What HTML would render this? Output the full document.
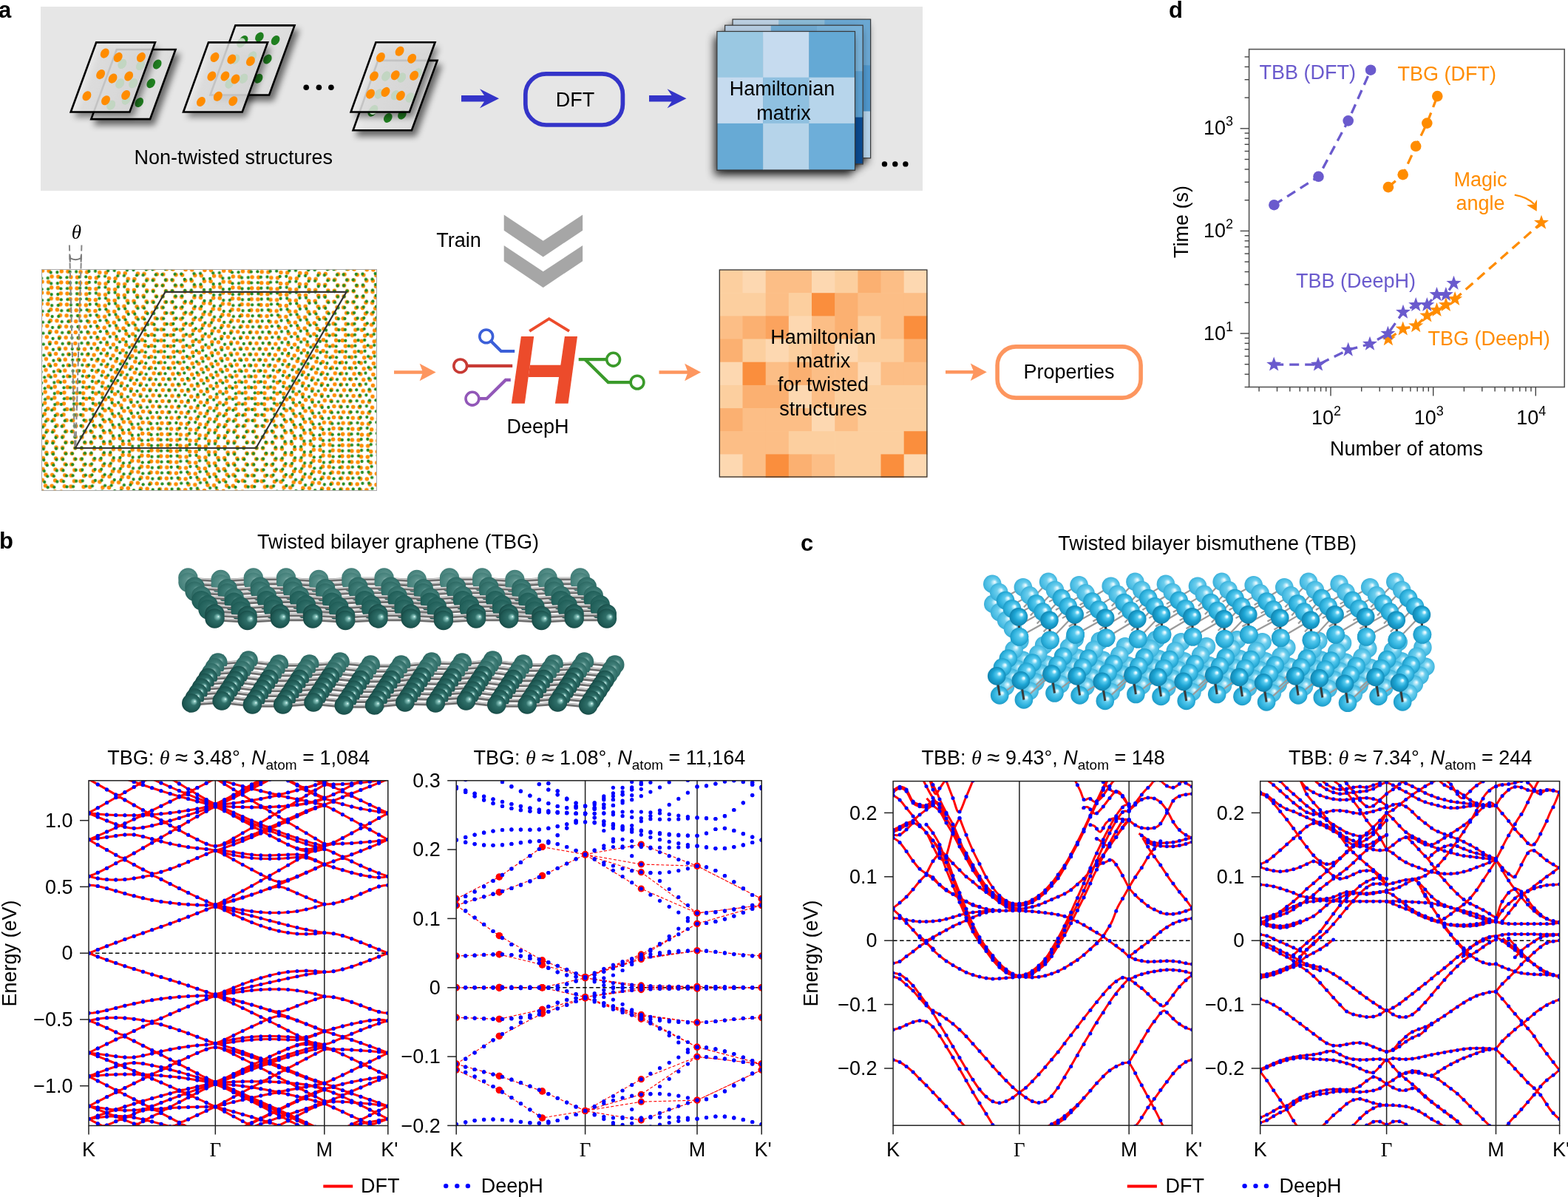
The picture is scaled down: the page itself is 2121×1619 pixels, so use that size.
<!DOCTYPE html>
<html><head><meta charset="utf-8"><title>DeepH figure</title>
<style>html,body{margin:0;padding:0;background:#fff;overflow:hidden;}svg{display:block;}
text{font-family:"Liberation Sans", Arial, Helvetica, sans-serif;}</style></head>
<body><svg width="2121" height="1619" viewBox="0 0 2121 1619">
<defs>
<linearGradient id="sheetg" x1="0" y1="0" x2="1" y2="0.25">
 <stop offset="0" stop-color="#fbfbfb"/><stop offset="0.35" stop-color="#e4e4e4"/><stop offset="1" stop-color="#dcdcdc"/>
</linearGradient>
<filter id="shad" x="-30%" y="-30%" width="170%" height="170%">
 <feGaussianBlur in="SourceAlpha" stdDeviation="4"/><feOffset dx="5" dy="7" result="b"/>
 <feComponentTransfer><feFuncA type="linear" slope="0.55"/></feComponentTransfer>
 <feMerge><feMergeNode/><feMergeNode in="SourceGraphic"/></feMerge>
</filter>
<filter id="shad2" x="-30%" y="-30%" width="170%" height="170%">
 <feGaussianBlur in="SourceAlpha" stdDeviation="6"/><feOffset dx="-4" dy="7" result="b"/>
 <feComponentTransfer><feFuncA type="linear" slope="0.75"/></feComponentTransfer>
</filter>

<radialGradient id="sphT" cx="0.5" cy="0.5" r="0.55" fx="0.7" fy="0.4">
 <stop offset="0" stop-color="#f2fffe"/><stop offset="0.1" stop-color="#8cc8c1"/><stop offset="0.35" stop-color="#2f6f69"/><stop offset="0.8" stop-color="#1d5752"/><stop offset="1" stop-color="#14403c"/>
</radialGradient>
<radialGradient id="sphTd" cx="0.5" cy="0.5" r="0.55" fx="0.66" fy="0.38">
 <stop offset="0" stop-color="#6fa8a2"/><stop offset="0.35" stop-color="#2f6d67"/><stop offset="0.85" stop-color="#21605a"/><stop offset="1" stop-color="#184b46"/>
</radialGradient>
<radialGradient id="sphTm" cx="0.5" cy="0.5" r="0.55" fx="0.66" fy="0.38">
 <stop offset="0" stop-color="#8bbab4"/><stop offset="0.35" stop-color="#417f79"/><stop offset="0.85" stop-color="#2f6c66"/><stop offset="1" stop-color="#255a55"/>
</radialGradient>
<radialGradient id="sphTb" cx="0.5" cy="0.5" r="0.55" fx="0.62" fy="0.38">
 <stop offset="0" stop-color="#a3cbc6"/><stop offset="0.35" stop-color="#5a918b"/><stop offset="0.85" stop-color="#44807a"/><stop offset="1" stop-color="#386f69"/>
</radialGradient>
<radialGradient id="sphC" cx="0.5" cy="0.5" r="0.55" fx="0.68" fy="0.36">
 <stop offset="0" stop-color="#ffffff"/><stop offset="0.1" stop-color="#d2f4ff"/><stop offset="0.24" stop-color="#58caee"/><stop offset="0.55" stop-color="#1ea6d5"/><stop offset="0.9" stop-color="#1186b2"/><stop offset="1" stop-color="#0c7197"/>
</radialGradient>
<radialGradient id="sphCm" cx="0.5" cy="0.5" r="0.55" fx="0.66" fy="0.37">
 <stop offset="0" stop-color="#ffffff"/><stop offset="0.12" stop-color="#c9f1fd"/><stop offset="0.3" stop-color="#5ccbef"/><stop offset="0.7" stop-color="#2cb0dc"/><stop offset="1" stop-color="#1a93bf"/>
</radialGradient>
<radialGradient id="sphCb" cx="0.5" cy="0.5" r="0.55" fx="0.64" fy="0.38">
 <stop offset="0" stop-color="#ffffff"/><stop offset="0.13" stop-color="#c6eefb"/><stop offset="0.35" stop-color="#6fcfee"/><stop offset="0.75" stop-color="#48bce3"/><stop offset="1" stop-color="#35a6d0"/>
</radialGradient>
<clipPath id="clp1"><rect x="120" y="1055.8" width="404.8" height="466.7"/></clipPath><clipPath id="clp2"><rect x="617.2" y="1055.8" width="413.0" height="466.6"/></clipPath><clipPath id="clp3"><rect x="1208.1" y="1056.6" width="404.4" height="465.6"/></clipPath><clipPath id="clp4"><rect x="1704.7" y="1056.6" width="404.9" height="465.6"/></clipPath><marker id="mdot" markerUnits="userSpaceOnUse" markerWidth="6" markerHeight="6" refX="3" refY="3" overflow="visible"><circle cx="3" cy="3" r="2.5" fill="#0000ff"/></marker><marker id="mdot2" markerUnits="userSpaceOnUse" markerWidth="6" markerHeight="6" refX="3" refY="3" overflow="visible"><circle cx="3" cy="3" r="2.6" fill="#0000ff"/></marker><marker id="rdot" markerUnits="userSpaceOnUse" markerWidth="10" markerHeight="10" refX="5" refY="5" overflow="visible"><circle cx="5" cy="5" r="4.6" fill="#ff0000"/></marker></defs>
<rect width="2121" height="1619" fill="#fff"/>
<rect x="55" y="9" width="1193" height="249" fill="#e6e6e6"/>
<polygon points="157.8,67 237.5,67 203,161.1 123.3,161.1" fill="url(#sheetg)" stroke="#000" stroke-width="2.6" filter="url(#shad)" stroke-linejoin="miter"/>
<ellipse cx="212.7" cy="87" rx="7" ry="5.2" transform="rotate(-55 212.7 87)" fill="#1f7f1f"/>
<ellipse cx="204.2" cy="112.7" rx="7" ry="5.2" transform="rotate(-55 204.2 112.7)" fill="#1f7f1f"/>
<ellipse cx="188.2" cy="138.6" rx="7" ry="5.2" transform="rotate(-55 188.2 138.6)" fill="#1f7f1f"/>
<ellipse cx="165.4" cy="86.5" rx="7" ry="5.2" transform="rotate(-55 165.4 86.5)" fill="#1f7f1f"/>
<ellipse cx="190" cy="88.6" rx="7" ry="5.2" transform="rotate(-55 190 88.6)" fill="#1f7f1f"/>
<ellipse cx="162.2" cy="113" rx="7" ry="5.2" transform="rotate(-55 162.2 113)" fill="#1f7f1f"/>
<ellipse cx="180.2" cy="112.7" rx="7" ry="5.2" transform="rotate(-55 180.2 112.7)" fill="#1f7f1f"/>
<ellipse cx="150.2" cy="142.2" rx="7" ry="5.2" transform="rotate(-55 150.2 142.2)" fill="#1f7f1f"/>
<ellipse cx="170.6" cy="135.1" rx="7" ry="5.2" transform="rotate(-55 170.6 135.1)" fill="#1f7f1f"/>
<polygon points="130.2,57.4 209.9,57.4 175.4,151.5 95.7,151.5" fill="url(#sheetg)" stroke="none" filter="url(#shad)" fill-opacity="0.82"/>
<ellipse cx="165.4" cy="86.5" rx="7" ry="5.2" transform="rotate(-55 165.4 86.5)" fill="#c2d6c2"/>
<ellipse cx="190" cy="88.6" rx="7" ry="5.2" transform="rotate(-55 190 88.6)" fill="#c2d6c2"/>
<ellipse cx="162.2" cy="113" rx="7" ry="5.2" transform="rotate(-55 162.2 113)" fill="#c2d6c2"/>
<ellipse cx="180.2" cy="112.7" rx="7" ry="5.2" transform="rotate(-55 180.2 112.7)" fill="#c2d6c2"/>
<ellipse cx="150.2" cy="142.2" rx="7" ry="5.2" transform="rotate(-55 150.2 142.2)" fill="#c2d6c2"/>
<ellipse cx="170.6" cy="135.1" rx="7" ry="5.2" transform="rotate(-55 170.6 135.1)" fill="#c2d6c2"/>
<ellipse cx="141.7" cy="72.1" rx="7" ry="5.4" transform="rotate(-55 141.7 72.1)" fill="#ff8c00"/>
<ellipse cx="159.7" cy="77.4" rx="7" ry="5.4" transform="rotate(-55 159.7 77.4)" fill="#ff8c00"/>
<ellipse cx="190.9" cy="77.4" rx="7" ry="5.4" transform="rotate(-55 190.9 77.4)" fill="#ff8c00"/>
<ellipse cx="136.1" cy="100.6" rx="7" ry="5.4" transform="rotate(-55 136.1 100.6)" fill="#ff8c00"/>
<ellipse cx="152.5" cy="106.1" rx="7" ry="5.4" transform="rotate(-55 152.5 106.1)" fill="#ff8c00"/>
<ellipse cx="174.1" cy="103" rx="7" ry="5.4" transform="rotate(-55 174.1 103)" fill="#ff8c00"/>
<ellipse cx="117.4" cy="129.8" rx="7" ry="5.4" transform="rotate(-55 117.4 129.8)" fill="#ff8c00"/>
<ellipse cx="143" cy="135.7" rx="7" ry="5.4" transform="rotate(-55 143 135.7)" fill="#ff8c00"/>
<ellipse cx="170.1" cy="128.5" rx="7" ry="5.4" transform="rotate(-55 170.1 128.5)" fill="#ff8c00"/>
<polygon points="130.2,57.4 209.9,57.4 175.4,151.5 95.7,151.5" fill="none" stroke="#000" stroke-width="2.6"/>
<polygon points="318.4,34.4 398.5,34.4 364.1,128.5 284.4,128.5" fill="url(#sheetg)" stroke="#000" stroke-width="2.6" filter="url(#shad)" stroke-linejoin="miter"/>
<ellipse cx="329.6" cy="54.5" rx="7" ry="5.2" transform="rotate(-55 329.6 54.5)" fill="#1f7f1f"/>
<ellipse cx="350.9" cy="50.1" rx="7" ry="5.2" transform="rotate(-55 350.9 50.1)" fill="#1f7f1f"/>
<ellipse cx="372.6" cy="54.5" rx="7" ry="5.2" transform="rotate(-55 372.6 54.5)" fill="#1f7f1f"/>
<ellipse cx="361.8" cy="80.1" rx="7" ry="5.2" transform="rotate(-55 361.8 80.1)" fill="#1f7f1f"/>
<ellipse cx="349.6" cy="106.2" rx="7" ry="5.2" transform="rotate(-55 349.6 106.2)" fill="#1f7f1f"/>
<ellipse cx="318.4" cy="80.1" rx="7" ry="5.2" transform="rotate(-55 318.4 80.1)" fill="#1f7f1f"/>
<ellipse cx="341.3" cy="76.1" rx="7" ry="5.2" transform="rotate(-55 341.3 76.1)" fill="#1f7f1f"/>
<ellipse cx="329.3" cy="106.2" rx="7" ry="5.2" transform="rotate(-55 329.3 106.2)" fill="#1f7f1f"/>
<ellipse cx="310.4" cy="113" rx="7" ry="5.2" transform="rotate(-55 310.4 113)" fill="#1f7f1f"/>
<polygon points="282,57.4 362.1,57.4 327.7,151.5 248,151.5" fill="url(#sheetg)" stroke="none" filter="url(#shad)" fill-opacity="0.82"/>
<ellipse cx="318.4" cy="80.1" rx="7" ry="5.2" transform="rotate(-55 318.4 80.1)" fill="#c2d6c2"/>
<ellipse cx="341.3" cy="76.1" rx="7" ry="5.2" transform="rotate(-55 341.3 76.1)" fill="#c2d6c2"/>
<ellipse cx="329.3" cy="106.2" rx="7" ry="5.2" transform="rotate(-55 329.3 106.2)" fill="#c2d6c2"/>
<ellipse cx="310.4" cy="113" rx="7" ry="5.2" transform="rotate(-55 310.4 113)" fill="#c2d6c2"/>
<ellipse cx="326" cy="58" rx="7" ry="5.2" transform="rotate(-55 326 58)" fill="#c2d6c2"/>
<ellipse cx="290.5" cy="77.4" rx="7" ry="5.4" transform="rotate(-55 290.5 77.4)" fill="#ff8c00"/>
<ellipse cx="313.3" cy="80.1" rx="7" ry="5.4" transform="rotate(-55 313.3 80.1)" fill="#ff8c00"/>
<ellipse cx="338.9" cy="82.8" rx="7" ry="5.4" transform="rotate(-55 338.9 82.8)" fill="#ff8c00"/>
<ellipse cx="286.3" cy="103" rx="7" ry="5.4" transform="rotate(-55 286.3 103)" fill="#ff8c00"/>
<ellipse cx="304.4" cy="103" rx="7" ry="5.4" transform="rotate(-55 304.4 103)" fill="#ff8c00"/>
<ellipse cx="318.4" cy="107" rx="7" ry="5.4" transform="rotate(-55 318.4 107)" fill="#ff8c00"/>
<ellipse cx="271.9" cy="137.5" rx="7" ry="5.4" transform="rotate(-55 271.9 137.5)" fill="#ff8c00"/>
<ellipse cx="294.8" cy="130.3" rx="7" ry="5.4" transform="rotate(-55 294.8 130.3)" fill="#ff8c00"/>
<ellipse cx="315.3" cy="136.7" rx="7" ry="5.4" transform="rotate(-55 315.3 136.7)" fill="#ff8c00"/>
<polygon points="282,57.4 362.1,57.4 327.7,151.5 248,151.5" fill="none" stroke="#000" stroke-width="2.6"/>
<polygon points="511.4,81.9 591.5,81.9 556.9,176.2 477.6,176.2" fill="url(#sheetg)" stroke="#000" stroke-width="2.6" filter="url(#shad)" stroke-linejoin="miter"/>
<ellipse cx="503.3" cy="151.2" rx="7" ry="5.2" transform="rotate(-55 503.3 151.2)" fill="#1f7f1f"/>
<ellipse cx="524.8" cy="159.4" rx="7" ry="5.2" transform="rotate(-55 524.8 159.4)" fill="#1f7f1f"/>
<ellipse cx="543.9" cy="155.1" rx="7" ry="5.2" transform="rotate(-55 543.9 155.1)" fill="#1f7f1f"/>
<ellipse cx="522.1" cy="103" rx="7" ry="5.2" transform="rotate(-55 522.1 103)" fill="#1f7f1f"/>
<ellipse cx="543.2" cy="105" rx="7" ry="5.2" transform="rotate(-55 543.2 105)" fill="#1f7f1f"/>
<ellipse cx="565" cy="99" rx="7" ry="5.2" transform="rotate(-55 565 99)" fill="#1f7f1f"/>
<ellipse cx="512.5" cy="127" rx="7" ry="5.2" transform="rotate(-55 512.5 127)" fill="#1f7f1f"/>
<ellipse cx="534.7" cy="128.7" rx="7" ry="5.2" transform="rotate(-55 534.7 128.7)" fill="#1f7f1f"/>
<ellipse cx="554.5" cy="132" rx="7" ry="5.2" transform="rotate(-55 554.5 132)" fill="#1f7f1f"/>
<polygon points="508.4,57.2 588.5,57.2 553.9,151.5 474.6,151.5" fill="url(#sheetg)" stroke="none" filter="url(#shad)" fill-opacity="0.82"/>
<ellipse cx="522.1" cy="103" rx="7" ry="5.2" transform="rotate(-55 522.1 103)" fill="#c2d6c2"/>
<ellipse cx="543.2" cy="105" rx="7" ry="5.2" transform="rotate(-55 543.2 105)" fill="#c2d6c2"/>
<ellipse cx="565" cy="99" rx="7" ry="5.2" transform="rotate(-55 565 99)" fill="#c2d6c2"/>
<ellipse cx="512.5" cy="127" rx="7" ry="5.2" transform="rotate(-55 512.5 127)" fill="#c2d6c2"/>
<ellipse cx="534.7" cy="128.7" rx="7" ry="5.2" transform="rotate(-55 534.7 128.7)" fill="#c2d6c2"/>
<ellipse cx="554.5" cy="132" rx="7" ry="5.2" transform="rotate(-55 554.5 132)" fill="#c2d6c2"/>
<ellipse cx="505.5" cy="148.5" rx="7" ry="5.2" transform="rotate(-55 505.5 148.5)" fill="#c2d6c2"/>
<ellipse cx="514.9" cy="77.6" rx="7" ry="5.4" transform="rotate(-55 514.9 77.6)" fill="#ff8c00"/>
<ellipse cx="540.6" cy="69.3" rx="7" ry="5.4" transform="rotate(-55 540.6 69.3)" fill="#ff8c00"/>
<ellipse cx="557.1" cy="79.2" rx="7" ry="5.4" transform="rotate(-55 557.1 79.2)" fill="#ff8c00"/>
<ellipse cx="505.9" cy="103" rx="7" ry="5.4" transform="rotate(-55 505.9 103)" fill="#ff8c00"/>
<ellipse cx="534.7" cy="101.7" rx="7" ry="5.4" transform="rotate(-55 534.7 101.7)" fill="#ff8c00"/>
<ellipse cx="560.1" cy="102.3" rx="7" ry="5.4" transform="rotate(-55 560.1 102.3)" fill="#ff8c00"/>
<ellipse cx="501" cy="127.1" rx="7" ry="5.4" transform="rotate(-55 501 127.1)" fill="#ff8c00"/>
<ellipse cx="521.5" cy="124.4" rx="7" ry="5.4" transform="rotate(-55 521.5 124.4)" fill="#ff8c00"/>
<ellipse cx="541.9" cy="129.4" rx="7" ry="5.4" transform="rotate(-55 541.9 129.4)" fill="#ff8c00"/>
<polygon points="508.4,57.2 588.5,57.2 553.9,151.5 474.6,151.5" fill="none" stroke="#000" stroke-width="2.6"/>
<circle cx="414.2" cy="118.2" r="3.8" fill="#000"/>
<circle cx="431.4" cy="118.2" r="3.8" fill="#000"/>
<circle cx="447.9" cy="118.2" r="3.8" fill="#000"/>
<text x="181.5" y="221.8" font-size="27">Non-twisted structures</text>
<polygon points="624,129 655,129 649,120.3 675,133.3 649,146.3 655,137.6 624,137.6" fill="#3434c8"/>
<polygon points="878,129 908.5,129 902.5,120.3 928.5,133.3 902.5,146.3 908.5,137.6 878,137.6" fill="#3434c8"/>
<rect x="710.8" y="99.8" width="131.6" height="69.2" rx="28" ry="28" fill="none" stroke="#3434c8" stroke-width="5.7"/>
<text x="778" y="143.8" font-size="27" text-anchor="middle">DFT</text>
<g filter="url(#shad2)">
<rect x="991" y="26.1" width="186.6" height="187.8" fill="#000"/>
</g>
<rect x="991" y="26.1" width="62.7" height="62.7" fill="#bcd0e2"/>
<rect x="1053.2" y="26.1" width="62.7" height="62.7" fill="#8bbad6"/>
<rect x="1115.4" y="26.1" width="62.7" height="62.7" fill="#6aa7d2"/>
<rect x="991" y="88.3" width="62.7" height="62.7" fill="#9ec6e0"/>
<rect x="1053.2" y="88.3" width="62.7" height="62.7" fill="#7ab3d9"/>
<rect x="1115.4" y="88.3" width="62.7" height="62.7" fill="#4f97cc"/>
<rect x="991" y="150.5" width="62.7" height="62.7" fill="#9ec6e0"/>
<rect x="1053.2" y="150.5" width="62.7" height="62.7" fill="#b6d3ea"/>
<rect x="1115.4" y="150.5" width="62.7" height="62.7" fill="#b6d3ea"/>
<rect x="991" y="26.1" width="186.6" height="187.8" fill="none" stroke="#3a3a3a" stroke-width="1.2"/>
<g filter="url(#shad2)">
<rect x="980.6" y="34.2" width="186.6" height="187.8" fill="#000"/>
</g>
<rect x="980.6" y="34.2" width="62.7" height="62.7" fill="#b5cbe0"/>
<rect x="1042.8" y="34.2" width="62.7" height="62.7" fill="#6ea8d0"/>
<rect x="1105" y="34.2" width="62.7" height="62.7" fill="#78b1d8"/>
<rect x="980.6" y="96.4" width="62.7" height="62.7" fill="#9ec6e0"/>
<rect x="1042.8" y="96.4" width="62.7" height="62.7" fill="#7ab3d9"/>
<rect x="1105" y="96.4" width="62.7" height="62.7" fill="#5a9fcf"/>
<rect x="980.6" y="158.6" width="62.7" height="62.7" fill="#9ec6e0"/>
<rect x="1042.8" y="158.6" width="62.7" height="62.7" fill="#b6d3ea"/>
<rect x="1105" y="158.6" width="62.7" height="62.7" fill="#0a4a90"/>
<rect x="980.6" y="34.2" width="186.6" height="187.8" fill="none" stroke="#3a3a3a" stroke-width="1.2"/>
<g filter="url(#shad2)">
<rect x="969.9" y="42.5" width="186.6" height="187.8" fill="#000"/>
</g>
<rect x="969.9" y="42.5" width="62.7" height="62.7" fill="#9ac8e2"/>
<rect x="1032.1" y="42.5" width="62.7" height="62.7" fill="#c6dbef"/>
<rect x="1094.3" y="42.5" width="62.7" height="62.7" fill="#64a9d5"/>
<rect x="969.9" y="104.7" width="62.7" height="62.7" fill="#c6dbef"/>
<rect x="1032.1" y="104.7" width="62.7" height="62.7" fill="#8fc0e0"/>
<rect x="1094.3" y="104.7" width="62.7" height="62.7" fill="#b7d5eb"/>
<rect x="969.9" y="166.9" width="62.7" height="62.7" fill="#67aad5"/>
<rect x="1032.1" y="166.9" width="62.7" height="62.7" fill="#b6d4ea"/>
<rect x="1094.3" y="166.9" width="62.7" height="62.7" fill="#6daed9"/>
<rect x="969.9" y="42.5" width="186.6" height="187.8" fill="none" stroke="#3a3a3a" stroke-width="1.2"/>
<text x="1058" y="129.4" font-size="27" text-anchor="middle">Hamiltonian</text>
<text x="1060" y="162.1" font-size="27" text-anchor="middle">matrix</text>
<circle cx="1196.5" cy="221.9" r="3.7" fill="#000"/>
<circle cx="1210.8" cy="221.9" r="3.7" fill="#000"/>
<circle cx="1224.9" cy="221.9" r="3.7" fill="#000"/>
<pattern id="pO" patternUnits="userSpaceOnUse" x="0" y="0" width="25.8000" height="14.8956" patternTransform="rotate(1.74 101.8 606.0) translate(93.200 606.000)"><circle cx="8.6" cy="0" r="2.75" fill="#ff8c00"/><circle cx="17.2" cy="0" r="2.75" fill="#ff8c00"/><circle cx="8.6" cy="14.9" r="2.75" fill="#ff8c00"/><circle cx="17.2" cy="14.9" r="2.75" fill="#ff8c00"/><circle cx="4.3" cy="7.4" r="2.75" fill="#ff8c00"/><circle cx="21.5" cy="7.4" r="2.75" fill="#ff8c00"/></pattern><pattern id="pG" patternUnits="userSpaceOnUse" x="0" y="0" width="25.8000" height="14.8956" patternTransform="rotate(-1.74 101.8 606.0) translate(93.200 606.000)"><circle cx="8.6" cy="0" r="2.15" fill="#218a21"/><circle cx="17.2" cy="0" r="2.15" fill="#218a21"/><circle cx="8.6" cy="14.9" r="2.15" fill="#218a21"/><circle cx="17.2" cy="14.9" r="2.15" fill="#218a21"/><circle cx="4.3" cy="7.4" r="2.15" fill="#218a21"/><circle cx="21.5" cy="7.4" r="2.15" fill="#218a21"/></pattern>
<rect x="56.5" y="364.5" width="453" height="299" fill="#fff" stroke="#aaa" stroke-width="1"/>
<rect x="57" y="365" width="452" height="298" fill="url(#pO)"/>
<rect x="57" y="365" width="452" height="298" fill="url(#pG)"/>
<rect x="56.5" y="364.5" width="453" height="299" fill="none" stroke="#aaa" stroke-width="1"/>
<polygon points="223.5,394.9 468.6,394.9 346.3,606 101.8,606" fill="none" stroke="#333" stroke-width="2.2"/>
<line x1="93.9" y1="331.5" x2="101.3" y2="606" stroke="#888" stroke-width="2" stroke-dasharray="8,4"/>
<line x1="110.4" y1="331.5" x2="102.3" y2="606" stroke="#888" stroke-width="2" stroke-dasharray="8,4"/>
<path d="M94.8,345.5 v9 M109.6,345.5 v9 M94.8,349 Q102.2,353.5 109.6,349" fill="none" stroke="#777" stroke-width="2"/>
<text x="103.5" y="322.5" font-size="27" text-anchor="middle" font-style="italic" style='font-family:"Liberation Serif", "Times New Roman", serif'>θ</text>
<polygon points="681.7,290.5 734.7,325.8 788.1,290.5 788.1,311.7 734.7,347.4 681.7,311.7" fill="#a6a6a6"/>
<polygon points="681.7,332 734.7,367.3 788.1,332 788.1,353.2 734.7,388.9 681.7,353.2" fill="#a6a6a6"/>
<text x="590.3" y="334.4" font-size="27">Train</text>
<polygon points="704.9,454.9 722.2,454.9 709.8,545.7 691.9,545.7" fill="#ec4b2b"/>
<polygon points="763.9,454.9 781,454.9 768.6,545.7 750.9,545.7" fill="#ec4b2b"/>
<polygon points="716.8,493.8 772.6,493.8 770.4,510 714.6,510" fill="#ec4b2b"/>
<polyline points="716.2,447.8 742.7,431.2 770,447.8" fill="none" stroke="#ec4b2b" stroke-width="3.8" stroke-linejoin="miter"/>
<circle cx="657.7" cy="454.9" r="8.9" fill="none" stroke="#3b5fd8" stroke-width="3.6"/>
<polyline points="664,461.2 677.8,475 696.2,475" fill="none" stroke="#3b5fd8" stroke-width="4.2"/>
<circle cx="622.7" cy="494.9" r="8.9" fill="none" stroke="#c83a34" stroke-width="3.6"/>
<polyline points="631.6,494.9 693.2,494.9" fill="none" stroke="#c83a34" stroke-width="4.4"/>
<circle cx="638.9" cy="539.2" r="8.9" fill="none" stroke="#9257b8" stroke-width="3.6"/>
<polyline points="647.8,539.2 658.4,539.2 684,513.9 690.8,513.9" fill="none" stroke="#9257b8" stroke-width="4.2"/>
<circle cx="829.6" cy="486.2" r="8.9" fill="none" stroke="#3a9a2a" stroke-width="3.6"/>
<circle cx="862" cy="517.1" r="8.9" fill="none" stroke="#3a9a2a" stroke-width="3.6"/>
<polyline points="782.7,486.2 820.7,486.2" fill="none" stroke="#3a9a2a" stroke-width="4.2"/>
<polyline points="791.4,486.2 822.7,517.1 853.1,517.1" fill="none" stroke="#3a9a2a" stroke-width="4.2"/>
<text x="727.5" y="586.1" font-size="27" text-anchor="middle">DeepH</text>
<rect x="973.3" y="365" width="31.8" height="31.8" fill="#fccf9f"/>
<rect x="1004.5" y="365" width="31.8" height="31.8" fill="#fdd8b1"/>
<rect x="1035.7" y="365" width="31.8" height="31.8" fill="#fcbe86"/>
<rect x="1066.8" y="365" width="31.8" height="31.8" fill="#fcbe86"/>
<rect x="1098" y="365" width="31.8" height="31.8" fill="#fdd8b1"/>
<rect x="1129.2" y="365" width="31.8" height="31.8" fill="#fccf9f"/>
<rect x="1160.4" y="365" width="31.8" height="31.8" fill="#fbb071"/>
<rect x="1191.5" y="365" width="31.8" height="31.8" fill="#fcbe86"/>
<rect x="1222.7" y="365" width="31.8" height="31.8" fill="#fdd8b1"/>
<rect x="973.3" y="396.2" width="31.8" height="31.8" fill="#fccf9f"/>
<rect x="1004.5" y="396.2" width="31.8" height="31.8" fill="#fccf9f"/>
<rect x="1035.7" y="396.2" width="31.8" height="31.8" fill="#fcbe86"/>
<rect x="1066.8" y="396.2" width="31.8" height="31.8" fill="#fccf9f"/>
<rect x="1098" y="396.2" width="31.8" height="31.8" fill="#fa8e3d"/>
<rect x="1129.2" y="396.2" width="31.8" height="31.8" fill="#fbb071"/>
<rect x="1160.4" y="396.2" width="31.8" height="31.8" fill="#fcbe86"/>
<rect x="1191.5" y="396.2" width="31.8" height="31.8" fill="#fcbe86"/>
<rect x="1222.7" y="396.2" width="31.8" height="31.8" fill="#fcbe86"/>
<rect x="973.3" y="427.4" width="31.8" height="31.8" fill="#fcbe86"/>
<rect x="1004.5" y="427.4" width="31.8" height="31.8" fill="#fbb071"/>
<rect x="1035.7" y="427.4" width="31.8" height="31.8" fill="#fba35e"/>
<rect x="1066.8" y="427.4" width="31.8" height="31.8" fill="#fdd8b1"/>
<rect x="1098" y="427.4" width="31.8" height="31.8" fill="#fcbe86"/>
<rect x="1129.2" y="427.4" width="31.8" height="31.8" fill="#fbb071"/>
<rect x="1160.4" y="427.4" width="31.8" height="31.8" fill="#fccf9f"/>
<rect x="1191.5" y="427.4" width="31.8" height="31.8" fill="#fcbe86"/>
<rect x="1222.7" y="427.4" width="31.8" height="31.8" fill="#fa8e3d"/>
<rect x="973.3" y="458.5" width="31.8" height="31.8" fill="#fbb071"/>
<rect x="1004.5" y="458.5" width="31.8" height="31.8" fill="#fccf9f"/>
<rect x="1035.7" y="458.5" width="31.8" height="31.8" fill="#fdd8b1"/>
<rect x="1066.8" y="458.5" width="31.8" height="31.8" fill="#fccf9f"/>
<rect x="1098" y="458.5" width="31.8" height="31.8" fill="#fcbe86"/>
<rect x="1129.2" y="458.5" width="31.8" height="31.8" fill="#fdd8b1"/>
<rect x="1160.4" y="458.5" width="31.8" height="31.8" fill="#fccf9f"/>
<rect x="1191.5" y="458.5" width="31.8" height="31.8" fill="#fccf9f"/>
<rect x="1222.7" y="458.5" width="31.8" height="31.8" fill="#fbb071"/>
<rect x="973.3" y="489.7" width="31.8" height="31.8" fill="#fdd8b1"/>
<rect x="1004.5" y="489.7" width="31.8" height="31.8" fill="#fa8e3d"/>
<rect x="1035.7" y="489.7" width="31.8" height="31.8" fill="#fcbe86"/>
<rect x="1066.8" y="489.7" width="31.8" height="31.8" fill="#fbb071"/>
<rect x="1098" y="489.7" width="31.8" height="31.8" fill="#fcbe86"/>
<rect x="1129.2" y="489.7" width="31.8" height="31.8" fill="#fcbe86"/>
<rect x="1160.4" y="489.7" width="31.8" height="31.8" fill="#fdd8b1"/>
<rect x="1191.5" y="489.7" width="31.8" height="31.8" fill="#fcbe86"/>
<rect x="1222.7" y="489.7" width="31.8" height="31.8" fill="#fcbe86"/>
<rect x="973.3" y="520.9" width="31.8" height="31.8" fill="#fccf9f"/>
<rect x="1004.5" y="520.9" width="31.8" height="31.8" fill="#fbb071"/>
<rect x="1035.7" y="520.9" width="31.8" height="31.8" fill="#fbb071"/>
<rect x="1066.8" y="520.9" width="31.8" height="31.8" fill="#fdd8b1"/>
<rect x="1098" y="520.9" width="31.8" height="31.8" fill="#fcbe86"/>
<rect x="1129.2" y="520.9" width="31.8" height="31.8" fill="#fccf9f"/>
<rect x="1160.4" y="520.9" width="31.8" height="31.8" fill="#fccf9f"/>
<rect x="1191.5" y="520.9" width="31.8" height="31.8" fill="#fccf9f"/>
<rect x="1222.7" y="520.9" width="31.8" height="31.8" fill="#fccf9f"/>
<rect x="973.3" y="552.1" width="31.8" height="31.8" fill="#fbb071"/>
<rect x="1004.5" y="552.1" width="31.8" height="31.8" fill="#fcbe86"/>
<rect x="1035.7" y="552.1" width="31.8" height="31.8" fill="#fcbe86"/>
<rect x="1066.8" y="552.1" width="31.8" height="31.8" fill="#fcbe86"/>
<rect x="1098" y="552.1" width="31.8" height="31.8" fill="#fdd8b1"/>
<rect x="1129.2" y="552.1" width="31.8" height="31.8" fill="#fcbe86"/>
<rect x="1160.4" y="552.1" width="31.8" height="31.8" fill="#fccf9f"/>
<rect x="1191.5" y="552.1" width="31.8" height="31.8" fill="#fccf9f"/>
<rect x="1222.7" y="552.1" width="31.8" height="31.8" fill="#fccf9f"/>
<rect x="973.3" y="583.2" width="31.8" height="31.8" fill="#fcbe86"/>
<rect x="1004.5" y="583.2" width="31.8" height="31.8" fill="#fcbe86"/>
<rect x="1035.7" y="583.2" width="31.8" height="31.8" fill="#fcbe86"/>
<rect x="1066.8" y="583.2" width="31.8" height="31.8" fill="#fccf9f"/>
<rect x="1098" y="583.2" width="31.8" height="31.8" fill="#fccf9f"/>
<rect x="1129.2" y="583.2" width="31.8" height="31.8" fill="#fccf9f"/>
<rect x="1160.4" y="583.2" width="31.8" height="31.8" fill="#fccf9f"/>
<rect x="1191.5" y="583.2" width="31.8" height="31.8" fill="#fccf9f"/>
<rect x="1222.7" y="583.2" width="31.8" height="31.8" fill="#fa8e3d"/>
<rect x="973.3" y="614.4" width="31.8" height="31.8" fill="#fdd8b1"/>
<rect x="1004.5" y="614.4" width="31.8" height="31.8" fill="#fcbe86"/>
<rect x="1035.7" y="614.4" width="31.8" height="31.8" fill="#fa8e3d"/>
<rect x="1066.8" y="614.4" width="31.8" height="31.8" fill="#fbb071"/>
<rect x="1098" y="614.4" width="31.8" height="31.8" fill="#fcbe86"/>
<rect x="1129.2" y="614.4" width="31.8" height="31.8" fill="#fccf9f"/>
<rect x="1160.4" y="614.4" width="31.8" height="31.8" fill="#fccf9f"/>
<rect x="1191.5" y="614.4" width="31.8" height="31.8" fill="#fa8e3d"/>
<rect x="1222.7" y="614.4" width="31.8" height="31.8" fill="#fdd8b1"/>
<rect x="973.3" y="365.0" width="280.6" height="280" fill="none" stroke="#333" stroke-width="1.3"/>
<text x="1113.5" y="464.8" font-size="27" text-anchor="middle">Hamiltonian</text>
<text x="1113.5" y="497" font-size="27" text-anchor="middle">matrix</text>
<text x="1113.5" y="529.3" font-size="27" text-anchor="middle">for twisted</text>
<text x="1113.5" y="561.5" font-size="27" text-anchor="middle">structures</text>
<polygon points="533,501.2 571.2,501.2 567.6,491.8 589.6,503.5 567.6,515.2 571.2,505.8 533,505.8" fill="#fd965f"/>
<polygon points="891.5,501.2 929.7,501.2 926.1,491.8 948.1,503.5 926.1,515.2 929.7,505.8 891.5,505.8" fill="#fd965f"/>
<polygon points="1279,501 1316.4,501 1312.8,491.6 1334.8,503.3 1312.8,515 1316.4,505.6 1279,505.6" fill="#fd965f"/>
<rect x="1349.1" y="468.9" width="194" height="69.2" rx="25" ry="25" fill="none" stroke="#fd965f" stroke-width="5.6"/>
<text x="1446" y="512" font-size="27" text-anchor="middle">Properties</text>
<text x="1581" y="23.8" font-size="31" font-weight="bold">d</text>
<rect x="1689.6" y="66.6" width="426.6" height="456.9" fill="none" stroke="#555" stroke-width="1.6"/>
<line x1="1683.6" y1="523.5" x2="1689.6" y2="523.5" stroke="#444" stroke-width="1.4"/>
<line x1="1683.6" y1="506.2" x2="1689.6" y2="506.2" stroke="#444" stroke-width="1.4"/>
<line x1="1683.6" y1="492.7" x2="1689.6" y2="492.7" stroke="#444" stroke-width="1.4"/>
<line x1="1683.6" y1="481.7" x2="1689.6" y2="481.7" stroke="#444" stroke-width="1.4"/>
<line x1="1683.6" y1="472.5" x2="1689.6" y2="472.5" stroke="#444" stroke-width="1.4"/>
<line x1="1683.6" y1="464.4" x2="1689.6" y2="464.4" stroke="#444" stroke-width="1.4"/>
<line x1="1683.6" y1="457.3" x2="1689.6" y2="457.3" stroke="#444" stroke-width="1.4"/>
<line x1="1677.6" y1="451" x2="1689.6" y2="451" stroke="#444" stroke-width="1.4"/>
<line x1="1683.6" y1="409.3" x2="1689.6" y2="409.3" stroke="#444" stroke-width="1.4"/>
<line x1="1683.6" y1="384.9" x2="1689.6" y2="384.9" stroke="#444" stroke-width="1.4"/>
<line x1="1683.6" y1="367.6" x2="1689.6" y2="367.6" stroke="#444" stroke-width="1.4"/>
<line x1="1683.6" y1="354.1" x2="1689.6" y2="354.1" stroke="#444" stroke-width="1.4"/>
<line x1="1683.6" y1="343.1" x2="1689.6" y2="343.1" stroke="#444" stroke-width="1.4"/>
<line x1="1683.6" y1="333.9" x2="1689.6" y2="333.9" stroke="#444" stroke-width="1.4"/>
<line x1="1683.6" y1="325.8" x2="1689.6" y2="325.8" stroke="#444" stroke-width="1.4"/>
<line x1="1683.6" y1="318.7" x2="1689.6" y2="318.7" stroke="#444" stroke-width="1.4"/>
<line x1="1677.6" y1="312.4" x2="1689.6" y2="312.4" stroke="#444" stroke-width="1.4"/>
<line x1="1683.6" y1="270.7" x2="1689.6" y2="270.7" stroke="#444" stroke-width="1.4"/>
<line x1="1683.6" y1="246.3" x2="1689.6" y2="246.3" stroke="#444" stroke-width="1.4"/>
<line x1="1683.6" y1="229" x2="1689.6" y2="229" stroke="#444" stroke-width="1.4"/>
<line x1="1683.6" y1="215.5" x2="1689.6" y2="215.5" stroke="#444" stroke-width="1.4"/>
<line x1="1683.6" y1="204.5" x2="1689.6" y2="204.5" stroke="#444" stroke-width="1.4"/>
<line x1="1683.6" y1="195.3" x2="1689.6" y2="195.3" stroke="#444" stroke-width="1.4"/>
<line x1="1683.6" y1="187.2" x2="1689.6" y2="187.2" stroke="#444" stroke-width="1.4"/>
<line x1="1683.6" y1="180.1" x2="1689.6" y2="180.1" stroke="#444" stroke-width="1.4"/>
<line x1="1677.6" y1="173.8" x2="1689.6" y2="173.8" stroke="#444" stroke-width="1.4"/>
<line x1="1683.6" y1="132.1" x2="1689.6" y2="132.1" stroke="#444" stroke-width="1.4"/>
<line x1="1683.6" y1="107.7" x2="1689.6" y2="107.7" stroke="#444" stroke-width="1.4"/>
<line x1="1683.6" y1="90.4" x2="1689.6" y2="90.4" stroke="#444" stroke-width="1.4"/>
<line x1="1683.6" y1="76.9" x2="1689.6" y2="76.9" stroke="#444" stroke-width="1.4"/>
<line x1="1703.1" y1="523.5" x2="1703.1" y2="529.5" stroke="#444" stroke-width="1.4"/>
<line x1="1727.5" y1="523.5" x2="1727.5" y2="529.5" stroke="#444" stroke-width="1.4"/>
<line x1="1744.8" y1="523.5" x2="1744.8" y2="529.5" stroke="#444" stroke-width="1.4"/>
<line x1="1758.3" y1="523.5" x2="1758.3" y2="529.5" stroke="#444" stroke-width="1.4"/>
<line x1="1769.2" y1="523.5" x2="1769.2" y2="529.5" stroke="#444" stroke-width="1.4"/>
<line x1="1778.5" y1="523.5" x2="1778.5" y2="529.5" stroke="#444" stroke-width="1.4"/>
<line x1="1786.6" y1="523.5" x2="1786.6" y2="529.5" stroke="#444" stroke-width="1.4"/>
<line x1="1793.7" y1="523.5" x2="1793.7" y2="529.5" stroke="#444" stroke-width="1.4"/>
<line x1="1800" y1="523.5" x2="1800" y2="535.5" stroke="#444" stroke-width="1.4"/>
<line x1="1841.7" y1="523.5" x2="1841.7" y2="529.5" stroke="#444" stroke-width="1.4"/>
<line x1="1866.2" y1="523.5" x2="1866.2" y2="529.5" stroke="#444" stroke-width="1.4"/>
<line x1="1883.5" y1="523.5" x2="1883.5" y2="529.5" stroke="#444" stroke-width="1.4"/>
<line x1="1896.9" y1="523.5" x2="1896.9" y2="529.5" stroke="#444" stroke-width="1.4"/>
<line x1="1907.9" y1="523.5" x2="1907.9" y2="529.5" stroke="#444" stroke-width="1.4"/>
<line x1="1917.2" y1="523.5" x2="1917.2" y2="529.5" stroke="#444" stroke-width="1.4"/>
<line x1="1925.2" y1="523.5" x2="1925.2" y2="529.5" stroke="#444" stroke-width="1.4"/>
<line x1="1932.3" y1="523.5" x2="1932.3" y2="529.5" stroke="#444" stroke-width="1.4"/>
<line x1="1938.7" y1="523.5" x2="1938.7" y2="535.5" stroke="#444" stroke-width="1.4"/>
<line x1="1980.4" y1="523.5" x2="1980.4" y2="529.5" stroke="#444" stroke-width="1.4"/>
<line x1="2004.8" y1="523.5" x2="2004.8" y2="529.5" stroke="#444" stroke-width="1.4"/>
<line x1="2022.1" y1="523.5" x2="2022.1" y2="529.5" stroke="#444" stroke-width="1.4"/>
<line x1="2035.6" y1="523.5" x2="2035.6" y2="529.5" stroke="#444" stroke-width="1.4"/>
<line x1="2046.5" y1="523.5" x2="2046.5" y2="529.5" stroke="#444" stroke-width="1.4"/>
<line x1="2055.8" y1="523.5" x2="2055.8" y2="529.5" stroke="#444" stroke-width="1.4"/>
<line x1="2063.9" y1="523.5" x2="2063.9" y2="529.5" stroke="#444" stroke-width="1.4"/>
<line x1="2071" y1="523.5" x2="2071" y2="529.5" stroke="#444" stroke-width="1.4"/>
<line x1="2077.3" y1="523.5" x2="2077.3" y2="535.5" stroke="#444" stroke-width="1.4"/>
<text x="1668" y="182.3" font-size="27" text-anchor="end">10<tspan dy="-12" font-size="18">3</tspan></text>
<text x="1668" y="320.9" font-size="27" text-anchor="end">10<tspan dy="-12" font-size="18">2</tspan></text>
<text x="1668" y="459.5" font-size="27" text-anchor="end">10<tspan dy="-12" font-size="18">1</tspan></text>
<text x="1794" y="573.7" font-size="27" text-anchor="middle">10<tspan dy="-12" font-size="18">2</tspan></text>
<text x="1932.7" y="573.7" font-size="27" text-anchor="middle">10<tspan dy="-12" font-size="18">3</tspan></text>
<text x="2071.3" y="573.7" font-size="27" text-anchor="middle">10<tspan dy="-12" font-size="18">4</tspan></text>
<text x="1902.5" y="616" font-size="27" text-anchor="middle">Number of atoms</text>
<text x="0" y="0" font-size="27" text-anchor="middle" transform="translate(1606.5 300) rotate(-90)">Time (s)</text>
<polyline points="1877.9,458.7 1897.7,444.9 1915.2,440.7 1930.3,427 1943.5,419.5 1955.9,412.4 1968.1,404.5 2085,301.3" fill="none" stroke="#ff8c00" stroke-width="3.3" stroke-dasharray="13,8" stroke-linejoin="round"/>
<polygon points="1877.9,448.2 1880.4,455.2 1887.9,455.5 1882,460 1884.1,467.2 1877.9,463 1871.7,467.2 1873.8,460 1867.9,455.5 1875.4,455.2" fill="#ff8c00"/>
<polygon points="1897.7,434.4 1900.2,441.4 1907.7,441.7 1901.8,446.2 1903.9,453.4 1897.7,449.2 1891.5,453.4 1893.6,446.2 1887.7,441.7 1895.2,441.4" fill="#ff8c00"/>
<polygon points="1915.2,430.2 1917.7,437.2 1925.2,437.5 1919.3,442 1921.4,449.2 1915.2,445 1909,449.2 1911.1,442 1905.2,437.5 1912.7,437.2" fill="#ff8c00"/>
<polygon points="1930.3,416.5 1932.8,423.5 1940.3,423.8 1934.4,428.3 1936.5,435.5 1930.3,431.3 1924.1,435.5 1926.2,428.3 1920.3,423.8 1927.8,423.5" fill="#ff8c00"/>
<polygon points="1943.5,409 1946,416 1953.5,416.3 1947.6,420.8 1949.7,428 1943.5,423.8 1937.3,428 1939.4,420.8 1933.5,416.3 1941,416" fill="#ff8c00"/>
<polygon points="1955.9,401.9 1958.4,408.9 1965.9,409.2 1960,413.7 1962.1,420.9 1955.9,416.7 1949.7,420.9 1951.8,413.7 1945.9,409.2 1953.4,408.9" fill="#ff8c00"/>
<polygon points="1968.1,394 1970.6,401 1978.1,401.3 1972.2,405.8 1974.3,413 1968.1,408.8 1961.9,413 1964,405.8 1958.1,401.3 1965.6,401" fill="#ff8c00"/>
<polygon points="2085,290.8 2087.5,297.8 2095,298.1 2089.1,302.6 2091.2,309.8 2085,305.6 2078.8,309.8 2080.9,302.6 2075,298.1 2082.5,297.8" fill="#ff8c00"/>
<polyline points="1723.2,493.1 1783,493.1 1823.7,473.2 1853,465.3 1877.4,451.3 1898,422.2 1915.2,412.4 1930.3,412.4 1943.5,398.4 1955.9,398.4 1966.5,383.3" fill="none" stroke="#6a5acd" stroke-width="3.3" stroke-dasharray="13,8" stroke-linejoin="round"/>
<polygon points="1723.2,482.6 1725.7,489.6 1733.2,489.9 1727.3,494.4 1729.4,501.6 1723.2,497.4 1717,501.6 1719.1,494.4 1713.2,489.9 1720.7,489.6" fill="#6a5acd"/>
<polygon points="1783,482.6 1785.5,489.6 1793,489.9 1787.1,494.4 1789.2,501.6 1783,497.4 1776.8,501.6 1778.9,494.4 1773,489.9 1780.5,489.6" fill="#6a5acd"/>
<polygon points="1823.7,462.7 1826.2,469.7 1833.7,470 1827.8,474.5 1829.9,481.7 1823.7,477.5 1817.5,481.7 1819.6,474.5 1813.7,470 1821.2,469.7" fill="#6a5acd"/>
<polygon points="1853,454.8 1855.5,461.8 1863,462.1 1857.1,466.6 1859.2,473.8 1853,469.6 1846.8,473.8 1848.9,466.6 1843,462.1 1850.5,461.8" fill="#6a5acd"/>
<polygon points="1877.4,440.8 1879.9,447.8 1887.4,448.1 1881.5,452.6 1883.6,459.8 1877.4,455.6 1871.2,459.8 1873.3,452.6 1867.4,448.1 1874.9,447.8" fill="#6a5acd"/>
<polygon points="1898,411.7 1900.5,418.7 1908,419 1902.1,423.5 1904.2,430.7 1898,426.5 1891.8,430.7 1893.9,423.5 1888,419 1895.5,418.7" fill="#6a5acd"/>
<polygon points="1915.2,401.9 1917.7,408.9 1925.2,409.2 1919.3,413.7 1921.4,420.9 1915.2,416.7 1909,420.9 1911.1,413.7 1905.2,409.2 1912.7,408.9" fill="#6a5acd"/>
<polygon points="1930.3,401.9 1932.8,408.9 1940.3,409.2 1934.4,413.7 1936.5,420.9 1930.3,416.7 1924.1,420.9 1926.2,413.7 1920.3,409.2 1927.8,408.9" fill="#6a5acd"/>
<polygon points="1943.5,387.9 1946,394.9 1953.5,395.2 1947.6,399.7 1949.7,406.9 1943.5,402.7 1937.3,406.9 1939.4,399.7 1933.5,395.2 1941,394.9" fill="#6a5acd"/>
<polygon points="1955.9,387.9 1958.4,394.9 1965.9,395.2 1960,399.7 1962.1,406.9 1955.9,402.7 1949.7,406.9 1951.8,399.7 1945.9,395.2 1953.4,394.9" fill="#6a5acd"/>
<polygon points="1966.5,372.8 1969,379.8 1976.5,380.1 1970.6,384.6 1972.7,391.8 1966.5,387.6 1960.3,391.8 1962.4,384.6 1956.5,380.1 1964,379.8" fill="#6a5acd"/>
<polyline points="1723.4,277.2 1783.5,238.8 1823.7,163.4 1854.1,94.7" fill="none" stroke="#6a5acd" stroke-width="3.3" stroke-dasharray="13,8" stroke-linejoin="round"/>
<circle cx="1723.4" cy="277.2" r="7.3" fill="#6a5acd"/>
<circle cx="1783.5" cy="238.8" r="7.3" fill="#6a5acd"/>
<circle cx="1823.7" cy="163.4" r="7.3" fill="#6a5acd"/>
<circle cx="1854.1" cy="94.7" r="7.3" fill="#6a5acd"/>
<polyline points="1877.9,253.1 1897.7,236.2 1915.2,197.8 1930.3,166.6 1944.3,130.1" fill="none" stroke="#ff8c00" stroke-width="3.3" stroke-dasharray="13,8" stroke-linejoin="round"/>
<circle cx="1877.9" cy="253.1" r="7.3" fill="#ff8c00"/>
<circle cx="1897.7" cy="236.2" r="7.3" fill="#ff8c00"/>
<circle cx="1915.2" cy="197.8" r="7.3" fill="#ff8c00"/>
<circle cx="1930.3" cy="166.6" r="7.3" fill="#ff8c00"/>
<circle cx="1944.3" cy="130.1" r="7.3" fill="#ff8c00"/>
<text x="1703.6" y="107.1" font-size="27" fill="#6a5acd">TBB (DFT)</text>
<text x="1890.6" y="109.2" font-size="27" fill="#ff8c00">TBG (DFT)</text>
<text x="1753" y="389.4" font-size="27" fill="#6a5acd">TBB (DeepH)</text>
<text x="1931.6" y="466.6" font-size="27" fill="#ff8c00">TBG (DeepH)</text>
<text x="2002.5" y="252.3" font-size="27" text-anchor="middle" fill="#ff8c00">Magic</text>
<text x="2002.5" y="284.2" font-size="27" text-anchor="middle" fill="#ff8c00">angle</text>
<path d="M2048.8,263.6 Q2066,266.5 2075,276" fill="none" stroke="#ff8c00" stroke-width="2.4"/>
<polygon points="2065,277.2 2074.8,276.5 2079.1,269.9 2078.7,285.7" fill="#ff8c00"/>
<text x="-2" y="24.3" font-size="31" font-weight="bold">a</text>
<text x="-1" y="742.4" font-size="31" font-weight="bold">b</text>
<text x="538.5" y="742.4" font-size="27" text-anchor="middle">Twisted bilayer graphene (TBG)</text>
<text x="1083" y="744.6" font-size="31" font-weight="bold">c</text>
<text x="1633.2" y="743.6" font-size="27" text-anchor="middle">Twisted bilayer bismuthene (TBB)</text>
<line x1="254.4" y1="783" x2="298.6" y2="785.5" stroke="#6e6e6e" stroke-width="4.6"/>
<line x1="254.4" y1="781.7" x2="298.6" y2="784.2" stroke="#d2d2d2" stroke-width="1.6"/>
<line x1="298.6" y1="785.5" x2="342.8" y2="783" stroke="#6e6e6e" stroke-width="4.6"/>
<line x1="298.6" y1="784.2" x2="342.8" y2="781.7" stroke="#d2d2d2" stroke-width="1.6"/>
<line x1="342.8" y1="783" x2="387" y2="783" stroke="#6e6e6e" stroke-width="4.6"/>
<line x1="342.8" y1="781.7" x2="387" y2="781.7" stroke="#d2d2d2" stroke-width="1.6"/>
<line x1="387" y1="783" x2="431.2" y2="785.5" stroke="#6e6e6e" stroke-width="4.6"/>
<line x1="387" y1="781.7" x2="431.2" y2="784.2" stroke="#d2d2d2" stroke-width="1.6"/>
<line x1="431.2" y1="785.5" x2="475.4" y2="783" stroke="#6e6e6e" stroke-width="4.6"/>
<line x1="431.2" y1="784.2" x2="475.4" y2="781.7" stroke="#d2d2d2" stroke-width="1.6"/>
<line x1="475.4" y1="783" x2="519.6" y2="783" stroke="#6e6e6e" stroke-width="4.6"/>
<line x1="475.4" y1="781.7" x2="519.6" y2="781.7" stroke="#d2d2d2" stroke-width="1.6"/>
<line x1="519.6" y1="783" x2="563.8" y2="785.5" stroke="#6e6e6e" stroke-width="4.6"/>
<line x1="519.6" y1="781.7" x2="563.8" y2="784.2" stroke="#d2d2d2" stroke-width="1.6"/>
<line x1="563.8" y1="785.5" x2="608" y2="783" stroke="#6e6e6e" stroke-width="4.6"/>
<line x1="563.8" y1="784.2" x2="608" y2="781.7" stroke="#d2d2d2" stroke-width="1.6"/>
<line x1="608" y1="783" x2="652.2" y2="783" stroke="#6e6e6e" stroke-width="4.6"/>
<line x1="608" y1="781.7" x2="652.2" y2="781.7" stroke="#d2d2d2" stroke-width="1.6"/>
<line x1="652.2" y1="783" x2="696.4" y2="785.5" stroke="#6e6e6e" stroke-width="4.6"/>
<line x1="652.2" y1="781.7" x2="696.4" y2="784.2" stroke="#d2d2d2" stroke-width="1.6"/>
<line x1="696.4" y1="785.5" x2="740.6" y2="783" stroke="#6e6e6e" stroke-width="4.6"/>
<line x1="696.4" y1="784.2" x2="740.6" y2="781.7" stroke="#d2d2d2" stroke-width="1.6"/>
<line x1="740.6" y1="783" x2="784.8" y2="783" stroke="#6e6e6e" stroke-width="4.6"/>
<line x1="740.6" y1="781.7" x2="784.8" y2="781.7" stroke="#d2d2d2" stroke-width="1.6"/>
<circle cx="254.4" cy="781.5" r="13.2" fill="url(#sphTb)"/>
<circle cx="298.6" cy="784" r="13.2" fill="url(#sphTb)"/>
<circle cx="342.8" cy="781.5" r="13.2" fill="url(#sphTb)"/>
<circle cx="387" cy="781.5" r="13.2" fill="url(#sphTb)"/>
<circle cx="431.2" cy="784" r="13.2" fill="url(#sphTb)"/>
<circle cx="475.4" cy="781.5" r="13.2" fill="url(#sphTb)"/>
<circle cx="519.6" cy="781.5" r="13.2" fill="url(#sphTb)"/>
<circle cx="563.8" cy="784" r="13.2" fill="url(#sphTb)"/>
<circle cx="608" cy="781.5" r="13.2" fill="url(#sphTb)"/>
<circle cx="652.2" cy="781.5" r="13.2" fill="url(#sphTb)"/>
<circle cx="696.4" cy="784" r="13.2" fill="url(#sphTb)"/>
<circle cx="740.6" cy="781.5" r="13.2" fill="url(#sphTb)"/>
<circle cx="784.8" cy="781.5" r="13.2" fill="url(#sphTb)"/>
<line x1="254.5" y1="789.1" x2="298.7" y2="791.6" stroke="#6e6e6e" stroke-width="4.6"/>
<line x1="254.5" y1="787.8" x2="298.7" y2="790.3" stroke="#d2d2d2" stroke-width="1.6"/>
<line x1="298.7" y1="791.6" x2="342.9" y2="789.1" stroke="#6e6e6e" stroke-width="4.6"/>
<line x1="298.7" y1="790.3" x2="342.9" y2="787.8" stroke="#d2d2d2" stroke-width="1.6"/>
<line x1="342.9" y1="789.1" x2="387.1" y2="789.1" stroke="#6e6e6e" stroke-width="4.6"/>
<line x1="342.9" y1="787.8" x2="387.1" y2="787.8" stroke="#d2d2d2" stroke-width="1.6"/>
<line x1="387.1" y1="789.1" x2="431.3" y2="791.6" stroke="#6e6e6e" stroke-width="4.6"/>
<line x1="387.1" y1="787.8" x2="431.3" y2="790.3" stroke="#d2d2d2" stroke-width="1.6"/>
<line x1="431.3" y1="791.6" x2="475.5" y2="789.1" stroke="#6e6e6e" stroke-width="4.6"/>
<line x1="431.3" y1="790.3" x2="475.5" y2="787.8" stroke="#d2d2d2" stroke-width="1.6"/>
<line x1="475.5" y1="789.1" x2="519.7" y2="789.1" stroke="#6e6e6e" stroke-width="4.6"/>
<line x1="475.5" y1="787.8" x2="519.7" y2="787.8" stroke="#d2d2d2" stroke-width="1.6"/>
<line x1="519.7" y1="789.1" x2="563.9" y2="791.6" stroke="#6e6e6e" stroke-width="4.6"/>
<line x1="519.7" y1="787.8" x2="563.9" y2="790.3" stroke="#d2d2d2" stroke-width="1.6"/>
<line x1="563.9" y1="791.6" x2="608.1" y2="789.1" stroke="#6e6e6e" stroke-width="4.6"/>
<line x1="563.9" y1="790.3" x2="608.1" y2="787.8" stroke="#d2d2d2" stroke-width="1.6"/>
<line x1="608.1" y1="789.1" x2="652.3" y2="789.1" stroke="#6e6e6e" stroke-width="4.6"/>
<line x1="608.1" y1="787.8" x2="652.3" y2="787.8" stroke="#d2d2d2" stroke-width="1.6"/>
<line x1="652.3" y1="789.1" x2="696.5" y2="791.6" stroke="#6e6e6e" stroke-width="4.6"/>
<line x1="652.3" y1="787.8" x2="696.5" y2="790.3" stroke="#d2d2d2" stroke-width="1.6"/>
<line x1="696.5" y1="791.6" x2="740.7" y2="789.1" stroke="#6e6e6e" stroke-width="4.6"/>
<line x1="696.5" y1="790.3" x2="740.7" y2="787.8" stroke="#d2d2d2" stroke-width="1.6"/>
<line x1="740.7" y1="789.1" x2="784.9" y2="789.1" stroke="#6e6e6e" stroke-width="4.6"/>
<line x1="740.7" y1="787.8" x2="784.9" y2="787.8" stroke="#d2d2d2" stroke-width="1.6"/>
<circle cx="254.5" cy="787.6" r="13.2" fill="url(#sphTb)"/>
<circle cx="298.7" cy="790.1" r="13.2" fill="url(#sphTb)"/>
<circle cx="342.9" cy="787.6" r="13.2" fill="url(#sphTb)"/>
<circle cx="387.1" cy="787.6" r="13.2" fill="url(#sphTb)"/>
<circle cx="431.3" cy="790.1" r="13.2" fill="url(#sphTb)"/>
<circle cx="475.5" cy="787.6" r="13.2" fill="url(#sphTb)"/>
<circle cx="519.7" cy="787.6" r="13.2" fill="url(#sphTb)"/>
<circle cx="563.9" cy="790.1" r="13.2" fill="url(#sphTb)"/>
<circle cx="608.1" cy="787.6" r="13.2" fill="url(#sphTb)"/>
<circle cx="652.3" cy="787.6" r="13.2" fill="url(#sphTb)"/>
<circle cx="696.5" cy="790.1" r="13.2" fill="url(#sphTb)"/>
<circle cx="740.7" cy="787.6" r="13.2" fill="url(#sphTb)"/>
<circle cx="784.9" cy="787.6" r="13.2" fill="url(#sphTb)"/>
<line x1="263.4" y1="795.2" x2="307.6" y2="797.7" stroke="#6e6e6e" stroke-width="4.6"/>
<line x1="263.4" y1="793.9" x2="307.6" y2="796.4" stroke="#d2d2d2" stroke-width="1.6"/>
<line x1="307.6" y1="797.7" x2="351.8" y2="795.2" stroke="#6e6e6e" stroke-width="4.6"/>
<line x1="307.6" y1="796.4" x2="351.8" y2="793.9" stroke="#d2d2d2" stroke-width="1.6"/>
<line x1="351.8" y1="795.2" x2="396" y2="795.2" stroke="#6e6e6e" stroke-width="4.6"/>
<line x1="351.8" y1="793.9" x2="396" y2="793.9" stroke="#d2d2d2" stroke-width="1.6"/>
<line x1="396" y1="795.2" x2="440.2" y2="797.7" stroke="#6e6e6e" stroke-width="4.6"/>
<line x1="396" y1="793.9" x2="440.2" y2="796.4" stroke="#d2d2d2" stroke-width="1.6"/>
<line x1="440.2" y1="797.7" x2="484.4" y2="795.2" stroke="#6e6e6e" stroke-width="4.6"/>
<line x1="440.2" y1="796.4" x2="484.4" y2="793.9" stroke="#d2d2d2" stroke-width="1.6"/>
<line x1="484.4" y1="795.2" x2="528.6" y2="795.2" stroke="#6e6e6e" stroke-width="4.6"/>
<line x1="484.4" y1="793.9" x2="528.6" y2="793.9" stroke="#d2d2d2" stroke-width="1.6"/>
<line x1="528.6" y1="795.2" x2="572.8" y2="797.7" stroke="#6e6e6e" stroke-width="4.6"/>
<line x1="528.6" y1="793.9" x2="572.8" y2="796.4" stroke="#d2d2d2" stroke-width="1.6"/>
<line x1="572.8" y1="797.7" x2="617" y2="795.2" stroke="#6e6e6e" stroke-width="4.6"/>
<line x1="572.8" y1="796.4" x2="617" y2="793.9" stroke="#d2d2d2" stroke-width="1.6"/>
<line x1="617" y1="795.2" x2="661.2" y2="795.2" stroke="#6e6e6e" stroke-width="4.6"/>
<line x1="617" y1="793.9" x2="661.2" y2="793.9" stroke="#d2d2d2" stroke-width="1.6"/>
<line x1="661.2" y1="795.2" x2="705.4" y2="797.7" stroke="#6e6e6e" stroke-width="4.6"/>
<line x1="661.2" y1="793.9" x2="705.4" y2="796.4" stroke="#d2d2d2" stroke-width="1.6"/>
<line x1="705.4" y1="797.7" x2="749.6" y2="795.2" stroke="#6e6e6e" stroke-width="4.6"/>
<line x1="705.4" y1="796.4" x2="749.6" y2="793.9" stroke="#d2d2d2" stroke-width="1.6"/>
<line x1="749.6" y1="795.2" x2="793.8" y2="795.2" stroke="#6e6e6e" stroke-width="4.6"/>
<line x1="749.6" y1="793.9" x2="793.8" y2="793.9" stroke="#d2d2d2" stroke-width="1.6"/>
<circle cx="263.4" cy="793.7" r="13.2" fill="url(#sphTm)"/>
<circle cx="307.6" cy="796.2" r="13.2" fill="url(#sphTm)"/>
<circle cx="351.8" cy="793.7" r="13.2" fill="url(#sphTm)"/>
<circle cx="396" cy="793.7" r="13.2" fill="url(#sphTm)"/>
<circle cx="440.2" cy="796.2" r="13.2" fill="url(#sphTm)"/>
<circle cx="484.4" cy="793.7" r="13.2" fill="url(#sphTm)"/>
<circle cx="528.6" cy="793.7" r="13.2" fill="url(#sphTm)"/>
<circle cx="572.8" cy="796.2" r="13.2" fill="url(#sphTm)"/>
<circle cx="617" cy="793.7" r="13.2" fill="url(#sphTm)"/>
<circle cx="661.2" cy="793.7" r="13.2" fill="url(#sphTm)"/>
<circle cx="705.4" cy="796.2" r="13.2" fill="url(#sphTm)"/>
<circle cx="749.6" cy="793.7" r="13.2" fill="url(#sphTm)"/>
<circle cx="793.8" cy="793.7" r="13.2" fill="url(#sphTm)"/>
<line x1="263.5" y1="801.3" x2="307.7" y2="803.8" stroke="#6e6e6e" stroke-width="4.6"/>
<line x1="263.5" y1="800" x2="307.7" y2="802.5" stroke="#d2d2d2" stroke-width="1.6"/>
<line x1="307.7" y1="803.8" x2="351.9" y2="801.3" stroke="#6e6e6e" stroke-width="4.6"/>
<line x1="307.7" y1="802.5" x2="351.9" y2="800" stroke="#d2d2d2" stroke-width="1.6"/>
<line x1="351.9" y1="801.3" x2="396.1" y2="801.3" stroke="#6e6e6e" stroke-width="4.6"/>
<line x1="351.9" y1="800" x2="396.1" y2="800" stroke="#d2d2d2" stroke-width="1.6"/>
<line x1="396.1" y1="801.3" x2="440.3" y2="803.8" stroke="#6e6e6e" stroke-width="4.6"/>
<line x1="396.1" y1="800" x2="440.3" y2="802.5" stroke="#d2d2d2" stroke-width="1.6"/>
<line x1="440.3" y1="803.8" x2="484.5" y2="801.3" stroke="#6e6e6e" stroke-width="4.6"/>
<line x1="440.3" y1="802.5" x2="484.5" y2="800" stroke="#d2d2d2" stroke-width="1.6"/>
<line x1="484.5" y1="801.3" x2="528.7" y2="801.3" stroke="#6e6e6e" stroke-width="4.6"/>
<line x1="484.5" y1="800" x2="528.7" y2="800" stroke="#d2d2d2" stroke-width="1.6"/>
<line x1="528.7" y1="801.3" x2="572.9" y2="803.8" stroke="#6e6e6e" stroke-width="4.6"/>
<line x1="528.7" y1="800" x2="572.9" y2="802.5" stroke="#d2d2d2" stroke-width="1.6"/>
<line x1="572.9" y1="803.8" x2="617.1" y2="801.3" stroke="#6e6e6e" stroke-width="4.6"/>
<line x1="572.9" y1="802.5" x2="617.1" y2="800" stroke="#d2d2d2" stroke-width="1.6"/>
<line x1="617.1" y1="801.3" x2="661.3" y2="801.3" stroke="#6e6e6e" stroke-width="4.6"/>
<line x1="617.1" y1="800" x2="661.3" y2="800" stroke="#d2d2d2" stroke-width="1.6"/>
<line x1="661.3" y1="801.3" x2="705.5" y2="803.8" stroke="#6e6e6e" stroke-width="4.6"/>
<line x1="661.3" y1="800" x2="705.5" y2="802.5" stroke="#d2d2d2" stroke-width="1.6"/>
<line x1="705.5" y1="803.8" x2="749.7" y2="801.3" stroke="#6e6e6e" stroke-width="4.6"/>
<line x1="705.5" y1="802.5" x2="749.7" y2="800" stroke="#d2d2d2" stroke-width="1.6"/>
<line x1="749.7" y1="801.3" x2="793.9" y2="801.3" stroke="#6e6e6e" stroke-width="4.6"/>
<line x1="749.7" y1="800" x2="793.9" y2="800" stroke="#d2d2d2" stroke-width="1.6"/>
<circle cx="263.5" cy="799.8" r="13.2" fill="url(#sphTm)"/>
<circle cx="307.7" cy="802.3" r="13.2" fill="url(#sphTm)"/>
<circle cx="351.9" cy="799.8" r="13.2" fill="url(#sphTm)"/>
<circle cx="396.1" cy="799.8" r="13.2" fill="url(#sphTm)"/>
<circle cx="440.3" cy="802.3" r="13.2" fill="url(#sphTm)"/>
<circle cx="484.5" cy="799.8" r="13.2" fill="url(#sphTm)"/>
<circle cx="528.7" cy="799.8" r="13.2" fill="url(#sphTm)"/>
<circle cx="572.9" cy="802.3" r="13.2" fill="url(#sphTm)"/>
<circle cx="617.1" cy="799.8" r="13.2" fill="url(#sphTm)"/>
<circle cx="661.3" cy="799.8" r="13.2" fill="url(#sphTm)"/>
<circle cx="705.5" cy="802.3" r="13.2" fill="url(#sphTm)"/>
<circle cx="749.7" cy="799.8" r="13.2" fill="url(#sphTm)"/>
<circle cx="793.9" cy="799.8" r="13.2" fill="url(#sphTm)"/>
<line x1="272.4" y1="807.4" x2="316.6" y2="809.9" stroke="#6e6e6e" stroke-width="4.6"/>
<line x1="272.4" y1="806.1" x2="316.6" y2="808.6" stroke="#d2d2d2" stroke-width="1.6"/>
<line x1="316.6" y1="809.9" x2="360.8" y2="807.4" stroke="#6e6e6e" stroke-width="4.6"/>
<line x1="316.6" y1="808.6" x2="360.8" y2="806.1" stroke="#d2d2d2" stroke-width="1.6"/>
<line x1="360.8" y1="807.4" x2="405" y2="807.4" stroke="#6e6e6e" stroke-width="4.6"/>
<line x1="360.8" y1="806.1" x2="405" y2="806.1" stroke="#d2d2d2" stroke-width="1.6"/>
<line x1="405" y1="807.4" x2="449.2" y2="809.9" stroke="#6e6e6e" stroke-width="4.6"/>
<line x1="405" y1="806.1" x2="449.2" y2="808.6" stroke="#d2d2d2" stroke-width="1.6"/>
<line x1="449.2" y1="809.9" x2="493.4" y2="807.4" stroke="#6e6e6e" stroke-width="4.6"/>
<line x1="449.2" y1="808.6" x2="493.4" y2="806.1" stroke="#d2d2d2" stroke-width="1.6"/>
<line x1="493.4" y1="807.4" x2="537.6" y2="807.4" stroke="#6e6e6e" stroke-width="4.6"/>
<line x1="493.4" y1="806.1" x2="537.6" y2="806.1" stroke="#d2d2d2" stroke-width="1.6"/>
<line x1="537.6" y1="807.4" x2="581.8" y2="809.9" stroke="#6e6e6e" stroke-width="4.6"/>
<line x1="537.6" y1="806.1" x2="581.8" y2="808.6" stroke="#d2d2d2" stroke-width="1.6"/>
<line x1="581.8" y1="809.9" x2="626" y2="807.4" stroke="#6e6e6e" stroke-width="4.6"/>
<line x1="581.8" y1="808.6" x2="626" y2="806.1" stroke="#d2d2d2" stroke-width="1.6"/>
<line x1="626" y1="807.4" x2="670.2" y2="807.4" stroke="#6e6e6e" stroke-width="4.6"/>
<line x1="626" y1="806.1" x2="670.2" y2="806.1" stroke="#d2d2d2" stroke-width="1.6"/>
<line x1="670.2" y1="807.4" x2="714.4" y2="809.9" stroke="#6e6e6e" stroke-width="4.6"/>
<line x1="670.2" y1="806.1" x2="714.4" y2="808.6" stroke="#d2d2d2" stroke-width="1.6"/>
<line x1="714.4" y1="809.9" x2="758.6" y2="807.4" stroke="#6e6e6e" stroke-width="4.6"/>
<line x1="714.4" y1="808.6" x2="758.6" y2="806.1" stroke="#d2d2d2" stroke-width="1.6"/>
<line x1="758.6" y1="807.4" x2="802.8" y2="807.4" stroke="#6e6e6e" stroke-width="4.6"/>
<line x1="758.6" y1="806.1" x2="802.8" y2="806.1" stroke="#d2d2d2" stroke-width="1.6"/>
<circle cx="272.4" cy="805.9" r="13.2" fill="url(#sphTm)"/>
<circle cx="316.6" cy="808.4" r="13.2" fill="url(#sphTm)"/>
<circle cx="360.8" cy="805.9" r="13.2" fill="url(#sphTm)"/>
<circle cx="405" cy="805.9" r="13.2" fill="url(#sphTm)"/>
<circle cx="449.2" cy="808.4" r="13.2" fill="url(#sphTm)"/>
<circle cx="493.4" cy="805.9" r="13.2" fill="url(#sphTm)"/>
<circle cx="537.6" cy="805.9" r="13.2" fill="url(#sphTm)"/>
<circle cx="581.8" cy="808.4" r="13.2" fill="url(#sphTm)"/>
<circle cx="626" cy="805.9" r="13.2" fill="url(#sphTm)"/>
<circle cx="670.2" cy="805.9" r="13.2" fill="url(#sphTm)"/>
<circle cx="714.4" cy="808.4" r="13.2" fill="url(#sphTm)"/>
<circle cx="758.6" cy="805.9" r="13.2" fill="url(#sphTm)"/>
<circle cx="802.8" cy="805.9" r="13.2" fill="url(#sphTm)"/>
<line x1="272.5" y1="813.6" x2="316.7" y2="816.1" stroke="#6e6e6e" stroke-width="4.6"/>
<line x1="272.5" y1="812.3" x2="316.7" y2="814.8" stroke="#d2d2d2" stroke-width="1.6"/>
<line x1="316.7" y1="816.1" x2="360.9" y2="813.6" stroke="#6e6e6e" stroke-width="4.6"/>
<line x1="316.7" y1="814.8" x2="360.9" y2="812.3" stroke="#d2d2d2" stroke-width="1.6"/>
<line x1="360.9" y1="813.6" x2="405.1" y2="813.6" stroke="#6e6e6e" stroke-width="4.6"/>
<line x1="360.9" y1="812.3" x2="405.1" y2="812.3" stroke="#d2d2d2" stroke-width="1.6"/>
<line x1="405.1" y1="813.6" x2="449.3" y2="816.1" stroke="#6e6e6e" stroke-width="4.6"/>
<line x1="405.1" y1="812.3" x2="449.3" y2="814.8" stroke="#d2d2d2" stroke-width="1.6"/>
<line x1="449.3" y1="816.1" x2="493.5" y2="813.6" stroke="#6e6e6e" stroke-width="4.6"/>
<line x1="449.3" y1="814.8" x2="493.5" y2="812.3" stroke="#d2d2d2" stroke-width="1.6"/>
<line x1="493.5" y1="813.6" x2="537.7" y2="813.6" stroke="#6e6e6e" stroke-width="4.6"/>
<line x1="493.5" y1="812.3" x2="537.7" y2="812.3" stroke="#d2d2d2" stroke-width="1.6"/>
<line x1="537.7" y1="813.6" x2="581.9" y2="816.1" stroke="#6e6e6e" stroke-width="4.6"/>
<line x1="537.7" y1="812.3" x2="581.9" y2="814.8" stroke="#d2d2d2" stroke-width="1.6"/>
<line x1="581.9" y1="816.1" x2="626.1" y2="813.6" stroke="#6e6e6e" stroke-width="4.6"/>
<line x1="581.9" y1="814.8" x2="626.1" y2="812.3" stroke="#d2d2d2" stroke-width="1.6"/>
<line x1="626.1" y1="813.6" x2="670.3" y2="813.6" stroke="#6e6e6e" stroke-width="4.6"/>
<line x1="626.1" y1="812.3" x2="670.3" y2="812.3" stroke="#d2d2d2" stroke-width="1.6"/>
<line x1="670.3" y1="813.6" x2="714.5" y2="816.1" stroke="#6e6e6e" stroke-width="4.6"/>
<line x1="670.3" y1="812.3" x2="714.5" y2="814.8" stroke="#d2d2d2" stroke-width="1.6"/>
<line x1="714.5" y1="816.1" x2="758.7" y2="813.6" stroke="#6e6e6e" stroke-width="4.6"/>
<line x1="714.5" y1="814.8" x2="758.7" y2="812.3" stroke="#d2d2d2" stroke-width="1.6"/>
<line x1="758.7" y1="813.6" x2="802.9" y2="813.6" stroke="#6e6e6e" stroke-width="4.6"/>
<line x1="758.7" y1="812.3" x2="802.9" y2="812.3" stroke="#d2d2d2" stroke-width="1.6"/>
<circle cx="272.5" cy="812.1" r="13.2" fill="url(#sphTd)"/>
<circle cx="316.7" cy="814.6" r="13.2" fill="url(#sphTd)"/>
<circle cx="360.9" cy="812.1" r="13.2" fill="url(#sphTd)"/>
<circle cx="405.1" cy="812.1" r="13.2" fill="url(#sphTd)"/>
<circle cx="449.3" cy="814.6" r="13.2" fill="url(#sphTd)"/>
<circle cx="493.5" cy="812.1" r="13.2" fill="url(#sphTd)"/>
<circle cx="537.7" cy="812.1" r="13.2" fill="url(#sphTd)"/>
<circle cx="581.9" cy="814.6" r="13.2" fill="url(#sphTd)"/>
<circle cx="626.1" cy="812.1" r="13.2" fill="url(#sphTd)"/>
<circle cx="670.3" cy="812.1" r="13.2" fill="url(#sphTd)"/>
<circle cx="714.5" cy="814.6" r="13.2" fill="url(#sphTd)"/>
<circle cx="758.7" cy="812.1" r="13.2" fill="url(#sphTd)"/>
<circle cx="802.9" cy="812.1" r="13.2" fill="url(#sphTd)"/>
<line x1="281.4" y1="819.7" x2="325.6" y2="822.2" stroke="#6e6e6e" stroke-width="4.6"/>
<line x1="281.4" y1="818.4" x2="325.6" y2="820.9" stroke="#d2d2d2" stroke-width="1.6"/>
<line x1="325.6" y1="822.2" x2="369.8" y2="819.7" stroke="#6e6e6e" stroke-width="4.6"/>
<line x1="325.6" y1="820.9" x2="369.8" y2="818.4" stroke="#d2d2d2" stroke-width="1.6"/>
<line x1="369.8" y1="819.7" x2="414" y2="819.7" stroke="#6e6e6e" stroke-width="4.6"/>
<line x1="369.8" y1="818.4" x2="414" y2="818.4" stroke="#d2d2d2" stroke-width="1.6"/>
<line x1="414" y1="819.7" x2="458.2" y2="822.2" stroke="#6e6e6e" stroke-width="4.6"/>
<line x1="414" y1="818.4" x2="458.2" y2="820.9" stroke="#d2d2d2" stroke-width="1.6"/>
<line x1="458.2" y1="822.2" x2="502.4" y2="819.7" stroke="#6e6e6e" stroke-width="4.6"/>
<line x1="458.2" y1="820.9" x2="502.4" y2="818.4" stroke="#d2d2d2" stroke-width="1.6"/>
<line x1="502.4" y1="819.7" x2="546.6" y2="819.7" stroke="#6e6e6e" stroke-width="4.6"/>
<line x1="502.4" y1="818.4" x2="546.6" y2="818.4" stroke="#d2d2d2" stroke-width="1.6"/>
<line x1="546.6" y1="819.7" x2="590.8" y2="822.2" stroke="#6e6e6e" stroke-width="4.6"/>
<line x1="546.6" y1="818.4" x2="590.8" y2="820.9" stroke="#d2d2d2" stroke-width="1.6"/>
<line x1="590.8" y1="822.2" x2="635" y2="819.7" stroke="#6e6e6e" stroke-width="4.6"/>
<line x1="590.8" y1="820.9" x2="635" y2="818.4" stroke="#d2d2d2" stroke-width="1.6"/>
<line x1="635" y1="819.7" x2="679.2" y2="819.7" stroke="#6e6e6e" stroke-width="4.6"/>
<line x1="635" y1="818.4" x2="679.2" y2="818.4" stroke="#d2d2d2" stroke-width="1.6"/>
<line x1="679.2" y1="819.7" x2="723.4" y2="822.2" stroke="#6e6e6e" stroke-width="4.6"/>
<line x1="679.2" y1="818.4" x2="723.4" y2="820.9" stroke="#d2d2d2" stroke-width="1.6"/>
<line x1="723.4" y1="822.2" x2="767.6" y2="819.7" stroke="#6e6e6e" stroke-width="4.6"/>
<line x1="723.4" y1="820.9" x2="767.6" y2="818.4" stroke="#d2d2d2" stroke-width="1.6"/>
<line x1="767.6" y1="819.7" x2="811.8" y2="819.7" stroke="#6e6e6e" stroke-width="4.6"/>
<line x1="767.6" y1="818.4" x2="811.8" y2="818.4" stroke="#d2d2d2" stroke-width="1.6"/>
<circle cx="281.4" cy="818.2" r="13.2" fill="url(#sphTd)"/>
<circle cx="325.6" cy="820.7" r="13.2" fill="url(#sphTd)"/>
<circle cx="369.8" cy="818.2" r="13.2" fill="url(#sphTd)"/>
<circle cx="414" cy="818.2" r="13.2" fill="url(#sphTd)"/>
<circle cx="458.2" cy="820.7" r="13.2" fill="url(#sphTd)"/>
<circle cx="502.4" cy="818.2" r="13.2" fill="url(#sphTd)"/>
<circle cx="546.6" cy="818.2" r="13.2" fill="url(#sphTd)"/>
<circle cx="590.8" cy="820.7" r="13.2" fill="url(#sphTd)"/>
<circle cx="635" cy="818.2" r="13.2" fill="url(#sphTd)"/>
<circle cx="679.2" cy="818.2" r="13.2" fill="url(#sphTd)"/>
<circle cx="723.4" cy="820.7" r="13.2" fill="url(#sphTd)"/>
<circle cx="767.6" cy="818.2" r="13.2" fill="url(#sphTd)"/>
<circle cx="811.8" cy="818.2" r="13.2" fill="url(#sphTd)"/>
<line x1="281.5" y1="825.8" x2="325.7" y2="828.3" stroke="#6e6e6e" stroke-width="4.6"/>
<line x1="281.5" y1="824.5" x2="325.7" y2="827" stroke="#d2d2d2" stroke-width="1.6"/>
<line x1="325.7" y1="828.3" x2="369.9" y2="825.8" stroke="#6e6e6e" stroke-width="4.6"/>
<line x1="325.7" y1="827" x2="369.9" y2="824.5" stroke="#d2d2d2" stroke-width="1.6"/>
<line x1="369.9" y1="825.8" x2="414.1" y2="825.8" stroke="#6e6e6e" stroke-width="4.6"/>
<line x1="369.9" y1="824.5" x2="414.1" y2="824.5" stroke="#d2d2d2" stroke-width="1.6"/>
<line x1="414.1" y1="825.8" x2="458.3" y2="828.3" stroke="#6e6e6e" stroke-width="4.6"/>
<line x1="414.1" y1="824.5" x2="458.3" y2="827" stroke="#d2d2d2" stroke-width="1.6"/>
<line x1="458.3" y1="828.3" x2="502.5" y2="825.8" stroke="#6e6e6e" stroke-width="4.6"/>
<line x1="458.3" y1="827" x2="502.5" y2="824.5" stroke="#d2d2d2" stroke-width="1.6"/>
<line x1="502.5" y1="825.8" x2="546.7" y2="825.8" stroke="#6e6e6e" stroke-width="4.6"/>
<line x1="502.5" y1="824.5" x2="546.7" y2="824.5" stroke="#d2d2d2" stroke-width="1.6"/>
<line x1="546.7" y1="825.8" x2="590.9" y2="828.3" stroke="#6e6e6e" stroke-width="4.6"/>
<line x1="546.7" y1="824.5" x2="590.9" y2="827" stroke="#d2d2d2" stroke-width="1.6"/>
<line x1="590.9" y1="828.3" x2="635.1" y2="825.8" stroke="#6e6e6e" stroke-width="4.6"/>
<line x1="590.9" y1="827" x2="635.1" y2="824.5" stroke="#d2d2d2" stroke-width="1.6"/>
<line x1="635.1" y1="825.8" x2="679.3" y2="825.8" stroke="#6e6e6e" stroke-width="4.6"/>
<line x1="635.1" y1="824.5" x2="679.3" y2="824.5" stroke="#d2d2d2" stroke-width="1.6"/>
<line x1="679.3" y1="825.8" x2="723.5" y2="828.3" stroke="#6e6e6e" stroke-width="4.6"/>
<line x1="679.3" y1="824.5" x2="723.5" y2="827" stroke="#d2d2d2" stroke-width="1.6"/>
<line x1="723.5" y1="828.3" x2="767.7" y2="825.8" stroke="#6e6e6e" stroke-width="4.6"/>
<line x1="723.5" y1="827" x2="767.7" y2="824.5" stroke="#d2d2d2" stroke-width="1.6"/>
<line x1="767.7" y1="825.8" x2="811.9" y2="825.8" stroke="#6e6e6e" stroke-width="4.6"/>
<line x1="767.7" y1="824.5" x2="811.9" y2="824.5" stroke="#d2d2d2" stroke-width="1.6"/>
<circle cx="281.5" cy="824.3" r="13.2" fill="url(#sphTd)"/>
<circle cx="325.7" cy="826.8" r="13.2" fill="url(#sphTd)"/>
<circle cx="369.9" cy="824.3" r="13.2" fill="url(#sphTd)"/>
<circle cx="414.1" cy="824.3" r="13.2" fill="url(#sphTd)"/>
<circle cx="458.3" cy="826.8" r="13.2" fill="url(#sphTd)"/>
<circle cx="502.5" cy="824.3" r="13.2" fill="url(#sphTd)"/>
<circle cx="546.7" cy="824.3" r="13.2" fill="url(#sphTd)"/>
<circle cx="590.9" cy="826.8" r="13.2" fill="url(#sphTd)"/>
<circle cx="635.1" cy="824.3" r="13.2" fill="url(#sphTd)"/>
<circle cx="679.3" cy="824.3" r="13.2" fill="url(#sphTd)"/>
<circle cx="723.5" cy="826.8" r="13.2" fill="url(#sphTd)"/>
<circle cx="767.7" cy="824.3" r="13.2" fill="url(#sphTd)"/>
<circle cx="811.9" cy="824.3" r="13.2" fill="url(#sphTd)"/>
<line x1="290.4" y1="831.9" x2="334.6" y2="834.4" stroke="#6e6e6e" stroke-width="4.6"/>
<line x1="290.4" y1="830.6" x2="334.6" y2="833.1" stroke="#d2d2d2" stroke-width="1.6"/>
<line x1="334.6" y1="834.4" x2="378.8" y2="831.9" stroke="#6e6e6e" stroke-width="4.6"/>
<line x1="334.6" y1="833.1" x2="378.8" y2="830.6" stroke="#d2d2d2" stroke-width="1.6"/>
<line x1="378.8" y1="831.9" x2="423" y2="831.9" stroke="#6e6e6e" stroke-width="4.6"/>
<line x1="378.8" y1="830.6" x2="423" y2="830.6" stroke="#d2d2d2" stroke-width="1.6"/>
<line x1="423" y1="831.9" x2="467.2" y2="834.4" stroke="#6e6e6e" stroke-width="4.6"/>
<line x1="423" y1="830.6" x2="467.2" y2="833.1" stroke="#d2d2d2" stroke-width="1.6"/>
<line x1="467.2" y1="834.4" x2="511.4" y2="831.9" stroke="#6e6e6e" stroke-width="4.6"/>
<line x1="467.2" y1="833.1" x2="511.4" y2="830.6" stroke="#d2d2d2" stroke-width="1.6"/>
<line x1="511.4" y1="831.9" x2="555.6" y2="831.9" stroke="#6e6e6e" stroke-width="4.6"/>
<line x1="511.4" y1="830.6" x2="555.6" y2="830.6" stroke="#d2d2d2" stroke-width="1.6"/>
<line x1="555.6" y1="831.9" x2="599.8" y2="834.4" stroke="#6e6e6e" stroke-width="4.6"/>
<line x1="555.6" y1="830.6" x2="599.8" y2="833.1" stroke="#d2d2d2" stroke-width="1.6"/>
<line x1="599.8" y1="834.4" x2="644" y2="831.9" stroke="#6e6e6e" stroke-width="4.6"/>
<line x1="599.8" y1="833.1" x2="644" y2="830.6" stroke="#d2d2d2" stroke-width="1.6"/>
<line x1="644" y1="831.9" x2="688.2" y2="831.9" stroke="#6e6e6e" stroke-width="4.6"/>
<line x1="644" y1="830.6" x2="688.2" y2="830.6" stroke="#d2d2d2" stroke-width="1.6"/>
<line x1="688.2" y1="831.9" x2="732.4" y2="834.4" stroke="#6e6e6e" stroke-width="4.6"/>
<line x1="688.2" y1="830.6" x2="732.4" y2="833.1" stroke="#d2d2d2" stroke-width="1.6"/>
<line x1="732.4" y1="834.4" x2="776.6" y2="831.9" stroke="#6e6e6e" stroke-width="4.6"/>
<line x1="732.4" y1="833.1" x2="776.6" y2="830.6" stroke="#d2d2d2" stroke-width="1.6"/>
<line x1="776.6" y1="831.9" x2="820.8" y2="831.9" stroke="#6e6e6e" stroke-width="4.6"/>
<line x1="776.6" y1="830.6" x2="820.8" y2="830.6" stroke="#d2d2d2" stroke-width="1.6"/>
<circle cx="290.4" cy="830.4" r="13.2" fill="url(#sphT)"/>
<circle cx="334.6" cy="832.9" r="13.2" fill="url(#sphT)"/>
<circle cx="378.8" cy="830.4" r="13.2" fill="url(#sphT)"/>
<circle cx="423" cy="830.4" r="13.2" fill="url(#sphT)"/>
<circle cx="467.2" cy="832.9" r="13.2" fill="url(#sphT)"/>
<circle cx="511.4" cy="830.4" r="13.2" fill="url(#sphT)"/>
<circle cx="555.6" cy="830.4" r="13.2" fill="url(#sphT)"/>
<circle cx="599.8" cy="832.9" r="13.2" fill="url(#sphT)"/>
<circle cx="644" cy="830.4" r="13.2" fill="url(#sphT)"/>
<circle cx="688.2" cy="830.4" r="13.2" fill="url(#sphT)"/>
<circle cx="732.4" cy="832.9" r="13.2" fill="url(#sphT)"/>
<circle cx="776.6" cy="830.4" r="13.2" fill="url(#sphT)"/>
<circle cx="820.8" cy="830.4" r="13.2" fill="url(#sphT)"/>
<line x1="290.5" y1="838" x2="334.7" y2="840.5" stroke="#6e6e6e" stroke-width="4.6"/>
<line x1="290.5" y1="836.7" x2="334.7" y2="839.2" stroke="#d2d2d2" stroke-width="1.6"/>
<line x1="334.7" y1="840.5" x2="378.9" y2="838" stroke="#6e6e6e" stroke-width="4.6"/>
<line x1="334.7" y1="839.2" x2="378.9" y2="836.7" stroke="#d2d2d2" stroke-width="1.6"/>
<line x1="378.9" y1="838" x2="423.1" y2="838" stroke="#6e6e6e" stroke-width="4.6"/>
<line x1="378.9" y1="836.7" x2="423.1" y2="836.7" stroke="#d2d2d2" stroke-width="1.6"/>
<line x1="423.1" y1="838" x2="467.3" y2="840.5" stroke="#6e6e6e" stroke-width="4.6"/>
<line x1="423.1" y1="836.7" x2="467.3" y2="839.2" stroke="#d2d2d2" stroke-width="1.6"/>
<line x1="467.3" y1="840.5" x2="511.5" y2="838" stroke="#6e6e6e" stroke-width="4.6"/>
<line x1="467.3" y1="839.2" x2="511.5" y2="836.7" stroke="#d2d2d2" stroke-width="1.6"/>
<line x1="511.5" y1="838" x2="555.7" y2="838" stroke="#6e6e6e" stroke-width="4.6"/>
<line x1="511.5" y1="836.7" x2="555.7" y2="836.7" stroke="#d2d2d2" stroke-width="1.6"/>
<line x1="555.7" y1="838" x2="599.9" y2="840.5" stroke="#6e6e6e" stroke-width="4.6"/>
<line x1="555.7" y1="836.7" x2="599.9" y2="839.2" stroke="#d2d2d2" stroke-width="1.6"/>
<line x1="599.9" y1="840.5" x2="644.1" y2="838" stroke="#6e6e6e" stroke-width="4.6"/>
<line x1="599.9" y1="839.2" x2="644.1" y2="836.7" stroke="#d2d2d2" stroke-width="1.6"/>
<line x1="644.1" y1="838" x2="688.3" y2="838" stroke="#6e6e6e" stroke-width="4.6"/>
<line x1="644.1" y1="836.7" x2="688.3" y2="836.7" stroke="#d2d2d2" stroke-width="1.6"/>
<line x1="688.3" y1="838" x2="732.5" y2="840.5" stroke="#6e6e6e" stroke-width="4.6"/>
<line x1="688.3" y1="836.7" x2="732.5" y2="839.2" stroke="#d2d2d2" stroke-width="1.6"/>
<line x1="732.5" y1="840.5" x2="776.7" y2="838" stroke="#6e6e6e" stroke-width="4.6"/>
<line x1="732.5" y1="839.2" x2="776.7" y2="836.7" stroke="#d2d2d2" stroke-width="1.6"/>
<line x1="776.7" y1="838" x2="820.9" y2="838" stroke="#6e6e6e" stroke-width="4.6"/>
<line x1="776.7" y1="836.7" x2="820.9" y2="836.7" stroke="#d2d2d2" stroke-width="1.6"/>
<circle cx="290.5" cy="836.5" r="13.2" fill="url(#sphT)"/>
<circle cx="334.7" cy="839" r="13.2" fill="url(#sphT)"/>
<circle cx="378.9" cy="836.5" r="13.2" fill="url(#sphT)"/>
<circle cx="423.1" cy="836.5" r="13.2" fill="url(#sphT)"/>
<circle cx="467.3" cy="839" r="13.2" fill="url(#sphT)"/>
<circle cx="511.5" cy="836.5" r="13.2" fill="url(#sphT)"/>
<circle cx="555.7" cy="836.5" r="13.2" fill="url(#sphT)"/>
<circle cx="599.9" cy="839" r="13.2" fill="url(#sphT)"/>
<circle cx="644.1" cy="836.5" r="13.2" fill="url(#sphT)"/>
<circle cx="688.3" cy="836.5" r="13.2" fill="url(#sphT)"/>
<circle cx="732.5" cy="839" r="13.2" fill="url(#sphT)"/>
<circle cx="776.7" cy="836.5" r="13.2" fill="url(#sphT)"/>
<circle cx="820.9" cy="836.5" r="13.2" fill="url(#sphT)"/>
<line x1="294.8" y1="897.5" x2="336.1" y2="894.5" stroke="#6e6e6e" stroke-width="4.6"/>
<line x1="294.8" y1="896.2" x2="336.1" y2="893.2" stroke="#d2d2d2" stroke-width="1.6"/>
<line x1="336.1" y1="894.5" x2="377.4" y2="899.5" stroke="#6e6e6e" stroke-width="4.6"/>
<line x1="336.1" y1="893.2" x2="377.4" y2="898.2" stroke="#d2d2d2" stroke-width="1.6"/>
<line x1="377.4" y1="899.5" x2="418.7" y2="899.5" stroke="#6e6e6e" stroke-width="4.6"/>
<line x1="377.4" y1="898.2" x2="418.7" y2="898.2" stroke="#d2d2d2" stroke-width="1.6"/>
<line x1="418.7" y1="899.5" x2="460" y2="896.5" stroke="#6e6e6e" stroke-width="4.6"/>
<line x1="418.7" y1="898.2" x2="460" y2="895.2" stroke="#d2d2d2" stroke-width="1.6"/>
<line x1="460" y1="896.5" x2="501.3" y2="900.5" stroke="#6e6e6e" stroke-width="4.6"/>
<line x1="460" y1="895.2" x2="501.3" y2="899.2" stroke="#d2d2d2" stroke-width="1.6"/>
<line x1="501.3" y1="900.5" x2="542.6" y2="900.5" stroke="#6e6e6e" stroke-width="4.6"/>
<line x1="501.3" y1="899.2" x2="542.6" y2="899.2" stroke="#d2d2d2" stroke-width="1.6"/>
<line x1="542.6" y1="900.5" x2="583.9" y2="896.5" stroke="#6e6e6e" stroke-width="4.6"/>
<line x1="542.6" y1="899.2" x2="583.9" y2="895.2" stroke="#d2d2d2" stroke-width="1.6"/>
<line x1="583.9" y1="896.5" x2="625.2" y2="897.5" stroke="#6e6e6e" stroke-width="4.6"/>
<line x1="583.9" y1="895.2" x2="625.2" y2="896.2" stroke="#d2d2d2" stroke-width="1.6"/>
<line x1="625.2" y1="897.5" x2="666.5" y2="894.5" stroke="#6e6e6e" stroke-width="4.6"/>
<line x1="625.2" y1="896.2" x2="666.5" y2="893.2" stroke="#d2d2d2" stroke-width="1.6"/>
<line x1="666.5" y1="894.5" x2="707.8" y2="899.5" stroke="#6e6e6e" stroke-width="4.6"/>
<line x1="666.5" y1="893.2" x2="707.8" y2="898.2" stroke="#d2d2d2" stroke-width="1.6"/>
<line x1="707.8" y1="899.5" x2="749.1" y2="899.5" stroke="#6e6e6e" stroke-width="4.6"/>
<line x1="707.8" y1="898.2" x2="749.1" y2="898.2" stroke="#d2d2d2" stroke-width="1.6"/>
<line x1="749.1" y1="899.5" x2="790.4" y2="896.5" stroke="#6e6e6e" stroke-width="4.6"/>
<line x1="749.1" y1="898.2" x2="790.4" y2="895.2" stroke="#d2d2d2" stroke-width="1.6"/>
<line x1="790.4" y1="896.5" x2="831.7" y2="900.5" stroke="#6e6e6e" stroke-width="4.6"/>
<line x1="790.4" y1="895.2" x2="831.7" y2="899.2" stroke="#d2d2d2" stroke-width="1.6"/>
<circle cx="294.8" cy="896" r="12.8" fill="url(#sphTm)"/>
<circle cx="336.1" cy="893" r="12.8" fill="url(#sphTm)"/>
<circle cx="377.4" cy="898" r="12.8" fill="url(#sphTm)"/>
<circle cx="418.7" cy="898" r="12.8" fill="url(#sphTm)"/>
<circle cx="460" cy="895" r="12.8" fill="url(#sphTm)"/>
<circle cx="501.3" cy="899" r="12.8" fill="url(#sphTm)"/>
<circle cx="542.6" cy="899" r="12.8" fill="url(#sphTm)"/>
<circle cx="583.9" cy="895" r="12.8" fill="url(#sphTm)"/>
<circle cx="625.2" cy="896" r="12.8" fill="url(#sphTm)"/>
<circle cx="666.5" cy="893" r="12.8" fill="url(#sphTm)"/>
<circle cx="707.8" cy="898" r="12.8" fill="url(#sphTm)"/>
<circle cx="749.1" cy="898" r="12.8" fill="url(#sphTm)"/>
<circle cx="790.4" cy="895" r="12.8" fill="url(#sphTm)"/>
<circle cx="831.7" cy="899" r="12.8" fill="url(#sphTm)"/>
<line x1="290.3" y1="904.4" x2="331.6" y2="901.4" stroke="#6e6e6e" stroke-width="4.6"/>
<line x1="290.3" y1="903.1" x2="331.6" y2="900.1" stroke="#d2d2d2" stroke-width="1.6"/>
<line x1="331.6" y1="901.4" x2="372.9" y2="906.4" stroke="#6e6e6e" stroke-width="4.6"/>
<line x1="331.6" y1="900.1" x2="372.9" y2="905.1" stroke="#d2d2d2" stroke-width="1.6"/>
<line x1="372.9" y1="906.4" x2="414.2" y2="906.4" stroke="#6e6e6e" stroke-width="4.6"/>
<line x1="372.9" y1="905.1" x2="414.2" y2="905.1" stroke="#d2d2d2" stroke-width="1.6"/>
<line x1="414.2" y1="906.4" x2="455.5" y2="903.4" stroke="#6e6e6e" stroke-width="4.6"/>
<line x1="414.2" y1="905.1" x2="455.5" y2="902.1" stroke="#d2d2d2" stroke-width="1.6"/>
<line x1="455.5" y1="903.4" x2="496.8" y2="907.4" stroke="#6e6e6e" stroke-width="4.6"/>
<line x1="455.5" y1="902.1" x2="496.8" y2="906.1" stroke="#d2d2d2" stroke-width="1.6"/>
<line x1="496.8" y1="907.4" x2="538.1" y2="907.4" stroke="#6e6e6e" stroke-width="4.6"/>
<line x1="496.8" y1="906.1" x2="538.1" y2="906.1" stroke="#d2d2d2" stroke-width="1.6"/>
<line x1="538.1" y1="907.4" x2="579.4" y2="903.4" stroke="#6e6e6e" stroke-width="4.6"/>
<line x1="538.1" y1="906.1" x2="579.4" y2="902.1" stroke="#d2d2d2" stroke-width="1.6"/>
<line x1="579.4" y1="903.4" x2="620.7" y2="904.4" stroke="#6e6e6e" stroke-width="4.6"/>
<line x1="579.4" y1="902.1" x2="620.7" y2="903.1" stroke="#d2d2d2" stroke-width="1.6"/>
<line x1="620.7" y1="904.4" x2="662" y2="901.4" stroke="#6e6e6e" stroke-width="4.6"/>
<line x1="620.7" y1="903.1" x2="662" y2="900.1" stroke="#d2d2d2" stroke-width="1.6"/>
<line x1="662" y1="901.4" x2="703.3" y2="906.4" stroke="#6e6e6e" stroke-width="4.6"/>
<line x1="662" y1="900.1" x2="703.3" y2="905.1" stroke="#d2d2d2" stroke-width="1.6"/>
<line x1="703.3" y1="906.4" x2="744.6" y2="906.4" stroke="#6e6e6e" stroke-width="4.6"/>
<line x1="703.3" y1="905.1" x2="744.6" y2="905.1" stroke="#d2d2d2" stroke-width="1.6"/>
<line x1="744.6" y1="906.4" x2="785.9" y2="903.4" stroke="#6e6e6e" stroke-width="4.6"/>
<line x1="744.6" y1="905.1" x2="785.9" y2="902.1" stroke="#d2d2d2" stroke-width="1.6"/>
<line x1="785.9" y1="903.4" x2="827.2" y2="907.4" stroke="#6e6e6e" stroke-width="4.6"/>
<line x1="785.9" y1="902.1" x2="827.2" y2="906.1" stroke="#d2d2d2" stroke-width="1.6"/>
<circle cx="290.3" cy="902.9" r="12.8" fill="url(#sphTm)"/>
<circle cx="331.6" cy="899.9" r="12.8" fill="url(#sphTm)"/>
<circle cx="372.9" cy="904.9" r="12.8" fill="url(#sphTm)"/>
<circle cx="414.2" cy="904.9" r="12.8" fill="url(#sphTm)"/>
<circle cx="455.5" cy="901.9" r="12.8" fill="url(#sphTm)"/>
<circle cx="496.8" cy="905.9" r="12.8" fill="url(#sphTm)"/>
<circle cx="538.1" cy="905.9" r="12.8" fill="url(#sphTm)"/>
<circle cx="579.4" cy="901.9" r="12.8" fill="url(#sphTm)"/>
<circle cx="620.7" cy="902.9" r="12.8" fill="url(#sphTm)"/>
<circle cx="662" cy="899.9" r="12.8" fill="url(#sphTm)"/>
<circle cx="703.3" cy="904.9" r="12.8" fill="url(#sphTm)"/>
<circle cx="744.6" cy="904.9" r="12.8" fill="url(#sphTm)"/>
<circle cx="785.9" cy="901.9" r="12.8" fill="url(#sphTm)"/>
<circle cx="827.2" cy="905.9" r="12.8" fill="url(#sphTm)"/>
<line x1="285.8" y1="911.2" x2="327.1" y2="908.2" stroke="#6e6e6e" stroke-width="4.6"/>
<line x1="285.8" y1="910" x2="327.1" y2="907" stroke="#d2d2d2" stroke-width="1.6"/>
<line x1="327.1" y1="908.2" x2="368.4" y2="913.2" stroke="#6e6e6e" stroke-width="4.6"/>
<line x1="327.1" y1="907" x2="368.4" y2="912" stroke="#d2d2d2" stroke-width="1.6"/>
<line x1="368.4" y1="913.2" x2="409.7" y2="913.2" stroke="#6e6e6e" stroke-width="4.6"/>
<line x1="368.4" y1="912" x2="409.7" y2="912" stroke="#d2d2d2" stroke-width="1.6"/>
<line x1="409.7" y1="913.2" x2="451" y2="910.2" stroke="#6e6e6e" stroke-width="4.6"/>
<line x1="409.7" y1="912" x2="451" y2="909" stroke="#d2d2d2" stroke-width="1.6"/>
<line x1="451" y1="910.2" x2="492.3" y2="914.2" stroke="#6e6e6e" stroke-width="4.6"/>
<line x1="451" y1="909" x2="492.3" y2="913" stroke="#d2d2d2" stroke-width="1.6"/>
<line x1="492.3" y1="914.2" x2="533.6" y2="914.2" stroke="#6e6e6e" stroke-width="4.6"/>
<line x1="492.3" y1="913" x2="533.6" y2="913" stroke="#d2d2d2" stroke-width="1.6"/>
<line x1="533.6" y1="914.2" x2="574.9" y2="910.2" stroke="#6e6e6e" stroke-width="4.6"/>
<line x1="533.6" y1="913" x2="574.9" y2="909" stroke="#d2d2d2" stroke-width="1.6"/>
<line x1="574.9" y1="910.2" x2="616.2" y2="911.2" stroke="#6e6e6e" stroke-width="4.6"/>
<line x1="574.9" y1="909" x2="616.2" y2="910" stroke="#d2d2d2" stroke-width="1.6"/>
<line x1="616.2" y1="911.2" x2="657.5" y2="908.2" stroke="#6e6e6e" stroke-width="4.6"/>
<line x1="616.2" y1="910" x2="657.5" y2="907" stroke="#d2d2d2" stroke-width="1.6"/>
<line x1="657.5" y1="908.2" x2="698.8" y2="913.2" stroke="#6e6e6e" stroke-width="4.6"/>
<line x1="657.5" y1="907" x2="698.8" y2="912" stroke="#d2d2d2" stroke-width="1.6"/>
<line x1="698.8" y1="913.2" x2="740.1" y2="913.2" stroke="#6e6e6e" stroke-width="4.6"/>
<line x1="698.8" y1="912" x2="740.1" y2="912" stroke="#d2d2d2" stroke-width="1.6"/>
<line x1="740.1" y1="913.2" x2="781.4" y2="910.2" stroke="#6e6e6e" stroke-width="4.6"/>
<line x1="740.1" y1="912" x2="781.4" y2="909" stroke="#d2d2d2" stroke-width="1.6"/>
<line x1="781.4" y1="910.2" x2="822.7" y2="914.2" stroke="#6e6e6e" stroke-width="4.6"/>
<line x1="781.4" y1="909" x2="822.7" y2="913" stroke="#d2d2d2" stroke-width="1.6"/>
<circle cx="285.8" cy="909.8" r="12.8" fill="url(#sphTm)"/>
<circle cx="327.1" cy="906.8" r="12.8" fill="url(#sphTm)"/>
<circle cx="368.4" cy="911.8" r="12.8" fill="url(#sphTm)"/>
<circle cx="409.7" cy="911.8" r="12.8" fill="url(#sphTm)"/>
<circle cx="451" cy="908.8" r="12.8" fill="url(#sphTm)"/>
<circle cx="492.3" cy="912.8" r="12.8" fill="url(#sphTm)"/>
<circle cx="533.6" cy="912.8" r="12.8" fill="url(#sphTm)"/>
<circle cx="574.9" cy="908.8" r="12.8" fill="url(#sphTm)"/>
<circle cx="616.2" cy="909.8" r="12.8" fill="url(#sphTm)"/>
<circle cx="657.5" cy="906.8" r="12.8" fill="url(#sphTm)"/>
<circle cx="698.8" cy="911.8" r="12.8" fill="url(#sphTm)"/>
<circle cx="740.1" cy="911.8" r="12.8" fill="url(#sphTm)"/>
<circle cx="781.4" cy="908.8" r="12.8" fill="url(#sphTm)"/>
<circle cx="822.7" cy="912.8" r="12.8" fill="url(#sphTm)"/>
<line x1="281.3" y1="918.1" x2="322.6" y2="915.1" stroke="#6e6e6e" stroke-width="4.6"/>
<line x1="281.3" y1="916.8" x2="322.6" y2="913.8" stroke="#d2d2d2" stroke-width="1.6"/>
<line x1="322.6" y1="915.1" x2="363.9" y2="920.1" stroke="#6e6e6e" stroke-width="4.6"/>
<line x1="322.6" y1="913.8" x2="363.9" y2="918.8" stroke="#d2d2d2" stroke-width="1.6"/>
<line x1="363.9" y1="920.1" x2="405.2" y2="920.1" stroke="#6e6e6e" stroke-width="4.6"/>
<line x1="363.9" y1="918.8" x2="405.2" y2="918.8" stroke="#d2d2d2" stroke-width="1.6"/>
<line x1="405.2" y1="920.1" x2="446.5" y2="917.1" stroke="#6e6e6e" stroke-width="4.6"/>
<line x1="405.2" y1="918.8" x2="446.5" y2="915.8" stroke="#d2d2d2" stroke-width="1.6"/>
<line x1="446.5" y1="917.1" x2="487.8" y2="921.1" stroke="#6e6e6e" stroke-width="4.6"/>
<line x1="446.5" y1="915.8" x2="487.8" y2="919.8" stroke="#d2d2d2" stroke-width="1.6"/>
<line x1="487.8" y1="921.1" x2="529.1" y2="921.1" stroke="#6e6e6e" stroke-width="4.6"/>
<line x1="487.8" y1="919.8" x2="529.1" y2="919.8" stroke="#d2d2d2" stroke-width="1.6"/>
<line x1="529.1" y1="921.1" x2="570.4" y2="917.1" stroke="#6e6e6e" stroke-width="4.6"/>
<line x1="529.1" y1="919.8" x2="570.4" y2="915.8" stroke="#d2d2d2" stroke-width="1.6"/>
<line x1="570.4" y1="917.1" x2="611.7" y2="918.1" stroke="#6e6e6e" stroke-width="4.6"/>
<line x1="570.4" y1="915.8" x2="611.7" y2="916.8" stroke="#d2d2d2" stroke-width="1.6"/>
<line x1="611.7" y1="918.1" x2="653" y2="915.1" stroke="#6e6e6e" stroke-width="4.6"/>
<line x1="611.7" y1="916.8" x2="653" y2="913.8" stroke="#d2d2d2" stroke-width="1.6"/>
<line x1="653" y1="915.1" x2="694.3" y2="920.1" stroke="#6e6e6e" stroke-width="4.6"/>
<line x1="653" y1="913.8" x2="694.3" y2="918.8" stroke="#d2d2d2" stroke-width="1.6"/>
<line x1="694.3" y1="920.1" x2="735.6" y2="920.1" stroke="#6e6e6e" stroke-width="4.6"/>
<line x1="694.3" y1="918.8" x2="735.6" y2="918.8" stroke="#d2d2d2" stroke-width="1.6"/>
<line x1="735.6" y1="920.1" x2="776.9" y2="917.1" stroke="#6e6e6e" stroke-width="4.6"/>
<line x1="735.6" y1="918.8" x2="776.9" y2="915.8" stroke="#d2d2d2" stroke-width="1.6"/>
<line x1="776.9" y1="917.1" x2="818.2" y2="921.1" stroke="#6e6e6e" stroke-width="4.6"/>
<line x1="776.9" y1="915.8" x2="818.2" y2="919.8" stroke="#d2d2d2" stroke-width="1.6"/>
<circle cx="281.3" cy="916.6" r="12.8" fill="url(#sphT)"/>
<circle cx="322.6" cy="913.6" r="12.8" fill="url(#sphT)"/>
<circle cx="363.9" cy="918.6" r="12.8" fill="url(#sphT)"/>
<circle cx="405.2" cy="918.6" r="12.8" fill="url(#sphT)"/>
<circle cx="446.5" cy="915.6" r="12.8" fill="url(#sphT)"/>
<circle cx="487.8" cy="919.6" r="12.8" fill="url(#sphT)"/>
<circle cx="529.1" cy="919.6" r="12.8" fill="url(#sphT)"/>
<circle cx="570.4" cy="915.6" r="12.8" fill="url(#sphT)"/>
<circle cx="611.7" cy="916.6" r="12.8" fill="url(#sphT)"/>
<circle cx="653" cy="913.6" r="12.8" fill="url(#sphT)"/>
<circle cx="694.3" cy="918.6" r="12.8" fill="url(#sphT)"/>
<circle cx="735.6" cy="918.6" r="12.8" fill="url(#sphT)"/>
<circle cx="776.9" cy="915.6" r="12.8" fill="url(#sphT)"/>
<circle cx="818.2" cy="919.6" r="12.8" fill="url(#sphT)"/>
<line x1="276.8" y1="925" x2="318.1" y2="922" stroke="#6e6e6e" stroke-width="4.6"/>
<line x1="276.8" y1="923.7" x2="318.1" y2="920.7" stroke="#d2d2d2" stroke-width="1.6"/>
<line x1="318.1" y1="922" x2="359.4" y2="927" stroke="#6e6e6e" stroke-width="4.6"/>
<line x1="318.1" y1="920.7" x2="359.4" y2="925.7" stroke="#d2d2d2" stroke-width="1.6"/>
<line x1="359.4" y1="927" x2="400.7" y2="927" stroke="#6e6e6e" stroke-width="4.6"/>
<line x1="359.4" y1="925.7" x2="400.7" y2="925.7" stroke="#d2d2d2" stroke-width="1.6"/>
<line x1="400.7" y1="927" x2="442" y2="924" stroke="#6e6e6e" stroke-width="4.6"/>
<line x1="400.7" y1="925.7" x2="442" y2="922.7" stroke="#d2d2d2" stroke-width="1.6"/>
<line x1="442" y1="924" x2="483.3" y2="928" stroke="#6e6e6e" stroke-width="4.6"/>
<line x1="442" y1="922.7" x2="483.3" y2="926.7" stroke="#d2d2d2" stroke-width="1.6"/>
<line x1="483.3" y1="928" x2="524.6" y2="928" stroke="#6e6e6e" stroke-width="4.6"/>
<line x1="483.3" y1="926.7" x2="524.6" y2="926.7" stroke="#d2d2d2" stroke-width="1.6"/>
<line x1="524.6" y1="928" x2="565.9" y2="924" stroke="#6e6e6e" stroke-width="4.6"/>
<line x1="524.6" y1="926.7" x2="565.9" y2="922.7" stroke="#d2d2d2" stroke-width="1.6"/>
<line x1="565.9" y1="924" x2="607.2" y2="925" stroke="#6e6e6e" stroke-width="4.6"/>
<line x1="565.9" y1="922.7" x2="607.2" y2="923.7" stroke="#d2d2d2" stroke-width="1.6"/>
<line x1="607.2" y1="925" x2="648.5" y2="922" stroke="#6e6e6e" stroke-width="4.6"/>
<line x1="607.2" y1="923.7" x2="648.5" y2="920.7" stroke="#d2d2d2" stroke-width="1.6"/>
<line x1="648.5" y1="922" x2="689.8" y2="927" stroke="#6e6e6e" stroke-width="4.6"/>
<line x1="648.5" y1="920.7" x2="689.8" y2="925.7" stroke="#d2d2d2" stroke-width="1.6"/>
<line x1="689.8" y1="927" x2="731.1" y2="927" stroke="#6e6e6e" stroke-width="4.6"/>
<line x1="689.8" y1="925.7" x2="731.1" y2="925.7" stroke="#d2d2d2" stroke-width="1.6"/>
<line x1="731.1" y1="927" x2="772.4" y2="924" stroke="#6e6e6e" stroke-width="4.6"/>
<line x1="731.1" y1="925.7" x2="772.4" y2="922.7" stroke="#d2d2d2" stroke-width="1.6"/>
<line x1="772.4" y1="924" x2="813.7" y2="928" stroke="#6e6e6e" stroke-width="4.6"/>
<line x1="772.4" y1="922.7" x2="813.7" y2="926.7" stroke="#d2d2d2" stroke-width="1.6"/>
<circle cx="276.8" cy="923.5" r="12.8" fill="url(#sphT)"/>
<circle cx="318.1" cy="920.5" r="12.8" fill="url(#sphT)"/>
<circle cx="359.4" cy="925.5" r="12.8" fill="url(#sphT)"/>
<circle cx="400.7" cy="925.5" r="12.8" fill="url(#sphT)"/>
<circle cx="442" cy="922.5" r="12.8" fill="url(#sphT)"/>
<circle cx="483.3" cy="926.5" r="12.8" fill="url(#sphT)"/>
<circle cx="524.6" cy="926.5" r="12.8" fill="url(#sphT)"/>
<circle cx="565.9" cy="922.5" r="12.8" fill="url(#sphT)"/>
<circle cx="607.2" cy="923.5" r="12.8" fill="url(#sphT)"/>
<circle cx="648.5" cy="920.5" r="12.8" fill="url(#sphT)"/>
<circle cx="689.8" cy="925.5" r="12.8" fill="url(#sphT)"/>
<circle cx="731.1" cy="925.5" r="12.8" fill="url(#sphT)"/>
<circle cx="772.4" cy="922.5" r="12.8" fill="url(#sphT)"/>
<circle cx="813.7" cy="926.5" r="12.8" fill="url(#sphT)"/>
<line x1="272.3" y1="931.9" x2="313.6" y2="928.9" stroke="#6e6e6e" stroke-width="4.6"/>
<line x1="272.3" y1="930.6" x2="313.6" y2="927.6" stroke="#d2d2d2" stroke-width="1.6"/>
<line x1="313.6" y1="928.9" x2="354.9" y2="933.9" stroke="#6e6e6e" stroke-width="4.6"/>
<line x1="313.6" y1="927.6" x2="354.9" y2="932.6" stroke="#d2d2d2" stroke-width="1.6"/>
<line x1="354.9" y1="933.9" x2="396.2" y2="933.9" stroke="#6e6e6e" stroke-width="4.6"/>
<line x1="354.9" y1="932.6" x2="396.2" y2="932.6" stroke="#d2d2d2" stroke-width="1.6"/>
<line x1="396.2" y1="933.9" x2="437.5" y2="930.9" stroke="#6e6e6e" stroke-width="4.6"/>
<line x1="396.2" y1="932.6" x2="437.5" y2="929.6" stroke="#d2d2d2" stroke-width="1.6"/>
<line x1="437.5" y1="930.9" x2="478.8" y2="934.9" stroke="#6e6e6e" stroke-width="4.6"/>
<line x1="437.5" y1="929.6" x2="478.8" y2="933.6" stroke="#d2d2d2" stroke-width="1.6"/>
<line x1="478.8" y1="934.9" x2="520.1" y2="934.9" stroke="#6e6e6e" stroke-width="4.6"/>
<line x1="478.8" y1="933.6" x2="520.1" y2="933.6" stroke="#d2d2d2" stroke-width="1.6"/>
<line x1="520.1" y1="934.9" x2="561.4" y2="930.9" stroke="#6e6e6e" stroke-width="4.6"/>
<line x1="520.1" y1="933.6" x2="561.4" y2="929.6" stroke="#d2d2d2" stroke-width="1.6"/>
<line x1="561.4" y1="930.9" x2="602.7" y2="931.9" stroke="#6e6e6e" stroke-width="4.6"/>
<line x1="561.4" y1="929.6" x2="602.7" y2="930.6" stroke="#d2d2d2" stroke-width="1.6"/>
<line x1="602.7" y1="931.9" x2="644" y2="928.9" stroke="#6e6e6e" stroke-width="4.6"/>
<line x1="602.7" y1="930.6" x2="644" y2="927.6" stroke="#d2d2d2" stroke-width="1.6"/>
<line x1="644" y1="928.9" x2="685.3" y2="933.9" stroke="#6e6e6e" stroke-width="4.6"/>
<line x1="644" y1="927.6" x2="685.3" y2="932.6" stroke="#d2d2d2" stroke-width="1.6"/>
<line x1="685.3" y1="933.9" x2="726.6" y2="933.9" stroke="#6e6e6e" stroke-width="4.6"/>
<line x1="685.3" y1="932.6" x2="726.6" y2="932.6" stroke="#d2d2d2" stroke-width="1.6"/>
<line x1="726.6" y1="933.9" x2="767.9" y2="930.9" stroke="#6e6e6e" stroke-width="4.6"/>
<line x1="726.6" y1="932.6" x2="767.9" y2="929.6" stroke="#d2d2d2" stroke-width="1.6"/>
<line x1="767.9" y1="930.9" x2="809.2" y2="934.9" stroke="#6e6e6e" stroke-width="4.6"/>
<line x1="767.9" y1="929.6" x2="809.2" y2="933.6" stroke="#d2d2d2" stroke-width="1.6"/>
<circle cx="272.3" cy="930.4" r="12.8" fill="url(#sphT)"/>
<circle cx="313.6" cy="927.4" r="12.8" fill="url(#sphT)"/>
<circle cx="354.9" cy="932.4" r="12.8" fill="url(#sphT)"/>
<circle cx="396.2" cy="932.4" r="12.8" fill="url(#sphT)"/>
<circle cx="437.5" cy="929.4" r="12.8" fill="url(#sphT)"/>
<circle cx="478.8" cy="933.4" r="12.8" fill="url(#sphT)"/>
<circle cx="520.1" cy="933.4" r="12.8" fill="url(#sphT)"/>
<circle cx="561.4" cy="929.4" r="12.8" fill="url(#sphT)"/>
<circle cx="602.7" cy="930.4" r="12.8" fill="url(#sphT)"/>
<circle cx="644" cy="927.4" r="12.8" fill="url(#sphT)"/>
<circle cx="685.3" cy="932.4" r="12.8" fill="url(#sphT)"/>
<circle cx="726.6" cy="932.4" r="12.8" fill="url(#sphT)"/>
<circle cx="767.9" cy="929.4" r="12.8" fill="url(#sphT)"/>
<circle cx="809.2" cy="933.4" r="12.8" fill="url(#sphT)"/>
<line x1="267.8" y1="938.8" x2="309.1" y2="935.8" stroke="#6e6e6e" stroke-width="4.6"/>
<line x1="267.8" y1="937.5" x2="309.1" y2="934.5" stroke="#d2d2d2" stroke-width="1.6"/>
<line x1="309.1" y1="935.8" x2="350.4" y2="940.8" stroke="#6e6e6e" stroke-width="4.6"/>
<line x1="309.1" y1="934.5" x2="350.4" y2="939.5" stroke="#d2d2d2" stroke-width="1.6"/>
<line x1="350.4" y1="940.8" x2="391.7" y2="940.8" stroke="#6e6e6e" stroke-width="4.6"/>
<line x1="350.4" y1="939.5" x2="391.7" y2="939.5" stroke="#d2d2d2" stroke-width="1.6"/>
<line x1="391.7" y1="940.8" x2="433" y2="937.8" stroke="#6e6e6e" stroke-width="4.6"/>
<line x1="391.7" y1="939.5" x2="433" y2="936.5" stroke="#d2d2d2" stroke-width="1.6"/>
<line x1="433" y1="937.8" x2="474.3" y2="941.8" stroke="#6e6e6e" stroke-width="4.6"/>
<line x1="433" y1="936.5" x2="474.3" y2="940.5" stroke="#d2d2d2" stroke-width="1.6"/>
<line x1="474.3" y1="941.8" x2="515.6" y2="941.8" stroke="#6e6e6e" stroke-width="4.6"/>
<line x1="474.3" y1="940.5" x2="515.6" y2="940.5" stroke="#d2d2d2" stroke-width="1.6"/>
<line x1="515.6" y1="941.8" x2="556.9" y2="937.8" stroke="#6e6e6e" stroke-width="4.6"/>
<line x1="515.6" y1="940.5" x2="556.9" y2="936.5" stroke="#d2d2d2" stroke-width="1.6"/>
<line x1="556.9" y1="937.8" x2="598.2" y2="938.8" stroke="#6e6e6e" stroke-width="4.6"/>
<line x1="556.9" y1="936.5" x2="598.2" y2="937.5" stroke="#d2d2d2" stroke-width="1.6"/>
<line x1="598.2" y1="938.8" x2="639.5" y2="935.8" stroke="#6e6e6e" stroke-width="4.6"/>
<line x1="598.2" y1="937.5" x2="639.5" y2="934.5" stroke="#d2d2d2" stroke-width="1.6"/>
<line x1="639.5" y1="935.8" x2="680.8" y2="940.8" stroke="#6e6e6e" stroke-width="4.6"/>
<line x1="639.5" y1="934.5" x2="680.8" y2="939.5" stroke="#d2d2d2" stroke-width="1.6"/>
<line x1="680.8" y1="940.8" x2="722.1" y2="940.8" stroke="#6e6e6e" stroke-width="4.6"/>
<line x1="680.8" y1="939.5" x2="722.1" y2="939.5" stroke="#d2d2d2" stroke-width="1.6"/>
<line x1="722.1" y1="940.8" x2="763.4" y2="937.8" stroke="#6e6e6e" stroke-width="4.6"/>
<line x1="722.1" y1="939.5" x2="763.4" y2="936.5" stroke="#d2d2d2" stroke-width="1.6"/>
<line x1="763.4" y1="937.8" x2="804.7" y2="941.8" stroke="#6e6e6e" stroke-width="4.6"/>
<line x1="763.4" y1="936.5" x2="804.7" y2="940.5" stroke="#d2d2d2" stroke-width="1.6"/>
<circle cx="267.8" cy="937.2" r="12.8" fill="url(#sphT)"/>
<circle cx="309.1" cy="934.2" r="12.8" fill="url(#sphT)"/>
<circle cx="350.4" cy="939.2" r="12.8" fill="url(#sphT)"/>
<circle cx="391.7" cy="939.2" r="12.8" fill="url(#sphT)"/>
<circle cx="433" cy="936.2" r="12.8" fill="url(#sphT)"/>
<circle cx="474.3" cy="940.2" r="12.8" fill="url(#sphT)"/>
<circle cx="515.6" cy="940.2" r="12.8" fill="url(#sphT)"/>
<circle cx="556.9" cy="936.2" r="12.8" fill="url(#sphT)"/>
<circle cx="598.2" cy="937.2" r="12.8" fill="url(#sphT)"/>
<circle cx="639.5" cy="934.2" r="12.8" fill="url(#sphT)"/>
<circle cx="680.8" cy="939.2" r="12.8" fill="url(#sphT)"/>
<circle cx="722.1" cy="939.2" r="12.8" fill="url(#sphT)"/>
<circle cx="763.4" cy="936.2" r="12.8" fill="url(#sphT)"/>
<circle cx="804.7" cy="940.2" r="12.8" fill="url(#sphT)"/>
<line x1="263.3" y1="945.6" x2="304.6" y2="942.6" stroke="#6e6e6e" stroke-width="4.6"/>
<line x1="263.3" y1="944.3" x2="304.6" y2="941.3" stroke="#d2d2d2" stroke-width="1.6"/>
<line x1="304.6" y1="942.6" x2="345.9" y2="947.6" stroke="#6e6e6e" stroke-width="4.6"/>
<line x1="304.6" y1="941.3" x2="345.9" y2="946.3" stroke="#d2d2d2" stroke-width="1.6"/>
<line x1="345.9" y1="947.6" x2="387.2" y2="947.6" stroke="#6e6e6e" stroke-width="4.6"/>
<line x1="345.9" y1="946.3" x2="387.2" y2="946.3" stroke="#d2d2d2" stroke-width="1.6"/>
<line x1="387.2" y1="947.6" x2="428.5" y2="944.6" stroke="#6e6e6e" stroke-width="4.6"/>
<line x1="387.2" y1="946.3" x2="428.5" y2="943.3" stroke="#d2d2d2" stroke-width="1.6"/>
<line x1="428.5" y1="944.6" x2="469.8" y2="948.6" stroke="#6e6e6e" stroke-width="4.6"/>
<line x1="428.5" y1="943.3" x2="469.8" y2="947.3" stroke="#d2d2d2" stroke-width="1.6"/>
<line x1="469.8" y1="948.6" x2="511.1" y2="948.6" stroke="#6e6e6e" stroke-width="4.6"/>
<line x1="469.8" y1="947.3" x2="511.1" y2="947.3" stroke="#d2d2d2" stroke-width="1.6"/>
<line x1="511.1" y1="948.6" x2="552.4" y2="944.6" stroke="#6e6e6e" stroke-width="4.6"/>
<line x1="511.1" y1="947.3" x2="552.4" y2="943.3" stroke="#d2d2d2" stroke-width="1.6"/>
<line x1="552.4" y1="944.6" x2="593.7" y2="945.6" stroke="#6e6e6e" stroke-width="4.6"/>
<line x1="552.4" y1="943.3" x2="593.7" y2="944.3" stroke="#d2d2d2" stroke-width="1.6"/>
<line x1="593.7" y1="945.6" x2="635" y2="942.6" stroke="#6e6e6e" stroke-width="4.6"/>
<line x1="593.7" y1="944.3" x2="635" y2="941.3" stroke="#d2d2d2" stroke-width="1.6"/>
<line x1="635" y1="942.6" x2="676.3" y2="947.6" stroke="#6e6e6e" stroke-width="4.6"/>
<line x1="635" y1="941.3" x2="676.3" y2="946.3" stroke="#d2d2d2" stroke-width="1.6"/>
<line x1="676.3" y1="947.6" x2="717.6" y2="947.6" stroke="#6e6e6e" stroke-width="4.6"/>
<line x1="676.3" y1="946.3" x2="717.6" y2="946.3" stroke="#d2d2d2" stroke-width="1.6"/>
<line x1="717.6" y1="947.6" x2="758.9" y2="944.6" stroke="#6e6e6e" stroke-width="4.6"/>
<line x1="717.6" y1="946.3" x2="758.9" y2="943.3" stroke="#d2d2d2" stroke-width="1.6"/>
<line x1="758.9" y1="944.6" x2="800.2" y2="948.6" stroke="#6e6e6e" stroke-width="4.6"/>
<line x1="758.9" y1="943.3" x2="800.2" y2="947.3" stroke="#d2d2d2" stroke-width="1.6"/>
<circle cx="263.3" cy="944.1" r="12.8" fill="url(#sphT)"/>
<circle cx="304.6" cy="941.1" r="12.8" fill="url(#sphT)"/>
<circle cx="345.9" cy="946.1" r="12.8" fill="url(#sphT)"/>
<circle cx="387.2" cy="946.1" r="12.8" fill="url(#sphT)"/>
<circle cx="428.5" cy="943.1" r="12.8" fill="url(#sphT)"/>
<circle cx="469.8" cy="947.1" r="12.8" fill="url(#sphT)"/>
<circle cx="511.1" cy="947.1" r="12.8" fill="url(#sphT)"/>
<circle cx="552.4" cy="943.1" r="12.8" fill="url(#sphT)"/>
<circle cx="593.7" cy="944.1" r="12.8" fill="url(#sphT)"/>
<circle cx="635" cy="941.1" r="12.8" fill="url(#sphT)"/>
<circle cx="676.3" cy="946.1" r="12.8" fill="url(#sphT)"/>
<circle cx="717.6" cy="946.1" r="12.8" fill="url(#sphT)"/>
<circle cx="758.9" cy="943.1" r="12.8" fill="url(#sphT)"/>
<circle cx="800.2" cy="947.1" r="12.8" fill="url(#sphT)"/>
<line x1="258.8" y1="952.5" x2="300.1" y2="949.5" stroke="#6e6e6e" stroke-width="4.6"/>
<line x1="258.8" y1="951.2" x2="300.1" y2="948.2" stroke="#d2d2d2" stroke-width="1.6"/>
<line x1="300.1" y1="949.5" x2="341.4" y2="954.5" stroke="#6e6e6e" stroke-width="4.6"/>
<line x1="300.1" y1="948.2" x2="341.4" y2="953.2" stroke="#d2d2d2" stroke-width="1.6"/>
<line x1="341.4" y1="954.5" x2="382.7" y2="954.5" stroke="#6e6e6e" stroke-width="4.6"/>
<line x1="341.4" y1="953.2" x2="382.7" y2="953.2" stroke="#d2d2d2" stroke-width="1.6"/>
<line x1="382.7" y1="954.5" x2="424" y2="951.5" stroke="#6e6e6e" stroke-width="4.6"/>
<line x1="382.7" y1="953.2" x2="424" y2="950.2" stroke="#d2d2d2" stroke-width="1.6"/>
<line x1="424" y1="951.5" x2="465.3" y2="955.5" stroke="#6e6e6e" stroke-width="4.6"/>
<line x1="424" y1="950.2" x2="465.3" y2="954.2" stroke="#d2d2d2" stroke-width="1.6"/>
<line x1="465.3" y1="955.5" x2="506.6" y2="955.5" stroke="#6e6e6e" stroke-width="4.6"/>
<line x1="465.3" y1="954.2" x2="506.6" y2="954.2" stroke="#d2d2d2" stroke-width="1.6"/>
<line x1="506.6" y1="955.5" x2="547.9" y2="951.5" stroke="#6e6e6e" stroke-width="4.6"/>
<line x1="506.6" y1="954.2" x2="547.9" y2="950.2" stroke="#d2d2d2" stroke-width="1.6"/>
<line x1="547.9" y1="951.5" x2="589.2" y2="952.5" stroke="#6e6e6e" stroke-width="4.6"/>
<line x1="547.9" y1="950.2" x2="589.2" y2="951.2" stroke="#d2d2d2" stroke-width="1.6"/>
<line x1="589.2" y1="952.5" x2="630.5" y2="949.5" stroke="#6e6e6e" stroke-width="4.6"/>
<line x1="589.2" y1="951.2" x2="630.5" y2="948.2" stroke="#d2d2d2" stroke-width="1.6"/>
<line x1="630.5" y1="949.5" x2="671.8" y2="954.5" stroke="#6e6e6e" stroke-width="4.6"/>
<line x1="630.5" y1="948.2" x2="671.8" y2="953.2" stroke="#d2d2d2" stroke-width="1.6"/>
<line x1="671.8" y1="954.5" x2="713.1" y2="954.5" stroke="#6e6e6e" stroke-width="4.6"/>
<line x1="671.8" y1="953.2" x2="713.1" y2="953.2" stroke="#d2d2d2" stroke-width="1.6"/>
<line x1="713.1" y1="954.5" x2="754.4" y2="951.5" stroke="#6e6e6e" stroke-width="4.6"/>
<line x1="713.1" y1="953.2" x2="754.4" y2="950.2" stroke="#d2d2d2" stroke-width="1.6"/>
<line x1="754.4" y1="951.5" x2="795.7" y2="955.5" stroke="#6e6e6e" stroke-width="4.6"/>
<line x1="754.4" y1="950.2" x2="795.7" y2="954.2" stroke="#d2d2d2" stroke-width="1.6"/>
<circle cx="258.8" cy="951" r="12.8" fill="url(#sphT)"/>
<circle cx="300.1" cy="948" r="12.8" fill="url(#sphT)"/>
<circle cx="341.4" cy="953" r="12.8" fill="url(#sphT)"/>
<circle cx="382.7" cy="953" r="12.8" fill="url(#sphT)"/>
<circle cx="424" cy="950" r="12.8" fill="url(#sphT)"/>
<circle cx="465.3" cy="954" r="12.8" fill="url(#sphT)"/>
<circle cx="506.6" cy="954" r="12.8" fill="url(#sphT)"/>
<circle cx="547.9" cy="950" r="12.8" fill="url(#sphT)"/>
<circle cx="589.2" cy="951" r="12.8" fill="url(#sphT)"/>
<circle cx="630.5" cy="948" r="12.8" fill="url(#sphT)"/>
<circle cx="671.8" cy="953" r="12.8" fill="url(#sphT)"/>
<circle cx="713.1" cy="953" r="12.8" fill="url(#sphT)"/>
<circle cx="754.4" cy="950" r="12.8" fill="url(#sphT)"/>
<circle cx="795.7" cy="954" r="12.8" fill="url(#sphT)"/>
<line x1="1383.4" y1="892.8" x2="1412.1" y2="872.8" stroke="#9a9a9a" stroke-width="2.2"/>
<circle cx="1383.4" cy="892.8" r="12.3" fill="url(#sphCb)"/>
<line x1="1416.1" y1="898.8" x2="1453.7" y2="863.9" stroke="#9a9a9a" stroke-width="2.2"/>
<circle cx="1416.1" cy="898.8" r="12.3" fill="url(#sphCb)"/>
<line x1="1457.7" y1="889.9" x2="1487.8" y2="866.8" stroke="#9a9a9a" stroke-width="2.2"/>
<circle cx="1457.7" cy="889.9" r="12.3" fill="url(#sphCb)"/>
<line x1="1491.8" y1="892.8" x2="1522" y2="874.3" stroke="#9a9a9a" stroke-width="2.2"/>
<circle cx="1491.8" cy="892.8" r="12.3" fill="url(#sphCb)"/>
<line x1="1526" y1="900.3" x2="1563.6" y2="865.4" stroke="#9a9a9a" stroke-width="2.2"/>
<circle cx="1526" cy="900.3" r="12.3" fill="url(#sphCb)"/>
<line x1="1567.6" y1="891.4" x2="1597.7" y2="868.3" stroke="#9a9a9a" stroke-width="2.2"/>
<circle cx="1567.6" cy="891.4" r="12.3" fill="url(#sphCb)"/>
<line x1="1601.7" y1="894.3" x2="1631.9" y2="874.3" stroke="#9a9a9a" stroke-width="2.2"/>
<circle cx="1601.7" cy="894.3" r="12.3" fill="url(#sphCb)"/>
<line x1="1635.9" y1="900.3" x2="1673.4" y2="865.4" stroke="#9a9a9a" stroke-width="2.2"/>
<circle cx="1635.9" cy="900.3" r="12.3" fill="url(#sphCb)"/>
<line x1="1677.4" y1="891.4" x2="1707.6" y2="868.3" stroke="#9a9a9a" stroke-width="2.2"/>
<circle cx="1677.4" cy="891.4" r="12.3" fill="url(#sphCb)"/>
<line x1="1711.6" y1="894.3" x2="1740.3" y2="875.8" stroke="#9a9a9a" stroke-width="2.2"/>
<circle cx="1711.6" cy="894.3" r="12.3" fill="url(#sphCb)"/>
<line x1="1744.3" y1="901.8" x2="1783.3" y2="866.8" stroke="#9a9a9a" stroke-width="2.2"/>
<circle cx="1744.3" cy="901.8" r="12.3" fill="url(#sphCb)"/>
<line x1="1787.3" y1="892.8" x2="1816" y2="869.8" stroke="#9a9a9a" stroke-width="2.2"/>
<circle cx="1787.3" cy="892.8" r="12.3" fill="url(#sphCb)"/>
<line x1="1820" y1="895.8" x2="1850.2" y2="877.2" stroke="#9a9a9a" stroke-width="2.2"/>
<circle cx="1820" cy="895.8" r="12.3" fill="url(#sphCb)"/>
<line x1="1854.2" y1="903.2" x2="1891.7" y2="868.3" stroke="#9a9a9a" stroke-width="2.2"/>
<circle cx="1854.2" cy="903.2" r="12.3" fill="url(#sphCb)"/>
<line x1="1895.7" y1="894.3" x2="1924.4" y2="875.8" stroke="#9a9a9a" stroke-width="2.2"/>
<circle cx="1895.7" cy="894.3" r="12.3" fill="url(#sphCb)"/>
<circle cx="1928.4" cy="901.8" r="12.3" fill="url(#sphCb)"/>
<circle cx="1379.4" cy="866.8" r="12.3" fill="url(#sphCb)"/>
<circle cx="1412.1" cy="872.8" r="12.3" fill="url(#sphCb)"/>
<circle cx="1453.7" cy="863.9" r="12.3" fill="url(#sphCb)"/>
<circle cx="1487.8" cy="866.8" r="12.3" fill="url(#sphCb)"/>
<circle cx="1522" cy="874.3" r="12.3" fill="url(#sphCb)"/>
<circle cx="1563.6" cy="865.4" r="12.3" fill="url(#sphCb)"/>
<circle cx="1597.7" cy="868.3" r="12.3" fill="url(#sphCb)"/>
<circle cx="1631.9" cy="874.3" r="12.3" fill="url(#sphCb)"/>
<circle cx="1673.4" cy="865.4" r="12.3" fill="url(#sphCb)"/>
<circle cx="1707.6" cy="868.3" r="12.3" fill="url(#sphCb)"/>
<circle cx="1740.3" cy="875.8" r="12.3" fill="url(#sphCb)"/>
<circle cx="1783.3" cy="866.8" r="12.3" fill="url(#sphCb)"/>
<circle cx="1816" cy="869.8" r="12.3" fill="url(#sphCb)"/>
<circle cx="1850.2" cy="877.2" r="12.3" fill="url(#sphCb)"/>
<circle cx="1891.7" cy="868.3" r="12.3" fill="url(#sphCb)"/>
<circle cx="1924.4" cy="875.8" r="12.3" fill="url(#sphCb)"/>
<line x1="1375.6" y1="904.7" x2="1404.3" y2="884.7" stroke="#9a9a9a" stroke-width="2.2"/>
<circle cx="1375.6" cy="904.7" r="12.3" fill="url(#sphCb)"/>
<line x1="1408.3" y1="910.7" x2="1445.9" y2="875.8" stroke="#9a9a9a" stroke-width="2.2"/>
<circle cx="1408.3" cy="910.7" r="12.3" fill="url(#sphCb)"/>
<line x1="1449.9" y1="901.8" x2="1480" y2="878.7" stroke="#9a9a9a" stroke-width="2.2"/>
<circle cx="1449.9" cy="901.8" r="12.3" fill="url(#sphCb)"/>
<line x1="1484" y1="904.7" x2="1514.2" y2="886.2" stroke="#9a9a9a" stroke-width="2.2"/>
<circle cx="1484" cy="904.7" r="12.3" fill="url(#sphCb)"/>
<line x1="1518.2" y1="912.2" x2="1555.8" y2="877.3" stroke="#9a9a9a" stroke-width="2.2"/>
<circle cx="1518.2" cy="912.2" r="12.3" fill="url(#sphCb)"/>
<line x1="1559.8" y1="903.3" x2="1589.9" y2="880.2" stroke="#9a9a9a" stroke-width="2.2"/>
<circle cx="1559.8" cy="903.3" r="12.3" fill="url(#sphCb)"/>
<line x1="1593.9" y1="906.2" x2="1624.1" y2="886.2" stroke="#9a9a9a" stroke-width="2.2"/>
<circle cx="1593.9" cy="906.2" r="12.3" fill="url(#sphCb)"/>
<line x1="1628.1" y1="912.2" x2="1665.6" y2="877.3" stroke="#9a9a9a" stroke-width="2.2"/>
<circle cx="1628.1" cy="912.2" r="12.3" fill="url(#sphCb)"/>
<line x1="1669.6" y1="903.3" x2="1699.8" y2="880.2" stroke="#9a9a9a" stroke-width="2.2"/>
<circle cx="1669.6" cy="903.3" r="12.3" fill="url(#sphCb)"/>
<line x1="1703.8" y1="906.2" x2="1732.5" y2="887.7" stroke="#9a9a9a" stroke-width="2.2"/>
<circle cx="1703.8" cy="906.2" r="12.3" fill="url(#sphCb)"/>
<line x1="1736.5" y1="913.7" x2="1775.5" y2="878.7" stroke="#9a9a9a" stroke-width="2.2"/>
<circle cx="1736.5" cy="913.7" r="12.3" fill="url(#sphCb)"/>
<line x1="1779.5" y1="904.7" x2="1808.2" y2="881.7" stroke="#9a9a9a" stroke-width="2.2"/>
<circle cx="1779.5" cy="904.7" r="12.3" fill="url(#sphCb)"/>
<line x1="1812.2" y1="907.7" x2="1842.4" y2="889.1" stroke="#9a9a9a" stroke-width="2.2"/>
<circle cx="1812.2" cy="907.7" r="12.3" fill="url(#sphCb)"/>
<line x1="1846.4" y1="915.1" x2="1883.9" y2="880.2" stroke="#9a9a9a" stroke-width="2.2"/>
<circle cx="1846.4" cy="915.1" r="12.3" fill="url(#sphCb)"/>
<line x1="1887.9" y1="906.2" x2="1916.6" y2="887.7" stroke="#9a9a9a" stroke-width="2.2"/>
<circle cx="1887.9" cy="906.2" r="12.3" fill="url(#sphCb)"/>
<circle cx="1920.6" cy="913.7" r="12.3" fill="url(#sphCb)"/>
<circle cx="1371.6" cy="878.7" r="12.3" fill="url(#sphCb)"/>
<circle cx="1404.3" cy="884.7" r="12.3" fill="url(#sphCb)"/>
<circle cx="1445.9" cy="875.8" r="12.3" fill="url(#sphCb)"/>
<circle cx="1480" cy="878.7" r="12.3" fill="url(#sphCb)"/>
<circle cx="1514.2" cy="886.2" r="12.3" fill="url(#sphCb)"/>
<circle cx="1555.8" cy="877.3" r="12.3" fill="url(#sphCb)"/>
<circle cx="1589.9" cy="880.2" r="12.3" fill="url(#sphCb)"/>
<circle cx="1624.1" cy="886.2" r="12.3" fill="url(#sphCb)"/>
<circle cx="1665.6" cy="877.3" r="12.3" fill="url(#sphCb)"/>
<circle cx="1699.8" cy="880.2" r="12.3" fill="url(#sphCb)"/>
<circle cx="1732.5" cy="887.7" r="12.3" fill="url(#sphCb)"/>
<circle cx="1775.5" cy="878.7" r="12.3" fill="url(#sphCb)"/>
<circle cx="1808.2" cy="881.7" r="12.3" fill="url(#sphCb)"/>
<circle cx="1842.4" cy="889.1" r="12.3" fill="url(#sphCb)"/>
<circle cx="1883.9" cy="880.2" r="12.3" fill="url(#sphCb)"/>
<circle cx="1916.6" cy="887.7" r="12.3" fill="url(#sphCb)"/>
<line x1="1367.8" y1="916.6" x2="1396.5" y2="896.6" stroke="#9a9a9a" stroke-width="2.2"/>
<circle cx="1367.8" cy="916.6" r="12.3" fill="url(#sphCb)"/>
<line x1="1400.5" y1="922.6" x2="1438.1" y2="887.7" stroke="#9a9a9a" stroke-width="2.2"/>
<circle cx="1400.5" cy="922.6" r="12.3" fill="url(#sphCb)"/>
<line x1="1442.1" y1="913.7" x2="1472.2" y2="890.6" stroke="#9a9a9a" stroke-width="2.2"/>
<circle cx="1442.1" cy="913.7" r="12.3" fill="url(#sphCb)"/>
<line x1="1476.2" y1="916.6" x2="1506.4" y2="898.1" stroke="#9a9a9a" stroke-width="2.2"/>
<circle cx="1476.2" cy="916.6" r="12.3" fill="url(#sphCb)"/>
<line x1="1510.4" y1="924.1" x2="1548" y2="889.2" stroke="#9a9a9a" stroke-width="2.2"/>
<circle cx="1510.4" cy="924.1" r="12.3" fill="url(#sphCb)"/>
<line x1="1552" y1="915.2" x2="1582.1" y2="892.1" stroke="#9a9a9a" stroke-width="2.2"/>
<circle cx="1552" cy="915.2" r="12.3" fill="url(#sphCb)"/>
<line x1="1586.1" y1="918.1" x2="1616.3" y2="898.1" stroke="#9a9a9a" stroke-width="2.2"/>
<circle cx="1586.1" cy="918.1" r="12.3" fill="url(#sphCb)"/>
<line x1="1620.3" y1="924.1" x2="1657.8" y2="889.2" stroke="#9a9a9a" stroke-width="2.2"/>
<circle cx="1620.3" cy="924.1" r="12.3" fill="url(#sphCb)"/>
<line x1="1661.8" y1="915.2" x2="1692" y2="892.1" stroke="#9a9a9a" stroke-width="2.2"/>
<circle cx="1661.8" cy="915.2" r="12.3" fill="url(#sphCb)"/>
<line x1="1696" y1="918.1" x2="1724.7" y2="899.6" stroke="#9a9a9a" stroke-width="2.2"/>
<circle cx="1696" cy="918.1" r="12.3" fill="url(#sphCb)"/>
<line x1="1728.7" y1="925.6" x2="1767.7" y2="890.6" stroke="#9a9a9a" stroke-width="2.2"/>
<circle cx="1728.7" cy="925.6" r="12.3" fill="url(#sphCb)"/>
<line x1="1771.7" y1="916.6" x2="1800.4" y2="893.6" stroke="#9a9a9a" stroke-width="2.2"/>
<circle cx="1771.7" cy="916.6" r="12.3" fill="url(#sphCb)"/>
<line x1="1804.4" y1="919.6" x2="1834.6" y2="901" stroke="#9a9a9a" stroke-width="2.2"/>
<circle cx="1804.4" cy="919.6" r="12.3" fill="url(#sphCb)"/>
<line x1="1838.6" y1="927" x2="1876.1" y2="892.1" stroke="#9a9a9a" stroke-width="2.2"/>
<circle cx="1838.6" cy="927" r="12.3" fill="url(#sphCb)"/>
<line x1="1880.1" y1="918.1" x2="1908.8" y2="899.6" stroke="#9a9a9a" stroke-width="2.2"/>
<circle cx="1880.1" cy="918.1" r="12.3" fill="url(#sphCb)"/>
<circle cx="1912.8" cy="925.6" r="12.3" fill="url(#sphCb)"/>
<circle cx="1363.8" cy="890.6" r="12.3" fill="url(#sphCm)"/>
<circle cx="1396.5" cy="896.6" r="12.3" fill="url(#sphCm)"/>
<circle cx="1438.1" cy="887.7" r="12.3" fill="url(#sphCm)"/>
<circle cx="1472.2" cy="890.6" r="12.3" fill="url(#sphCm)"/>
<circle cx="1506.4" cy="898.1" r="12.3" fill="url(#sphCm)"/>
<circle cx="1548" cy="889.2" r="12.3" fill="url(#sphCm)"/>
<circle cx="1582.1" cy="892.1" r="12.3" fill="url(#sphCm)"/>
<circle cx="1616.3" cy="898.1" r="12.3" fill="url(#sphCm)"/>
<circle cx="1657.8" cy="889.2" r="12.3" fill="url(#sphCm)"/>
<circle cx="1692" cy="892.1" r="12.3" fill="url(#sphCm)"/>
<circle cx="1724.7" cy="899.6" r="12.3" fill="url(#sphCm)"/>
<circle cx="1767.7" cy="890.6" r="12.3" fill="url(#sphCm)"/>
<circle cx="1800.4" cy="893.6" r="12.3" fill="url(#sphCm)"/>
<circle cx="1834.6" cy="901" r="12.3" fill="url(#sphCm)"/>
<circle cx="1876.1" cy="892.1" r="12.3" fill="url(#sphCm)"/>
<circle cx="1908.8" cy="899.6" r="12.3" fill="url(#sphCm)"/>
<line x1="1360" y1="928.5" x2="1388.7" y2="908.5" stroke="#9a9a9a" stroke-width="2.2"/>
<circle cx="1360" cy="928.5" r="12.3" fill="url(#sphCb)"/>
<line x1="1392.7" y1="934.5" x2="1430.3" y2="899.6" stroke="#9a9a9a" stroke-width="2.2"/>
<circle cx="1392.7" cy="934.5" r="12.3" fill="url(#sphCb)"/>
<line x1="1434.3" y1="925.6" x2="1464.4" y2="902.5" stroke="#9a9a9a" stroke-width="2.2"/>
<circle cx="1434.3" cy="925.6" r="12.3" fill="url(#sphCb)"/>
<line x1="1468.4" y1="928.5" x2="1498.6" y2="910" stroke="#9a9a9a" stroke-width="2.2"/>
<circle cx="1468.4" cy="928.5" r="12.3" fill="url(#sphCb)"/>
<line x1="1502.6" y1="936" x2="1540.2" y2="901.1" stroke="#9a9a9a" stroke-width="2.2"/>
<circle cx="1502.6" cy="936" r="12.3" fill="url(#sphCb)"/>
<line x1="1544.2" y1="927.1" x2="1574.3" y2="904" stroke="#9a9a9a" stroke-width="2.2"/>
<circle cx="1544.2" cy="927.1" r="12.3" fill="url(#sphCb)"/>
<line x1="1578.3" y1="930" x2="1608.5" y2="910" stroke="#9a9a9a" stroke-width="2.2"/>
<circle cx="1578.3" cy="930" r="12.3" fill="url(#sphCb)"/>
<line x1="1612.5" y1="936" x2="1650" y2="901.1" stroke="#9a9a9a" stroke-width="2.2"/>
<circle cx="1612.5" cy="936" r="12.3" fill="url(#sphCb)"/>
<line x1="1654" y1="927.1" x2="1684.2" y2="904" stroke="#9a9a9a" stroke-width="2.2"/>
<circle cx="1654" cy="927.1" r="12.3" fill="url(#sphCb)"/>
<line x1="1688.2" y1="930" x2="1716.9" y2="911.5" stroke="#9a9a9a" stroke-width="2.2"/>
<circle cx="1688.2" cy="930" r="12.3" fill="url(#sphCb)"/>
<line x1="1720.9" y1="937.5" x2="1759.9" y2="902.5" stroke="#9a9a9a" stroke-width="2.2"/>
<circle cx="1720.9" cy="937.5" r="12.3" fill="url(#sphCb)"/>
<line x1="1763.9" y1="928.5" x2="1792.6" y2="905.5" stroke="#9a9a9a" stroke-width="2.2"/>
<circle cx="1763.9" cy="928.5" r="12.3" fill="url(#sphCb)"/>
<line x1="1796.6" y1="931.5" x2="1826.8" y2="912.9" stroke="#9a9a9a" stroke-width="2.2"/>
<circle cx="1796.6" cy="931.5" r="12.3" fill="url(#sphCb)"/>
<line x1="1830.8" y1="938.9" x2="1868.3" y2="904" stroke="#9a9a9a" stroke-width="2.2"/>
<circle cx="1830.8" cy="938.9" r="12.3" fill="url(#sphCb)"/>
<line x1="1872.3" y1="930" x2="1901" y2="911.5" stroke="#9a9a9a" stroke-width="2.2"/>
<circle cx="1872.3" cy="930" r="12.3" fill="url(#sphCb)"/>
<circle cx="1905" cy="937.5" r="12.3" fill="url(#sphCb)"/>
<circle cx="1356" cy="902.5" r="12.3" fill="url(#sphCm)"/>
<circle cx="1388.7" cy="908.5" r="12.3" fill="url(#sphCm)"/>
<circle cx="1430.3" cy="899.6" r="12.3" fill="url(#sphCm)"/>
<circle cx="1464.4" cy="902.5" r="12.3" fill="url(#sphCm)"/>
<circle cx="1498.6" cy="910" r="12.3" fill="url(#sphCm)"/>
<circle cx="1540.2" cy="901.1" r="12.3" fill="url(#sphCm)"/>
<circle cx="1574.3" cy="904" r="12.3" fill="url(#sphCm)"/>
<circle cx="1608.5" cy="910" r="12.3" fill="url(#sphCm)"/>
<circle cx="1650" cy="901.1" r="12.3" fill="url(#sphCm)"/>
<circle cx="1684.2" cy="904" r="12.3" fill="url(#sphCm)"/>
<circle cx="1716.9" cy="911.5" r="12.3" fill="url(#sphCm)"/>
<circle cx="1759.9" cy="902.5" r="12.3" fill="url(#sphCm)"/>
<circle cx="1792.6" cy="905.5" r="12.3" fill="url(#sphCm)"/>
<circle cx="1826.8" cy="912.9" r="12.3" fill="url(#sphCm)"/>
<circle cx="1868.3" cy="904" r="12.3" fill="url(#sphCm)"/>
<circle cx="1901" cy="911.5" r="12.3" fill="url(#sphCm)"/>
<line x1="1352.2" y1="940.4" x2="1380.9" y2="920.4" stroke="#9a9a9a" stroke-width="2.2"/>
<circle cx="1352.2" cy="940.4" r="12.3" fill="url(#sphCm)"/>
<line x1="1384.9" y1="946.4" x2="1422.5" y2="911.5" stroke="#9a9a9a" stroke-width="2.2"/>
<circle cx="1384.9" cy="946.4" r="12.3" fill="url(#sphCm)"/>
<line x1="1426.5" y1="937.5" x2="1456.6" y2="914.4" stroke="#9a9a9a" stroke-width="2.2"/>
<circle cx="1426.5" cy="937.5" r="12.3" fill="url(#sphCm)"/>
<line x1="1460.6" y1="940.4" x2="1490.8" y2="921.9" stroke="#9a9a9a" stroke-width="2.2"/>
<circle cx="1460.6" cy="940.4" r="12.3" fill="url(#sphCm)"/>
<line x1="1494.8" y1="947.9" x2="1532.4" y2="913" stroke="#9a9a9a" stroke-width="2.2"/>
<circle cx="1494.8" cy="947.9" r="12.3" fill="url(#sphCm)"/>
<line x1="1536.4" y1="939" x2="1566.5" y2="915.9" stroke="#9a9a9a" stroke-width="2.2"/>
<circle cx="1536.4" cy="939" r="12.3" fill="url(#sphCm)"/>
<line x1="1570.5" y1="941.9" x2="1600.7" y2="921.9" stroke="#9a9a9a" stroke-width="2.2"/>
<circle cx="1570.5" cy="941.9" r="12.3" fill="url(#sphCm)"/>
<line x1="1604.7" y1="947.9" x2="1642.2" y2="913" stroke="#9a9a9a" stroke-width="2.2"/>
<circle cx="1604.7" cy="947.9" r="12.3" fill="url(#sphCm)"/>
<line x1="1646.2" y1="939" x2="1676.4" y2="915.9" stroke="#9a9a9a" stroke-width="2.2"/>
<circle cx="1646.2" cy="939" r="12.3" fill="url(#sphCm)"/>
<line x1="1680.4" y1="941.9" x2="1709.1" y2="923.4" stroke="#9a9a9a" stroke-width="2.2"/>
<circle cx="1680.4" cy="941.9" r="12.3" fill="url(#sphCm)"/>
<line x1="1713.1" y1="949.4" x2="1752.1" y2="914.4" stroke="#9a9a9a" stroke-width="2.2"/>
<circle cx="1713.1" cy="949.4" r="12.3" fill="url(#sphCm)"/>
<line x1="1756.1" y1="940.4" x2="1784.8" y2="917.4" stroke="#9a9a9a" stroke-width="2.2"/>
<circle cx="1756.1" cy="940.4" r="12.3" fill="url(#sphCm)"/>
<line x1="1788.8" y1="943.4" x2="1819" y2="924.8" stroke="#9a9a9a" stroke-width="2.2"/>
<circle cx="1788.8" cy="943.4" r="12.3" fill="url(#sphCm)"/>
<line x1="1823" y1="950.8" x2="1860.5" y2="915.9" stroke="#9a9a9a" stroke-width="2.2"/>
<circle cx="1823" cy="950.8" r="12.3" fill="url(#sphCm)"/>
<line x1="1864.5" y1="941.9" x2="1893.2" y2="923.4" stroke="#9a9a9a" stroke-width="2.2"/>
<circle cx="1864.5" cy="941.9" r="12.3" fill="url(#sphCm)"/>
<circle cx="1897.2" cy="949.4" r="12.3" fill="url(#sphCm)"/>
<line x1="1348.2" y1="914.4" x2="1352.2" y2="940.4" stroke="#3a3a3a" stroke-width="3"/>
<circle cx="1348.2" cy="914.4" r="12.3" fill="url(#sphC)"/>
<line x1="1380.9" y1="920.4" x2="1384.9" y2="946.4" stroke="#3a3a3a" stroke-width="3"/>
<circle cx="1380.9" cy="920.4" r="12.3" fill="url(#sphC)"/>
<line x1="1422.5" y1="911.5" x2="1426.5" y2="937.5" stroke="#3a3a3a" stroke-width="3"/>
<circle cx="1422.5" cy="911.5" r="12.3" fill="url(#sphC)"/>
<line x1="1456.6" y1="914.4" x2="1460.6" y2="940.4" stroke="#3a3a3a" stroke-width="3"/>
<circle cx="1456.6" cy="914.4" r="12.3" fill="url(#sphC)"/>
<line x1="1490.8" y1="921.9" x2="1494.8" y2="947.9" stroke="#3a3a3a" stroke-width="3"/>
<circle cx="1490.8" cy="921.9" r="12.3" fill="url(#sphC)"/>
<line x1="1532.4" y1="913" x2="1536.4" y2="939" stroke="#3a3a3a" stroke-width="3"/>
<circle cx="1532.4" cy="913" r="12.3" fill="url(#sphC)"/>
<line x1="1566.5" y1="915.9" x2="1570.5" y2="941.9" stroke="#3a3a3a" stroke-width="3"/>
<circle cx="1566.5" cy="915.9" r="12.3" fill="url(#sphC)"/>
<line x1="1600.7" y1="921.9" x2="1604.7" y2="947.9" stroke="#3a3a3a" stroke-width="3"/>
<circle cx="1600.7" cy="921.9" r="12.3" fill="url(#sphC)"/>
<line x1="1642.2" y1="913" x2="1646.2" y2="939" stroke="#3a3a3a" stroke-width="3"/>
<circle cx="1642.2" cy="913" r="12.3" fill="url(#sphC)"/>
<line x1="1676.4" y1="915.9" x2="1680.4" y2="941.9" stroke="#3a3a3a" stroke-width="3"/>
<circle cx="1676.4" cy="915.9" r="12.3" fill="url(#sphC)"/>
<line x1="1709.1" y1="923.4" x2="1713.1" y2="949.4" stroke="#3a3a3a" stroke-width="3"/>
<circle cx="1709.1" cy="923.4" r="12.3" fill="url(#sphC)"/>
<line x1="1752.1" y1="914.4" x2="1756.1" y2="940.4" stroke="#3a3a3a" stroke-width="3"/>
<circle cx="1752.1" cy="914.4" r="12.3" fill="url(#sphC)"/>
<line x1="1784.8" y1="917.4" x2="1788.8" y2="943.4" stroke="#3a3a3a" stroke-width="3"/>
<circle cx="1784.8" cy="917.4" r="12.3" fill="url(#sphC)"/>
<line x1="1819" y1="924.8" x2="1823" y2="950.8" stroke="#3a3a3a" stroke-width="3"/>
<circle cx="1819" cy="924.8" r="12.3" fill="url(#sphC)"/>
<line x1="1860.5" y1="915.9" x2="1864.5" y2="941.9" stroke="#3a3a3a" stroke-width="3"/>
<circle cx="1860.5" cy="915.9" r="12.3" fill="url(#sphC)"/>
<line x1="1893.2" y1="923.4" x2="1897.2" y2="949.4" stroke="#3a3a3a" stroke-width="3"/>
<circle cx="1893.2" cy="923.4" r="12.3" fill="url(#sphC)"/>
<line x1="1343.3" y1="816.9" x2="1383.9" y2="794.3" stroke="#9a9a9a" stroke-width="2.2"/>
<circle cx="1343.3" cy="816.9" r="12.3" fill="url(#sphCb)"/>
<line x1="1384.9" y1="821.3" x2="1418.1" y2="786.9" stroke="#9a9a9a" stroke-width="2.2"/>
<line x1="1419.1" y1="813.9" x2="1459.6" y2="791.3" stroke="#9a9a9a" stroke-width="2.2"/>
<line x1="1460.6" y1="818.3" x2="1502.7" y2="792.8" stroke="#9a9a9a" stroke-width="2.2"/>
<line x1="1503.7" y1="819.8" x2="1535.4" y2="786.9" stroke="#9a9a9a" stroke-width="2.2"/>
<line x1="1536.4" y1="813.9" x2="1576.9" y2="789.9" stroke="#9a9a9a" stroke-width="2.2"/>
<line x1="1577.9" y1="816.9" x2="1620" y2="792.8" stroke="#9a9a9a" stroke-width="2.2"/>
<line x1="1621" y1="819.8" x2="1652.7" y2="786.9" stroke="#9a9a9a" stroke-width="2.2"/>
<line x1="1653.7" y1="813.9" x2="1695.7" y2="791.3" stroke="#9a9a9a" stroke-width="2.2"/>
<line x1="1696.7" y1="818.3" x2="1737.3" y2="794.3" stroke="#9a9a9a" stroke-width="2.2"/>
<line x1="1738.3" y1="821.3" x2="1770" y2="786.9" stroke="#9a9a9a" stroke-width="2.2"/>
<line x1="1771" y1="813.9" x2="1811.6" y2="789.9" stroke="#9a9a9a" stroke-width="2.2"/>
<line x1="1812.6" y1="816.9" x2="1853.2" y2="794.3" stroke="#9a9a9a" stroke-width="2.2"/>
<line x1="1854.2" y1="821.3" x2="1887.3" y2="786.9" stroke="#9a9a9a" stroke-width="2.2"/>
<circle cx="1342.3" cy="789.9" r="12.3" fill="url(#sphCb)"/>
<circle cx="1383.9" cy="794.3" r="12.3" fill="url(#sphCb)"/>
<circle cx="1418.1" cy="786.9" r="12.3" fill="url(#sphCb)"/>
<circle cx="1459.6" cy="791.3" r="12.3" fill="url(#sphCb)"/>
<circle cx="1502.7" cy="792.8" r="12.3" fill="url(#sphCb)"/>
<circle cx="1535.4" cy="786.9" r="12.3" fill="url(#sphCb)"/>
<circle cx="1576.9" cy="789.9" r="12.3" fill="url(#sphCb)"/>
<circle cx="1620" cy="792.8" r="12.3" fill="url(#sphCb)"/>
<circle cx="1652.7" cy="786.9" r="12.3" fill="url(#sphCb)"/>
<circle cx="1695.7" cy="791.3" r="12.3" fill="url(#sphCb)"/>
<circle cx="1737.3" cy="794.3" r="12.3" fill="url(#sphCb)"/>
<circle cx="1770" cy="786.9" r="12.3" fill="url(#sphCb)"/>
<circle cx="1811.6" cy="789.9" r="12.3" fill="url(#sphCb)"/>
<circle cx="1853.2" cy="794.3" r="12.3" fill="url(#sphCb)"/>
<circle cx="1887.3" cy="786.9" r="12.3" fill="url(#sphCb)"/>
<line x1="1352.2" y1="828" x2="1392.8" y2="805.4" stroke="#9a9a9a" stroke-width="2.2"/>
<circle cx="1352.2" cy="828" r="12.3" fill="url(#sphCb)"/>
<line x1="1393.8" y1="832.4" x2="1427" y2="798" stroke="#9a9a9a" stroke-width="2.2"/>
<line x1="1428" y1="825" x2="1468.5" y2="802.4" stroke="#9a9a9a" stroke-width="2.2"/>
<line x1="1469.5" y1="829.4" x2="1511.6" y2="803.9" stroke="#9a9a9a" stroke-width="2.2"/>
<line x1="1512.6" y1="830.9" x2="1544.3" y2="798" stroke="#9a9a9a" stroke-width="2.2"/>
<line x1="1545.3" y1="825" x2="1585.8" y2="801" stroke="#9a9a9a" stroke-width="2.2"/>
<line x1="1586.8" y1="828" x2="1628.9" y2="803.9" stroke="#9a9a9a" stroke-width="2.2"/>
<line x1="1629.9" y1="830.9" x2="1661.6" y2="798" stroke="#9a9a9a" stroke-width="2.2"/>
<line x1="1662.6" y1="825" x2="1704.6" y2="802.4" stroke="#9a9a9a" stroke-width="2.2"/>
<line x1="1705.6" y1="829.4" x2="1746.2" y2="805.4" stroke="#9a9a9a" stroke-width="2.2"/>
<line x1="1747.2" y1="832.4" x2="1778.9" y2="798" stroke="#9a9a9a" stroke-width="2.2"/>
<line x1="1779.9" y1="825" x2="1820.5" y2="801" stroke="#9a9a9a" stroke-width="2.2"/>
<line x1="1821.5" y1="828" x2="1862.1" y2="805.4" stroke="#9a9a9a" stroke-width="2.2"/>
<line x1="1863.1" y1="832.4" x2="1896.2" y2="798" stroke="#9a9a9a" stroke-width="2.2"/>
<circle cx="1351.2" cy="801" r="12.3" fill="url(#sphCb)"/>
<circle cx="1392.8" cy="805.4" r="12.3" fill="url(#sphCb)"/>
<circle cx="1427" cy="798" r="12.3" fill="url(#sphCb)"/>
<circle cx="1468.5" cy="802.4" r="12.3" fill="url(#sphCb)"/>
<circle cx="1511.6" cy="803.9" r="12.3" fill="url(#sphCb)"/>
<circle cx="1544.3" cy="798" r="12.3" fill="url(#sphCb)"/>
<circle cx="1585.8" cy="801" r="12.3" fill="url(#sphCb)"/>
<circle cx="1628.9" cy="803.9" r="12.3" fill="url(#sphCb)"/>
<circle cx="1661.6" cy="798" r="12.3" fill="url(#sphCb)"/>
<circle cx="1704.6" cy="802.4" r="12.3" fill="url(#sphCb)"/>
<circle cx="1746.2" cy="805.4" r="12.3" fill="url(#sphCb)"/>
<circle cx="1778.9" cy="798" r="12.3" fill="url(#sphCb)"/>
<circle cx="1820.5" cy="801" r="12.3" fill="url(#sphCb)"/>
<circle cx="1862.1" cy="805.4" r="12.3" fill="url(#sphCb)"/>
<circle cx="1896.2" cy="798" r="12.3" fill="url(#sphCb)"/>
<line x1="1361.1" y1="839.1" x2="1401.7" y2="816.5" stroke="#9a9a9a" stroke-width="2.2"/>
<circle cx="1361.1" cy="839.1" r="12.3" fill="url(#sphCb)"/>
<line x1="1402.7" y1="843.5" x2="1435.9" y2="809.1" stroke="#9a9a9a" stroke-width="2.2"/>
<line x1="1436.9" y1="836.1" x2="1477.4" y2="813.5" stroke="#9a9a9a" stroke-width="2.2"/>
<line x1="1478.4" y1="840.5" x2="1520.5" y2="815" stroke="#9a9a9a" stroke-width="2.2"/>
<line x1="1521.5" y1="842" x2="1553.2" y2="809.1" stroke="#9a9a9a" stroke-width="2.2"/>
<line x1="1554.2" y1="836.1" x2="1594.7" y2="812.1" stroke="#9a9a9a" stroke-width="2.2"/>
<line x1="1595.7" y1="839.1" x2="1637.8" y2="815" stroke="#9a9a9a" stroke-width="2.2"/>
<line x1="1638.8" y1="842" x2="1670.5" y2="809.1" stroke="#9a9a9a" stroke-width="2.2"/>
<line x1="1671.5" y1="836.1" x2="1713.5" y2="813.5" stroke="#9a9a9a" stroke-width="2.2"/>
<line x1="1714.5" y1="840.5" x2="1755.1" y2="816.5" stroke="#9a9a9a" stroke-width="2.2"/>
<line x1="1756.1" y1="843.5" x2="1787.8" y2="809.1" stroke="#9a9a9a" stroke-width="2.2"/>
<line x1="1788.8" y1="836.1" x2="1829.4" y2="812.1" stroke="#9a9a9a" stroke-width="2.2"/>
<line x1="1830.4" y1="839.1" x2="1871" y2="816.5" stroke="#9a9a9a" stroke-width="2.2"/>
<line x1="1872" y1="843.5" x2="1905.1" y2="809.1" stroke="#9a9a9a" stroke-width="2.2"/>
<circle cx="1360.1" cy="812.1" r="12.3" fill="url(#sphCm)"/>
<circle cx="1401.7" cy="816.5" r="12.3" fill="url(#sphCm)"/>
<circle cx="1435.9" cy="809.1" r="12.3" fill="url(#sphCm)"/>
<circle cx="1477.4" cy="813.5" r="12.3" fill="url(#sphCm)"/>
<circle cx="1520.5" cy="815" r="12.3" fill="url(#sphCm)"/>
<circle cx="1553.2" cy="809.1" r="12.3" fill="url(#sphCm)"/>
<circle cx="1594.7" cy="812.1" r="12.3" fill="url(#sphCm)"/>
<circle cx="1637.8" cy="815" r="12.3" fill="url(#sphCm)"/>
<circle cx="1670.5" cy="809.1" r="12.3" fill="url(#sphCm)"/>
<circle cx="1713.5" cy="813.5" r="12.3" fill="url(#sphCm)"/>
<circle cx="1755.1" cy="816.5" r="12.3" fill="url(#sphCm)"/>
<circle cx="1787.8" cy="809.1" r="12.3" fill="url(#sphCm)"/>
<circle cx="1829.4" cy="812.1" r="12.3" fill="url(#sphCm)"/>
<circle cx="1871" cy="816.5" r="12.3" fill="url(#sphCm)"/>
<circle cx="1905.1" cy="809.1" r="12.3" fill="url(#sphCm)"/>
<line x1="1370" y1="850.2" x2="1410.6" y2="827.6" stroke="#9a9a9a" stroke-width="2.2"/>
<circle cx="1370" cy="850.2" r="12.3" fill="url(#sphCb)"/>
<line x1="1411.6" y1="854.6" x2="1444.8" y2="820.2" stroke="#9a9a9a" stroke-width="2.2"/>
<line x1="1445.8" y1="847.2" x2="1486.3" y2="824.6" stroke="#9a9a9a" stroke-width="2.2"/>
<line x1="1487.3" y1="851.6" x2="1529.4" y2="826.1" stroke="#9a9a9a" stroke-width="2.2"/>
<line x1="1530.4" y1="853.1" x2="1562.1" y2="820.2" stroke="#9a9a9a" stroke-width="2.2"/>
<line x1="1563.1" y1="847.2" x2="1603.6" y2="823.2" stroke="#9a9a9a" stroke-width="2.2"/>
<line x1="1604.6" y1="850.2" x2="1646.7" y2="826.1" stroke="#9a9a9a" stroke-width="2.2"/>
<line x1="1647.7" y1="853.1" x2="1679.4" y2="820.2" stroke="#9a9a9a" stroke-width="2.2"/>
<line x1="1680.4" y1="847.2" x2="1722.4" y2="824.6" stroke="#9a9a9a" stroke-width="2.2"/>
<line x1="1723.4" y1="851.6" x2="1764" y2="827.6" stroke="#9a9a9a" stroke-width="2.2"/>
<line x1="1765" y1="854.6" x2="1796.7" y2="820.2" stroke="#9a9a9a" stroke-width="2.2"/>
<line x1="1797.7" y1="847.2" x2="1838.3" y2="823.2" stroke="#9a9a9a" stroke-width="2.2"/>
<line x1="1839.3" y1="850.2" x2="1879.9" y2="827.6" stroke="#9a9a9a" stroke-width="2.2"/>
<line x1="1880.9" y1="854.6" x2="1914" y2="820.2" stroke="#9a9a9a" stroke-width="2.2"/>
<circle cx="1369" cy="823.2" r="12.3" fill="url(#sphCm)"/>
<circle cx="1410.6" cy="827.6" r="12.3" fill="url(#sphCm)"/>
<circle cx="1444.8" cy="820.2" r="12.3" fill="url(#sphCm)"/>
<circle cx="1486.3" cy="824.6" r="12.3" fill="url(#sphCm)"/>
<circle cx="1529.4" cy="826.1" r="12.3" fill="url(#sphCm)"/>
<circle cx="1562.1" cy="820.2" r="12.3" fill="url(#sphCm)"/>
<circle cx="1603.6" cy="823.2" r="12.3" fill="url(#sphCm)"/>
<circle cx="1646.7" cy="826.1" r="12.3" fill="url(#sphCm)"/>
<circle cx="1679.4" cy="820.2" r="12.3" fill="url(#sphCm)"/>
<circle cx="1722.4" cy="824.6" r="12.3" fill="url(#sphCm)"/>
<circle cx="1764" cy="827.6" r="12.3" fill="url(#sphCm)"/>
<circle cx="1796.7" cy="820.2" r="12.3" fill="url(#sphCm)"/>
<circle cx="1838.3" cy="823.2" r="12.3" fill="url(#sphCm)"/>
<circle cx="1879.9" cy="827.6" r="12.3" fill="url(#sphCm)"/>
<circle cx="1914" cy="820.2" r="12.3" fill="url(#sphCm)"/>
<line x1="1378.9" y1="861.3" x2="1419.5" y2="838.7" stroke="#9a9a9a" stroke-width="2.2"/>
<circle cx="1378.9" cy="861.3" r="12.3" fill="url(#sphCm)"/>
<line x1="1420.5" y1="865.7" x2="1453.7" y2="831.3" stroke="#9a9a9a" stroke-width="2.2"/>
<circle cx="1420.5" cy="865.7" r="12.3" fill="url(#sphCm)"/>
<line x1="1454.7" y1="858.3" x2="1495.2" y2="835.7" stroke="#9a9a9a" stroke-width="2.2"/>
<circle cx="1454.7" cy="858.3" r="12.3" fill="url(#sphCm)"/>
<line x1="1496.2" y1="862.7" x2="1538.3" y2="837.2" stroke="#9a9a9a" stroke-width="2.2"/>
<circle cx="1496.2" cy="862.7" r="12.3" fill="url(#sphCm)"/>
<line x1="1539.3" y1="864.2" x2="1571" y2="831.3" stroke="#9a9a9a" stroke-width="2.2"/>
<circle cx="1539.3" cy="864.2" r="12.3" fill="url(#sphCm)"/>
<line x1="1572" y1="858.3" x2="1612.5" y2="834.3" stroke="#9a9a9a" stroke-width="2.2"/>
<circle cx="1572" cy="858.3" r="12.3" fill="url(#sphCm)"/>
<line x1="1613.5" y1="861.3" x2="1655.6" y2="837.2" stroke="#9a9a9a" stroke-width="2.2"/>
<circle cx="1613.5" cy="861.3" r="12.3" fill="url(#sphCm)"/>
<line x1="1656.6" y1="864.2" x2="1688.3" y2="831.3" stroke="#9a9a9a" stroke-width="2.2"/>
<circle cx="1656.6" cy="864.2" r="12.3" fill="url(#sphCm)"/>
<line x1="1689.3" y1="858.3" x2="1731.3" y2="835.7" stroke="#9a9a9a" stroke-width="2.2"/>
<circle cx="1689.3" cy="858.3" r="12.3" fill="url(#sphCm)"/>
<line x1="1732.3" y1="862.7" x2="1772.9" y2="838.7" stroke="#9a9a9a" stroke-width="2.2"/>
<circle cx="1732.3" cy="862.7" r="12.3" fill="url(#sphCm)"/>
<line x1="1773.9" y1="865.7" x2="1805.6" y2="831.3" stroke="#9a9a9a" stroke-width="2.2"/>
<circle cx="1773.9" cy="865.7" r="12.3" fill="url(#sphCm)"/>
<line x1="1806.6" y1="858.3" x2="1847.2" y2="834.3" stroke="#9a9a9a" stroke-width="2.2"/>
<circle cx="1806.6" cy="858.3" r="12.3" fill="url(#sphCm)"/>
<line x1="1848.2" y1="861.3" x2="1888.8" y2="838.7" stroke="#9a9a9a" stroke-width="2.2"/>
<circle cx="1848.2" cy="861.3" r="12.3" fill="url(#sphCm)"/>
<line x1="1889.8" y1="865.7" x2="1922.9" y2="831.3" stroke="#9a9a9a" stroke-width="2.2"/>
<circle cx="1889.8" cy="865.7" r="12.3" fill="url(#sphCm)"/>
<circle cx="1923.9" cy="858.3" r="12.3" fill="url(#sphCm)"/>
<line x1="1377.9" y1="834.3" x2="1378.9" y2="861.3" stroke="#3a3a3a" stroke-width="3.2"/>
<circle cx="1378.9" cy="861.3" r="12.3" fill="url(#sphCm)"/>
<circle cx="1377.9" cy="834.3" r="12.3" fill="url(#sphC)"/>
<line x1="1419.5" y1="838.7" x2="1420.5" y2="865.7" stroke="#3a3a3a" stroke-width="3.2"/>
<circle cx="1420.5" cy="865.7" r="12.3" fill="url(#sphCm)"/>
<circle cx="1419.5" cy="838.7" r="12.3" fill="url(#sphC)"/>
<line x1="1453.7" y1="831.3" x2="1454.7" y2="858.3" stroke="#3a3a3a" stroke-width="3.2"/>
<circle cx="1454.7" cy="858.3" r="12.3" fill="url(#sphCm)"/>
<circle cx="1453.7" cy="831.3" r="12.3" fill="url(#sphC)"/>
<line x1="1495.2" y1="835.7" x2="1496.2" y2="862.7" stroke="#3a3a3a" stroke-width="3.2"/>
<circle cx="1496.2" cy="862.7" r="12.3" fill="url(#sphCm)"/>
<circle cx="1495.2" cy="835.7" r="12.3" fill="url(#sphC)"/>
<line x1="1538.3" y1="837.2" x2="1539.3" y2="864.2" stroke="#3a3a3a" stroke-width="3.2"/>
<circle cx="1539.3" cy="864.2" r="12.3" fill="url(#sphCm)"/>
<circle cx="1538.3" cy="837.2" r="12.3" fill="url(#sphC)"/>
<line x1="1571" y1="831.3" x2="1572" y2="858.3" stroke="#3a3a3a" stroke-width="3.2"/>
<circle cx="1572" cy="858.3" r="12.3" fill="url(#sphCm)"/>
<circle cx="1571" cy="831.3" r="12.3" fill="url(#sphC)"/>
<line x1="1612.5" y1="834.3" x2="1613.5" y2="861.3" stroke="#3a3a3a" stroke-width="3.2"/>
<circle cx="1613.5" cy="861.3" r="12.3" fill="url(#sphCm)"/>
<circle cx="1612.5" cy="834.3" r="12.3" fill="url(#sphC)"/>
<line x1="1655.6" y1="837.2" x2="1656.6" y2="864.2" stroke="#3a3a3a" stroke-width="3.2"/>
<circle cx="1656.6" cy="864.2" r="12.3" fill="url(#sphCm)"/>
<circle cx="1655.6" cy="837.2" r="12.3" fill="url(#sphC)"/>
<line x1="1688.3" y1="831.3" x2="1689.3" y2="858.3" stroke="#3a3a3a" stroke-width="3.2"/>
<circle cx="1689.3" cy="858.3" r="12.3" fill="url(#sphCm)"/>
<circle cx="1688.3" cy="831.3" r="12.3" fill="url(#sphC)"/>
<line x1="1731.3" y1="835.7" x2="1732.3" y2="862.7" stroke="#3a3a3a" stroke-width="3.2"/>
<circle cx="1732.3" cy="862.7" r="12.3" fill="url(#sphCm)"/>
<circle cx="1731.3" cy="835.7" r="12.3" fill="url(#sphC)"/>
<line x1="1772.9" y1="838.7" x2="1773.9" y2="865.7" stroke="#3a3a3a" stroke-width="3.2"/>
<circle cx="1773.9" cy="865.7" r="12.3" fill="url(#sphCm)"/>
<circle cx="1772.9" cy="838.7" r="12.3" fill="url(#sphC)"/>
<line x1="1805.6" y1="831.3" x2="1806.6" y2="858.3" stroke="#3a3a3a" stroke-width="3.2"/>
<circle cx="1806.6" cy="858.3" r="12.3" fill="url(#sphCm)"/>
<circle cx="1805.6" cy="831.3" r="12.3" fill="url(#sphC)"/>
<line x1="1847.2" y1="834.3" x2="1848.2" y2="861.3" stroke="#3a3a3a" stroke-width="3.2"/>
<circle cx="1848.2" cy="861.3" r="12.3" fill="url(#sphCm)"/>
<circle cx="1847.2" cy="834.3" r="12.3" fill="url(#sphC)"/>
<line x1="1888.8" y1="838.7" x2="1889.8" y2="865.7" stroke="#3a3a3a" stroke-width="3.2"/>
<circle cx="1889.8" cy="865.7" r="12.3" fill="url(#sphCm)"/>
<circle cx="1888.8" cy="838.7" r="12.3" fill="url(#sphC)"/>
<line x1="1922.9" y1="831.3" x2="1923.9" y2="858.3" stroke="#3a3a3a" stroke-width="3.2"/>
<circle cx="1923.9" cy="858.3" r="12.3" fill="url(#sphCm)"/>
<circle cx="1922.9" cy="831.3" r="12.3" fill="url(#sphC)"/>
<line x1="291.3" y1="1055.8" x2="291.3" y2="1522.5" stroke="#222" stroke-width="1.5"/>
<line x1="438.8" y1="1055.8" x2="438.8" y2="1522.5" stroke="#222" stroke-width="1.5"/>
<line x1="120" y1="1289.2" x2="524.8" y2="1289.2" stroke="#000" stroke-width="1.4" stroke-dasharray="5.5,3.5"/>
<g clip-path="url(#clp1)">
<path d="M365.1,1528.9l6.2-3.2 6.1-3.3 6.2,1.7 6.1,1.9 6.2,1.9M132.2,1527.3l6.2-2.6 6.1,1.4 6.1,3.2M175.1,1526.4l6.1-3.2 6.1-0.7 6.1,2.5 6.1,2.5M224.0,1528.3l6.1-2.9 6.1,0.2 6.2,1.9M334.3,1527.1l6.2-2.3 6.1-2.3 6.2-2.2 6.1-2.2 6.1,0.2 6.2,1.9 6.1,2 6.2,1.9 6.1,1.9 6.2,1.9M487.9,1527.1l6.2-2.4 6.1-2.3 6.2,1.5 6.1,2.9M120.0,1513.4l6.1,3.2 6.1,3.1 6.2,3.2 6.1-0.9 6.1-2.6 6.1-2.6 6.1-2.6 6.1,0.8 6.2,2.4 6.1,2.5 6.1,0 6.1-3.2 6.1-1.2 6.1,1.5 6.2,1.6 6.1,1.7 6.1,1.7 6.1,1.8 6.1-1.3 6.2-2.9 6.1,1.8 6.1,3.2 6.1,3.2M334.3,1527.0l6.2-2.3 6.1-2.3 6.2-2.2 6.1-2.2 6.1,0.3 6.2,1.9 6.1,2 6.2-3.1 6.1-3.2 6.2,2.1 6.1,3.2 6.2,3.1 6.1,3.2M463.4,1526.9l6.1-2.9 6.2-1.4 6.1-1.3 6.1-1.2 6.2-1.2 6.1,2.1 6.2-0.9 6.1-2.2 6.2-2.3 6.1-2.2M120.0,1513.4l6.1-0.9 6.1-0.9 6.2-0.7 6.1-0.7 6.1-0.5 6.1,0.4 6.1,2.4 6.1-0.8 6.2-1.1 6.1,0.9 6.1,1.2 6.1,1.4 6.1-0.7 6.1-3.2 6.2-3.2 6.1-1.4 6.1,3.1 6.1,3.2 6.1,3.2 6.2,3.1 6.1-1.5 6.1-2.8 6.1-2.9 6.1-2.8 6.1-2.9 6.2-2.8 6.1-2.8 6.1-2.8 6.1,1.6 6.2,1.7 6.1,1.7 6.2,1.8 6.1,1.7 6.2,1.8 6.1,1.8 6.2,1.8 6.1,1.9 6.2,1.8 6.1,1.9 6.1-0.5 6.2-2.2 6.1-2.1 6.2,0.1 6.1,3.1 6.2,3.2 6.1,3.2 6.2,3.1 6.1,3.2M457.2,1526.7l6.2-1.4 6.1-1.4 6.2-3.1 6.1-3 6.1-2.6 6.2,2.9 6.1-0.4 6.2-1.1 6.1-1.1 6.2-1.1 6.1-1M120.0,1513.4l6.1-2.1 6.1-2.2 6.2-2.1 6.1-1.7 6.1,2.4 6.1,1.8 6.1,0 6.1,0.4 6.2-0.8 6.1-2.5 6.1-2.4 6.1-2.1 6.1-1.1 6.1-0.6 6.2,2 6.1,1.3 6.1-3.2 6.1-1.8 6.1-0.4 6.2-0.3 6.1-0.2 6.1-0.3 6.1-0.2 6.1-0.1 6.1-0.1 6.2-0.1 6.1-0.1 6.1,0 6.1,1.6 6.2,1.7 6.1,1.7 6.2,1.8 6.1,1.7 6.2,1.8 6.1,1.8 6.2,1.8 6.1,1.9 6.2,1.8 6.1,1.9 6.1-0.6 6.2-2.1 6.1-2.2 6.2,0.2 6.1,3.1 6.2-2.2 6.1-3.2 6.2-3.2 6.1-3.2 6.2-3.1 6.1-2.8 6.2-2.4 6.1-1.9 6.1,2.5 6.2,2.8 6.1,2.8 6.2,2.8 6.1,2.9 6.2,2.8 6.1,2.9 6.1,2.4 6.2-3.1 6.1-3.1 6.2-3.1 6.1,1.8 6.2,3.1 6.1,3.1M120.0,1496.2l6.1,2.2 6.1,2.3 6.2,2.3 6.1,1.9 6.1-2.1 6.1-1.6 6.1,0.4 6.1,0.3 6.2-0.1 6.1-0.2 6.1-0.5 6.1-0.7 6.1-1.8 6.1,0.7 6.2,0.6 6.1-0.4 6.1-0.4 6.1-1.8 6.1-3.3 6.2-3.2 6.1-3.2 6.1-3.2 6.1-1.4 6.1,2.8 6.1,2.7 6.2,2.8 6.1,2.8 6.1,2.8 6.1-3.3 6.2-3.2 6.1-3.3 6.2-3.3 6.1-3.2 6.2,2.9 6.1,3.1 6.2,3.1 6.1,3.2 6.2,3.1 6.1,3.1 6.1,3.1 6.2,3.2 6.1,3.1 6.2,1 6.1-2 6.2-2 6.1-2 6.2-1.9 6.1-1.9 6.2-1.9 6.1-1.8 6.2-1.8 6.1-1.8 6.1-2.1 6.2-0.4 6.1,0.1 6.2,0.2 6.1,0.3 6.2,0.4 6.1,0.9 6.1,3 6.2,3.1 6.1,3 6.2,3.1 6.1-1.7 6.2-3.1 6.1-3M120.0,1496.1l6.1,0.9 6.1,0.9 6.2,0.9 6.1,0.9 6.1,0.8 6.1,0.3 6.1-2 6.1-2 6.2-1.9 6.1-1.9 6.1-1.9 6.1,1.9 6.1,3.1 6.1,0.2 6.2-2.3 6.1-2.4 6.1-2.4 6.1-2.3 6.1-2.3 6.2-2.3 6.1-2.3 6.1,0.3 6.1,0.9 6.1-3.1 6.1-3.2 6.2-3 6.1-2.9 6.1-2.5 6.1,2.1 6.2,2.8 6.1,3 6.2,3 6.1,3.1 6.2,3 6.1,3.1 6.2,3.1 6.1,3.1 6.2,3.2 6.1,3.1 6.1,3.1 6.2,3.2 6.1,3.1 6.2,0.9 6.1-2 6.2-2 6.1-2 6.2-2 6.1-2 6.2-2 6.1-2.3 6.2-2.7 6.1-3 6.1-0.4 6.2-2.2 6.1-2.7 6.2-0.9 6.1,2.8 6.2,2.9 6.1,2.5 6.1,0.5 6.2,0.5 6.1,0.7 6.2,0.7 6.1,0.7 6.2,0.8 6.1,0.8M120.0,1496.1l6.1-3.1 6.1-3.1 6.2-3.1 6.1-3.1 6.1-3 6.1-3.1 6.1-0.2 6.1,3.1 6.2,3.1 6.1,3.1 6.1,3.1 6.1-0.6 6.1-1.8 6.1-1.8 6.2-1.7 6.1-1.7 6.1-1.7 6.1-1.6 6.1-1.6 6.2-1.6 6.1,1.8 6.1,0.3 6.1-2.2 6.1-2.1 6.1-2.1 6.2-2.1 6.1-1.8 6.1-1.1 6.1,2.1 6.2,2.9 6.1,2.9 6.2,3.1 6.1,3 6.2-3.1 6.1-3.3 6.2-3.2 6.1-3.3 6.2-3.2 6.1-1.3 6.1,0.1 6.2,0.3 6.1,0.3 6.2,0.4 6.1,0.5 6.2,0.5 6.1,0.7 6.2,0.8 6.1,0.9 6.2,1.2 6.1,1.4 6.2,1.8 6.1,2.1 6.1,1.7 6.2,2.3 6.1,2.5 6.2,0.9 6.1-2.6 6.2,0.2 6.1,2.1 6.1,2.1 6.2,2.1 6.1,2.1 6.2,2.1 6.1,2.2 6.2,2.2 6.1,2.2M120.0,1456.1l6.1,2.8 6.1,3 6.2,3.1 6.1,3.1 6.1,3.1 6.1,3.1 6.1,0.2 6.1-3.1 6.2-3 6.1-3.1 6.1-3 6.1-3 6.1-2.9 6.1,2.5 6.2,2.6 6.1,2.6 6.1,2.7 6.1,2.6 6.1,2.7 6.2,2.7 6.1-0.7 6.1-1.5 6.1-1.4 6.1-1.5 6.1-1.4 6.2-1.4 6.1-1.6 6.1,1.1 6.1-2.5 6.2-0.1 6.1-0.3 6.2-0.2 6.1-0.2 6.2-0.2 6.1-0.1 6.2,0 6.1,0 6.2,0 6.1,0.1 6.1,0.1 6.2,0.3 6.1,0.3 6.2,0.3 6.1,0.5 6.2,0.5 6.1,0.6 6.2,0.7 6.1,0.9 6.2,1 6.1,1.2 6.2,1.6 6.1,1.9 6.1-1.4 6.2-0.9 6.1,2.1 6.2,2.1 6.1,2.2 6.2-0.8 6.1-2.6 6.1-2.6 6.2-2.6 6.1-2.6 6.2-2.5 6.1-2.5 6.2-2.4 6.1-2.2M120.0,1456.1l6.1-0.9 6.1-0.5 6.2-0.5 6.1-0.4 6.1-0.3 6.1-0.2 6.1-0.2 6.1-0.1 6.2,0 6.1,0.1 6.1,0.2 6.1,0.7 6.1,2.2 6.1-2.1 6.2,0.3 6.1,0.4 6.1,0.6 6.1,0.5 6.1,0.7 6.2,0.7 6.1,0.8 6.1,0.9 6.1,0.9 6.1,1 6.1,1.1 6.2,1.2 6.1,1.4 6.1-1.2 6.1,0.5 6.2-0.2 6.1-0.3 6.2-0.2 6.1-0.2 6.2-0.2 6.1-0.1 6.2,0 6.1,0 6.2,0 6.1-1.7 6.1-3.2 6.2-3.3 6.1-3.2 6.2-3.2 6.1,0.5 6.2,2.4 6.1,2.5 6.2,2.4 6.1,2.3 6.2,2.1 6.1,2 6.2,1.7 6.1,1.4 6.1,2.3 6.2,1.6 6.1-1.5 6.2-1.5 6.1-1.5 6.2-1.3 6.1-1.2 6.1-1.2 6.2-1.1 6.1-1 6.2-0.9 6.1-0.8 6.2-0.8 6.1-0.4M120.0,1455.2l6.1-1.8 6.1-2.3 6.2-2.3 6.1-2.1 6.1-2.2 6.1-1.9 6.1-1.7 6.1,2.5 6.2,2.5 6.1,2.5 6.1,2.5 6.1,2 6.1,0.5 6.1-0.4 6.2-2.8 6.1-3 6.1-2 6.1,1.5 6.1,1.6 6.2,1.6 6.1,1.7 6.1,1.8 6.1,1.7 6.1,1.9 6.1,1.8 6.2,1.9 6.1,1.7 6.1,1 6.1,0.4 6.2-2.4 6.1-2.5 6.2-2.4 6.1-2.5 6.2-2.4 6.1-2.3 6.2-2.4 6.1-2.3 6.2-2.2 6.1-2.2 6.1-1.3 6.2,2.4 6.1,2.4 6.2,2.4 6.1,0.5 6.2,2.6 6.1,2.5 6.2,2.6 6.1,2.5 6.2,2.3 6.1,2.2 6.2,2 6.1,1.7 6.1-2.4 6.2-2.8 6.1-2.8 6.2-2.9 6.1-3 6.2-2.9 6.1-3 6.1-3 6.2-1.4 6.1,2.9 6.2,3 6.1,3 6.2,3 6.1,2.5M120.0,1424.1l6.1,2.3 6.1,2.3 6.2,2.4 6.1,2.4 6.1,2.5 6.1,2.4 6.1,2.3 6.1-1.5 6.2-1.1 6.1-0.5 6.1,0.3 6.1,0.7 6.1,1.1 6.1,1.2 6.2,1.3 6.1,1.4 6.1,0.5 6.1-2.8 6.1-2.9 6.2,0.9 6.1,3.1 6.1,3.2 6.1,3.1 6.1,3.1 6.1,3.2 6.2,3 6.1,2.9 6.1,2.4 6.1-2.5 6.2-2.5 6.1-2.5 6.2-2.5 6.1-2.4 6.2-2.4 6.1-2.4 6.2-2.4 6.1-2.3 6.2-2.2 6.1-2.2 6.1,1 6.2,1 6.1,2.5 6.2,2.5 6.1,0.8 6.2-3.2 6.1-3.2 6.2-3.2 6.1-3.3 6.2-3.2 6.1-3.2 6.2-3.2 6.1-3.2 6.1,0.1 6.2,1.3 6.1,2.8 6.2,2.8 6.1,2.9 6.2,2.9 6.1,2.9 6.1,3 6.2,1.3 6.1-3 6.2-3 6.1-3 6.2-3 6.1-3M120.0,1424.1l6.1,0.7 6.1,0.7 6.2,0.8 6.1,0.8 6.1,0.8 6.1,0.8 6.1,0.8 6.1,0.6 6.2,0.2 6.1-0.3 6.1-0.9 6.1-1.3 6.1-1.4 6.1-1.4 6.2-1.2 6.1,2.9 6.1,3.1 6.1,3.2 6.1,3.1 6.2-0.6 6.1-2.9 6.1-2.8 6.1-2.8 6.1-2.7 6.1-2.6 6.2-2.4 6.1-2 6.1-0.8 6.1,0.6 6.2,1.4 6.1,1.6 6.2,1.7 6.1,1.9 6.2,2 6.1,2 6.2,2.1 6.1,2.2 6.2,2.2 6.1,2.3 6.1,0.2 6.2-0.9 6.1-2 6.2-2.1 6.1-2 6.2-1.9 6.1-1.9 6.2-1.8 6.1-1.7 6.2-1.6 6.1-1.6 6.2-1.5 6.1-1.4 6.1,1.6 6.2,1.3 6.1,0.1 6.2,0.2 6.1,0.3 6.2,0.2 6.1,0.4 6.1,0.3 6.2,0.5 6.1,0.4 6.2,0.6 6.1,0.5 6.2,0.7 6.1,0.7M120.0,1424.0l6.1-3 6.1-3 6.2-3 6.1-3 6.1-2.9 6.1-3 6.1-2.9 6.1-1.2 6.2,3.1 6.1,3 6.1,3.1 6.1,3 6.1,3.1 6.1,3.1 6.2,2.9 6.1-1.2 6.1-1.4 6.1-1.2 6.1-1.2 6.2-1.1 6.1-1 6.1-0.8 6.1-0.8 6.1-0.6 6.1-0.5 6.2-0.5 6.1-0.6 6.1-1.2 6.1,1.6 6.2,1.8 6.1,1.8 6.2,2 6.1,2 6.2,2.1 6.1,2.2 6.2,2.2 6.1,2.3 6.2,2.3 6.1,2.4 6.1,0.6 6.2-2 6.1-2.1 6.2-2.1 6.1-2 6.2-1.9 6.1-1.9 6.2-1.8 6.1-1.8 6.2-1.7 6.1-1.5 6.2-1.5 6.1-1.4 6.1-1.5 6.2-2.5 6.1-2.6 6.2-2.6 6.1,0.8 6.2,2 6.1,2.1 6.1,2.1 6.2,2.2 6.1,2.2 6.2,2.2 6.1,2.3 6.2,2.2 6.1,2.3M120.0,1380.7l6.1,1.9 6.1,2.4 6.2,2.6 6.1,2.7 6.1,2.9 6.1,2.9 6.1,2.9 6.1,1.2 6.2-2.9 6.1-2.9 6.1-2.9 6.1-2.8 6.1-2.8 6.1-2.2 6.2,0.6 6.1,1.5 6.1,1.7 6.1,1.9 6.1,1.9 6.2,2.1 6.1,2.1 6.1,2.2 6.1,2.3 6.1,2.3 6.1,2.4 6.2,2.3 6.1,2.3 6.1,1.9 6.1-2.2 6.2-2.8 6.1-2.9 6.2-2.9 6.1-3 6.2-2.9 6.1-2.9 6.2-2.9 6.1-2.9 6.2-2.8 6.1-2.8 6.1-2.6 6.2-2.2 6.1-1.3 6.2,0.6 6.1,1.7 6.2,2 6.1,2.2 6.2,2.3 6.1,2.3 6.2,2.4 6.1,2.5 6.2,2.4 6.1,2.5 6.1,1.6 6.2,1.9 6.1,1.9 6.2,1.9 6.1-1.4 6.2-2.6 6.1-2.5 6.1-2.5 6.2-2.4 6.1-2.3 6.2-2.2 6.1-2.1 6.2-1.9 6.1-1.7M120.0,1380.7l6.1-1.4 6.1-1.1 6.2-0.9 6.1-0.5 6.1-0.3 6.1,0 6.1,0.1 6.1,0.3 6.2,0.6 6.1,0.7 6.1,0.8 6.1,1 6.1,1.1 6.1,0.7 6.2-1.9 6.1-2.7 6.1-2.7 6.1-2.7 6.1-2.7 6.2-2.7 6.1-2.6 6.1-2.6 6.1-2.6 6.1-2.5 6.1-2.4 6.2-2.4 6.1-2.3 6.1-1.8 6.1,1.3 6.2,1.3 6.1,1.4 6.2,1.5 6.1,1.5 6.2,1.6 6.1,1.6 6.2,1.7 6.1,1.8 6.2,1.8 6.1,2 6.1,2.1 6.2,2 6.1,2.2 6.2,2.2 6.1,2.2 6.2,2.3 6.1,2.3 6.2,2.4 6.1,2.4 6.2,2.4 6.1,2.4 6.2,2.5 6.1,2.4 6.1-1.5 6.2-1.7 6.1-1.7 6.2-1.6 6.1-1.5 6.2-1.4 6.1-1.4 6.1-1.2 6.2-1.2 6.1-1 6.2-0.7 6.1-0.3 6.2,0.3 6.1,1.1M120.0,1370.2l6.1-0.3 6.1-0.9 6.2-1.2 6.1-1.4 6.1-1.5 6.1-1.5 6.1-1.6 6.1-1.5 6.2-1.4 6.1-1.4 6.1-1.3 6.1-1.3 6.1-1.1 6.1-1.1 6.2-0.9 6.1-0.9 6.1-0.8 6.1-0.6 6.1-0.6 6.2-0.6 6.1-0.4 6.1-0.4 6.1-0.3 6.1-0.2 6.1-0.2 6.2-0.1 6.1,0 6.1,0.5 6.1,0.3 6.2,1.4 6.1,1.5 6.2,1.6 6.1,1.6 6.2,1.7 6.1,1.8 6.2,1.8 6.1,1.9 6.2,1.9 6.1,1.8 6.1,1.8 6.2,1.5 6.1,0.7 6.2-1.1 6.1-2.1 6.2-2.3 6.1-2.4 6.2-2.4 6.1-2.2 6.2-2.2 6.1-2.1 6.2-2 6.1-1.9 6.1,0.2 6.2,0.8 6.1,1.2 6.2,1.5 6.1,1.8 6.2,2 6.1,2.2 6.1,2.3 6.2,2.4 6.1,2.3 6.2,2.2 6.1,1.8 6.2,1.3 6.1,0.4M120.0,1289.2l6.1,2.3 6.1,2.4 6.2,2.2 6.1,2.2 6.1,2.2 6.1,2.1 6.1,2.1 6.1,2 6.2,1.9 6.1,1.9 6.1,1.9 6.1,1.9 6.1,1.8 6.1,1.8 6.2,1.8 6.1,1.9 6.1,1.8 6.1,1.9 6.1,1.9 6.2,1.9 6.1,2 6.1,2 6.1,2.1 6.1,2.1 6.1,2.1 6.2,2.1 6.1,2.1 6.1,1.2 6.1-1.5 6.2-2.4 6.1-2.6 6.2-2.4 6.1-2.4 6.2-2.4 6.1-2.2 6.2-2.2 6.1-2 6.2-1.9 6.1-1.8 6.1-1.6 6.2-1.5 6.1-1.3 6.2-1.1 6.1-0.9 6.2-0.6 6.1-0.5 6.2-0.3 6.1-0.1 6.2,0.1 6.1,0.3 6.2,0.5 6.1,0.6 6.1-0.2 6.2-0.7 6.1-1.2 6.2-1.4 6.1-1.7 6.2-1.9 6.1-2.1 6.1-2.2 6.2-2.2 6.1-2.3 6.2-2.4 6.1-2.4 6.2-2.3 6.1-2.4M120.0,1289.1l6.1-2.3 6.1-2.4 6.2-2.4 6.1-2.3 6.1-2.4 6.1-2.2 6.1-2.3 6.1-2.2 6.2-2.2 6.1-2.2 6.1-2.1 6.1-2.1 6.1-2.1 6.1-2.1 6.2-2.1 6.1-2.2 6.1-2.1 6.1-2.2 6.1-2.2 6.2-2.3 6.1-2.3 6.1-2.3 6.1-2.4 6.1-2.5 6.1-2.4 6.2-2.5 6.1-2.4 6.1-1.4 6.1,1 6.2,1.6 6.1,1.6 6.2,1.6 6.1,1.6 6.2,1.6 6.1,1.6 6.2,1.6 6.1,1.6 6.2,1.6 6.1,1.7 6.1,1.6 6.2,1.6 6.1,1.6 6.2,1.6 6.1,1.6 6.2,1.5 6.1,1.5 6.2,1.4 6.1,1.3 6.2,1.3 6.1,1.1 6.2,1 6.1,0.9 6.1,0.3 6.2,0.8 6.1,1.2 6.2,1.7 6.1,1.9 6.2,2.2 6.1,2.3 6.1,2.4 6.2,2.4 6.1,2.5 6.2,2.5 6.1,2.5 6.2,2.4 6.1,2.4M120.0,1197.2l6.1,0.4 6.1,1 6.2,1.4 6.1,1.6 6.1,1.7 6.1,1.8 6.1,1.7 6.1,1.8 6.2,1.6 6.1,1.6 6.1,1.5 6.1,1.5 6.1,1.3 6.1,1.2 6.2,1.1 6.1,1 6.1,0.9 6.1,0.8 6.1,0.7 6.2,0.6 6.1,0.5 6.1,0.4 6.1,0.4 6.1,0.3 6.1,0.2 6.2,0.1 6.1,0 6.1-0.6 6.1,1.4 6.2,1.3 6.1,1.2 6.2,1.2 6.1,1.1 6.2,0.9 6.1,0.9 6.2,0.8 6.1,0.7 6.2,0.5 6.1,0.5 6.1,0.2 6.2,0.2 6.1-0.1 6.2-0.2 6.1-0.5 6.2-0.6 6.1-0.8 6.2-1.1 6.1-1.3 6.2-1.4 6.1-1.7 6.2-1.8 6.1-2.1 6.1-0.3 6.2-0.8 6.1-1.4 6.2-1.8 6.1-2.1 6.2-2.3 6.1-2.5 6.1-2.7 6.2-2.6 6.1-2.7 6.2-2.5 6.1-2.2 6.2-1.4 6.1-0.5M120.0,1185.2l6.1,1.6 6.1,1.3 6.2,0.9 6.1,0.6 6.1,0.4 6.1,0 6.1-0.1 6.1-0.4 6.2-0.6 6.1-0.8 6.1-1 6.1-1.1 6.1-1.3 6.1-0.8 6.2,2.2 6.1,3.1 6.1,3.1 6.1,3.1 6.1,3.1 6.2,3.1 6.1,3 6.1,3 6.1,2.9 6.1,2.9 6.1,2.8 6.2,2.8 6.1,2.6 6.1,2.1 6.1-2.5 6.2-3.1 6.1-3.2 6.2-3.3 6.1-3.3 6.2-3.3 6.1-3.4 6.2-3.4 6.1-3.5 6.2-3.4 6.1-3.5 6.1-3.5 6.2-3.5 6.1-3.5 6.2-3.6 6.1-3.5 6.2-3.6 6.1-3.6 6.2-3.4 6.1,0.6 6.2,1.6 6.1,2.3 6.2,2.6 6.1,2.7 6.1,1.8 6.2,1.9 6.1,1.9 6.2,1.8 6.1,1.7 6.2,1.7 6.1,1.5 6.1,1.5 6.2,1.3 6.1,1.1 6.2,0.8 6.1,0.4 6.2-0.3 6.1-1.3M120.0,1185.2l6.1-2.2 6.1-2.7 6.2-2.9 6.1-3.2 6.1-3.2 6.1-3.3 6.1-3.4 6.1-1.4 6.2,3.4 6.1,3.3 6.1,3.2 6.1,3.3 6.1,3.1 6.1,2.6 6.2-0.8 6.1-1.7 6.1-1.9 6.1-2.1 6.1-2.2 6.2-2.4 6.1-2.4 6.1-2.5 6.1-2.6 6.1-2.7 6.1-2.7 6.2-2.6 6.1-2.6 6.1-2.1 6.1,1.7 6.2,1.6 6.1,1.5 6.2,1.3 6.1,1.2 6.2,1 6.1,0.9 6.2,0.7 6.1,0.5 6.2,0.4 6.1,0.2 6.1,0 6.2-0.1 6.1-0.2 6.2-0.3 6.1-0.5 6.2-0.4 6.1-0.4 6.2-0.2 6.1-1.2 6.2,2.4 6.1,2.6 6.2,2.8 6.1,2.9 6.1-1.9 6.2-2.1 6.1-2.2 6.2-2.1 6.1,1.6 6.2,2.9 6.1,2.9 6.1,2.8 6.2,2.7 6.1,2.7 6.2,2.5 6.1,2.4 6.2,2.1 6.1,2M120.0,1135.8l6.1,3.4 6.1,3.5 6.2,3.4 6.1,3.4 6.1,3.3 6.1,3.4 6.1,3.4 6.1,1.3 6.2-3.5 6.1-3.4 6.1-3.5 6.1-3.5 6.1-3.6 6.1-3.5 6.2-3.2 6.1,1.3 6.1,1.6 6.1,1.4 6.1,1.4 6.2,1.2 6.1,1.1 6.1,1 6.1,0.8 6.1,0.7 6.1,0.6 6.2,0.6 6.1,0.7 6.1,1.4 6.1-0.8 6.2,0.7 6.1,1.1 6.2,1.1 6.1,1 6.2,0.9 6.1,0.8 6.2,0.6 6.1,0.5 6.2,0.3 6.1,0.2 6.1,0 6.2-0.1 6.1-0.2 6.2-0.3 6.1-0.3 6.2-0.3 6.1,0 6.2,0.8 6.1-0.6 6.2-3.6 6.1-1.3 6.2-1.1 6.1-1.3 6.1,1.7 6.2,2.9 6.1,3 6.2,2.9 6.1-1 6.2-2.3 6.1-2.3 6.1-2.4 6.2-2.5 6.1-2.5 6.2-2.5 6.1-2.6 6.2-2.6 6.1-2.6M120.0,1135.8l6.1-0.8 6.1-0.9 6.2-0.9 6.1-0.9 6.1-0.9 6.1-0.9 6.1-0.9 6.1-0.7 6.2-0.2 6.1,0.3 6.1,1.1 6.1,1.4 6.1,1.6 6.1,1.7 6.2,1.3 6.1-3.3 6.1-3.6 6.1-3.5 6.1-3.6 6.2,0.7 6.1,3.3 6.1,3.2 6.1,3.1 6.1,3.1 6.1,3 6.2,2.7 6.1,2.3 6.1,0.9 6.1-1.1 6.2-2.8 6.1-3.2 6.2-3.4 6.1-3.5 6.2-3.6 6.1-3.5 6.2-3.5 6.1,0.3 6.2,3.3 6.1,3.3 6.1,3.2 6.2,3.2 6.1,3.2 6.2,3.1 6.1,3.1 6.2,2.8 6.1,2.7 6.2,2.1 6.1,1.3 6.2,0.2 6.1-3 6.2-2.6 6.1-1.4 6.1-1.8 6.2-1.5 6.1-0.1 6.2-0.2 6.1-0.3 6.2-0.3 6.1-0.4 6.1-0.4 6.2-0.5 6.1-0.6 6.2-0.6 6.1-0.6 6.2-0.7 6.1-0.8M120.0,1135.8l6.1-2.6 6.1-2.7 6.2-2.7 6.1-2.8 6.1-2.7 6.1-2.8 6.1-2.7 6.1,1.8 6.2,1.2 6.1,0.5 6.1-0.3 6.1-0.8 6.1-1.2 6.1-1.3 6.2-1.5 6.1-1.6 6.1-0.7 6.1,3.3 6.1,3.3 6.2-1 6.1-3.6 6.1-3.6 6.1-3.5 6.1-3.6 6.1-3.5 6.2-3.5 6.1-3.3 6.1-2.8 6.1,2.4 6.2,3.1 6.1,3.3 6.2,3.4 6.1,3.4 6.2,3.4 6.1,3.3 6.2,3.4 6.1,3.3 6.2,3.3 6.1,3.2 6.1,3.3 6.2,3.2 6.1,3.1 6.2,3.1 6.1,3 6.2,2.7 6.1,2.3 6.2,1.3 6.1,0.2 6.2-0.5 6.1-1 6.2-2.3 6.1-3.6 6.1,0 6.2-1.6 6.1-3.1 6.2-3.3 6.1-3.2 6.2-3.3 6.1-3.4 6.1-3.3 6.2-1.6 6.1,3.5 6.2,3.4 6.1,3.4 6.2,3.5 6.1,3.4M120.0,1100.4l6.1,2.1 6.1,2.6 6.2,2.5 6.1,2.5 6.1,2.4 6.1,2.3 6.1,1.8 6.1-2.8 6.2-2.8 6.1-2.9 6.1-2.8 6.1-2.3 6.1-0.6 6.1,0.5 6.2,3.2 6.1,3.4 6.1,2.3 6.1-1.7 6.1-1.8 6.2-1.9 6.1-1.9 6.1-2 6.1-2.1 6.1-2 6.1-2.1 6.2-2.1 6.1-2 6.1-1.1 6.1,2.3 6.2,3.2 6.1,3.3 6.2,3.4 6.1,3.4 6.2,3.3 6.1,3.4 6.2,3.3 6.1-0.6 6.2-3.6 6.1-3.6 6.1-3.6 6.2-3.7 6.1-3.6 6.2-3.7 6.1-3.6 6.2-3.7 6.1-3.6 6.2-1.1 6.1,1.2 6.2,1.3 6.1,1.4 6.2,1.4 6.1,1.7 6.1,2.7 6.2,3.1 6.1,3.3 6.2,3.3 6.1,3.3 6.2,3.4 6.1,3.4 6.1,3.4 6.2,1.6 6.1-3.4 6.2-3.4 6.1-3.4 6.2-3.4 6.1-2.8M120.0,1099.3l6.1,1 6.1,0.7 6.2,0.5 6.1,0.4 6.1,0.4 6.1,0.3 6.1,0.1 6.1,0.1 6.2,0 6.1,0 6.1-0.2 6.1-0.9 6.1-2.4 6.1,2.3 6.2-0.3 6.1-0.5 6.1-0.6 6.1-0.7 6.1-0.7 6.2-0.9 6.1-0.8 6.1-1 6.1-1.1 6.1-1.1 6.1-1.2 6.2-1.4 6.1-1.6 6.1,1.4 6.1-2.9 6.2-0.5 6.1-0.6 6.2-0.7 6.1-0.8 6.2-0.9 6.1-1 6.2-1 6.1-1.1 6.2-1.1 6.1-1.2 6.1-1.3 6.2-1.2 6.1-0.5 6.2,0.9 6.1,1.3 6.2,1.3 6.1,1.2 6.2,1.2 6.1,1.2 6.2,1.3 6.1,1.2 6.2,1.4 6.1,1.4 6.1-2.6 6.2-1.7 6.1,1.7 6.2,1.7 6.1,1.6 6.2,1.5 6.1,1.5 6.1,1.3 6.2,1.2 6.1,1.1 6.2,1.1 6.1,0.9 6.2,0.9 6.1,0.4M120.0,1099.3l6.1-3.1 6.1-3.5 6.2-3.5 6.1-3.5 6.1-3.5 6.1-3.5 6.1-0.3 6.1,3.5 6.2,3.5 6.1,3.5 6.1,3.4 6.1,3.5 6.1,3.2 6.1-2.8 6.2-3 6.1-3 6.1-3 6.1-3 6.1-3.1 6.2-3 6.1,0.7 6.1,1.7 6.1,1.7 6.1,1.7 6.1,1.6 6.2,1.6 6.1,1.8 6.1-1.3 6.1,0.5 6.2-0.4 6.1-0.7 6.2-0.7 6.1-0.8 6.2-0.9 6.1-1 6.2-1 6.1-1.1 6.2-1.1 6.1-1.2 6.1-1.3 6.2-1.2 6.1-0.5 6.2,1 6.1,1.3 6.2,1.2 6.1,1.3 6.2-1.3 6.1-3.6 6.2-3.7 6.1,2.6 6.2,2.8 6.1,2.5 6.1,1.7 6.2,1 6.1-2.4 6.2-2.4 6.1-2.5 6.2,0.9 6.1,3 6.1,3 6.2,2.9 6.1,2.9 6.2,2.9 6.1,2.8 6.2,2.8 6.1,2.4M120.0,1053.9l6.1,3.5 6.1,3.5 6.2,3.5 6.1,3.5 6.1,3.5 6.1,3.5 6.1,0.3 6.1-3.6 6.2-3.5 6.1-3.5 6.1-3.6 6.1,0.7 6.1,2 6.1,2.1 6.2,1.9 6.1,2 6.1,1.9 6.1,1.9 6.1,1.8 6.2,1.8 6.1-2.1 6.1-0.3 6.1,2.5 6.1,2.4 6.1,2.4 6.2,2.3 6.1,2.1 6.1,1.2 6.1,0.4 6.2-2.8 6.1-3 6.2-3 6.1-3 6.2-3.1 6.1-3 6.2-3.1 6.1,1.3 6.2,1.5 6.1,1.5 6.1,1.4 6.2,1.3 6.1,0.6 6.2-1.1 6.1-1.4 6.2-1.6 6.1-1.6 6.2-1.6 6.1,1.7 6.2,3.1 6.1,1.4 6.2,2.9 6.1,2.6 6.1-1.9 6.2-2.6 6.1-2.9 6.2-1.1 6.1,3.1 6.2-0.3 6.1-2.3 6.1-2.4 6.2-2.4 6.1-2.4 6.2-2.5 6.1-2.4 6.2-2.5 6.1-2.5M120.0,1053.9l6.1-1.1 6.1-1M162.8,1050.8l6.1,2.2 6.2,2.3 6.1,2.1 6.1,2.2 6.1-2.2 6.1-3.5 6.1-0.3 6.2,2.7 6.1,2.7 6.1,2.7 6.1,2.6 6.1,2.7 6.2,2.6 6.1,2.5 6.1-0.2 6.1-1.1 6.1,3.6 6.1,3.5 6.2,3.5 6.1,3.3 6.1,2.8 6.1-2.8 6.2-3 6.1-3 6.2-2.9 6.1-3.1 6.2-3 6.1-3 6.2,0.1 6.1,1.5 6.2,1.5 6.1,1.5 6.1,1.4 6.2,1.3 6.1,0.5 6.2-1.1 6.1-1.4 6.2-1.6 6.1-1.6 6.2-1.7 6.1,0.4 6.2,3 6.1-1.8 6.2-3.6 6.1-3.6 6.1,0.5 6.2,2.5 6.1,3 6.2,1.1 6.1-3.2 6.2-3.3 6.1-2.8 6.1-0.6 6.2-0.6 6.1-0.8 6.2-0.8 6.1-0.8 6.2-0.9 6.1-0.9M120.0,1053.8l6.1-2.5M224.0,1050.5l6.1,2.1 6.1,3.6 6.2,3.7 6.1,3.6 6.1,3.7 6.1,1.6 6.1-3.2 6.1-3.1 6.2-3.2 6.1-3.1 6.1-3.2 6.1,1.8 6.2,1.8 6.1,1.8 6.2,1.8 6.1,1.7 6.2,1.6 6.1,1.7 6.2,1.6 6.1-2.9 6.2-3.1 6.1-3.2 6.1-3.1 6.2-3.2 6.1-2.1 6.2,3.3 6.1,3.4 6.2,3.3 6.1,3.3 6.2,3.2 6.1-0.2 6.2-1.8 6.1-1.8 6.2-1.9 6.1-1.9 6.1,2.4 6.2,0.4 6.1-0.1 6.2-0.2 6.1-0.4 6.2-0.4 6.1-1.1 6.1-3.4 6.2-3.4M518.7,1050.3l6.1,3.5M248.5,1052.0l6.1,0.2 6.1,0.3 6.1,0.1 6.1,0.2 6.2,0.1 6.1,0.1 6.1,0 6.1,1.8 6.2,1.8 6.1,1.8 6.2,1.8 6.1,1.7 6.2,1.6 6.1,1.7 6.2-1.6 6.1-3.1 6.2-3.1 6.1-3.2 6.1-3.1M383.5,1051.2l6.1,3.3 6.2,3.3 6.1,3.3 6.2,3.2 6.1,1 6.2-1.8 6.1-1.8 6.2-2 6.1-2 6.1-2.9 6.2-3.2M285.2,1049.8l6.1,3.2 6.1-3.7M132.2,1527.3l6.2-2.6 6.1,1.4 6.1,3.2M175.1,1526.4l6.1-3.2 6.1-0.7 6.1,2.5 6.1,2.5M224.0,1528.3l6.1-2.9 6.1,0.2 6.2,1.9M322.0,1528.7l6.2-3.1 6.1-3.1 6.2,0.6 6.1,3.3M487.9,1527.1l6.2-2.4 6.1-2.3 6.2,1.5 6.1,2.9M120.0,1513.4l6.1,3.2 6.1,3.1 6.2,3.2 6.1-0.9 6.1-2.6 6.1-2.6 6.1-2.6 6.1,0.8 6.2,2.4 6.1,2.5 6.1,0 6.1-3.2 6.1-1.2 6.1,1.5 6.2,1.6 6.1,1.7 6.1,1.7 6.1,1.8 6.1-1.3 6.2-2.9 6.1,1.8 6.1,3.2 6.1,3.2M322.0,1527.8l6.2-3.1 6.1-3.1 6.2-2.1 6.1-3.1 6.2-3 6.1-3 6.1-3 6.2-3 6.1-0.3 6.2,2.8 6.1,2.9 6.2,2.8 6.1,2.8 6.2,2.9 6.1,2.9 6.2,2.9 6.1,2.9M463.4,1526.9l6.1-2.9 6.2-1.4 6.1-1.3 6.1-1.2 6.2-1.2 6.1,2.1 6.2-0.9 6.1-2.2 6.2-2.3 6.1-2.2M120.0,1513.4l6.1-0.9 6.1-0.9 6.2-0.7 6.1-0.7 6.1-0.5 6.1,0.4 6.1,2.4 6.1-0.8 6.2-1.1 6.1,0.9 6.1,1.2 6.1,1.4 6.1-0.7 6.1-3.2 6.2-3.2 6.1-1.4 6.1,3.1 6.1,3.2 6.1,3.2 6.2,3.1 6.1-1.5 6.1-2.8 6.1-2.9 6.1-2.8 6.1-2.9 6.2-2.8 6.1-2.8 6.1-2.8 6.1,3.3 6.2,3.2 6.1,3.3 6.2,3.3 6.1,3.3 6.2,3.2 6.1,3.3 6.2-1.3 6.1-3.1 6.2-3 6.1-3.1 6.1-3 6.2-3 6.1-1.9 6.2,2.6 6.1,2.8 6.2,2.9 6.1,2.8 6.2,2.9 6.1,2.9 6.2,2.8 6.1,2.9 6.2,3M457.2,1526.7l6.2-1.4 6.1-1.4 6.2-3.1 6.1-3 6.1-2.6 6.2,2.9 6.1-0.4 6.2-1.1 6.1-1.1 6.2-1.1 6.1-1M120.0,1513.4l6.1-2.1 6.1-2.2 6.2-2.1 6.1-1.7 6.1,2.4 6.1,1.8 6.1,0 6.1,0.4 6.2-0.8 6.1-2.5 6.1-2.4 6.1-2.1 6.1-1.1 6.1-0.6 6.2,2 6.1,1.3 6.1-3.2 6.1-1.8 6.1-0.4 6.2-0.3 6.1-0.2 6.1-0.3 6.1-0.2 6.1-0.1 6.1-0.1 6.2-0.1 6.1-0.1 6.1,0 6.1-1.6 6.2-1.6 6.1-1.6 6.2-1.5 6.1-1.5 6.2-1.5 6.1-1.4 6.2,1.4 6.1,2.7 6.2,2.7 6.1,2.8 6.1,2.7 6.2,2.8 6.1-0.1 6.2-2.7 6.1-2.9 6.2-2.9 6.1-2.9 6.2-2.8 6.1-1 6.2,1.6 6.1,1.6 6.2,1.8 6.1,1.8 6.1,2.5 6.2,2.8 6.1,2.8 6.2,2.8 6.1,2.9 6.2,2.8 6.1,2.9 6.1,2.4 6.2-3.1 6.1-3.1 6.2-3.1 6.1,1.8 6.2,3.1 6.1,3.1M120.0,1496.2l6.1,2.2 6.1,2.3 6.2,2.3 6.1,1.9 6.1-2.1 6.1-1.6 6.1,0.4 6.1,0.3 6.2-0.1 6.1-0.2 6.1-0.5 6.1-0.7 6.1-1.8 6.1,0.7 6.2,0.6 6.1-0.5 6.1-0.3 6.1-1.8 6.1-3.3 6.2-3.2 6.1-3.2 6.1-3.2 6.1-1.4 6.1,2.8 6.1,2.7 6.2,2.8 6.1,2.8 6.1,2.8 6.1-1.6 6.2-1.6 6.1-1.6 6.2-1.5 6.1-1.5 6.2-1.5 6.1-1.4 6.2-1.4 6.1,2.5 6.2,2.7 6.1,2.8 6.1,2.8 6.2,2.8 6.1,1.9 6.2-3 6.1-3 6.2-2.9 6.1-2.9 6.2-2.8 6.1,0.2 6.2,1.6 6.1,1.6 6.2,1.6 6.1,1.7 6.1-2.1 6.2-0.4 6.1,0.1 6.2,0.2 6.1,0.3 6.2,0.4 6.1,0.9 6.1,3 6.2,3.1 6.1,3 6.2,3.1 6.1-1.7 6.2-3.1 6.1-3M120.0,1496.1l6.1,0.9 6.1,0.9 6.2,0.9 6.1,0.9 6.1,0.8 6.1,0.3 6.1-2 6.1-2 6.2-1.9 6.1-1.9 6.1-1.9 6.1,1.9 6.1,3.1 6.1,0.2 6.2-2.3 6.1-2.4 6.1-2.4 6.1-2.3 6.1-2.3 6.2-2.3 6.1-2.3 6.1,0.3 6.1,0.9 6.1-3.1 6.1-3.2 6.2-3 6.1-2.9 6.1-2.5 6.1,2.5 6.2,2.6 6.1,2.6 6.2,2.7 6.1,2.6 6.2,2.7 6.1,2.7 6.2-0.1 6.1-1.4 6.2-1.3 6.1-1.3 6.1-1.3 6.2-1.1 6.1-0.4 6.2,0.9 6.1,1.3 6.2,1.4 6.1,1.4 6.2,1.5 6.1-0.3 6.2-2.7 6.1,1.5 6.2,3.2 6.1,3.2 6.1-0.4 6.2-2.2 6.1-2.7 6.2-0.9 6.1,2.8 6.2,2.9 6.1,2.5 6.1,0.5 6.2,0.5 6.1,0.7 6.2,0.7 6.1,0.7 6.2,0.8 6.1,0.8M120.0,1496.1l6.1-3.1 6.1-3.1 6.2-3.1 6.1-3.1 6.1-3 6.1-3.1 6.1-0.2 6.1,3.1 6.2,3.1 6.1,3.1 6.1,3.1 6.1-0.5 6.1-1.9 6.1-1.7 6.2-1.8 6.1-1.7 6.1-1.7 6.1-1.6 6.1-1.6 6.2-1.6 6.1,1.8 6.1,0.3 6.1-2.2 6.1-2.1 6.1-2.1 6.2-2.1 6.1-1.8 6.1-1.1 6.1-0.3 6.2,2.5 6.1,2.6 6.2,2.6 6.1,2.7 6.2,2.7 6.1,2.7 6.2,2.7 6.1-1.2 6.2-1.3 6.1-1.3 6.1-1.3 6.2-1.1 6.1-0.5 6.2,0.9 6.1,1.3 6.2,1.4 6.1,1.4 6.2,1.4 6.1-1.5 6.2-2.7 6.1-1.3 6.2-2.5 6.1-2.3 6.1,1.7 6.2,2.3 6.1,2.5 6.2,0.9 6.1-2.6 6.2,0.2 6.1,2.1 6.1,2.1 6.2,2.1 6.1,2.1 6.2,2.1 6.1,2.2 6.2,2.2 6.1,2.2M120.0,1456.1l6.1,2.8 6.1,3 6.2,3.1 6.1,3.1 6.1,3.1 6.1,3.1 6.1,0.2 6.1-3.1 6.2-3 6.1-3.1 6.1-3 6.1-3 6.1-2.9 6.1,2.5 6.2,2.6 6.1,2.6 6.1,2.7 6.1,2.6 6.1,2.7 6.2,2.7 6.1-0.7 6.1-1.5 6.1-1.4 6.1-1.5 6.1-1.4 6.2-1.4 6.1-1.6 6.1,1.1 6.1-0.4 6.2,0.4 6.1,0.5 6.2,0.7 6.1,0.7 6.2,0.8 6.1,0.8 6.2,0.9 6.1,1 6.2,1 6.1,1 6.1,1.1 6.2,1.1 6.1,0.4 6.2-0.8 6.1-1.1 6.2-1.1 6.1-1.1 6.2,1.1 6.1,3.2 6.2,3.2 6.1-2.3 6.2-2.5 6.1-2.2 6.1-1.4 6.2-0.9 6.1,2.1 6.2,2.1 6.1,2.2 6.2-0.8 6.1-2.6 6.1-2.6 6.2-2.6 6.1-2.6 6.2-2.5 6.1-2.5 6.2-2.4 6.1-2.2M120.0,1456.1l6.1-0.9 6.1-0.5 6.2-0.5 6.1-0.4 6.1-0.3 6.1-0.2 6.1-0.2 6.1-0.1 6.2,0 6.1,0.1 6.1,0.2 6.1,0.7 6.1,2.2 6.1-2.1 6.2,0.3 6.1,0.4 6.1,0.6 6.1,0.5 6.1,0.7 6.2,0.7 6.1,0.8 6.1,0.9 6.1,0.9 6.1,1 6.1,1.1 6.2,1.2 6.1,1.4 6.1-1.2 6.1,2.6 6.2,0.3 6.1,0.6 6.2,0.6 6.1,0.7 6.2,0.8 6.1,0.8 6.2,0.9 6.1,1 6.2,1 6.1,1.1 6.1,1.1 6.2,1 6.1,0.5 6.2-0.8 6.1-1.1 6.2-1.2 6.1-1.1 6.2-1 6.1-1.1 6.2-1.1 6.1-1.1 6.2-1.2 6.1-1.3 6.1,2.3 6.2,1.6 6.1-1.5 6.2-1.5 6.1-1.5 6.2-1.3 6.1-1.2 6.1-1.2 6.2-1.1 6.1-1 6.2-0.9 6.1-0.8 6.2-0.8 6.1-0.4M120.0,1455.2l6.1-1.8 6.1-2.3 6.2-2.3 6.1-2.1 6.1-2.2 6.1-1.9 6.1-1.7 6.1,2.5 6.2,2.5 6.1,2.5 6.1,2.5 6.1,2 6.1,0.5 6.1-0.4 6.2-2.8 6.1-3 6.1-2 6.1,1.5 6.1,1.6 6.2,1.6 6.1,1.7 6.1,1.8 6.1,1.7 6.1,1.9 6.1,1.8 6.2,1.9 6.1,1.7 6.1,1 6.1-2.1 6.2-2.8 6.1-2.9 6.2-3 6.1-2.9 6.2-3 6.1-2.9 6.2-2.9 6.1,0.5 6.2,3.2 6.1,3.1 6.1,3.2 6.2,3.2 6.1,3.2 6.2,3.2 6.1,3.2 6.2,3.2 6.1,3.3 6.2,0.9 6.1-1.1 6.2-1.1 6.1-1.2 6.2-1.3 6.1-1.4 6.1-2.4 6.2-2.8 6.1-2.8 6.2-2.9 6.1-3 6.2-2.9 6.1-3 6.1-3 6.2-1.4 6.1,2.9 6.2,3 6.1,3 6.2,3 6.1,2.5M120.0,1424.1l6.1,2.3 6.1,2.3 6.2,2.4 6.1,2.4 6.1,2.5 6.1,2.4 6.1,2.3 6.1-1.5 6.2-1.1 6.1-0.5 6.1,0.3 6.1,0.7 6.1,1.1 6.1,1.2 6.2,1.3 6.1,1.4 6.1,0.5 6.1-2.8 6.1-2.9 6.2,0.9 6.1,3.1 6.1,3.2 6.1,3.1 6.1,3.1 6.1,3.2 6.2,3 6.1,2.9 6.1,2.4 6.1-2 6.2-2.8 6.1-2.9 6.2-3 6.1-2.9 6.2-3 6.1-3 6.2-2.9 6.1-2.9 6.2-2.9 6.1-2.9 6.1-2.9 6.2-2.8 6.1-2.7 6.2-2.7 6.1-2.6 6.2-2.4 6.1-2 6.2-1.2 6.1-0.2 6.2,0.5 6.1,0.9 6.2,1.9 6.1,3.2 6.1,0.1 6.2,1.3 6.1,2.8 6.2,2.8 6.1,2.9 6.2,2.9 6.1,2.9 6.1,3 6.2,1.3 6.1-3 6.2-3 6.1-3 6.2-3 6.1-3M120.0,1424.1l6.1,0.7 6.1,0.7 6.2,0.8 6.1,0.8 6.1,0.8 6.1,0.8 6.1,0.8 6.1,0.6 6.2,0.2 6.1-0.3 6.1-0.9 6.1-1.3 6.1-1.4 6.1-1.4 6.2-1.2 6.1,2.9 6.1,3.1 6.1,3.2 6.1,3.1 6.2-0.6 6.1-2.9 6.1-2.8 6.1-2.8 6.1-2.7 6.1-2.6 6.2-2.4 6.1-2 6.1-0.8 6.1,1 6.2,2.4 6.1,2.9 6.2,3 6.1,3 6.2,3.1 6.1,3.1 6.2,3.2 6.1-0.3 6.2-2.9 6.1-2.9 6.1-2.9 6.2-2.8 6.1-2.8 6.2-2.7 6.1-2.7 6.2-2.5 6.1-2.4 6.2-1.9 6.1-1.1 6.2-0.1 6.1,2.6 6.2,2.3 6.1,1.2 6.1,1.6 6.2,1.3 6.1,0.1 6.2,0.2 6.1,0.3 6.2,0.2 6.1,0.4 6.1,0.3 6.2,0.5 6.1,0.4 6.2,0.6 6.1,0.5 6.2,0.7 6.1,0.7M120.0,1424.0l6.1-3 6.1-3 6.2-3 6.1-3 6.1-2.9 6.1-3 6.1-2.9 6.1-1.2 6.2,3.1 6.1,3 6.1,3.1 6.1,3 6.1,3.1 6.1,3.1 6.2,2.9 6.1-1.2 6.1-1.4 6.1-1.2 6.1-1.2 6.2-1.1 6.1-1 6.1-0.8 6.1-0.8 6.1-0.6 6.1-0.5 6.2-0.5 6.1-0.6 6.1-1.2 6.1,0.6 6.2-0.6 6.1-1 6.2-0.9 6.1-0.9 6.2-0.8 6.1-0.7 6.2-0.5 6.1-0.4 6.2-0.3 6.1-0.2 6.1,0 6.2,0.1 6.1,0.2 6.2,0.2 6.1,0.3 6.2,0.3 6.1,0 6.2-0.7 6.1,0.5 6.2,3.2 6.1,1.1 6.2,0.9 6.1,1.2 6.1-1.5 6.2-2.5 6.1-2.6 6.2-2.6 6.1,0.8 6.2,2 6.1,2.1 6.1,2.1 6.2,2.2 6.1,2.2 6.2,2.2 6.1,2.3 6.2,2.2 6.1,2.3M120.0,1380.7l6.1,1.9 6.1,2.4 6.2,2.6 6.1,2.7 6.1,2.9 6.1,2.9 6.1,2.9 6.1,1.2 6.2-2.9 6.1-2.9 6.1-2.9 6.1-2.8 6.1-2.8 6.1-2.2 6.2,0.6 6.1,1.5 6.1,1.7 6.1,1.9 6.1,1.9 6.2,2.1 6.1,2.1 6.1,2.2 6.1,2.3 6.1,2.3 6.1,2.4 6.2,2.3 6.1,2.3 6.1,1.9 6.1-1.6 6.2-1.4 6.1-1.3 6.2-1.1 6.1-1.1 6.2-0.9 6.1-0.7 6.2-0.6 6.1-0.5 6.2-0.3 6.1-0.2 6.1-0.1 6.2,0.1 6.1,0.2 6.2,0.3 6.1,0.4 6.2,0.4 6.1,0.4 6.2,0.1 6.1,1.1 6.2-2.1 6.1-2.4 6.2-2.4 6.1-2.5 6.1,1.6 6.2,1.9 6.1,1.9 6.2,1.9 6.1-1.4 6.2-2.6 6.1-2.5 6.1-2.5 6.2-2.4 6.1-2.3 6.2-2.2 6.1-2.1 6.2-1.9 6.1-1.7M120.0,1380.7l6.1-1.4 6.1-1.1 6.2-0.9 6.1-0.5 6.1-0.3 6.1,0 6.1,0.1 6.1,0.3 6.2,0.6 6.1,0.7 6.1,0.8 6.1,1 6.1,1.1 6.1,0.7 6.2-1.9 6.1-2.7 6.1-2.7 6.1-2.7 6.1-2.7 6.2-2.7 6.1-2.6 6.1-2.6 6.1-2.6 6.1-2.5 6.1-2.4 6.2-2.4 6.1-2.3 6.1-1.8 6.1,2.1 6.2,2.7 6.1,2.8 6.2,2.8 6.1,2.9 6.2,2.9 6.1,3 6.2,3 6.1,3 6.2,3 6.1,3 6.1,3.1 6.2,3 6.1,3.1 6.2,3.1 6.1,3.2 6.2,3.1 6.1,3.1 6.2,3.1 6.1-0.6 6.2-1.4 6.1-2 6.2-2.3 6.1-2.4 6.1-1.5 6.2-1.7 6.1-1.7 6.2-1.6 6.1-1.5 6.2-1.4 6.1-1.4 6.1-1.2 6.2-1.2 6.1-1 6.2-0.7 6.1-0.3 6.2,0.3 6.1,1.1M120.0,1370.2l6.1-0.3 6.1-0.9 6.2-1.2 6.1-1.4 6.1-1.5 6.1-1.5 6.1-1.6 6.1-1.5 6.2-1.4 6.1-1.4 6.1-1.3 6.1-1.3 6.1-1.1 6.1-1.1 6.2-0.9 6.1-0.9 6.1-0.8 6.1-0.6 6.1-0.6 6.2-0.6 6.1-0.4 6.1-0.4 6.1-0.3 6.1-0.2 6.1-0.2 6.2-0.1 6.1,0 6.1,0.5 6.1-1.2 6.2-1.1 6.1-1.1 6.2-1 6.1-0.9 6.2-0.8 6.1-0.8 6.2-0.7 6.1-0.6 6.2-0.4 6.1-0.4 6.1-0.2 6.2-0.1 6.1,0 6.2,0.2 6.1,0.4 6.2,0.5 6.1,0.8 6.2,0.9 6.1,1.1 6.2,1.2 6.1,1.4 6.2,1.6 6.1,1.8 6.1,0.2 6.2,0.8 6.1,1.2 6.2,1.5 6.1,1.8 6.2,2 6.1,2.2 6.1,2.3 6.2,2.4 6.1,2.3 6.2,2.2 6.1,1.8 6.2,1.3 6.1,0.4M120.0,1289.2l6.1,2.3 6.1,2.4 6.2,2.2 6.1,2.2 6.1,2.2 6.1,2.1 6.1,2.1 6.1,2 6.2,1.9 6.1,1.9 6.1,1.9 6.1,1.9 6.1,1.8 6.1,1.8 6.2,1.8 6.1,1.9 6.1,1.8 6.1,1.9 6.1,1.9 6.2,1.9 6.1,2 6.1,2 6.1,2.1 6.1,2.1 6.1,2.1 6.2,2.1 6.1,2.1 6.1,1.2 6.1-0.9 6.2-1.3 6.1-1.4 6.2-1.4 6.1-1.4 6.2-1.3 6.1-1.4 6.2-1.4 6.1-1.4 6.2-1.4 6.1-1.4 6.1-1.4 6.2-1.3 6.1-1.4 6.2-1.4 6.1-1.3 6.2-1.3 6.1-1.3 6.2-1.2 6.1-1.2 6.2-1.1 6.1-1 6.2-0.8 6.1-0.8 6.1-0.2 6.2-0.7 6.1-1.2 6.2-1.4 6.1-1.7 6.2-1.9 6.1-2.1 6.1-2.2 6.2-2.2 6.1-2.3 6.2-2.4 6.1-2.4 6.2-2.3 6.1-2.4M120.0,1289.1l6.1-2.3 6.1-2.4 6.2-2.4 6.1-2.3 6.1-2.4 6.1-2.2 6.1-2.3 6.1-2.2 6.2-2.2 6.1-2.2 6.1-2.1 6.1-2.1 6.1-2.1 6.1-2.1 6.2-2.1 6.1-2.2 6.1-2.1 6.1-2.2 6.1-2.2 6.2-2.3 6.1-2.3 6.1-2.3 6.1-2.4 6.1-2.5 6.1-2.4 6.2-2.5 6.1-2.4 6.1-1.4 6.1,1.7 6.2,2.9 6.1,2.9 6.2,2.9 6.1,2.8 6.2,2.7 6.1,2.6 6.2,2.5 6.1,2.4 6.2,2.2 6.1,2.1 6.1,1.9 6.2,1.7 6.1,1.4 6.2,1.3 6.1,1 6.2,0.8 6.1,0.6 6.2,0.3 6.1,0.1 6.2-0.1 6.1-0.4 6.2-0.5 6.1-0.7 6.1,0.3 6.2,0.8 6.1,1.2 6.2,1.7 6.1,1.9 6.2,2.2 6.1,2.3 6.1,2.4 6.2,2.4 6.1,2.5 6.2,2.5 6.1,2.5 6.2,2.4 6.1,2.4M120.0,1197.2l6.1,0.4 6.1,1 6.2,1.4 6.1,1.6 6.1,1.7 6.1,1.8 6.1,1.7 6.1,1.8 6.2,1.6 6.1,1.6 6.1,1.5 6.1,1.5 6.1,1.3 6.1,1.2 6.2,1.1 6.1,1 6.1,0.9 6.1,0.8 6.1,0.7 6.2,0.6 6.1,0.5 6.1,0.4 6.1,0.4 6.1,0.3 6.1,0.2 6.2,0.1 6.1,0 6.1-0.6 6.1-0.3 6.2-1.6 6.1-1.8 6.2-1.8 6.1-1.9 6.2-2 6.1-2 6.2-2.1 6.1-2.2 6.2-2.2 6.1-2.1 6.1-2 6.2-1.8 6.1-0.7 6.2,1.2 6.1,2.4 6.2,2.7 6.1,2.7 6.2,2.7 6.1,2.7 6.2,2.5 6.1,2.5 6.2,2.3 6.1,2.1 6.1-0.3 6.2-0.8 6.1-1.4 6.2-1.8 6.1-2.1 6.2-2.3 6.1-2.5 6.1-2.7 6.2-2.6 6.1-2.7 6.2-2.5 6.1-2.2 6.2-1.4 6.1-0.5M120.0,1185.2l6.1,1.6 6.1,1.3 6.2,0.9 6.1,0.6 6.1,0.4 6.1,0 6.1-0.1 6.1-0.4 6.2-0.6 6.1-0.8 6.1-1 6.1-1.1 6.1-1.3 6.1-0.8 6.2,2.2 6.1,3.1 6.1,3.1 6.1,3.1 6.1,3.1 6.2,3.1 6.1,3 6.1,3 6.1,2.9 6.1,2.9 6.1,2.8 6.2,2.8 6.1,2.6 6.1,2.1 6.1-1.5 6.2-1.5 6.1-1.6 6.2-1.7 6.1-1.8 6.2-1.8 6.1-1.9 6.2-2 6.1-2 6.2-2.1 6.1-2.3 6.1-2.3 6.2-2.4 6.1-2.5 6.2-2.5 6.1-2.6 6.2-2.6 6.1-2.6 6.2-2.7 6.1-2.8 6.2-2.7 6.1-2.8 6.2-2.8 6.1-2.8 6.1,1.8 6.2,1.9 6.1,1.9 6.2,1.8 6.1,1.7 6.2,1.7 6.1,1.5 6.1,1.5 6.2,1.3 6.1,1.1 6.2,0.8 6.1,0.4 6.2-0.3 6.1-1.3M120.0,1185.2l6.1-2.2 6.1-2.7 6.2-2.9 6.1-3.2 6.1-3.2 6.1-3.3 6.1-3.4 6.1-1.4 6.2,3.4 6.1,3.3 6.1,3.2 6.1,3.3 6.1,3.1 6.1,2.6 6.2-0.8 6.1-1.7 6.1-1.9 6.1-2.1 6.1-2.2 6.2-2.4 6.1-2.4 6.1-2.5 6.1-2.6 6.1-2.7 6.1-2.7 6.2-2.6 6.1-2.6 6.1-2.1 6.1,2.5 6.2,3.1 6.1,3.3 6.2,3.3 6.1,3.4 6.2,3.4 6.1,3.3 6.2,3.3 6.1,3.3 6.2,3.2 6.1,3.1 6.1,3 6.2,2.6 6.1,1.4 6.2-0.7 6.1-1.9 6.2-2.3 6.1-2.5 6.2-2.6 6.1-2.7 6.2-2.7 6.1-2.8 6.2-2.8 6.1-2.8 6.1-1.9 6.2-2.1 6.1-2.2 6.2-2.1 6.1,1.6 6.2,2.9 6.1,2.9 6.1,2.8 6.2,2.7 6.1,2.7 6.2,2.5 6.1,2.4 6.2,2.1 6.1,2M120.0,1135.8l6.1,3.4 6.1,3.5 6.2,3.4 6.1,3.4 6.1,3.3 6.1,3.4 6.1,3.4 6.1,1.3 6.2-3.5 6.1-3.4 6.1-3.5 6.1-3.5 6.1-3.6 6.1-3.5 6.2-3.2 6.1,1.3 6.1,1.6 6.1,1.4 6.1,1.4 6.2,1.2 6.1,1.1 6.1,1 6.1,0.8 6.1,0.7 6.1,0.6 6.2,0.6 6.1,0.7 6.1,1.4 6.1-1.9 6.2-2 6.1-2.1 6.2-2.2 6.1-2.3 6.2-2.4 6.1-2.5 6.2-2.5 6.1-2.7 6.2-2.6 6.1-2.7 6.1-0.6 6.2,2.2 6.1,2.4 6.2,2.3 6.1,2.3 6.2,2.2 6.1,2.2 6.2,2.1 6.1,1.9 6.2,1.9 6.1,1.8 6.2,1.7 6.1,1.6 6.1,1.7 6.2,2.9 6.1,3 6.2,2.9 6.1-1 6.2-2.3 6.1-2.3 6.1-2.4 6.2-2.5 6.1-2.5 6.2-2.5 6.1-2.6 6.2-2.6 6.1-2.6M120.0,1135.8l6.1-0.8 6.1-0.9 6.2-0.9 6.1-0.9 6.1-0.9 6.1-0.9 6.1-0.9 6.1-0.7 6.2-0.2 6.1,0.3 6.1,1.1 6.1,1.4 6.1,1.6 6.1,1.7 6.2,1.3 6.1-3.3 6.1-3.6 6.1-3.5 6.1-3.6 6.2,0.7 6.1,3.3 6.1,3.2 6.1,3.1 6.1,3.1 6.1,3 6.2,2.7 6.1,2.3 6.1,0.9 6.1-0.7 6.2-1.6 6.1-1.8 6.2-2 6.1-2.1 6.2-2.2 6.1-2.3 6.2-2.5 6.1-2.4 6.2-2.6 6.1-2.6 6.1-0.1 6.2,0.9 6.1,2.4 6.2,2.3 6.1,2.2 6.2,2.2 6.1,2.1 6.2,2.1 6.1,2 6.2,1.9 6.1,1.7 6.2,1.7 6.1,1.6 6.1-1.8 6.2-1.5 6.1-0.1 6.2-0.2 6.1-0.3 6.2-0.3 6.1-0.4 6.1-0.4 6.2-0.5 6.1-0.6 6.2-0.6 6.1-0.6 6.2-0.7 6.1-0.8M120.0,1135.8l6.1-2.6 6.1-2.7 6.2-2.7 6.1-2.8 6.1-2.7 6.1-2.8 6.1-2.7 6.1,1.8 6.2,1.2 6.1,0.5 6.1-0.3 6.1-0.8 6.1-1.2 6.1-1.3 6.2-1.5 6.1-1.6 6.1-0.7 6.1,3.3 6.1,3.3 6.2-1 6.1-3.6 6.1-3.6 6.1-3.5 6.1-3.6 6.1-3.5 6.2-3.5 6.1-3.3 6.1-2.8 6.1,2.9 6.2,2.9 6.1,2.8 6.2,2.8 6.1,2.8 6.2,2.7 6.1,2.7 6.2,2.7 6.1,2.6 6.2,2.6 6.1,2.5 6.1-1.1 6.2-1.2 6.1-2.8 6.2-2.9 6.1-0.9 6.2,3.6 6.1,3.7 6.2,3.7 6.1,3.6 6.2,3.7 6.1,3.6 6.2,3.7 6.1,3.6 6.1,0 6.2-1.6 6.1-3.1 6.2-3.3 6.1-3.2 6.2-3.3 6.1-3.4 6.1-3.3 6.2-1.6 6.1,3.5 6.2,3.4 6.1,3.4 6.2,3.5 6.1,3.4M120.0,1100.4l6.1,2.1 6.1,2.6 6.2,2.5 6.1,2.5 6.1,2.4 6.1,2.3 6.1,1.8 6.1-2.8 6.2-2.8 6.1-2.9 6.1-2.8 6.1-2.3 6.1-0.6 6.1,0.5 6.2,3.2 6.1,3.4 6.1,2.3 6.1-1.7 6.1-1.8 6.2-1.9 6.1-1.9 6.1-2 6.1-2.1 6.1-2 6.1-2.1 6.2-2.1 6.1-2 6.1-1.1 6.1-0.6 6.2,2.8 6.1,2.8 6.2,2.8 6.1,2.8 6.2,2.7 6.1,2.7 6.2,2.7 6.1,2.6 6.2,2.6 6.1,2.5 6.1,1.4 6.2-2.7 6.1-2.7 6.2-2.8 6.1-0.5 6.2-3 6.1-2.9 6.2-2.9 6.1-2.8 6.2-2.7 6.1-2.5 6.2-2.2 6.1-1.9 6.1,2.7 6.2,3.1 6.1,3.3 6.2,3.3 6.1,3.3 6.2,3.4 6.1,3.4 6.1,3.4 6.2,1.6 6.1-3.4 6.2-3.4 6.1-3.4 6.2-3.4 6.1-2.8M120.0,1099.3l6.1,1 6.1,0.7 6.2,0.5 6.1,0.4 6.1,0.4 6.1,0.3 6.1,0.1 6.1,0.1 6.2,0 6.1,0 6.1-0.2 6.1-0.9 6.1-2.4 6.1,2.3 6.2-0.3 6.1-0.5 6.1-0.6 6.1-0.7 6.1-0.7 6.2-0.9 6.1-0.8 6.1-1 6.1-1.1 6.1-1.1 6.1-1.2 6.2-1.4 6.1-1.6 6.1,1.4 6.1-0.6 6.2,0.2 6.1,0.3 6.2,0.3 6.1,0.2 6.2,0.2 6.1,0.1 6.2,0.1 6.1,0 6.2-0.1 6.1,2 6.1,3.6 6.2,3.7 6.1,3.7 6.2,3.7 6.1-0.6 6.2-2.8 6.1-2.8 6.2-2.7 6.1-2.6 6.2-2.5 6.1-2.2 6.2-1.9 6.1-1.7 6.1-2.6 6.2-1.7 6.1,1.7 6.2,1.7 6.1,1.6 6.2,1.5 6.1,1.5 6.1,1.3 6.2,1.2 6.1,1.1 6.2,1.1 6.1,0.9 6.2,0.9 6.1,0.4M120.0,1099.3l6.1-3.1 6.1-3.5 6.2-3.5 6.1-3.5 6.1-3.5 6.1-3.5 6.1-0.3 6.1,3.5 6.2,3.5 6.1,3.5 6.1,3.4 6.1,3.5 6.1,3.2 6.1-2.8 6.2-3 6.1-3 6.1-3 6.1-3 6.1-3.1 6.2-3 6.1,0.7 6.1,1.7 6.1,1.7 6.1,1.7 6.1,1.6 6.2,1.6 6.1,1.8 6.1-1.3 6.1,2.9 6.2,0.1 6.1,0.3 6.2,0.3 6.1,0.2 6.2,0.2 6.1,0.1 6.2,0.1 6.1,0 6.2-0.1 6.1,0 6.1-0.2 6.2-0.3 6.1-0.3 6.2-0.5 6.1-0.5 6.2-0.5 6.1-0.7 6.2-0.8 6.1-1 6.2-1.2 6.1-1.4 6.2-1.8 6.1-2.2 6.1,1.7 6.2,1 6.1-2.4 6.2-2.4 6.1-2.5 6.2,0.9 6.1,3 6.1,3 6.2,2.9 6.1,2.9 6.2,2.9 6.1,2.8 6.2,2.8 6.1,2.4M120.0,1053.9l6.1,3.5 6.1,3.5 6.2,3.5 6.1,3.5 6.1,3.5 6.1,3.5 6.1,0.3 6.1-3.6 6.2-3.5 6.1-3.5 6.1-3.6 6.1,0.7 6.1,2 6.1,2.1 6.2,2 6.1,1.9 6.1,1.9 6.1,1.9 6.1,1.8 6.2,1.8 6.1-2.1 6.1-0.3 6.1,2.5 6.1,2.4 6.1,2.4 6.2,2.3 6.1,2.1 6.1,1.2 6.1-2.4 6.2-3.2 6.1-3.4 6.2-3.4 6.1-3.5 6.2,3.6 6.1,3.7 6.2,3.7 6.1,3.7 6.2,3.7 6.1,1.5 6.1-0.3 6.2-0.2 6.1-0.4 6.2-0.4 6.1-0.6 6.2-0.6 6.1-0.7 6.2-0.9 6.1-1.1 6.2-1.3 6.1-1.7 6.2-2 6.1-2.4 6.1-1.9 6.2-2.6 6.1-2.9 6.2-1.1 6.1,3.1 6.2-0.3 6.1-2.3 6.1-2.4 6.2-2.4 6.1-2.4 6.2-2.5 6.1-2.4 6.2-2.5 6.1-2.5M120.0,1053.9l6.1-1.1 6.1-1M162.8,1050.8l6.1,2.2 6.2,2.3 6.1,2.1 6.1,2.2 6.1-2.2 6.1-3.5 6.1-0.3 6.2,2.7 6.1,2.7 6.1,2.7 6.1,2.6 6.1,2.7 6.2,2.6 6.1,2.5 6.1-0.2 6.1-1.1 6.1,3.6 6.1,3.5 6.2,3.5 6.1,3.3 6.1,2.8 6.1-2.3 6.2-3.2 6.1-3.4 6.2-3.5 6.1-3.4 6.2-3.5 6.1-3.5 6.2-3.6 6.1-3.5 6.2-3.6 6.1-3.5M414.2,1050.1l6.2,2.4 6.1,2.5 6.2,3.1 6.1,3.4 6.1,0.5 6.2,2.5 6.1,3 6.2,1.1 6.1-3.2 6.2-3.3 6.1-2.8 6.1-0.6 6.2-0.6 6.1-0.8 6.2-0.8 6.1-0.8 6.2-0.9 6.1-0.9M120.0,1053.8l6.1-2.5M224.0,1050.5l6.1,2.1 6.1,3.6 6.2,3.7 6.1,3.6 6.1,3.7 6.1,1.6 6.1-3.2 6.1-3.1 6.2-3.2 6.1-3.1 6.1-3.2 6.1,3.7 6.2,3.7 6.1,3.7 6.2,3.7 6.1,3.7 6.2-3.3 6.1-3.6 6.2-3.5 6.1-3.5 6.2-3.6 6.1-3.5M420.4,1052.0l6.1,2 6.2,2.1 6.1,2 6.1,2.4 6.2,0.4 6.1-0.1 6.2-0.2 6.1-0.4 6.2-0.4 6.1-1.1 6.1-3.4 6.2-3.4M518.7,1050.3l6.1,3.5M248.5,1052.0l6.1,0.2 6.1,0.3 6.1,0.1 6.1,0.2 6.2,0.1 6.1,0.1 6.1,0 6.1-1.9M420.4,1049.6l6.1,3.2 6.2,2.7 6.1,2.2 6.1-2.9 6.2-3.2M285.2,1049.8l6.1,3.2 6.1-1.9" fill="none" stroke="#ff0000" stroke-width="3" stroke-linejoin="round"/>
<path d="M365.1,1528.9l12.3-6.5 12.3,3.6M340.5,1524.8l12.3-4.5 12.2-2 12.3,3.9 12.3,3.8M487.9,1527.1l12.3-4.7 12.3,4.4M120.0,1513.4l12.2,6.3 12.3,2.3 12.2-5.2 12.2-1.8 12.3,4.9 12.2-3.2 12.2,0.3 12.3,3.3 12.2,3.5 12.3-4.2 12.2,5M340.5,1524.7l12.3-4.5 12.2-1.9 12.3,3.9 12.3-6.3 12.3,5.3 12.3,6.3M475.7,1522.6l12.2-2.5 12.3,0.9 12.3-3.1 12.3-4.5M120.0,1513.4l12.2-1.8 12.3-1.4 12.2-0.1 12.2,1.6 12.3-0.2 12.2,2.6 12.2-3.9 12.3-4.6 12.2,6.3 12.3,6.3 12.2-4.3 12.2-5.7 12.3-5.7 12.2-5.6 12.3,3.3 12.3,3.5 12.3,3.5 12.3,3.6 12.3,3.7 12.2,1.4 12.3-4.3 12.3,3.2 12.3,6.4 12.3,6.3M463.4,1525.3l12.3-4.5 12.2-5.6 12.3,2.5 12.3-2.2 12.3-2.1M120.0,1513.4l12.2-4.3 12.3-3.8 12.2,4.2 12.2,0.4 12.3-3.3 12.2-4.5 12.2-1.7 12.3,3.3 12.2-5 12.3-0.7 12.2-0.5 12.2-0.3 12.3-0.2 12.2-0.1 12.3,3.3 12.3,3.5 12.3,3.5 12.3,3.6 12.3,3.7 12.2,1.3 12.3-4.3 12.3,3.3 12.3-5.4 12.3-6.4 12.3-5.9 12.3-4.3 12.3,5.3 12.3,5.6 12.3,5.7 12.2,5.3 12.3-6.2 12.3-1.3 12.3,6.2M120.0,1496.2l12.2,4.5 12.3,4.2 12.2-3.7 12.2,0.7 12.3-0.3 12.2-1.2 12.2-1.1 12.3,0.2 12.2-2.2 12.3-6.5 12.2-6.4 12.2,1.4 12.3,5.5 12.2,5.6 12.3-6.5 12.3-6.6 12.3-0.3 12.3,6.2 12.3,6.3 12.2,6.2 12.3,6.3 12.3-1 12.3-4 12.3-3.8 12.3-3.7 12.3-3.6 12.3-2.5 12.3,0.3 12.3,0.7 12.2,3.9 12.3,6.1 12.3,1.4 12.3-6.1M120.0,1496.1l12.2,1.8 12.3,1.8 12.2,1.1 12.2-4 12.3-3.8 12.2,0 12.2,3.3 12.3-4.7 12.2-4.7 12.3-4.6 12.2-2 12.2-2.2 12.3-6.2 12.2-5.4 12.3,4.9 12.3,6 12.3,6.1 12.3,6.2 12.3,6.3 12.2,6.2 12.3,6.3 12.3-1.1 12.3-4 12.3-4 12.3-4.3 12.3-5.7 12.3-2.6 12.3-3.6 12.3,5.7 12.2,3 12.3,1.2 12.3,1.4 12.3,1.6M120.0,1496.1l12.2-6.2 12.3-6.2 12.2-6.1 12.2,2.9 12.3,6.2 12.2,2.5 12.2-3.6 12.3-3.4 12.2-3.3 12.3-3.2 12.2,2.1 12.2-4.3 12.3-4.2 12.2-2.9 12.3,5 12.3,6 12.3-0.1 12.3-6.5 12.3-6.5 12.2-1.2 12.3,0.6 12.3,0.9 12.3,1.2 12.3,1.7 12.3,2.6 12.3,3.9 12.3,4 12.3,3.4 12.3-2.4 12.2,4.2 12.3,4.2 12.3,4.3 12.3,4.4M120.0,1456.1l12.2,5.8 12.3,6.2 12.2,6.2 12.2-2.9 12.3-6.1 12.2-6 12.2-0.4 12.3,5.2 12.2,5.3 12.3,5.4 12.2-2.2 12.2-2.9 12.3-2.8 12.2-0.5 12.3-2.6 12.3-0.5 12.3-0.4 12.3-0.1 12.3,0 12.2,0.2 12.3,0.6 12.3,0.8 12.3,1.1 12.3,1.6 12.3,2.2 12.3,3.5 12.3-2.3 12.3,4.2 12.3,1.4 12.2-5.2 12.3-5.2 12.3-5 12.3-4.6M120.0,1456.1l12.2-1.4 12.3-0.9 12.2-0.5 12.2-0.3 12.3,0.1 12.2,0.9 12.2,0.1 12.3,0.7 12.2,1.1 12.3,1.4 12.2,1.7 12.2,1.9 12.3,2.3 12.2,0.2 12.3,0.3 12.3-0.5 12.3-0.4 12.3-0.1 12.3,0 12.2-4.9 12.3-6.5 12.3-2.7 12.3,4.9 12.3,4.7 12.3,4.1 12.3,3.1 12.3,3.9 12.3-3 12.3-2.8 12.2-2.4 12.3-2.1 12.3-1.7 12.3-1.2M120.0,1455.2l12.2-4.1 12.3-4.4 12.2-4.1 12.2,0.8 12.3,5 12.2,4.5 12.2,0.1 12.3-5.8 12.2-0.5 12.3,3.2 12.2,3.5 12.2,3.6 12.3,3.7 12.2,2.7 12.3-2 12.3-4.9 12.3-4.9 12.3-4.7 12.3-4.5 12.2-3.5 12.3,4.8 12.3,2.9 12.3,5.1 12.3,5.1 12.3,4.5 12.3,3.7 12.3-5.2 12.3-5.7 12.3-5.9 12.2-6 12.3,1.5 12.3,6 12.3,5.5M120.0,1424.1l12.2,4.6 12.3,4.8 12.2,4.9 12.2,0.8 12.3-1.6 12.2,1 12.2,2.3 12.3,2.7 12.2-2.3 12.3-2 12.2,6.3 12.2,6.2 12.3,6.2 12.2,5.3 12.3-5 12.3-5 12.3-4.8 12.3-4.8 12.3-4.5 12.2-1.2 12.3,3.5 12.3,3.3 12.3-6.4 12.3-6.5 12.3-6.4 12.3-6.4 12.3,1.4 12.3,5.6 12.3,5.8 12.2,5.9 12.3-1.7 12.3-6 12.3-6M120.0,1424.1l12.2,1.4 12.3,1.6 12.2,1.6 12.2,1.4 12.3-0.1 12.2-2.2 12.2-2.8 12.3,1.7 12.2,6.3 12.3,2.5 12.2-5.7 12.2-5.5 12.3-5 12.2-2.8 12.3,2 12.3,3.3 12.3,3.9 12.3,4.1 12.3,4.4 12.2,2.5 12.3-2.9 12.3-4.1 12.3-3.8 12.3-3.5 12.3-3.2 12.3-2.9 12.3,2.9 12.3,0.3 12.3,0.5 12.2,0.7 12.3,0.9 12.3,1.1 12.3,1.4M120.0,1424.0l12.2-6 12.3-6 12.2-5.9 12.2-4.1 12.3,6.1 12.2,6.1 12.2,6.2 12.3,1.7 12.2-2.6 12.3-2.3 12.2-1.8 12.2-1.4 12.3-1 12.2-1.8 12.3,3.4 12.3,3.8 12.3,4.1 12.3,4.4 12.3,4.6 12.2,3 12.3-4.1 12.3-4.1 12.3-3.8 12.3-3.6 12.3-3.2 12.3-2.9 12.3-4 12.3-5.2 12.3,2.8 12.2,4.2 12.3,4.4 12.3,4.5 12.3,4.5M120.0,1380.7l12.2,4.3 12.3,5.3 12.2,5.8 12.2,4.1 12.3-5.8 12.2-5.7 12.2-5 12.3,2.1 12.2,3.6 12.3,4 12.2,4.3 12.2,4.6 12.3,4.7 12.2,4.2 12.3-5 12.3-5.8 12.3-5.9 12.3-5.8 12.3-5.7 12.2-5.4 12.3-3.5 12.3,2.3 12.3,4.2 12.3,4.6 12.3,4.9 12.3,4.9 12.3,3.5 12.3,3.8 12.3-4 12.2-5 12.3-4.7 12.3-4.3 12.3-3.6M120.0,1380.7l12.2-2.5 12.3-1.4 12.2-0.3 12.2,0.4 12.3,1.3 12.2,1.8 12.2,1.8 12.3-4.6 12.2-5.4 12.3-5.4 12.2-5.2 12.2-5.1 12.3-4.8 12.2-4.1 12.3,2.6 12.3,2.9 12.3,3.1 12.3,3.3 12.3,3.6 12.2,4.1 12.3,4.2 12.3,4.4 12.3,4.6 12.3,4.8 12.3,4.8 12.3,4.9 12.3-3.2 12.3-3.3 12.3-2.9 12.2-2.6 12.3-2.2 12.3-1 12.3,1.4M120.0,1370.2l12.2-1.2 12.3-2.6 12.2-3 12.2-3.1 12.3-2.8 12.2-2.6 12.2-2.2 12.3-1.8 12.2-1.4 12.3-1.2 12.2-0.8 12.2-0.5 12.3-0.3 12.2,0.5 12.3,1.7 12.3,3.1 12.3,3.3 12.3,3.6 12.3,3.8 12.2,3.6 12.3,2.2 12.3-3.2 12.3-4.7 12.3-4.6 12.3-4.3 12.3-3.9 12.3,1 12.3,2.7 12.3,3.8 12.2,4.5 12.3,4.7 12.3,4 12.3,1.7M120.0,1289.2l12.2,4.7 12.3,4.4 12.2,4.3 12.2,4.1 12.3,3.8 12.2,3.8 12.2,3.6 12.3,3.7 12.2,3.7 12.3,3.8 12.2,4 12.2,4.2 12.3,4.2 12.2,3.3 12.3-3.9 12.3-5 12.3-4.8 12.3-4.4 12.3-3.9 12.2-3.4 12.3-2.8 12.3-2 12.3-1.1 12.3-0.4 12.3,0.4 12.3,1.1 12.3-0.9 12.3-2.6 12.3-3.6 12.2-4.3 12.3-4.5 12.3-4.8 12.3-4.7M120.0,1289.1l12.2-4.7 12.3-4.7 12.2-4.6 12.2-4.5 12.3-4.4 12.2-4.2 12.2-4.2 12.3-4.3 12.2-4.3 12.3-4.5 12.2-4.6 12.2-4.9 12.3-4.9 12.2-3.8 12.3,2.6 12.3,3.2 12.3,3.2 12.3,3.2 12.3,3.2 12.2,3.3 12.3,3.2 12.3,3.2 12.3,3 12.3,2.7 12.3,2.4 12.3,1.9 12.3,1.1 12.3,2.9 12.3,4.1 12.2,4.7 12.3,4.9 12.3,5 12.3,4.8M120.0,1197.2l12.2,1.4 12.3,3 12.2,3.5 12.2,3.5 12.3,3.2 12.2,3 12.2,2.5 12.3,2.1 12.2,1.7 12.3,1.3 12.2,0.9 12.2,0.7 12.3,0.3 12.2-0.6 12.3,2.7 12.3,2.4 12.3,2 12.3,1.7 12.3,1.2 12.2,0.7 12.3,0.1 12.3-0.7 12.3-1.4 12.3-2.4 12.3-3.1 12.3-3.9 12.3-1.1 12.3-3.2 12.3-4.4 12.2-5.2 12.3-5.3 12.3-4.7 12.3-1.9M120.0,1185.2l12.2,2.9 12.3,1.5 12.2,0.4 12.2-0.5 12.3-1.4 12.2-2.1 12.2-2.1 12.3,5.3 12.2,6.2 12.3,6.2 12.2,6 12.2,5.8 12.3,5.6 12.2,4.7 12.3-5.6 12.3-6.5 12.3-6.6 12.3-6.8 12.3-6.9 12.2-7 12.3-7 12.3-7.1 12.3-7.2 12.3-2.8 12.3,3.9 12.3,5.3 12.3,3.7 12.3,3.7 12.3,3.4 12.2,3 12.3,2.4 12.3,1.2 12.3-1.6M120.0,1185.2l12.2-4.9 12.3-6.1 12.2-6.5 12.2-4.8 12.3,6.7 12.2,6.5 12.2,5.7 12.3-2.5 12.2-4 12.3-4.6 12.2-4.9 12.2-5.3 12.3-5.3 12.2-4.7 12.3,3.3 12.3,2.8 12.3,2.2 12.3,1.6 12.3,0.9 12.2,0.2 12.3-0.3 12.3-0.8 12.3-0.8 12.3-1.4 12.3,5 12.3,5.7 12.3-4 12.3-4.3 12.3,4.5 12.2,5.7 12.3,5.4 12.3,4.9 12.3,4.1M120.0,1135.8l12.2,6.9 12.3,6.8 12.2,6.7 12.2,4.7 12.3-6.9 12.2-7 12.2-7.1 12.3-1.9 12.2,3 12.3,2.6 12.2,2.1 12.2,1.5 12.3,1.2 12.2,2.1 12.3-0.1 12.3,2.2 12.3,1.9 12.3,1.4 12.3,0.8 12.2,0.2 12.3-0.3 12.3-0.6 12.3-0.3 12.3,0.2 12.3-4.9 12.3-2.4 12.3,4.6 12.3,5.9 12.3-3.3 12.2-4.7 12.3-5 12.3-5.1 12.3-5.2M120.0,1135.8l12.2-1.7 12.3-1.8 12.2-1.8 12.2-1.6 12.3,0.1 12.2,2.5 12.2,3.3 12.3-2 12.2-7.1 12.3-2.9 12.2,6.5 12.2,6.2 12.3,5.7 12.2,3.2 12.3-3.9 12.3-6.6 12.3-7.1 12.3-7 12.3,3.6 12.2,6.5 12.3,6.4 12.3,6.2 12.3,5.5 12.3,3.4 12.3-2.8 12.3-4 12.3-3.3 12.3-0.3 12.3-0.6 12.2-0.8 12.3-1.1 12.3-1.2 12.3-1.5M120.0,1135.8l12.2-5.3 12.3-5.5 12.2-5.5 12.2-0.9 12.3,1.7 12.2-1.1 12.2-2.5 12.3-3.1 12.2,2.6 12.3,2.3 12.2-7.2 12.2-7.1 12.3-7 12.2-6.1 12.3,5.5 12.3,6.7 12.3,6.8 12.3,6.7 12.3,6.6 12.2,6.5 12.3,6.3 12.3,6.1 12.3,5 12.3,1.5 12.3-1.5 12.3-5.9 12.3-1.6 12.3-6.4 12.3-6.5 12.2-6.7 12.3,1.9 12.3,6.8 12.3,6.9M120.0,1100.4l12.2,4.7 12.3,5 12.2,4.7 12.2-1 12.3-5.7 12.2-5.1 12.2-0.1 12.3,6.6 12.2,0.6 12.3-3.7 12.2-3.9 12.2-4.1 12.3-4.2 12.2-3.1 12.3,5.5 12.3,6.7 12.3,6.7 12.3,6.7 12.3-4.2 12.2-7.2 12.3-7.3 12.3-7.3 12.3-7.3 12.3,0.1 12.3,2.7 12.3,3.1 12.3,5.8 12.3,6.6 12.3,6.7 12.2,6.8 12.3-1.8 12.3-6.8 12.3-6.2M120.0,1099.3l12.2,1.7 12.3,0.9 12.2,0.7 12.2,0.2 12.3,0 12.2-1.1 12.2-0.1 12.3-0.8 12.2-1.3 12.3-1.6 12.2-1.8 12.2-2.2 12.3-2.6 12.2-0.2 12.3-3.4 12.3-1.3 12.3-1.7 12.3-2 12.3-2.2 12.2-2.5 12.3-1.7 12.3,2.2 12.3,2.5 12.3,2.4 12.3,2.5 12.3,2.8 12.3-4.3 12.3,3.4 12.3,3.1 12.2,2.8 12.3,2.3 12.3,2 12.3,1.3M120.0,1099.3l12.2-6.6 12.3-7 12.2-7 12.2,3.2 12.3,7 12.2,6.9 12.2,0.4 12.3-6 12.2-6 12.3-6.1 12.2,2.4 12.2,3.4 12.3,3.2 12.2,0.5 12.3,0.1 12.3-1.4 12.3-1.7 12.3-2 12.3-2.2 12.2-2.5 12.3-1.7 12.3,2.3 12.3,2.5 12.3-4.9 12.3-1.1 12.3,5.3 12.3,2.7 12.3-4.8 12.3-1.6 12.2,6 12.3,5.8 12.3,5.7 12.3,5.2M120.0,1053.9l12.2,7 12.3,7 12.2,7 12.2-3.3 12.3-7 12.2-2.9 12.2,4.1 12.3,3.9 12.2,3.8 12.3,3.6 12.2-2.4 12.2,4.9 12.3,4.7 12.2,3.3 12.3-2.4 12.3-6 12.3-6.1 12.3-6.1 12.3,2.8 12.2,2.9 12.3,1.9 12.3-2.5 12.3-3.2 12.3,0.1 12.3,4.5 12.3,5.5 12.3-4.5 12.3-4 12.3,2.8 12.2-4.7 12.3-4.8 12.3-4.9 12.3-5M168.9,1053.0l12.3,4.4 12.2,0 12.2-3.8 12.3,5.4 12.2,5.3 12.3,5.3 12.2,2.3 12.2,2.5 12.3,7 12.2,6.1 12.3-5.8 12.3-5.9 12.3-6.1 12.3-2.9 12.3,3 12.2,2.9 12.3,1.8 12.3-2.5 12.3-3.2 12.3-1.3 12.3,1.2 12.3-7.2 12.3,3 12.3,4.1 12.3-6.5 12.2-3.4 12.3-1.4 12.3-1.6M230.1,1052.6l12.3,7.3 12.2,7.3 12.2-1.6 12.3-6.3 12.2-6.3 12.3,3.6 12.3,3.6 12.3,3.3 12.3,3.3 12.3-6 12.2-6.3 12.3-5.3 12.3,6.7 12.3,6.6 12.3,3 12.3-3.6 12.3-3.8 12.3,2.8 12.3-0.3 12.3-0.8 12.2-4.5M291.3,1053.0l12.3,3.6 12.3,3.6 12.3,3.3 12.3,0.1 12.3-6.2 12.2-6.3M389.6,1054.5l12.3,6.6 12.3,4.2 12.3-3.6 12.3-4 12.3-6.1M487.9,1527.1l12.3-4.7 12.3,4.4M120.0,1513.4l12.2,6.3 12.3,2.3 12.2-5.2 12.2-1.8 12.3,4.9 12.2-3.2 12.2,0.3 12.3,3.3 12.2,3.5 12.3-4.2 12.2,5M328.2,1524.7l12.3-5.2 12.3-6.1 12.2-6 12.3-3.3 12.3,5.7 12.3,5.6 12.3,5.8 12.3,5.8M475.7,1522.6l12.2-2.5 12.3,0.9 12.3-3.1 12.3-4.5M120.0,1513.4l12.2-1.8 12.3-1.4 12.2-0.1 12.2,1.6 12.3-0.2 12.2,2.6 12.2-3.9 12.3-4.6 12.2,6.3 12.3,6.3 12.2-4.3 12.2-5.7 12.3-5.7 12.2-5.6 12.3,6.5 12.3,6.6 12.3,6.5 12.3,2 12.3-6.1 12.2-6.1 12.3-4.9 12.3,5.4 12.3,5.7 12.3,5.8 12.3,5.7M463.4,1525.3l12.3-4.5 12.2-5.6 12.3,2.5 12.3-2.2 12.3-2.1M120.0,1513.4l12.2-4.3 12.3-3.8 12.2,4.2 12.2,0.4 12.3-3.3 12.2-4.5 12.2-1.7 12.3,3.3 12.2-5 12.3-0.7 12.2-0.5 12.2-0.3 12.3-0.2 12.2-0.1 12.3-3.2 12.3-3.1 12.3-3 12.3,0 12.3,5.4 12.2,5.5 12.3,2.7 12.3-5.6 12.3-5.8 12.3-3.8 12.3,3.2 12.3,3.6 12.3,5.3 12.3,5.6 12.3,5.7 12.2,5.3 12.3-6.2 12.3-1.3 12.3,6.2M120.0,1496.2l12.2,4.5 12.3,4.2 12.2-3.7 12.2,0.7 12.3-0.3 12.2-1.2 12.2-1.1 12.3,0.1 12.2-2.1 12.3-6.5 12.2-6.4 12.2,1.4 12.3,5.5 12.2,5.6 12.3-3.2 12.3-3.1 12.3-3 12.3-2.8 12.3,5.2 12.2,5.6 12.3,4.7 12.3-6 12.3-5.8 12.3-2.6 12.3,3.2 12.3,3.3 12.3-2.5 12.3,0.3 12.3,0.7 12.2,3.9 12.3,6.1 12.3,1.4 12.3-6.1M120.0,1496.1l12.2,1.8 12.3,1.8 12.2,1.1 12.2-4 12.3-3.8 12.2,0 12.2,3.3 12.3-4.7 12.2-4.7 12.3-4.6 12.2-2 12.2-2.2 12.3-6.2 12.2-5.4 12.3,5.1 12.3,5.3 12.3,5.3 12.3,2.6 12.3-2.7 12.2-2.6 12.3-1.5 12.3,2.2 12.3,2.8 12.3,1.2 12.3-1.2 12.3,6.4 12.3-2.6 12.3-3.6 12.3,5.7 12.2,3 12.3,1.2 12.3,1.4 12.3,1.6M120.0,1496.1l12.2-6.2 12.3-6.2 12.2-6.1 12.2,2.9 12.3,6.2 12.2,2.6 12.2-3.6 12.3-3.5 12.2-3.3 12.3-3.2 12.2,2.1 12.2-4.3 12.3-4.2 12.2-2.9 12.3,2.2 12.3,5.2 12.3,5.4 12.3,5.4 12.3-2.5 12.2-2.6 12.3-1.6 12.3,2.2 12.3,2.8 12.3-0.1 12.3-4 12.3-4.8 12.3,4 12.3,3.4 12.3-2.4 12.2,4.2 12.3,4.2 12.3,4.3 12.3,4.4M120.0,1456.1l12.2,5.8 12.3,6.2 12.2,6.2 12.2-2.9 12.3-6.1 12.2-6 12.2-0.4 12.3,5.2 12.2,5.3 12.3,5.4 12.2-2.2 12.2-2.9 12.3-2.8 12.2-0.5 12.3,0 12.3,1.2 12.3,1.5 12.3,1.7 12.3,2 12.2,2.1 12.3,1.5 12.3-1.9 12.3-2.2 12.3,4.3 12.3,0.9 12.3-4.7 12.3-2.3 12.3,4.2 12.3,1.4 12.2-5.2 12.3-5.2 12.3-5 12.3-4.6M120.0,1456.1l12.2-1.4 12.3-0.9 12.2-0.5 12.2-0.3 12.3,0.1 12.2,0.9 12.2,0.1 12.3,0.7 12.2,1.1 12.3,1.4 12.2,1.7 12.2,1.9 12.3,2.3 12.2,0.2 12.3,2.9 12.3,1.2 12.3,1.5 12.3,1.7 12.3,2 12.2,2.2 12.3,1.5 12.3-1.9 12.3-2.3 12.3-2.1 12.3-2.2 12.3-2.5 12.3,3.9 12.3-3 12.3-2.8 12.2-2.4 12.3-2.1 12.3-1.7 12.3-1.2M120.0,1455.2l12.2-4.1 12.3-4.4 12.2-4.1 12.2,0.8 12.3,5 12.2,4.5 12.2,0.1 12.3-5.8 12.2-0.5 12.3,3.2 12.2,3.5 12.2,3.6 12.3,3.7 12.2,2.7 12.3-4.9 12.3-5.9 12.3-5.9 12.3-5.8 12.3,3.7 12.2,6.3 12.3,6.4 12.3,6.4 12.3,6.5 12.3-0.2 12.3-2.3 12.3-2.7 12.3-5.2 12.3-5.7 12.3-5.9 12.2-6 12.3,1.5 12.3,6 12.3,5.5M120.0,1424.1l12.2,4.6 12.3,4.8 12.2,4.9 12.2,0.8 12.3-1.6 12.2,1 12.2,2.3 12.3,2.7 12.2-2.3 12.3-2 12.2,6.3 12.2,6.2 12.3,6.2 12.2,5.3 12.3-4.8 12.3-5.9 12.3-5.9 12.3-5.9 12.3-5.8 12.2-5.8 12.3-5.5 12.3-5.3 12.3-4.4 12.3-1.4 12.3,1.4 12.3,5.1 12.3,1.4 12.3,5.6 12.3,5.8 12.2,5.9 12.3-1.7 12.3-6 12.3-6M120.0,1424.1l12.2,1.4 12.3,1.6 12.2,1.6 12.2,1.4 12.3-0.1 12.2-2.2 12.2-2.8 12.3,1.7 12.2,6.3 12.3,2.5 12.2-5.7 12.2-5.5 12.3-5 12.2-2.8 12.3,3.4 12.3,5.9 12.3,6.1 12.3,6.3 12.3-3.2 12.2-5.8 12.3-5.6 12.3-5.4 12.3-4.9 12.3-3 12.3,2.5 12.3,3.5 12.3,2.9 12.3,0.3 12.3,0.5 12.2,0.7 12.3,0.9 12.3,1.1 12.3,1.4M120.0,1424.0l12.2-6 12.3-6 12.2-5.9 12.2-4.1 12.3,6.1 12.2,6.1 12.2,6.2 12.3,1.7 12.2-2.6 12.3-2.3 12.2-1.8 12.2-1.4 12.3-1 12.2-1.8 12.3,0 12.3-1.9 12.3-1.7 12.3-1.2 12.3-0.7 12.2-0.2 12.3,0.3 12.3,0.5 12.3,0.3 12.3-0.2 12.3,4.3 12.3,2.1 12.3-4 12.3-5.2 12.3,2.8 12.2,4.2 12.3,4.4 12.3,4.5 12.3,4.5M120.0,1380.7l12.2,4.3 12.3,5.3 12.2,5.8 12.2,4.1 12.3-5.8 12.2-5.7 12.2-5 12.3,2.1 12.2,3.6 12.3,4 12.2,4.3 12.2,4.6 12.3,4.7 12.2,4.2 12.3-3 12.3-2.4 12.3-2 12.3-1.3 12.3-0.8 12.2-0.3 12.3,0.3 12.3,0.7 12.3,0.8 12.3,1.2 12.3-4.5 12.3-4.9 12.3,3.5 12.3,3.8 12.3-4 12.2-5 12.3-4.7 12.3-4.3 12.3-3.6M120.0,1380.7l12.2-2.5 12.3-1.4 12.2-0.3 12.2,0.4 12.3,1.3 12.2,1.8 12.2,1.8 12.3-4.6 12.2-5.4 12.3-5.4 12.2-5.2 12.2-5.1 12.3-4.8 12.2-4.1 12.3,4.8 12.3,5.6 12.3,5.8 12.3,6 12.3,6 12.2,6.1 12.3,6.1 12.3,6.3 12.3,6.2 12.3,2.5 12.3-3.4 12.3-4.7 12.3-3.2 12.3-3.3 12.3-2.9 12.2-2.6 12.3-2.2 12.3-1 12.3,1.4M120.0,1370.2l12.2-1.2 12.3-2.6 12.2-3 12.2-3.1 12.3-2.8 12.2-2.6 12.2-2.2 12.3-1.8 12.2-1.4 12.3-1.2 12.2-0.8 12.2-0.5 12.3-0.3 12.2,0.5 12.3-2.3 12.3-2.1 12.3-1.7 12.3-1.5 12.3-1 12.2-0.6 12.3-0.1 12.3,0.6 12.3,1.3 12.3,2 12.3,2.6 12.3,3.4 12.3,1 12.3,2.7 12.3,3.8 12.2,4.5 12.3,4.7 12.3,4 12.3,1.7M120.0,1289.2l12.2,4.7 12.3,4.4 12.2,4.3 12.2,4.1 12.3,3.8 12.2,3.8 12.2,3.6 12.3,3.7 12.2,3.7 12.3,3.8 12.2,4 12.2,4.2 12.3,4.2 12.2,3.3 12.3-2.2 12.3-2.8 12.3-2.7 12.3-2.8 12.3-2.8 12.2-2.8 12.3-2.7 12.3-2.7 12.3-2.6 12.3-2.4 12.3-2.1 12.3-1.6 12.3-0.9 12.3-2.6 12.3-3.6 12.2-4.3 12.3-4.5 12.3-4.8 12.3-4.7M120.0,1289.1l12.2-4.7 12.3-4.7 12.2-4.6 12.2-4.5 12.3-4.4 12.2-4.2 12.2-4.2 12.3-4.3 12.2-4.3 12.3-4.5 12.2-4.6 12.2-4.9 12.3-4.9 12.2-3.8 12.3,4.6 12.3,5.8 12.3,5.5 12.3,5.1 12.3,4.6 12.2,4 12.3,3.1 12.3,2.3 12.3,1.4 12.3,0.4 12.3-0.5 12.3-1.2 12.3,1.1 12.3,2.9 12.3,4.1 12.2,4.7 12.3,4.9 12.3,5 12.3,4.8M120.0,1197.2l12.2,1.4 12.3,3 12.2,3.5 12.2,3.5 12.3,3.2 12.2,3 12.2,2.5 12.3,2.1 12.2,1.7 12.3,1.3 12.2,0.9 12.2,0.7 12.3,0.3 12.2-0.6 12.3-1.9 12.3-3.6 12.3-3.9 12.3-4.1 12.3-4.4 12.2-4.1 12.3-2.5 12.3,3.6 12.3,5.4 12.3,5.4 12.3,5 12.3,4.4 12.3-1.1 12.3-3.2 12.3-4.4 12.2-5.2 12.3-5.3 12.3-4.7 12.3-1.9M120.0,1185.2l12.2,2.9 12.3,1.5 12.2,0.4 12.2-0.5 12.3-1.4 12.2-2.1 12.2-2.1 12.3,5.3 12.2,6.2 12.3,6.2 12.2,6 12.2,5.8 12.3,5.6 12.2,4.7 12.3-3 12.3-3.3 12.3-3.6 12.3-3.9 12.3-4.1 12.2-4.6 12.3-4.9 12.3-5.1 12.3-5.2 12.3-5.5 12.3-5.5 12.3-5.6 12.3,3.7 12.3,3.7 12.3,3.4 12.2,3 12.3,2.4 12.3,1.2 12.3-1.6M120.0,1185.2l12.2-4.9 12.3-6.1 12.2-6.5 12.2-4.8 12.3,6.7 12.2,6.5 12.2,5.7 12.3-2.5 12.2-4 12.3-4.6 12.2-4.9 12.2-5.3 12.3-5.3 12.2-4.7 12.3,5.6 12.3,6.6 12.3,6.8 12.3,6.6 12.3,6.5 12.2,6.1 12.3,4 12.3-2.6 12.3-4.8 12.3-5.3 12.3-5.5 12.3-5.6 12.3-4 12.3-4.3 12.3,4.5 12.2,5.7 12.3,5.4 12.3,4.9 12.3,4.1M120.0,1135.8l12.2,6.9 12.3,6.8 12.2,6.7 12.2,4.7 12.3-6.9 12.2-7 12.2-7.1 12.3-1.9 12.2,3 12.3,2.6 12.2,2.1 12.2,1.5 12.3,1.2 12.2,2.1 12.3-3.9 12.3-4.3 12.3-4.7 12.3-5 12.3-5.3 12.2-3.3 12.3,4.6 12.3,4.6 12.3,4.4 12.3,4 12.3,3.7 12.3,3.3 12.3,4.6 12.3,5.9 12.3-3.3 12.2-4.7 12.3-5 12.3-5.1 12.3-5.2M120.0,1135.8l12.2-1.7 12.3-1.8 12.2-1.8 12.2-1.6 12.3,0.1 12.2,2.5 12.2,3.3 12.3-2 12.2-7.1 12.3-2.9 12.2,6.5 12.2,6.2 12.3,5.7 12.2,3.2 12.3-2.3 12.3-3.8 12.3-4.3 12.3-4.8 12.3-5 12.2-2.7 12.3,3.3 12.3,4.5 12.3,4.3 12.3,4.1 12.3,3.6 12.3,3.3 12.3-3.3 12.3-0.3 12.3-0.6 12.2-0.8 12.3-1.1 12.3-1.2 12.3-1.5M120.0,1135.8l12.2-5.3 12.3-5.5 12.2-5.5 12.2-0.9 12.3,1.7 12.2-1.1 12.2-2.5 12.3-3.1 12.2,2.6 12.3,2.3 12.2-7.2 12.2-7.1 12.3-7 12.2-6.1 12.3,5.8 12.3,5.6 12.3,5.5 12.3,5.4 12.3,5.2 12.2,1.4 12.3-4 12.3-3.8 12.3,7.3 12.3,7.3 12.3,7.3 12.3,7.3 12.3-1.6 12.3-6.4 12.3-6.5 12.2-6.7 12.3,1.9 12.3,6.8 12.3,6.9M120.0,1100.4l12.2,4.7 12.3,5 12.2,4.7 12.2-1 12.3-5.7 12.2-5.1 12.2-0.1 12.3,6.6 12.2,0.6 12.3-3.7 12.2-3.9 12.2-4.1 12.3-4.2 12.2-3.1 12.3,2.2 12.3,5.6 12.3,5.5 12.3,5.4 12.3,5.2 12.2,3.9 12.3-5.4 12.3-3.3 12.3-5.9 12.3-5.7 12.3-5.2 12.3-4.1 12.3,5.8 12.3,6.6 12.3,6.7 12.2,6.8 12.3-1.8 12.3-6.8 12.3-6.2M120.0,1099.3l12.2,1.7 12.3,0.9 12.2,0.7 12.2,0.2 12.3,0 12.2-1.1 12.2-0.1 12.3-0.8 12.2-1.3 12.3-1.6 12.2-1.8 12.2-2.2 12.3-2.6 12.2-0.2 12.3-0.4 12.3,0.6 12.3,0.4 12.3,0.2 12.3-0.1 12.2,5.6 12.3,7.4 12.3,3.1 12.3-5.6 12.3-5.3 12.3-4.7 12.3-3.6 12.3-4.3 12.3,3.4 12.3,3.1 12.2,2.8 12.3,2.3 12.3,2 12.3,1.3M120.0,1099.3l12.2-6.6 12.3-7 12.2-7 12.2,3.2 12.3,7 12.2,6.9 12.2,0.4 12.3-6 12.2-6 12.3-6.1 12.2,2.4 12.2,3.4 12.3,3.2 12.2,0.5 12.3,3 12.3,0.6 12.3,0.4 12.3,0.2 12.3-0.1 12.2-0.2 12.3-0.6 12.3-1 12.3-1.2 12.3-1.8 12.3-2.6 12.3-4 12.3,2.7 12.3-4.8 12.3-1.6 12.2,6 12.3,5.8 12.3,5.7 12.3,5.2M120.0,1053.9l12.2,7 12.3,7 12.2,7 12.2-3.3 12.3-7 12.2-2.9 12.2,4.1 12.3,3.9 12.2,3.8 12.3,3.6 12.2-2.4 12.2,4.9 12.3,4.7 12.2,3.3 12.3-5.6 12.3-6.8 12.3,0.1 12.3,7.4 12.3,7.4 12.2,1.2 12.3-0.6 12.3-1 12.3-1.3 12.3-2 12.3-3 12.3-4.4 12.3-4.5 12.3-4 12.3,2.8 12.2-4.7 12.3-4.8 12.3-4.9 12.3-5M168.9,1053.0l12.3,4.4 12.2,0 12.2-3.8 12.3,5.4 12.2,5.3 12.3,5.3 12.2,2.3 12.2,2.5 12.3,7 12.2,6.1 12.3-5.5 12.3-6.9 12.3-6.9 12.3-7.1 12.3-7.1M426.5,1055.0l12.3,6.5 12.3,3 12.3,4.1 12.3-6.5 12.2-3.4 12.3-1.4 12.3-1.6M230.1,1052.6l12.3,7.3 12.2,7.3 12.2-1.6 12.3-6.3 12.2-6.3 12.3,7.4 12.3,7.4 12.3,0.4 12.3-7.1 12.3-7.1M426.5,1054.0l12.3,4.1 12.3,2.8 12.3-0.3 12.3-0.8 12.2-4.5M426.5,1052.8l12.3,4.9 12.3-6.1" fill="none" stroke="none" marker-start="url(#mdot)" marker-mid="url(#mdot)" marker-end="url(#mdot)"/>
</g>
<rect x="120" y="1055.8" width="404.8" height="466.7" fill="none" stroke="#222" stroke-width="1.5"/>
<line x1="108" y1="1468.7" x2="120" y2="1468.7" stroke="#222" stroke-width="1.5"/>
<text x="98.5" y="1477.9" font-size="27" text-anchor="end">−1.0</text>
<line x1="108" y1="1378.9" x2="120" y2="1378.9" stroke="#222" stroke-width="1.5"/>
<text x="98.5" y="1388.1" font-size="27" text-anchor="end">−0.5</text>
<line x1="108" y1="1289.2" x2="120" y2="1289.2" stroke="#222" stroke-width="1.5"/>
<text x="98.5" y="1298.4" font-size="27" text-anchor="end">0</text>
<line x1="108" y1="1199.4" x2="120" y2="1199.4" stroke="#222" stroke-width="1.5"/>
<text x="98.5" y="1208.6" font-size="27" text-anchor="end">0.5</text>
<line x1="108" y1="1109.7" x2="120" y2="1109.7" stroke="#222" stroke-width="1.5"/>
<text x="98.5" y="1118.9" font-size="27" text-anchor="end">1.0</text>
<line x1="120" y1="1522.5" x2="120" y2="1534.5" stroke="#222" stroke-width="1.5"/>
<line x1="291.3" y1="1522.5" x2="291.3" y2="1534.5" stroke="#222" stroke-width="1.5"/>
<line x1="438.8" y1="1522.5" x2="438.8" y2="1534.5" stroke="#222" stroke-width="1.5"/>
<line x1="524.8" y1="1522.5" x2="524.8" y2="1534.5" stroke="#222" stroke-width="1.5"/>
<text x="120" y="1564" font-size="27" text-anchor="middle">K</text>
<text x="291.3" y="1564" font-size="27" text-anchor="middle" style='font-family:"Liberation Serif", "Times New Roman", serif'>Γ</text>
<text x="438.8" y="1564" font-size="27" text-anchor="middle">M</text>
<text x="526.8" y="1564" font-size="27" text-anchor="middle">K'</text>
<text x="0" y="0" font-size="27" text-anchor="middle" transform="translate(22 1289.5) rotate(-90)">Energy (eV)</text>
<text x="322.6" y="1034.4" font-size="27" text-anchor="middle">TBG: <tspan font-family='"Liberation Serif", "Times New Roman", serif' font-style="italic" font-size="28">θ</tspan> <tspan font-size="31" dy="1">≈</tspan><tspan dy="-1"> 3.48°</tspan>, <tspan font-style="italic">N</tspan><tspan font-size="19" dy="7">atom</tspan><tspan dy="-7"> = 1,084</tspan></text>
<line x1="791.6" y1="1055.8" x2="791.6" y2="1522.4" stroke="#222" stroke-width="1.5"/>
<line x1="943" y1="1055.8" x2="943" y2="1522.4" stroke="#222" stroke-width="1.5"/>
<line x1="617.2" y1="1335.8" x2="1030.2" y2="1335.8" stroke="#000" stroke-width="1.4" stroke-dasharray="5.5,3.5"/>
<g clip-path="url(#clp2)">
<path d="M617.2,1447.1l58.1,27.3 58.2,37.6 58.1-9.5 75.7-12.3 75.7-2.1 87.2-41M617.2,1439.1l58.1,16.2 58.2,20.6 58.1,26.5 75.7-22.1 75.7-51 87.2,9.8M617.2,1439.1l58.1-37.8 58.2-30.5 58.1-21 75.7,28.5 75.7,37.9 87.2,22.9M617.2,1376.2l58.1,2.2 58.2-13 58.1-15.7 75.7,22.6 75.7,10.6 87.2-6.7M617.2,1335.8l58.1,0.5 58.2-0.4 58.1,12.7 75.7-12.4 75.7,0.9 87.2-1.3M617.2,1335.8l58.1-0.5 58.2,0.3 58.1-12.9 75.7,10.2 75.7,1.5 87.2,1.4M617.2,1293.0l58.1-2.2 58.2,14.1 58.1,16.6 75.7-25.9 75.7-9.8 87.2,7.2M617.2,1224.4l58.1,41.2 58.2,33.3 58.1,22.6 75.7-28.2 75.7-44 87.2-24.9M617.2,1224.4l58.1-17.6 58.2-22.4 58.1-28.5 75.7,46.1 75.7,33 87.2-10.6M617.2,1215.7l58.1-29.7 58.2-40.5 58.1,10.2 75.7-13.6 75.7,29.2 87.2,44.4M617.2,1447.1l58.1,27.3 58.2,37.6 58.1-9.5 75.7,12.6 75.7-27 87.2-41M617.2,1439.1l58.1,16.2 58.2,20.6 58.1,26.4 75.7-42.6 75.7-30.4 87.2,9.8M617.2,1439.1l58.1-37.8 58.2-30.5 58.1-21 75.7,26.2 75.7,40.2 87.2,22.9M617.2,1376.2l58.1,2.1 58.2-12.9 58.1-15.6 75.7,24.1 75.7,9 87.2-6.7M617.2,1335.8l58.1,0.5 58.2-0.4 58.1,12.7 75.7-10 75.7-1.5 87.2-1.3M617.2,1335.8l58.1-0.5 58.2,0.3 58.1-12.9 75.7,12.6 75.7-0.9 87.2,1.4M617.2,1293.0l58.1-2.2 58.2,14.1 58.1,16.6 75.7-24.1 75.7-11.6 87.2,7.2M617.2,1224.4l58.1,41.2 58.2,33.3 58.1,22.6 75.7-30.6 75.7-41.6 87.2-24.9M617.2,1224.4l58.1-17.6 58.2-22.4 58.1-28.5 75.7,23.8 75.7,55.3 87.2-10.6M617.2,1215.7l58.1-29.6 58.2-40.6 58.1,10.2 75.7,13.3 75.7,2.3 87.2,44.4" fill="none" stroke="#ff0000" stroke-width="1.1" stroke-dasharray="4,2.5" marker-start="url(#rdot)" marker-mid="url(#rdot)" marker-end="url(#rdot)"/>
<path d="M617.2,1520.8l12.5,3.2M1017.7,1524.4l12.5-3.6M617.2,1520.7l12.5-2.9 12.4-2.2 12.5-1.3 12.4-0.3 12.5,0.5 12.4,1.2 12.5,1.6 12.5,1.4 12.4,0.5 12.5-0.5 12.4,7.9M816.8,1532.3l12.6-10.6 12.7-9.2 12.6-0.2 12.6-0.5 12.6-0.4 12.6-0.3 12.7,0 12.6,0.3 12.6,0.7 12.6,1.1 12.5-1.6 12.4-1.6 12.5,0.2 12.4,1.7 12.5,2.5 12.4,3.1 12.5,3.2M617.2,1447.1l12.5,3.2 12.4,5.7 12.5,6.5 12.4,7 12.5,7.4 12.4,7.7 12.5,8 12.5,8.2 12.4,8.3 12.5,8 12.4-1.6 12.5-3.6 12.4-4.4 12.5-5 12.6,4.6 12.6,3.2 12.6,1.6 12.7-0.8 12.6-10.5 12.6-10.4 12.6-10.4 12.6-0.4 12.7,1 12.6,1.8 12.6,2.6 12.6,3.3 12.5-1.4 12.4-4.3 12.5-6.5 12.4-7.7 12.5-8.2 12.4-8.1 12.5-4.8M617.2,1439.1l12.5,3.9 12.4,3.5 12.5,3.3 12.4,3.3 12.5,3.4 12.4,3.7 12.5,4.2 12.5,4.7 12.4,5 12.5,5.5 12.4,5.7 12.5,5.8 12.4,5.8 12.5,5.5 12.6-5.2 12.6-4.7 12.6-4.2 12.7-3.4 12.6-2.7 12.6-1.9 12.6-0.9 12.6-9.9 12.7-10.2 12.6-10.1 12.6-10.1 12.6-9.8 12.5,0.3 12.4,0.9 12.5,1.5 12.4,2 12.5,2.4 12.4,2.6 12.5,0.1M617.2,1439.1l12.5-6.9 12.4-8.4 12.5-8.5 12.4-8.5 12.5-8.2 12.4-8.1 12.5-7.6 12.5-6.6 12.4-4.2 12.5-3.8 12.4-4.3 12.5-4.7 12.4-4.9 12.5-4.6 12.6,3 12.6,4.1 12.6,4.7 12.7,5.3 12.6,5.5 12.6,5.9 12.6,5.9 12.6,6.2 12.7,6.2 12.6,6.4 12.6,6.5 12.6,6.7 12.5,0.7 12.4,2 12.5,3 12.4,3.7 12.5,4.4 12.4,4.6 12.5,4.5M617.2,1376.2l12.5,0.3 12.4,0.6 12.5,0.6 12.4,0.5 12.5,0.1 12.4-0.6 12.5-1.5 12.5-3 12.4-5.7 12.5-6.2 12.4-5.2 12.5-3.8 12.4-2.2 12.5-0.4 12.6,2.9 12.6,3.9 12.6,4.2 12.7,4.1 12.6,3.9 12.6,3.6 12.6,3.1 12.6,2.6 12.7,2 12.6,1.4 12.6,1 12.6,0.5 12.5-0.4 12.4-1.1 12.5-1.4 12.4-1.5 12.5-1.2 12.4-0.8 12.5-0.3M617.2,1335.8l12.5,0 12.4,0 12.5,0.1 12.4,0.2 12.5,0.2 12.4,0.2 12.5,0.1 12.5-0.1 12.4-0.4 12.5,0.1 12.4,1.6 12.5,2.8 12.4,3.9 12.5,4.1 12.6-4.9 12.6-4.7 12.6-2.5 12.7-0.6 12.6,0.1 12.6,0.2 12.6,0.3 12.6,0.3 12.7,0.1 12.6,0.1 12.6,0.1 12.6,0 12.5,0 12.4-0.2 12.5-0.2 12.4-0.3 12.5-0.3 12.4-0.2 12.5-0.1M617.2,1335.8l12.5-0.1 12.4,0 12.5-0.1 12.4-0.2 12.5-0.2 12.4-0.2 12.5,0 12.5,0 12.4,0.4 12.5-0.1 12.4-1.6 12.5-2.8 12.4-4 12.5-4.2 12.6,2.6 12.6,2.5 12.6,1.8 12.7,1.4 12.6,1.1 12.6,0.8 12.6,0.6 12.6,0.4 12.7,0.2 12.6,0.2 12.6,0.1 12.6,0 12.5,0.1 12.4,0.1 12.5,0.3 12.4,0.2 12.5,0.3 12.4,0.2 12.5,0.2M617.2,1293.0l12.5-0.2 12.4-0.6 12.5-0.8 12.4-0.5 12.5-0.1 12.4,0.7 12.5,1.6 12.5,3.3 12.4,6.2 12.5,6.6 12.4,5.6 12.5,4 12.4,2.3 12.5,0.4 12.6,1.7 12.6-0.4 12.6-3.8 12.7-6.5 12.6-8.1 12.6-8.8 12.6-5 12.6-2 12.7-1.5 12.6-0.9 12.6-0.4 12.6,0 12.5,0.4 12.4,1.2 12.5,1.5 12.4,1.7 12.5,1.3 12.4,0.9 12.5,0.2M617.2,1224.4l12.5,7.5 12.4,9.1 12.5,9.3 12.4,9.2 12.5,9.1 12.4,8.8 12.5,8.4 12.5,7.2 12.4,4.6 12.5,4.1 12.4,4.6 12.5,5 12.4,5.3 12.5,4.9 12.6-5.6 12.6-5.6 12.6-5.2 12.7-4.6 12.6-3.9 12.6-3.3 12.6-7.1 12.6-9.8 12.7-10 12.6-10.3 12.6-10.4 12.6,3.6 12.5-0.8 12.4-2.1 12.5-3.3 12.4-4.1 12.5-4.7 12.4-5.1 12.5-4.8M617.2,1224.4l12.5-4.3 12.4-3.8 12.5-3.5 12.4-3.6 12.5-3.7 12.4-4.1 12.5-4.5 12.5-5 12.4-5.5 12.5-5.9 12.4-6.2 12.5-6.3 12.4-6.2 12.5-5.9 12.6,6.4 12.6,7.2 12.6,7.8 12.7,8.2 12.6,8.2 12.6,8.3 12.6,8.2 12.6,8.1 12.7,8 12.6,7.8 12.6,7.6 12.6-6.7 12.5-0.3 12.4-1 12.5-1.6 12.4-2.2 12.5-2.6 12.4-2.9 12.5,0M617.2,1215.7l12.5-3.5 12.4-6.2 12.5-7.1 12.4-7.6 12.5-8 12.4-8.3 12.5-8.6 12.5-8.8 12.4-9.1 12.5-8.6 12.4,1.7 12.5,3.9 12.4,4.8 12.5,5.4 12.6-5.9 12.6-6 12.6-5.6 12.7-2.9 12.6,2.2 12.6,4.6 12.6,5.2 12.6,5.3 12.7,5.1 12.6,4.9 12.6,4.6 12.6,4.1 12.5,1.5 12.4,4.7 12.5,7 12.4,8.3 12.5,8.9 12.4,8.8 12.5,5.2M617.2,1136.0l12.5,3.2 12.4,2.4 12.5,1.4 12.4,0.3 12.5-0.5 12.4-1.3 12.5-1.8 12.5-1.5 12.4-0.6 12.5,0.5 12.4-8.4 12.5-9.6 12.4-7.4 12.5-0.9 12.6,1.1 12.6,3.2 12.6,4.1 12.7,2 12.6,3 12.6,3.9 12.6,3.5 12.6,3.1 12.7,2.7 12.6,2.3 12.6,2 12.6,1.5 12.5,1.7 12.4,1.7 12.5-0.2 12.4-1.8 12.5-2.7 12.4-3.4 12.5-3.5M617.2,1136.0l12.5-3.6 12.4-3.3 12.5-2.9 12.4-2.2 12.5-1.5 12.4-0.6 12.5,0.1 12.5,0.2 12.4-0.4 12.5-1.6 12.4-2.6 12.5-2.8 12.4-4.6 12.5-9.2 12.6,5 12.6,5.3 12.6,5 12.7,4.6 12.6,1.4 12.6,2 12.6,2 12.6,1.6 12.7,1.3 12.6,0.8 12.6,0.3 12.6,0 12.5-3.3 12.4-5.5 12.5-1.2 12.4,3.1 12.5,4.3 12.4,4.4 12.5,3.9M617.2,1066.4l12.5,4.9 12.4,5.5 12.5,5.1 12.4,4.6 12.5,3.8 12.4,3 12.5,2.3 12.5,1.5 12.4,1 12.5,0.7 12.4,0.4 12.5,0.5 12.4,0.8 12.5-0.1 12.6,5.4 12.6,4.7 12.6,3.8 12.7,3 12.6-0.8 12.6-5.8 12.6-7.1 12.6-3.6 12.7,1.4 12.6,1.6 12.6,1.5 12.6,1.4 12.5,0.8 12.4,0.8 12.5-3.8 12.4-8.2 12.5-9.7 12.4-10.2 12.5-9.2M617.2,1064.5l12.5,4.7 12.4,4.2 12.5,3.9 12.4,3.7 12.5,3.5 12.4,3.1 12.5,2.9 12.5,2.5 12.4,2.2 12.5,1.8 12.4,1.4 12.5,1 12.4,0.6 12.5,0.2 12.6,0.1 12.6-0.8 12.6-0.8 12.7-0.7 12.6-0.2 12.6,0.3 12.6,0.8 12.6-2.8 12.7-7.7 12.6-8 12.6-8.2 12.6-8.3 12.5-1.1 12.4-2.8 12.5-3.1 12.4-1.2 12.5,1.9 12.4,3.6 12.5,3.3M617.2,1064.3l12.5-9.7M667.0,1051.7l12.5,6 12.4,6.2 12.5,6.3 12.5,6 12.4,5.6 12.5,4.9 12.4,3.8 12.5,2.2 12.4-0.1 12.5,7.4 12.6-7.7 12.6-0.6 12.6-2.3 12.7-3.5 12.6-4.2 12.6-5 12.6-5.6 12.6-6.2 12.7-6.9 12.6-7.4M1005.3,1051.7l12.4,6.6 12.5,6M716.9,1052.7l12.4,7.9 12.5,7.4 12.4,6.8 12.5,6.1 12.4,9.3 12.5,0.2 12.6-1.8 12.6-6.8 12.6-5 12.7-5.8 12.6-6.2 12.6-6.8 12.6-7.3M729.3,1049.1l12.5,10.4 12.4,10.3 12.5,10.2 12.4,6 12.5,4 12.6-3.7 12.6-9.4 12.6-11.6 12.7-11.7M617.2,1520.8l12.5,3.3M1017.7,1524.4l12.5-3.6M617.2,1520.7l12.5-2.9 12.4-2.2 12.5-1.3 12.4-0.4 12.5,0.6 12.4,1.2 12.5,1.6 12.5,1.4 12.4,0.5 12.5-0.4 12.4,7.8M879.9,1523.9l12.6-2.9 12.7-2.5 12.6-2.2 12.6-1.7 12.6-1.4 12.5-1.6 12.4-1.6 12.5,0.2 12.4,1.7 12.5,2.5 12.4,3.1 12.5,3.2M617.2,1447.1l12.5,3.2 12.4,5.7 12.5,6.5 12.4,7.1 12.5,7.3 12.4,7.7 12.5,8 12.5,8.2 12.4,8.4 12.5,7.9 12.4-1.6 12.5-3.6 12.4-4.4 12.5-5 12.6,5.5 12.6,5.6 12.6,5.1 12.7,2.7 12.6-2.1 12.6-4.2 12.6-4.8 12.6-4.9 12.7-4.7 12.6-4.6 12.6-4.2 12.6-3.8 12.5-1.4 12.4-4.3 12.5-6.5 12.4-7.7 12.5-8.2 12.4-8.1 12.5-4.8M617.2,1439.1l12.5,3.9 12.4,3.5 12.5,3.3 12.4,3.2 12.5,3.5 12.4,3.7 12.5,4.2 12.5,4.6 12.4,5.1 12.5,5.5 12.4,5.7 12.5,5.8 12.4,5.8 12.5,5.4 12.6-5.9 12.6-6.7 12.6-7.2 12.7-7.5 12.6-7.6 12.6-7.7 12.6-7.5 12.6-7.5 12.7-7.4 12.6-7.2 12.6-6.9 12.6,6.1 12.5,0.3 12.4,0.9 12.5,1.5 12.4,2 12.5,2.4 12.4,2.6 12.5,0.1M617.2,1439.1l12.5-6.9 12.4-8.4 12.5-8.5 12.4-8.5 12.5-8.2 12.4-8.1 12.5-7.6 12.5-6.6 12.4-4.2 12.5-3.8 12.4-4.3 12.5-4.7 12.4-4.9 12.5-4.6 12.6,5.2 12.6,5.3 12.6,4.9 12.7,4.2 12.6,3.6 12.6,3 12.6,6.5 12.6,8.9 12.7,9.2 12.6,9.3 12.6,9.6 12.6-3.3 12.5,0.7 12.4,2 12.5,3 12.4,3.7 12.5,4.4 12.4,4.6 12.5,4.5M617.2,1376.2l12.5,0.3 12.4,0.6 12.5,0.6 12.4,0.5 12.5,0.1 12.4-0.6 12.5-1.5 12.5-3 12.4-5.7 12.5-6.2 12.4-5.2 12.5-3.8 12.4-2.2 12.5-0.3 12.6-1.8 12.6,0.5 12.6,3.6 12.7,6.2 12.6,7.5 12.6,8.1 12.6,4.6 12.6,1.8 12.7,1.4 12.6,0.8 12.6,0.4 12.6,0 12.5-0.4 12.4-1.1 12.5-1.4 12.4-1.5 12.5-1.2 12.4-0.8 12.5-0.3M617.2,1335.8l12.5,0 12.4,0 12.5,0.1 12.4,0.2 12.5,0.2 12.4,0.2 12.5,0.1 12.5-0.1 12.4-0.4 12.5,0.1 12.4,1.6 12.5,2.8 12.4,3.9 12.5,4.1 12.6-2.6 12.6-2.3 12.6-1.9 12.7-1.3 12.6-1.1 12.6-0.8 12.6-0.6 12.6-0.4 12.7-0.2 12.6-0.2 12.6-0.1 12.6,0 12.5,0 12.4-0.2 12.5-0.2 12.4-0.3 12.5-0.3 12.4-0.2 12.5-0.1M617.2,1335.8l12.5-0.1 12.4,0 12.5-0.1 12.4-0.2 12.5-0.2 12.4-0.2 12.5,0 12.5,0 12.4,0.4 12.5-0.1 12.4-1.6 12.5-2.8 12.4-4 12.5-4.2 12.6,5.1 12.6,4.7 12.6,2.5 12.7,0.7 12.6-0.1 12.6-0.3 12.6-0.3 12.6-0.2 12.7-0.2 12.6-0.1 12.6-0.1 12.6,0 12.5,0.1 12.4,0.1 12.5,0.3 12.4,0.2 12.5,0.3 12.4,0.2 12.5,0.2M617.2,1293.0l12.5-0.2 12.4-0.6 12.5-0.8 12.4-0.5 12.5-0.1 12.4,0.7 12.5,1.6 12.5,3.3 12.4,6.2 12.5,6.6 12.4,5.6 12.5,4 12.4,2.3 12.5,0.4 12.6-3 12.6-4.2 12.6-4.4 12.7-4.4 12.6-4.3 12.6-3.8 12.6-3.4 12.6-2.8 12.7-2.2 12.6-1.6 12.6-1.1 12.6-0.5 12.5,0.4 12.4,1.2 12.5,1.5 12.4,1.7 12.5,1.3 12.4,0.9 12.5,0.2M617.2,1224.4l12.5,7.5 12.4,9.1 12.5,9.3 12.4,9.2 12.5,9.1 12.4,8.8 12.5,8.4 12.5,7.2 12.4,4.6 12.5,4.1 12.4,4.6 12.5,5 12.4,5.3 12.5,4.9 12.6-3.3 12.6-4.2 12.6-5.1 12.7-5.7 12.6-6 12.6-6.3 12.6-6.6 12.6-6.7 12.7-6.9 12.6-7 12.6-7.1 12.6-7.3 12.5-0.8 12.4-2.1 12.5-3.3 12.4-4.1 12.5-4.7 12.4-5.1 12.5-4.8M617.2,1224.4l12.5-4.3 12.4-3.8 12.5-3.5 12.4-3.6 12.5-3.7 12.4-4.1 12.5-4.5 12.5-5 12.4-5.5 12.5-5.9 12.4-6.2 12.5-6.3 12.4-6.2 12.5-5.9 12.6,5.6 12.6,5 12.6,4.5 12.7,3.8 12.6,2.9 12.6,2 12.6,1 12.6,10.7 12.7,11.1 12.6,10.9 12.6,10.9 12.6,10.7 12.5-0.3 12.4-1 12.5-1.6 12.4-2.2 12.5-2.6 12.4-2.9 12.5,0M617.2,1215.7l12.5-3.5 12.4-6.2 12.5-7 12.4-7.6 12.5-8 12.4-8.4 12.5-8.6 12.5-8.8 12.4-9.1 12.5-8.6 12.4,1.8 12.5,3.8 12.4,4.8 12.5,5.4 12.6-5 12.6-3.4 12.6-1.8 12.7,1 12.6,11.2 12.6,11.3 12.6,11.3 12.6,0.3 12.7-1 12.6-2 12.6-2.8 12.6-3.5 12.5,1.5 12.4,4.7 12.5,7 12.4,8.3 12.5,8.9 12.4,8.8 12.5,5.2M617.2,1136.0l12.5,3.2 12.4,2.4 12.5,1.3 12.4,0.4 12.5-0.6 12.4-1.3 12.5-1.7 12.5-1.5 12.4-0.6 12.5,0.6 12.4-8.5 12.5-9.6 12.4-7.3 12.5-1 12.6,0.8 12.6,10.9 12.6,11.4 12.7,10 12.6,0.2 12.6,0.5 12.6,0.5 12.6,0.3 12.7,0 12.6-0.4 12.6-0.7 12.6-1.1 12.5,1.7 12.4,1.7 12.5-0.2 12.4-1.8 12.5-2.7 12.4-3.4 12.5-3.5M617.2,1136.0l12.5-3.6 12.4-3.3 12.5-2.9 12.4-2.2 12.5-1.4 12.4-0.6 12.5,0.1 12.5,0.2 12.4-0.4 12.5-1.6 12.4-2.6 12.5-2.9 12.4-4.6 12.5-9.2 12.6,11 12.6,2.4 12.6,2.1 12.7,2.3 12.6,2.2 12.6,2.1 12.6,1.9 12.6,1.6 12.7,1.4 12.6,1.1 12.6,0.8 12.6,0.4 12.5-3.3 12.4-5.5 12.5-1.2 12.4,3.1 12.5,4.3 12.4,4.4 12.5,3.9M617.2,1066.4l12.5,5.1 12.4,5.5 12.5,5.1 12.4,4.6 12.5,3.8 12.4,3 12.5,2.2 12.5,1.6 12.4,0.9 12.5,0.6 12.4,0.4 12.5,0.5 12.4,0.7 12.5-0.1 12.6,0 12.6,0 12.6,1.5 12.7,1.9 12.6,1.7 12.6,1.3 12.6,1 12.6,0.5 12.7,0.1 12.6-0.4 12.6-0.8 12.6-1.2 12.5,0.8 12.4,0.8 12.5-3.8 12.4-8.2 12.5-9.7 12.4-10.2 12.5-9.2M617.2,1064.5l12.5,4.5 12.4,4.2 12.5,3.9 12.4,3.7 12.5,3.5 12.4,3.2 12.5,2.8 12.5,2.6 12.4,2.1 12.5,1.8 12.4,1.5 12.5,1 12.4,0.6 12.5,0.3 12.6-5.7 12.6-1.5 12.6-3.7 12.7-6.1 12.6-7.5 12.6-8.4 12.6-9 12.6-9.4M930.4,1055.5l12.6,8.4 12.5-1.1 12.4-2.8 12.5-3.1 12.4-1.2 12.5,1.9 12.4,3.6 12.5,3.3M617.2,1064.3l12.5-9.6M667.0,1051.5l12.5,6 12.4,6.2 12.5,6.3 12.5,6 12.4,5.6 12.5,4.9 12.4,3.9 12.5,2.2 12.4,0 12.5,7.4 12.6-5.7 12.6-6.3 12.6-6.5 12.7-6.7 12.6-6.9 12.6-7.2 12.6-7.3M1005.3,1051.7l12.4,6.6 12.5,6M716.9,1052.6l12.4,8 12.5,7.4 12.4,6.8 12.5,6 12.4,9.4 12.5,0.1 12.6,2.5 12.6-4.8 12.6-6.5 12.7-6.7 12.6-7 12.6-7.3 12.6-7.4M729.3,1049.2l12.5,10.4 12.4,10.3 12.5,10.2 12.4,5.9 12.5,4 12.6-4.4 12.6-5.9 12.6-6.8 12.7-7.5 12.6-7.8 12.6-8" fill="none" stroke="none" marker-start="url(#mdot2)" marker-mid="url(#mdot2)" marker-end="url(#mdot2)"/>
</g>
<rect x="617.2" y="1055.8" width="413" height="466.6" fill="none" stroke="#222" stroke-width="1.5"/>
<line x1="605.2" y1="1522.4" x2="617.2" y2="1522.4" stroke="#222" stroke-width="1.5"/>
<text x="595.7" y="1531.6" font-size="27" text-anchor="end">−0.2</text>
<line x1="605.2" y1="1429.1" x2="617.2" y2="1429.1" stroke="#222" stroke-width="1.5"/>
<text x="595.7" y="1438.3" font-size="27" text-anchor="end">−0.1</text>
<line x1="605.2" y1="1335.8" x2="617.2" y2="1335.8" stroke="#222" stroke-width="1.5"/>
<text x="595.7" y="1345" font-size="27" text-anchor="end">0</text>
<line x1="605.2" y1="1242.4" x2="617.2" y2="1242.4" stroke="#222" stroke-width="1.5"/>
<text x="595.7" y="1251.6" font-size="27" text-anchor="end">0.1</text>
<line x1="605.2" y1="1149.1" x2="617.2" y2="1149.1" stroke="#222" stroke-width="1.5"/>
<text x="595.7" y="1158.3" font-size="27" text-anchor="end">0.2</text>
<line x1="605.2" y1="1055.8" x2="617.2" y2="1055.8" stroke="#222" stroke-width="1.5"/>
<text x="595.7" y="1065" font-size="27" text-anchor="end">0.3</text>
<line x1="617.2" y1="1522.4" x2="617.2" y2="1534.4" stroke="#222" stroke-width="1.5"/>
<line x1="791.6" y1="1522.4" x2="791.6" y2="1534.4" stroke="#222" stroke-width="1.5"/>
<line x1="943" y1="1522.4" x2="943" y2="1534.4" stroke="#222" stroke-width="1.5"/>
<line x1="1030.2" y1="1522.4" x2="1030.2" y2="1534.4" stroke="#222" stroke-width="1.5"/>
<text x="617.2" y="1564" font-size="27" text-anchor="middle">K</text>
<text x="791.6" y="1564" font-size="27" text-anchor="middle" style='font-family:"Liberation Serif", "Times New Roman", serif'>Γ</text>
<text x="943" y="1564" font-size="27" text-anchor="middle">M</text>
<text x="1032.2" y="1564" font-size="27" text-anchor="middle">K'</text>
<text x="824.5" y="1034.4" font-size="27" text-anchor="middle">TBG: <tspan font-family='"Liberation Serif", "Times New Roman", serif' font-style="italic" font-size="28">θ</tspan> <tspan font-size="31" dy="1">≈</tspan><tspan dy="-1"> 1.08°</tspan>, <tspan font-style="italic">N</tspan><tspan font-size="19" dy="7">atom</tspan><tspan dy="-7"> = 11,164</tspan></text>
<line x1="1378.9" y1="1056.6" x2="1378.9" y2="1522.2" stroke="#222" stroke-width="1.5"/>
<line x1="1527.2" y1="1056.6" x2="1527.2" y2="1522.2" stroke="#222" stroke-width="1.5"/>
<line x1="1208.1" y1="1272.2" x2="1612.5" y2="1272.2" stroke="#000" stroke-width="1.4" stroke-dasharray="5.5,3.5"/>
<g clip-path="url(#clp3)">
<path d="M1249.5,1056.5c2.6 5.1 5.8 11.4 7.9 15.2c2.1 3.9 2.6 4.5 5 7.9c2.3 3.5 5.9 8.3 8.9 12.9c3 4.6 5.9 10.1 8.9 14.9c3 4.8 5.9 8.6 8.9 13.9c3 5.3 5.9 12.4 8.9 17.8c3 5.4 5.9 9.7 8.9 14.9c3 5.1 5.9 10.6 8.9 15.8c3 5.3 6.3 11.1 9.3 15.8c3 4.8 5.9 9.2 8.9 12.9c3 3.6 5.9 6.1 8.9 8.9c3 2.8 6.1 5.7 9.1 7.9c3 2.2 5.9 3.9 8.9 5.3c3 1.5 5.9 2.8 8.9 3.6c3 0.8 5.9 0.7 8.9 1M1259.4,1056.5c2.6 5.1 5.9 11.1 7.9 15.2c2 4.2 1.8 5.3 4 9.9c2.1 4.6 5.9 12.2 8.9 17.8c3 5.6 5.9 9.7 8.9 15.8c3 6.1 5.9 13.7 8.9 20.8c3 7.1 5.9 15.5 8.9 21.8c3 6.3 5.9 10.7 8.9 15.8c3 5.1 6.3 10.1 9.3 14.9c3 4.8 5.9 10.2 8.9 13.9c3 3.7 5.9 5.7 8.9 8.3c3 2.6 6.1 5 9.1 7.1c3 2.1 5.9 3.8 8.9 5.3c3 1.6 5.9 3 8.9 4c3 1 5.9 1.3 8.9 2M1253.5,1079.7c3 3.3 5.9 6.9 8.9 9.9c3 3 5.9 4 8.9 7.9c3 4 5.9 10.7 8.9 15.8c3 5.1 5.9 9.6 8.9 14.9c3 5.3 5.9 11.4 8.9 16.8c3 5.4 5.9 10.6 8.9 15.8c3 5.3 5.9 10.9 8.9 15.8c3 5 6.3 8.9 9.3 13.9c3 5 5.9 12 8.9 15.8c3 3.8 5.9 4.6 8.9 6.9c3 2.4 6.1 5.2 9.1 7.3c3 2.1 5.9 3.9 8.9 5.5c3 1.7 5.9 3.4 8.9 4.4c3 0.9 5.9 0.8 8.9 1.2M1298.0,1106.4c3 7.6 5.9 15.5 8.9 22.8c3 7.3 5.9 14.2 8.9 20.8c3 6.6 6.3 12.7 9.3 18.8c3 6.1 5.9 12.5 8.9 17.8c3 5.3 5.9 9.7 8.9 13.9c3 4.1 6.1 7.9 9.1 10.9c3 3 5.9 5.2 8.9 6.9c3 1.7 5.9 2.9 8.9 3.6c3 0.7 5.9 0.3 8.9 0.4M1378.8,1222.3c3-0.5 6.3-0.9 8.9-1.6c2.6-0.7 4.5-1.6 6.9-2.8c2.4-1.2 5.1-2.8 7.7-4.6c2.6-1.7 5.3-3.6 7.9-5.9c2.6-2.3 5-5.1 7.5-7.9c2.6-2.8 5.3-5.6 7.9-8.9c2.6-3.3 5.3-7.3 7.9-10.9c2.6-3.6 5-6.8 7.5-10.9c2.6-4.1 5.3-9.1 7.9-13.9c2.6-4.8 5.3-9.7 7.9-14.9c2.6-5.1 5.3-10.4 7.9-15.8c2.6-5.4 5.3-11.2 7.9-16.8c2.6-5.6 5-11.2 7.5-16.8c2.6-5.6 5.3-11.4 7.9-16.8c2.6-5.4 5.9-11.9 7.7-15.8c1.8-4 2-5.3 3-7.9M1378.8,1225.2c3-0.5 6.3-0.7 8.9-1.4c2.6-0.7 4.5-1.4 6.9-2.6c2.4-1.2 5.1-2.8 7.7-4.6c2.6-1.7 5.3-3.7 7.9-5.9c2.6-2.2 5-4.6 7.5-7.3c2.6-2.7 5.3-5.8 7.9-8.9c2.6-3.1 5.3-6.1 7.9-9.9c2.6-3.8 5-8.4 7.5-12.9c2.6-4.5 5.3-9.1 7.9-13.9c2.6-4.8 5.3-9.7 7.9-14.9c2.6-5.1 5.3-10.2 7.9-15.8c2.6-5.6 5.3-12.2 7.9-17.8c2.6-5.6 5-10.4 7.5-15.8c2.6-5.4 5.3-11.4 7.9-16.8c2.6-5.4 5.8-11.7 7.7-15.8c1.9-4.1 2.6-5.9 4-8.9M1378.8,1229.2c3-0.3 6.3-0.6 8.9-1c2.6-0.4 4.5-0.8 6.9-1.4c2.4-0.6 5.1-1.2 7.7-2c2.6-0.8 5.3-1.9 7.9-3c2.6-1 5-2.1 7.5-3.2c2.6-1.1 5.3-2.2 7.9-3.4c2.6-1.1 5.3-2.2 7.9-3.4c2.6-1.2 5-2.1 7.5-3.6c2.6-1.4 5.3-3 7.9-5c2.6-2 5.3-4.6 7.9-6.9c2.6-2.3 5.3-4.3 7.9-6.9c2.6-2.6 5.3-5.9 7.9-8.9c2.6-3 5-5.8 7.5-8.9c2.6-3.1 5.3-6.6 7.9-9.9c2.6-3.3 5.1-6.4 7.7-9.9c2.6-3.5 5.3-7.1 7.9-10.9c2.6-3.8 5.3-7.9 7.9-11.9c2.6-4 5.4-8.4 7.9-11.9c2.5-3.5 4.9-5.9 7.3-8.9M1378.8,1231.8c3 0.1 6.3 0.3 8.9 0.4c2.6 0.1 4.5 0.2 6.9 0.4c2.4 0.2 5.1 0.5 7.7 0.8c2.6 0.3 5.3 0.5 7.9 0.8c2.6 0.3 5 0.7 7.5 1c2.6 0.3 5.3 0.6 7.9 1c2.6 0.4 5.3 1 7.9 1.6c2.6 0.6 5 1.2 7.5 2c2.6 0.8 5.3 1.7 7.9 2.8c2.6 1.1 5.3 2.6 7.9 4c2.6 1.3 5.3 2.5 7.9 4c2.6 1.4 5.3 3 7.9 4.6c2.6 1.5 5 3.1 7.5 4.6c2.6 1.5 5.3 2.8 7.9 4.4c2.6 1.6 5.1 3.1 7.7 5c2.6 1.8 5.3 4 7.9 5.9c2.6 2 5.3 4 7.9 5.9c2.6 2 5.4 3.8 7.9 5.9c2.5 2.1 4.9 4.5 7.3 6.7M1208.1,1241.7c2.9 0.1 5.8 0 8.7 0.4c2.9 0.4 5.8 1.4 8.9 2c3.1 0.6 6.5 1.2 9.5 1.6c3 0.4 5.7 0.7 8.7 0.8c3 0.1 6.1 0.1 9.1 0c3-0.1 5.9-0.2 8.9-0.4c3-0.2 5.9-0.5 8.9-1c3-0.5 5.9-1.2 8.9-2c3-0.8 6.3-1.7 9.3-2.6c3-0.9 5.9-2 8.9-2.8c3-0.8 5.9-1.4 8.9-2c3-0.6 5.9-1.2 8.9-1.6c3-0.4 6.3-0.7 9.3-1c3-0.3 5.9-0.8 8.9-1c3-0.2 5.9-0.3 8.9-0.4c3-0.1 6.1 0 9.1 0c3 0 5.9 0 8.9 0c3 0 5.9 0 8.9 0c3 0 5.9 0 8.9 0M1208.1,1228.2c2.9-2.3 5.8-4.5 8.7-6.9c2.9-2.5 5.9-5 8.9-7.9c3-3 5.9-6.4 8.9-9.9c3-3.5 5.8-7.6 8.9-10.9c3.1-3.3 6.4-7.9 9.5-8.9c3.1-1 5.9 0.8 8.9 3c3 2.1 5.9 6.9 8.9 9.9c3 3 6.3 5.8 9.3 7.9c3 2.1 5.9 3.2 8.9 5c3 1.7 5.9 3.7 8.9 5.3c3 1.7 5.9 3 8.9 4.6c3 1.6 5.9 3.7 8.9 5c3 1.3 6.3 1.7 9.3 2.6c3 0.8 5.9 1.7 8.9 2.4c3 0.6 5.9 1.1 8.9 1.4c3 0.3 6.1 0.4 9.1 0.6M1208.1,1230.2c2.9 2.6 5.8 5 8.7 7.9c2.9 3 5.8 6.6 8.9 9.9c3.1 3.3 6.5 6.6 9.5 9.9c3 3.3 5.7 6.9 8.7 9.9c3 3 6.5 5.8 9.1 7.9c2.6 2.1 4.3 3.3 6.3 5c2 1.7 4 3.3 5.9 5M1253.1,1272.2c3-1.5 5.9-2.8 8.9-4.4c3-1.6 5.9-3.3 8.9-5c3-1.7 6.3-3.3 9.3-5c3-1.7 5.9-3.5 8.9-5c3-1.5 5.9-2.6 8.9-4c3-1.3 5.9-2.6 8.9-4c3-1.3 5.9-2.6 8.9-4c3-1.3 6.3-2.8 9.3-4c3-1.2 5.9-2.2 8.9-3c3-0.8 5.9-1.3 8.9-1.6c3-0.3 6.1-0.3 9.1-0.4M1208.1,1075.7c2.9 2 5.8 3.1 8.7 5.9c2.9 2.8 5.9 7.3 8.9 10.9c3 3.6 5.9 7.1 8.9 10.9c3 3.8 5.8 8.1 8.9 11.9c3.1 3.8 6.4 7.3 9.5 10.9c3.1 3.6 6.3 7.3 9.3 10.9c3 3.6 5.9 7.4 8.9 10.9c3 3.5 5.9 6.6 8.9 9.9c3 3.3 5.9 6.8 8.9 9.9c3 3.1 5.9 5.9 8.9 8.9c3 3 5.9 6.3 8.9 8.9c3 2.6 5.9 4.5 8.9 6.9c3 2.5 6.3 5.6 9.3 7.9c3 2.3 5.9 4.4 8.9 5.9c3 1.6 5.9 2.4 8.9 3.6M1208.1,1133.2c2.9 2 5.8 3 8.7 5.9c2.9 3 5.9 7.8 8.9 11.9c3 4.1 5.9 8.9 8.9 12.9c3 4 5.8 7.9 8.9 10.9c3.1 3 6.4 4.6 9.5 6.9c3.1 2.3 5.9 4.5 8.9 6.9c3 2.5 5.9 5.4 8.9 7.9c3 2.5 6.3 4.8 9.3 6.9c3 2.1 5.9 4.1 8.9 5.9c3 1.8 5.9 3.3 8.9 5c3 1.7 5.9 3.5 8.9 5c3 1.5 5.9 2.8 8.9 4c3 1.2 6.2 2 9.3 3M1253.1,1181.7c3-5.6 5.9-12.4 8.9-16.8c3-4.5 6.3-9.2 9.3-9.9c3-0.7 5.9 1 8.9 5.9c3 5 5.9 16 8.9 23.8c3 7.8 5.9 15.3 8.9 22.8c3 7.4 5.9 14.7 8.9 21.8c3 7.1 5.9 14.4 8.9 20.8c3 6.4 6.3 12.6 9.3 17.8c3 5.2 5.9 9.3 8.9 13.5c3 4.1 5.9 7.7 8.9 11.3c3 3.6 6.1 7.4 9.1 10.5c3 3.1 5.9 5.6 8.9 7.9c3 2.3 5.9 4.5 8.9 5.9c3 1.5 5.9 1.8 8.9 2.8M1253.1,1115.3c3.1 4 6.3 7.3 9.3 11.9c3 4.6 5.9 9.2 8.9 15.8c3 6.6 5.9 16 8.9 23.8c3 7.8 5.9 15.2 8.9 22.8c3 7.6 5.9 15.3 8.9 22.8c3 7.4 5.9 14.7 8.9 21.8c3 7.1 5.9 14.5 8.9 20.8c3 6.3 6.3 12 9.3 16.8c3 4.8 5.9 7.9 8.9 11.9c3 4 5.9 8.2 8.9 11.9c3 3.7 6.1 7.3 9.1 10.3c3 3 5.9 5.4 8.9 7.5c3 2.1 5.9 3.8 8.9 5c3 1.2 5.9 1.3 8.9 2M1262.4,1137.1c3 5.3 5.9 9.2 8.9 15.8c3 6.6 5.9 16.2 8.9 23.8c3 7.6 5.9 14.5 8.9 21.8c3 7.3 5.9 14.7 8.9 21.8c3 7.1 5.9 14.2 8.9 20.8c3 6.6 5.9 13.2 8.9 18.8c3 5.6 6.3 10.4 9.3 14.9c3 4.5 5.9 7.9 8.9 11.9c3 4 5.9 8.3 8.9 11.9c3 3.6 6.1 7.1 9.1 9.9c3 2.8 5.9 5.1 8.9 6.9c3 1.8 5.9 3 8.9 4c3 0.9 5.9 1.1 8.9 1.6M1378.8,1319.7c3-0.7 6.3-1.1 8.9-2c2.6-0.9 4.5-1.8 6.9-3.4c2.4-1.6 5.1-3.7 7.7-5.9c2.6-2.2 5.3-4.5 7.9-7.3c2.6-2.8 5-5.8 7.5-9.5c2.6-3.7 5.3-8.4 7.9-12.9c2.6-4.5 5.3-9.1 7.9-13.9c2.6-4.8 5-9.6 7.5-14.9c2.6-5.3 5.3-11.1 7.9-16.8c2.6-5.8 5.3-11.9 7.9-17.8c2.6-5.9 5.3-11.7 7.9-17.8c2.6-6.1 5.3-12.7 7.9-18.8c2.6-6.1 5-12 7.5-17.8c2.6-5.8 5.3-11.4 7.9-16.8c2.6-5.4 5.1-10.7 7.7-15.8c2.6-5.1 5.3-10.2 7.9-14.9c2.6-4.6 5.3-9.1 7.9-12.9c2.6-3.8 5.4-7.8 7.9-9.9c2.5-2.1 4.9-2 7.3-3M1378.8,1320.5c3-0.4 6.3-0.5 8.9-1.2c2.6-0.7 4.5-1.6 6.9-3c2.4-1.4 5.1-3.4 7.7-5.3c2.6-2 5.3-4 7.9-6.5c2.6-2.6 5-5.4 7.5-8.9c2.6-3.5 5.3-8 7.9-12.3c2.6-4.3 5.3-8.9 7.9-13.5c2.6-4.6 5-8.9 7.5-13.9c2.6-5 5.3-10.6 7.9-15.8c2.6-5.3 5.3-10.4 7.9-15.8c2.6-5.4 5.3-11.1 7.9-16.8c2.6-5.8 5.3-11.9 7.9-17.8c2.6-5.9 5-11.9 7.5-17.8c2.6-5.9 5.3-12 7.9-17.8c2.6-5.8 5.1-11.4 7.7-16.8c2.6-5.4 5.3-10.9 7.9-15.8c2.6-5 5.3-9.9 7.9-13.9c2.6-4 5.4-8.3 7.9-9.9c2.5-1.7 4.9 0 7.3 0M1378.8,1321.3c3-0.3 6.3-0.3 8.9-0.8c2.6-0.5 4.5-1 6.9-2.2c2.4-1.2 5.1-3.1 7.7-5c2.6-1.8 5.3-3.7 7.9-5.9c2.6-2.2 5-4.4 7.5-7.5c2.6-3.1 5.3-7.3 7.9-11.3c2.6-4 5.3-8.6 7.9-12.9c2.6-4.3 5-8.3 7.5-12.9c2.6-4.6 5.3-9.7 7.9-14.9c2.6-5.1 5.3-10.6 7.9-15.8c2.6-5.3 5.3-10.4 7.9-15.8c2.6-5.4 5.3-11.2 7.9-16.8c2.6-5.6 5-11.4 7.5-16.8c2.6-5.4 5.3-10.6 7.9-15.8c2.6-5.3 5.1-10.6 7.7-15.8c2.6-5.3 5.3-10.9 7.9-15.8c2.6-5 5.3-9.6 7.9-13.9c2.6-4.3 5.4-9.7 7.9-11.9c2.5-2.1 4.9-0.7 7.3-1M1480.4,1171.8c2.6-1 5.3-2 7.9-3c2.6-1 5.1-2 7.7-3c2.6-0.9 5.3-3.7 7.9-2.6c2.6 1.2 5.3 5.6 7.9 9.5c2.6 3.9 5.4 9.2 7.9 13.9c2.5 4.6 5 10.2 7.3 13.9c2.3 3.6 4.5 5.6 6.5 7.9c2.1 2.3 4 4.1 5.9 5.9c2 1.8 4 3.3 5.9 5c2 1.7 4 3.5 5.9 5c2 1.5 3.8 2.8 5.9 4c2.1 1.2 4.8 2 6.9 3c2.1 1 4 2.2 5.9 3c2 0.8 4 1.3 5.9 1.6c2 0.3 4 0.3 5.9 0.4c2 0.1 4 0.2 5.9 0c2-0.2 3.8-0.5 5.9-1c2.1-0.5 4.8-1.3 6.9-2c2.1-0.7 4-1.3 5.9-2c1.9-0.7 3.7-1.3 5.5-2M1480.4,1278.9c2.6-2.6 5.3-4.8 7.9-7.9c2.6-3.1 5.1-6.7 7.7-10.7c2.6-4 5.3-7.8 7.9-13.3c2.6-5.5 5.3-14.2 7.9-19.8c2.6-5.6 5.4-9.4 7.9-13.9c2.5-4.5 5-8.9 7.3-12.9c2.3-4 4.5-7.6 6.5-10.9c2.1-3.3 4-5.9 5.9-8.9c2-3 4-5.8 5.9-8.9c2-3.1 4-6.8 5.9-9.9c2-3.1 3.8-6 5.9-8.9c2.1-2.9 4.8-5.7 6.9-8.3c2.1-2.6 4-5 5.9-7.5M1545.5,1133.2c2 3.3 4 6.6 5.9 9.9c2 3.3 3.8 6.7 5.9 9.9c2.1 3.2 4.8 6.5 6.9 9.5c2.1 3 4 5.4 5.9 8.3c2 2.9 4 5.9 5.9 8.9c2 3 4 6.1 5.9 8.9c2 2.8 4 5.3 5.9 7.9c2 2.6 3.8 5.2 5.9 7.9c2.1 2.7 4.8 5.7 6.9 8.3c2.1 2.6 4 5 5.9 7.5c1.9 2.5 3.7 5 5.5 7.5M1527.1,1096.5c2.5-2.3 5.3-4.8 7.5-6.9c2.2-2.1 3.6-4.3 5.9-5.9c2.3-1.7 5-3.2 7.9-4c3-0.7 6.6-1.1 9.9-0.4c3.3 0.7 6.9 2.1 9.9 4.4c3 2.2 5.6 5.8 7.9 8.9c2.3 3.1 4 6.4 5.9 9.9c2 3.5 3.6 7.4 5.9 10.9c2.3 3.5 5.3 7.3 7.9 9.9c2.6 2.6 5.2 4.3 7.9 5.9c2.7 1.7 5.7 2.6 8.5 4M1527.1,1109.4c2.5 2 5 4.3 7.5 5.9c2.6 1.7 5.3 3.1 7.9 4c2.6 0.8 5.3 0.8 7.9 1c2.6 0.2 5.4 0.3 7.9 0c2.5-0.3 5-0.8 6.9-2c2-1.2 3.1-2.5 5-5c1.8-2.5 4-6.4 5.9-9.9c2-3.5 4-7.3 5.9-10.9c2-3.6 3.6-8.3 5.9-10.9c2.3-2.6 5.3-3.8 7.9-5c2.6-1.2 5.2-1.5 7.9-2c2.7-0.5 5.7-0.7 8.5-1M1540.6,1127.2c2.6 2 5.3 4.1 7.9 5.9c2.6 1.8 5.3 3.8 7.9 5c2.6 1.2 4.6 1.7 7.9 2c3.3 0.3 7.9 0.2 11.9 0c4-0.2 8.6-0.5 11.9-1c3.3-0.5 5.3-1.3 7.9-2c2.6-0.7 5.2-1.3 7.9-2c2.7-0.7 5.7-1.3 8.5-2M1548.5,1137.1c2.6 1.5 5.3 3.3 7.9 4.4c2.6 1.1 4.6 1.5 7.9 2c3.3 0.5 7.9 1 11.9 1.2c4 0.2 8.6 0.2 11.9 0c3.3-0.2 5.3-0.7 7.9-1.2c2.6-0.5 5.2-1.2 7.9-2c2.7-0.8 5.7-1.8 8.5-2.8M1568.3,1054.0c2 2 4 4.3 5.9 5.9c2 1.7 4 3 5.9 4c2 0.9 4 1.7 5.9 1.6c2-0.2 4-1.3 5.9-2.6c2-1.3 4.3-3.5 5.9-5c1.7-1.5 2.6-2.6 4-4M1527.1,1095.5c2.5-2.6 5.3-5.3 7.5-7.9c2.2-2.6 3.6-5 5.9-7.9c2.3-3 5.3-6.9 7.9-9.9c2.6-3 5.6-5.3 7.9-7.9c2.3-2.6 4-5.3 5.9-7.9M1596.0,1054.0c2.6 1.7 5.2 3.3 7.9 5c2.7 1.7 5.7 3.3 8.5 5M1453.5,1054.0c2.6 5.3 5.8 11.2 7.9 15.8c2.1 4.6 3 10.2 5 11.9c2 1.7 4.5-2.5 6.9-2c2.5 0.5 5.3 5 7.9 5c2.6 0 5.3-2.3 7.9-5c2.6-2.6 5.3-7.3 7.9-10.9c2.6-3.6 5.9-8.4 7.9-10.9c2-2.5 2.6-2.6 4-4M1463.4,1093.6c2.6-0.7 5-3.1 7.9-2c3 1.2 6.9 8.4 9.9 8.9c3 0.5 5.3-3.3 7.9-5.9c2.6-2.6 5.4-6.8 7.9-9.9c2.5-3.1 5-6.6 6.9-8.9c2-2.3 3.1-4.3 5-5c1.8-0.7 4.1-0.5 5.9 1c1.8 1.5 2.9 4.8 5 7.9c2 3.1 4.9 7.3 7.3 10.9M1473.3,1115.3c2.4 0.7 4.6 0.3 7.1 2c2.5 1.7 5.3 8.6 7.9 7.9c2.6-0.7 5.1-8.9 7.7-11.9c2.6-3 5.3-4.9 7.9-5.9c2.6-1.1 5.3-0.6 7.9-0.4c2.6 0.2 5.4 1 7.9 1.4c2.5 0.4 4.9 0.7 7.3 1M1481.2,1133.2c2.4 1.3 4.7 2.3 7.1 4c2.5 1.7 5.3 5.3 7.7 5.9c2.4 0.7 4.3 0.3 6.9-2c2.6-2.3 6.1-8.1 8.9-11.9c2.8-3.8 5.4-7.6 7.9-10.9c2.5-3.3 4.9-5.9 7.3-8.9M1489.1,1054.0c2.3 2.6 4.5 5.3 6.9 7.9c2.5 2.6 5.3 6.3 7.9 7.9c2.6 1.7 5.3 0.7 7.9 2c2.6 1.3 5.4 2.8 7.9 5.9c2.5 3.1 4.9 8.6 7.3 12.9M1208.1,1068.8c2.9-1.5 5.8-4.3 8.7-4.6c2.9-0.2 5.9-0.1 8.9 3.2c3 3.2 5.9 12.8 8.9 16.2c3 3.4 5.8 3.4 8.9 4.4c3.1 0.9 6.4 1.9 9.5 1.2c3.1-0.7 6.3-5.3 9.3-5.5c3-0.3 5.9 1 8.9 4c3 3 5.9 9.2 8.9 13.9M1208.1,1071.4c2.9-1.7 5.8-4.9 8.7-5.1c2.9-0.3 5.9 0.3 8.9 3.6c3 3.2 5.9 12.4 8.9 15.8c3 3.5 5.8 4 8.9 5c3.1 1 6.4 1.7 9.5 1c3.1-0.7 6.2-3.3 9.3-5M1208.1,1122.3c2.9-1.3 5.8-2.5 8.7-4c2.9-1.4 5.9-3.2 8.9-4.6c3-1.3 5.9-1.5 8.9-3.4c3-1.9 5.8-5.4 8.9-7.9c3.1-2.5 6.4-5 9.5-7.3c3.1-2.3 6.9-4.8 9.3-6.5c2.4-1.7 3.3-2.6 5-4M1208.1,1125.2c2.9-1.2 5.8-2.1 8.7-3.6c2.9-1.5 5.9-3.9 8.9-5.3c3-1.5 5.9-3.5 8.9-3.4c3 0.2 5.8 2.1 8.9 4.4c3.1 2.2 6.4 4.3 9.5 8.9c3.1 4.6 6.3 13 9.3 18.8c3 5.8 6.1 13.4 8.9 15.8c2.8 2.5 5 5 7.9-1c3-5.9 6.8-25.7 9.9-34.7c3.1-8.9 5.9-12.5 8.9-18.8M1208.1,1129.2c2.9 0 5.8 1.2 8.7 0c2.9-1.2 5.9-4.3 8.9-6.9c3-2.6 5.9-5.9 8.9-8.9M1257.4,1054.0c1.7 5 3.5 11.6 5 14.9c1.5 3.3 2.5 5.4 4 5c1.5-0.5 2.8-4.6 5-7.9c2.1-3.3 5.3-7.9 7.9-11.9M1279.2,1054.0c3.3 8.6 6.9 18.3 9.9 25.7c3 7.4 5 19.1 7.9 18.8c3-0.3 6.6-13.4 9.9-20.8c3.3-7.4 6.6-15.8 9.9-23.8M1208.1,1433.4c2.9 1 5.8 1.5 8.7 3c2.9 1.5 5.8 3.6 8.9 5.9c3.1 2.3 6.5 5.1 9.5 7.9c3 2.8 5.7 5.9 8.7 8.9c3 3 6.1 5.9 9.1 8.9c3 3 5.9 6.2 8.9 9.3c3 3.1 5.9 6.4 8.9 9.5c3 3.1 5.9 6.1 8.9 9.3c3 3.2 6.3 6.7 9.3 9.9c3 3.2 5.9 6.3 8.9 9.5c3 3.2 5.9 6.6 8.9 9.9M1208.1,1392.8c2.9-0.8 5.8-1.3 8.7-2.4c2.9-1.1 5.8-2.6 8.9-4c3.1-1.3 6.5-3 9.5-4c3-1 5.7-1.9 8.7-2c3-0.1 6.1 0 9.1 1.4c3 1.4 5.9 3.8 8.9 6.9c3 3.1 5.9 7.5 8.9 11.9c3 4.4 5.9 9.3 8.9 14.3c3 5 6.3 10.3 9.3 15.4c3 5.1 5.9 10.3 8.9 15.4c3 5.2 5.9 10.5 8.9 15.6c3 5.2 5.9 10.4 8.9 15.4c3 5 5.9 9.9 8.9 14.9c3 5 6.2 9.7 9.3 14.9c3.1 5.1 6.3 10.6 9.5 15.8M1208.1,1315.9c2.9 0.7 5.8 0.7 8.7 2c2.9 1.3 5.8 3.4 8.9 5.9c3.1 2.6 6.5 6 9.5 9.5c3 3.5 5.7 7.5 8.7 11.5c3 4 6.1 8.1 9.1 12.3c3 4.2 5.9 8.2 8.9 12.9c3 4.7 5.9 10.3 8.9 15.2c3 5 5.9 9.6 8.9 14.7c3 5 6.3 10.6 9.3 15.6c3 5.1 5.9 9.8 8.9 14.9c3 5 5.9 10.3 8.9 15.2c3 5 5.9 9.9 8.9 14.5c3 4.6 5.9 9 8.9 12.9c3 3.9 6.3 7.5 9.3 10.3c3 2.8 5.9 5.1 8.9 6.5c3 1.4 6.1 2 9.1 2c3-0.1 5.9-1.2 8.9-2.4c3-1.2 5.9-2.6 8.9-4.6c3-1.9 6.1-4.8 8.9-6.9c2.8-2.1 5.3-3.7 7.9-5.9c2.6-2.2 5.3-4.9 7.9-7.5c2.6-2.6 5.1-5.5 7.7-8.3c2.6-2.8 5.3-5.6 7.9-8.5c2.6-2.9 5-5.9 7.5-8.9c2.6-3 5.3-6.2 7.9-9.3c2.6-3.1 5.3-6.2 7.9-9.5c2.6-3.3 5-6.7 7.5-10.1c2.6-3.4 5.3-6.7 7.9-10.1c2.6-3.4 5.3-6.9 7.9-10.3c2.6-3.4 5.3-6.9 7.9-10.3c2.6-3.4 5.3-6.8 7.9-10.1c2.6-3.3 5-6.3 7.5-9.5c2.6-3.2 5.3-6.6 7.9-9.7c2.6-3.1 5.1-6.2 7.7-9.1c2.6-2.9 5.3-5.8 7.9-8.3c2.6-2.5 5.3-4.8 7.9-6.5c2.6-1.7 5.4-3.7 7.9-4c2.5-0.2 4.9 1.7 7.3 2.6M1208.1,1321.1c2.9 0.9 5.8 1 8.7 2.8c2.9 1.8 5.8 5.2 8.9 7.9c3.1 2.7 6.5 5.4 9.5 8.5c3 3.1 5.7 6.6 8.7 9.9c3 3.3 6.1 7.1 9.1 9.9c3 2.8 5.9 5 8.9 6.9c3 2 5.9 3.1 8.9 5c3 1.8 5.9 3.8 8.9 5.9c3 2.1 6.3 4.5 9.3 6.9c3 2.5 5.9 5.1 8.9 7.9c3 2.8 5.9 5.8 8.9 8.9c3 3.1 5.9 6.6 8.9 9.9c3 3.3 5.9 6.5 8.9 9.9c3 3.4 6.3 7 9.3 10.5c3 3.5 5.9 6.9 8.9 10.3c3 3.4 6.1 6.7 9.1 9.9c3 3.2 5.9 6.5 8.9 9.5c3 3 5.9 6 8.9 8.7c3 2.7 6.1 5.3 8.9 7.5c2.8 2.2 5.3 4.1 7.9 5.9c2.6 1.8 5.3 3.7 7.9 5c2.6 1.3 5.1 2.2 7.7 2.6c2.6 0.3 5.3 0.1 7.9-0.6c2.6-0.7 5-1.6 7.5-3.6c2.6-2 5.3-5 7.9-8.3c2.6-3.3 5.3-7.3 7.9-11.3c2.6-4 5-8.2 7.5-12.5c2.6-4.3 5.3-8.7 7.9-13.3c2.6-4.5 5.3-9.3 7.9-13.9c2.6-4.6 5.3-9 7.9-13.5c2.6-4.5 5.3-8.9 7.9-13.3c2.6-4.4 5-8.6 7.5-12.9c2.6-4.2 5.3-8.4 7.9-12.5c2.6-4.1 5.1-7.9 7.7-11.9c2.6-4 5.3-8.2 7.9-11.9c2.6-3.7 5.3-7.2 7.9-10.5c2.6-3.3 5.4-6.4 7.9-9.3c2.5-2.9 4.9-5.3 7.3-7.9M1415.8,1524.5c3.3-2 6.9-4.2 9.9-5.9c3-1.7 5.3-2.7 7.9-4.4c2.6-1.7 5-3.5 7.5-5.5c2.6-2.1 5.3-4.6 7.9-6.9c2.6-2.3 5.3-4.4 7.9-6.9c2.6-2.5 5.3-5.4 7.9-8.3c2.6-2.9 5.3-5.9 7.9-8.9c2.6-3 5-6 7.5-8.9c2.6-2.9 5.3-5.8 7.9-8.5c2.6-2.7 5.1-5.5 7.7-7.9c2.6-2.4 5.3-4.5 7.9-6.3c2.6-1.8 5.3-3.2 7.9-4.6c2.6-1.3 5.4-2.6 7.9-3.4c2.5-0.7 4.9-0.7 7.3-1M1421.8,1524.5c4-2.3 8.6-4.9 11.9-6.9c3.2-2.1 5-3.3 7.5-5.5c2.6-2.2 5.3-5.2 7.9-7.9c2.6-2.7 5.3-5.5 7.9-8.3c2.6-2.8 5.3-5.8 7.9-8.7M1527.1,1436.9c2.2 3.6 4.5 7 6.5 10.7c2.1 3.7 4 7.8 5.9 11.5c2 3.7 4 7.3 5.9 10.9c2 3.6 4 7.3 5.9 10.9c2 3.6 3.8 6.9 5.9 10.9c2.1 4 4.8 8.7 6.9 12.9c2.1 4.1 4.3 8.6 5.9 11.9c1.7 3.3 2.6 5.3 4 7.9M1534.7,1524.5c1.7-2 3.1-3.5 5-5.9c1.8-2.5 4-5.8 5.9-8.9c2-3.1 4-6.5 5.9-9.5c2-3 3.8-5.7 5.9-8.7c2.1-3 4.8-6.2 6.9-9.1c2.1-2.9 4-5.6 5.9-8.3c2-2.7 4-5.3 5.9-7.9c2-2.6 4-5.3 5.9-7.9c2-2.6 4-5.2 5.9-7.5c2-2.3 3.8-4.3 5.9-6.3c2.1-2 4.8-4.4 6.9-5.9c2.1-1.6 4-2.7 5.9-3.6c1.9-0.8 3.7-0.9 5.5-1.4M1527.1,1436.9c2.2-3.5 4.5-7.1 6.5-10.5c2.1-3.4 4-6.5 5.9-9.9c2-3.4 4-6.9 5.9-10.3c2-3.4 4-6.7 5.9-9.9c2-3.2 3.8-6.4 5.9-9.5c2.1-3.1 4.8-6.1 6.9-8.9c2.1-2.8 4.1-6.1 5.9-7.9c1.8-1.8 3-3.5 5-3c2 0.5 4.8 4 6.9 5.9c2.1 2 4 4.1 5.9 5.9c2 1.8 3.8 3.4 5.9 5c2.1 1.6 4.8 3.3 6.9 4.6c2.1 1.2 4 2 5.9 2.8c1.9 0.7 3.7 1.1 5.5 1.6M1527.1,1324.5c2.2 1.3 4.5 2.5 6.5 4c2.1 1.5 4 3.5 5.9 5c2 1.5 4 2.4 5.9 4c2 1.6 4 3.6 5.9 5.5c2 1.9 3.8 4 5.9 5.9c2.1 2 4.8 4.2 6.9 5.9c2.1 1.8 4.5 3.7 5.9 4.8c1.5 1.1 2 1.6 3 1.6c1 0 1.5-0.1 3-1.6c1.5-1.5 4-4.8 5.9-7.3c2-2.5 4-5.3 5.9-7.9c2-2.6 3.8-5.4 5.9-7.9c2.1-2.5 4.8-5.1 6.9-7.3c2.1-2.2 4-4.4 5.9-5.9c1.9-1.6 3.7-2.4 5.5-3.6M1527.1,1324.5c2.2-0.9 4.5-1.7 6.5-2.6c2.1-0.9 4-2 5.9-2.8c2-0.7 4-1.1 5.9-1.6c2-0.5 4-1.1 5.9-1.6c2-0.5 3.8-1 5.9-1.4c2.1-0.4 4.8-0.7 6.9-1c2.1-0.3 4-0.7 5.9-1c2-0.3 4-0.4 5.9-0.6c2-0.2 4-0.4 5.9-0.4c2 0 4 0.2 5.9 0.4c2 0.2 3.8 0.3 5.9 0.6c2.1 0.3 4.8 0.6 6.9 1c2.1 0.4 4 1.1 5.9 1.6c1.9 0.5 3.7 0.9 5.5 1.4M1527.1,1293.4c2.2 1.1 4.5 2.5 6.5 3.4c2.1 0.9 4 1.5 5.9 2c2 0.5 4 0.7 5.9 1c2 0.3 4 0.8 5.9 1c2 0.2 3.8 0.1 5.9 0c2.1-0.1 4.8-0.3 6.9-0.4c2.1-0.1 4-0.1 5.9-0.2c2-0.1 4-0.3 5.9-0.4c2-0.1 4-0.1 5.9 0c2 0.1 4 0.2 5.9 0.4c2 0.2 3.8 0.3 5.9 0.6c2.1 0.3 4.8 1 6.9 1.4c2.1 0.4 4 0.9 5.9 1.2c1.9 0.3 3.7 0.5 5.5 0.8M1208.1,1302.7c2.9-0.7 5.8-0.5 8.7-2c2.9-1.5 5.8-4.6 8.9-6.9c3.1-2.3 6.5-4.6 9.5-6.9c3-2.3 5.7-4.8 8.7-6.9c3-2.1 6.1-4.1 9.1-5.9c3-1.8 5.9-3.3 8.9-5M1244.0,1266.0c3 2.8 6.1 5.2 9.1 8.3c3 3.1 5.9 7.4 8.9 10.5c3 3.1 5.9 5.4 8.9 7.9c3 2.5 5.9 4.8 8.9 6.9c3 2.1 6.3 4.1 9.3 5.9c3 1.8 5.9 3.4 8.9 5c3 1.6 5.9 3.2 8.9 4.6c3 1.3 5.9 2.4 8.9 3.4c3 1 5.9 1.8 8.9 2.6c3 0.8 6.3 1.5 9.3 2c3 0.5 5.9 0.7 8.9 0.8c3 0.1 6.1-0.2 9.1-0.4c3-0.2 5.9-0.5 8.9-0.8c3-0.3 5.9-0.5 8.9-0.8c3-0.3 6.1-0.7 8.9-0.8c2.8-0.1 5.3 0.3 7.9 0.4c2.6 0.1 5.3 0.4 7.9 0.4c2.6 0 5.1-0.2 7.7-0.4c2.6-0.2 5.3-0.5 7.9-1c2.6-0.5 5-1.2 7.5-2c2.6-0.8 5.3-1.6 7.9-2.6c2.6-1 5.3-2.1 7.9-3.4c2.6-1.2 5-2.5 7.5-4c2.6-1.5 5.3-3.3 7.9-5c2.6-1.7 5.3-3.1 7.9-5c2.6-1.8 5.3-3.8 7.9-5.9c2.6-2.1 5.3-4.6 7.9-6.9c2.6-2.3 5-4.5 7.5-6.9c2.6-2.5 5.3-5.1 7.9-7.9c2.6-2.8 5.1-5.9 7.7-8.9M1527.1,1293.4c2.2-1.5 4.5-3 6.5-4.6c2.1-1.5 4-3.1 5.9-4.6c2-1.5 4-2.9 5.9-4.4c2-1.5 4-2.9 5.9-4.4c2-1.5 3.8-2.8 5.9-4.6c2.1-1.7 4.5-3.9 6.9-5.9c2.5-2.1 5.3-4.6 7.9-6.5c2.6-2 5.3-3.7 7.9-5.3c2.6-1.7 5.3-3.3 7.9-4.6c2.6-1.2 5.3-2 7.9-2.8c2.6-0.8 5.2-1.4 7.9-2c2.7-0.6 5.7-1.1 8.5-1.6" fill="none" stroke="#ff0000" stroke-width="3" stroke-linejoin="round"/>
<path d="M1253.0,1063.4 1262.0,1079.2 1271.0,1092.2 1280.0,1107.1 1289.0,1121.1 1298.0,1139.1 1307.0,1154.1 1316.0,1170.0 1325.0,1185.3 1334.0,1198.4 1342.9,1207.4 1351.9,1215.2 1360.9,1220.7 1369.9,1224.3 1378.9,1225.2M1262.0,1061.5 1271.0,1081.1 1280.0,1099.2 1289.0,1115.1 1298.0,1136.1 1307.0,1158.0 1316.0,1174.0 1325.0,1188.3 1334.0,1202.3 1342.9,1210.8 1351.9,1217.8 1360.9,1223.2 1369.9,1227.2 1378.9,1229.2M1262.0,1089.3 1271.0,1097.2 1280.0,1113.0 1289.0,1128.0 1298.0,1145.0 1307.0,1161.0 1316.0,1176.9 1325.0,1190.3 1334.0,1206.3 1342.9,1213.3 1351.9,1220.6 1360.9,1226.2 1369.9,1230.6 1378.9,1231.8M1298.0,1106.4 1307.0,1129.3 1316.0,1150.3 1325.0,1168.4 1334.0,1186.4 1342.9,1200.5 1351.9,1211.2 1360.9,1218.3 1369.9,1221.9 1378.9,1222.3M1378.9,1222.3 1387.6,1220.7 1396.3,1217.0 1405.1,1211.5 1413.8,1203.9 1422.5,1194.4 1431.2,1183.1 1440.0,1170.7 1448.7,1155.7 1457.4,1139.4 1466.1,1121.8 1474.9,1103.0 1483.6,1083.7 1492.3,1065.7M1378.9,1225.2 1387.6,1223.9 1396.3,1220.4 1405.1,1214.9 1413.8,1207.6 1422.5,1198.3 1431.2,1188.0 1440.0,1173.9 1448.7,1158.7 1457.4,1142.3 1466.1,1124.7 1474.9,1105.1 1483.6,1086.8 1492.3,1068.6M1378.9,1229.2 1387.6,1228.2 1396.3,1226.4 1405.1,1223.9 1413.8,1220.4 1422.5,1216.7 1431.2,1213.0 1440.0,1209.1 1448.7,1203.8 1457.4,1196.2 1466.1,1188.4 1474.9,1178.4 1483.6,1167.8 1492.3,1156.8 1501.0,1145.2 1509.8,1132.4 1518.5,1119.2 1527.2,1108.4M1378.9,1231.8 1387.6,1232.2 1396.3,1232.7 1405.1,1233.6 1413.8,1234.6 1422.5,1235.7 1431.2,1237.2 1440.0,1239.3 1448.7,1242.3 1457.4,1246.6 1466.1,1251.0 1474.9,1256.1 1483.6,1261.3 1492.3,1266.3 1501.0,1272.5 1509.8,1279.1 1518.5,1285.6 1527.2,1293.4M1208.1,1241.7 1217.1,1242.1 1226.1,1244.1 1235.1,1245.6 1244.1,1246.4 1253.0,1246.4 1262.0,1246.0 1271.0,1245.0 1280.0,1243.0 1289.0,1240.5 1298.0,1237.7 1307.0,1235.7 1316.0,1234.1 1325.0,1233.2 1334.0,1232.2 1342.9,1231.8 1351.9,1231.8 1360.9,1231.8 1369.9,1231.8 1378.9,1231.8M1208.1,1228.2 1217.1,1221.1 1226.1,1213.0 1235.1,1203.0 1244.1,1192.0 1253.0,1183.7 1262.0,1186.7 1271.0,1196.7 1280.0,1204.3 1289.0,1209.3 1298.0,1214.7 1307.0,1219.3 1316.0,1224.3 1325.0,1226.8 1334.0,1229.2 1342.9,1230.6 1351.9,1231.2M1208.1,1230.2 1217.1,1238.4 1226.1,1248.4 1235.1,1257.7 1244.1,1267.9 1253.0,1275.7 1262.0,1282.9M1253.0,1272.2 1262.0,1267.8 1271.0,1262.8 1280.0,1258.0 1289.0,1253.0 1298.0,1249.0 1307.0,1245.0 1316.0,1241.0 1325.0,1237.2 1334.0,1234.2 1342.9,1232.6 1351.9,1232.2M1208.1,1075.7 1217.1,1081.9 1226.1,1093.0 1235.1,1104.0 1244.1,1115.9 1253.0,1126.2 1262.0,1136.7 1271.0,1147.7 1280.0,1157.7 1289.0,1167.7 1298.0,1176.7 1307.0,1185.7 1316.0,1192.7 1325.0,1200.3 1334.0,1206.4 1342.9,1210.0M1208.1,1133.2 1217.1,1139.4 1226.1,1151.5 1235.1,1164.4 1244.1,1175.2 1253.0,1181.7 1262.0,1188.7 1271.0,1196.6 1280.0,1203.3 1289.0,1209.3 1298.0,1214.3 1307.0,1219.3 1316.0,1223.3 1325.0,1226.2M1253.0,1181.7 1262.0,1164.8 1271.0,1155.0 1280.0,1160.6 1289.0,1184.4 1298.0,1207.4 1307.0,1229.3 1316.0,1250.3 1325.0,1267.5 1334.0,1281.1 1342.9,1292.5 1351.9,1302.9 1360.9,1310.9 1369.9,1316.9 1378.9,1319.7M1253.0,1115.3 1262.0,1126.7 1271.0,1142.5 1280.0,1166.3 1289.0,1189.3 1298.0,1212.3 1307.0,1234.3 1316.0,1255.2 1325.0,1271.5 1334.0,1283.5 1342.9,1295.5 1351.9,1305.7 1360.9,1313.3 1369.9,1318.3 1378.9,1320.3M1271.0,1152.4 1280.0,1176.3 1289.0,1198.3 1298.0,1220.2 1307.0,1241.2 1316.0,1260.1 1325.0,1274.5 1334.0,1286.5 1342.9,1298.5 1351.9,1308.3 1360.9,1315.3 1369.9,1319.3 1378.9,1320.9M1378.9,1319.7 1387.6,1317.8 1396.3,1313.2 1405.1,1306.1 1413.8,1297.0 1422.5,1284.2 1431.2,1269.2 1440.0,1252.5 1448.7,1234.1 1457.4,1214.5 1466.1,1194.8 1474.9,1174.0 1483.6,1154.0 1492.3,1135.8 1501.0,1118.7 1509.8,1103.7 1518.5,1091.9 1527.2,1087.6M1378.9,1320.5 1387.6,1319.3 1396.3,1315.3 1405.1,1308.9 1413.8,1300.7 1422.5,1288.5 1431.2,1274.0 1440.0,1258.3 1448.7,1240.9 1457.4,1223.5 1466.1,1204.8 1474.9,1184.9 1483.6,1164.5 1492.3,1145.1 1501.0,1126.9 1509.8,1110.8 1518.5,1098.6 1527.2,1097.5M1378.9,1321.3 1387.6,1320.5 1396.3,1317.4 1405.1,1311.5 1413.8,1304.3 1422.5,1293.5 1431.2,1279.8 1440.0,1265.0 1448.7,1248.8 1457.4,1231.4 1466.1,1213.9 1474.9,1195.1 1483.6,1176.2 1492.3,1158.6 1501.0,1140.8 1509.8,1124.8 1518.5,1110.8 1527.2,1108.4M1483.6,1170.6 1492.3,1167.3 1501.0,1163.3 1509.8,1169.6 1518.5,1184.2 1527.2,1200.6 1535.7,1210.6 1544.3,1218.3 1552.8,1225.2 1561.3,1229.9 1569.8,1234.0 1578.4,1236.0 1586.9,1236.2 1595.4,1234.8 1604.0,1232.2 1612.5,1229.2M1483.6,1275.9 1492.3,1265.8 1501.0,1252.5 1509.8,1232.3 1518.5,1215.6 1527.2,1200.4 1535.7,1186.4 1544.3,1173.8 1552.8,1159.8 1561.3,1148.2 1569.8,1137.7M1552.8,1145.3 1561.3,1158.4 1569.8,1170.1 1578.4,1183.0 1586.9,1194.9 1595.4,1206.2 1604.0,1216.5 1612.5,1227.8M1527.2,1096.5 1535.7,1088.5 1544.3,1081.4 1552.8,1079.0 1561.3,1080.1 1569.8,1085.0 1578.4,1095.8 1586.9,1111.4 1595.4,1122.6 1604.0,1129.2 1612.5,1133.2M1527.2,1109.5 1535.7,1116.0 1544.3,1119.7 1552.8,1120.4 1561.3,1119.8 1569.8,1114.0 1578.4,1099.6 1586.9,1083.3 1595.4,1077.0 1604.0,1074.8 1612.5,1073.8M1544.3,1130.0 1552.8,1136.1 1561.3,1139.7 1569.8,1140.3 1578.4,1140.0 1586.9,1139.3 1595.4,1137.3 1604.0,1135.1 1612.5,1133.2M1552.8,1139.6 1561.3,1142.9 1569.8,1144.2 1578.4,1144.7 1586.9,1144.7 1595.4,1143.6 1604.0,1141.5 1612.5,1138.7M1569.8,1055.5 1578.4,1062.9 1586.9,1065.3 1595.4,1060.2M1527.2,1095.5 1535.7,1086.3 1544.3,1075.0 1552.8,1065.5 1561.3,1055.4M1604.0,1058.9 1612.5,1063.9M1457.4,1061.7 1466.1,1081.5 1474.9,1080.5 1483.6,1084.1 1492.3,1075.7 1501.0,1063.2M1466.1,1092.4 1474.9,1094.7 1483.6,1100.0 1492.3,1090.9 1501.0,1079.4 1509.8,1070.6 1518.5,1077.5 1527.2,1090.6M1474.9,1115.7 1483.6,1121.1 1492.3,1119.9 1501.0,1109.0 1509.8,1106.9 1518.5,1108.2 1527.2,1109.4M1483.6,1134.4 1492.3,1140.6 1501.0,1142.5 1509.8,1132.2 1518.5,1120.1 1527.2,1109.4M1492.3,1057.7 1501.0,1067.3 1509.8,1071.1 1518.5,1076.3 1527.2,1090.6M1208.1,1068.8 1217.1,1064.2 1226.1,1067.9 1235.1,1084.1 1244.1,1088.2 1253.0,1089.2 1262.0,1083.7 1271.0,1087.4 1280.0,1101.2M1208.1,1071.4 1217.1,1066.2 1226.1,1070.2 1235.1,1086.1 1244.1,1090.7 1253.0,1091.6 1262.0,1086.8M1208.1,1122.3 1217.1,1118.2 1226.1,1113.6 1235.1,1110.1 1244.1,1102.1 1253.0,1095.2 1262.0,1088.9M1208.1,1125.2 1217.1,1121.5 1226.1,1116.2 1235.1,1113.0 1244.1,1117.7 1253.0,1126.2 1262.0,1144.4 1271.0,1160.6 1280.0,1157.9 1289.0,1125.6 1298.0,1106.5M1208.1,1129.2 1217.1,1129.1 1226.1,1122.0M1262.0,1068.0 1271.0,1066.3M1280.0,1056.1 1289.0,1079.4 1298.0,1097.9 1307.0,1077.6 1316.0,1056.0M1208.1,1433.4 1217.1,1436.5 1226.1,1442.5 1235.1,1450.0 1244.1,1459.2 1253.0,1468.0 1262.0,1477.4 1271.0,1487.0 1280.0,1496.4 1289.0,1505.9 1298.0,1515.5M1208.1,1392.8 1217.1,1390.3 1226.1,1386.3 1235.1,1382.5 1244.1,1380.5 1253.0,1381.9 1262.0,1388.9 1271.0,1400.9 1280.0,1415.3 1289.0,1430.2 1298.0,1445.8 1307.0,1461.6 1316.0,1477.2 1325.0,1492.1 1334.0,1506.5 1342.9,1521.4M1208.1,1315.9 1217.1,1318.0 1226.1,1324.2 1235.1,1333.2 1244.1,1345.0 1253.0,1357.1 1262.0,1370.1 1271.0,1385.5 1280.0,1400.3 1289.0,1415.4 1298.0,1430.4 1307.0,1445.7 1316.0,1460.3 1325.0,1473.2 1334.0,1483.2 1342.9,1489.8 1351.9,1491.8 1360.9,1489.4 1369.9,1484.8 1378.9,1477.9 1387.6,1471.2 1396.3,1462.7 1405.1,1453.3 1413.8,1443.5 1422.5,1433.2 1431.2,1422.9 1440.0,1411.4 1448.7,1400.2 1457.4,1388.9 1466.1,1377.6 1474.9,1366.5 1483.6,1355.6 1492.3,1345.0 1501.0,1335.3 1509.8,1327.4 1518.5,1322.2 1527.2,1324.5M1208.1,1321.1 1217.1,1324.0 1226.1,1332.1 1235.1,1340.1 1244.1,1350.3 1253.0,1360.1 1262.0,1367.1 1271.0,1372.1 1280.0,1378.1 1289.0,1384.8 1298.0,1392.7 1307.0,1401.7 1316.0,1411.7 1325.0,1421.7 1334.0,1431.9 1342.9,1442.2 1351.9,1452.0 1360.9,1461.6 1369.9,1470.4 1378.9,1478.0 1387.6,1484.5 1396.3,1489.6 1405.1,1491.5 1413.8,1489.6 1422.5,1482.7 1431.2,1471.3 1440.0,1457.2 1448.7,1442.6 1457.4,1427.4 1466.1,1412.6 1474.9,1397.9 1483.6,1383.3 1492.3,1369.8 1501.0,1356.5 1509.8,1344.4 1518.5,1333.9 1527.2,1324.5M1422.5,1520.4 1431.2,1515.6 1440.0,1509.6 1448.7,1502.1 1457.4,1494.4 1466.1,1485.1 1474.9,1475.2 1483.6,1465.1 1492.3,1455.9 1501.0,1448.0 1509.8,1442.4 1518.5,1438.3 1527.2,1436.9M1422.5,1524.0 1431.2,1519.0 1440.0,1513.0 1448.7,1504.5 1457.4,1495.3M1527.2,1437.0 1535.7,1451.5 1544.3,1467.7 1552.8,1483.3 1561.3,1498.9 1569.8,1515.6M1535.7,1523.2 1544.3,1511.6 1552.8,1498.1 1561.3,1486.3 1569.8,1474.6 1578.4,1463.2 1586.9,1452.0 1595.4,1443.0 1604.0,1436.3 1612.5,1433.4M1527.2,1436.8 1535.7,1423.0 1544.3,1408.4 1552.8,1394.2 1561.3,1381.7 1569.8,1370.5 1578.4,1369.2 1586.9,1377.7 1595.4,1384.9 1604.0,1390.0 1612.5,1392.8M1527.2,1324.5 1535.7,1330.1 1544.3,1336.4 1552.8,1344.2 1561.3,1352.2 1569.8,1359.2 1578.4,1357.0 1586.9,1345.9 1595.4,1334.8 1604.0,1325.9 1612.5,1319.5M1527.2,1324.4 1535.7,1320.9 1544.3,1317.8 1552.8,1315.6 1561.3,1314.0 1569.8,1312.6 1578.4,1311.8 1586.9,1311.9 1595.4,1312.7 1604.0,1314.3 1612.5,1316.5M1527.2,1293.4 1535.7,1297.5 1544.3,1299.5 1552.8,1300.8 1561.3,1300.5 1569.8,1300.1 1578.4,1299.7 1586.9,1300.0 1595.4,1300.9 1604.0,1302.7 1612.5,1304.1M1208.1,1302.7 1217.1,1300.5 1226.1,1293.5 1235.1,1287.0 1244.1,1279.8 1253.0,1274.0 1262.0,1269.0M1244.1,1266.1 1253.0,1274.3 1262.0,1284.9 1271.0,1292.9 1280.0,1299.9 1289.0,1305.6 1298.0,1310.6 1307.0,1315.2 1316.0,1318.6 1325.0,1321.1 1334.0,1323.1 1342.9,1323.9 1351.9,1323.5 1360.9,1322.7 1369.9,1321.9 1378.9,1321.1 1387.6,1321.5 1396.3,1321.9 1405.1,1321.2 1413.8,1319.7 1422.5,1317.1 1431.2,1313.7 1440.0,1309.3 1448.7,1303.9 1457.4,1298.4 1466.1,1291.8 1474.9,1284.1 1483.6,1275.8 1492.3,1266.5M1527.2,1293.3 1535.7,1287.3 1544.3,1280.8 1552.8,1274.6 1561.3,1267.7 1569.8,1260.4 1578.4,1254.3 1586.9,1249.2 1595.4,1246.0 1604.0,1243.9 1612.5,1242.3" fill="none" stroke="none" marker-start="url(#mdot)" marker-mid="url(#mdot)" marker-end="url(#mdot)"/>
</g>
<rect x="1208.1" y="1056.6" width="404.4" height="465.6" fill="none" stroke="#222" stroke-width="1.5"/>
<line x1="1196.1" y1="1445" x2="1208.1" y2="1445" stroke="#222" stroke-width="1.5"/>
<text x="1186.6" y="1454.2" font-size="27" text-anchor="end">−0.2</text>
<line x1="1196.1" y1="1358.6" x2="1208.1" y2="1358.6" stroke="#222" stroke-width="1.5"/>
<text x="1186.6" y="1367.8" font-size="27" text-anchor="end">−0.1</text>
<line x1="1196.1" y1="1272.2" x2="1208.1" y2="1272.2" stroke="#222" stroke-width="1.5"/>
<text x="1186.6" y="1281.4" font-size="27" text-anchor="end">0</text>
<line x1="1196.1" y1="1185.8" x2="1208.1" y2="1185.8" stroke="#222" stroke-width="1.5"/>
<text x="1186.6" y="1195" font-size="27" text-anchor="end">0.1</text>
<line x1="1196.1" y1="1099.4" x2="1208.1" y2="1099.4" stroke="#222" stroke-width="1.5"/>
<text x="1186.6" y="1108.6" font-size="27" text-anchor="end">0.2</text>
<line x1="1208.1" y1="1522.2" x2="1208.1" y2="1534.2" stroke="#222" stroke-width="1.5"/>
<line x1="1378.9" y1="1522.2" x2="1378.9" y2="1534.2" stroke="#222" stroke-width="1.5"/>
<line x1="1527.2" y1="1522.2" x2="1527.2" y2="1534.2" stroke="#222" stroke-width="1.5"/>
<line x1="1612.5" y1="1522.2" x2="1612.5" y2="1534.2" stroke="#222" stroke-width="1.5"/>
<text x="1208.1" y="1564" font-size="27" text-anchor="middle">K</text>
<text x="1378.9" y="1564" font-size="27" text-anchor="middle" style='font-family:"Liberation Serif", "Times New Roman", serif'>Γ</text>
<text x="1527.2" y="1564" font-size="27" text-anchor="middle">M</text>
<text x="1614.5" y="1564" font-size="27" text-anchor="middle">K'</text>
<text x="0" y="0" font-size="27" text-anchor="middle" transform="translate(1106.2 1289.5) rotate(-90)">Energy (eV)</text>
<text x="1411.2" y="1034.4" font-size="27" text-anchor="middle">TBB: <tspan font-family='"Liberation Serif", "Times New Roman", serif' font-style="italic" font-size="28">θ</tspan> <tspan font-size="31" dy="1">≈</tspan><tspan dy="-1"> 9.43°</tspan>, <tspan font-style="italic">N</tspan><tspan font-size="19" dy="7">atom</tspan><tspan dy="-7"> = 148</tspan></text>
<line x1="1875.6" y1="1056.6" x2="1875.6" y2="1522.2" stroke="#222" stroke-width="1.5"/>
<line x1="2023.5" y1="1056.6" x2="2023.5" y2="1522.2" stroke="#222" stroke-width="1.5"/>
<line x1="1704.7" y1="1272.2" x2="2109.6" y2="1272.2" stroke="#000" stroke-width="1.4" stroke-dasharray="5.5,3.5"/>
<g clip-path="url(#clp4)">
<path d="M1704.6,1248.0c3.1-1.3 6.3-2.5 9.3-4c3-1.5 5.9-3.1 8.9-5c3-1.8 5.9-3.8 8.9-5.9c3-2.1 5.9-4.6 8.9-6.9c3-2.3 5.9-4.5 8.9-6.9c3-2.5 5.9-5.1 8.9-7.9c3-2.8 5.8-6.1 8.9-8.9c3.1-2.8 6.4-5.3 9.5-7.9c3.1-2.6 5.9-5.3 8.9-7.9c3-2.6 5.9-5.3 8.9-7.9c3-2.6 5.9-5 8.9-7.9c3-3 6.3-6.8 9.3-9.9c3-3.1 5.9-5.9 8.9-8.9c3-3 5.9-6.1 8.9-8.9c3-2.8 5.9-5.3 8.9-7.9c3-2.6 5.8-5.1 8.9-7.9c3.1-2.8 6.4-5.9 9.5-8.9c3.1-3 6-5.8 8.9-8.9c2.9-3.1 5.8-6.6 8.7-9.9M1704.6,1250.0c3.1-1.7 6.3-3.6 9.3-5c3-1.4 5.9-2.2 8.9-3.4c3-1.2 5.9-2.5 8.9-3.6c3-1.1 5.9-1.7 8.9-3c3-1.3 5.9-3.1 8.9-5c3-1.8 5.9-3.8 8.9-5.9c3-2.1 5.8-4.6 8.9-6.9c3.1-2.3 6.4-4.5 9.5-6.9c3.1-2.5 5.9-5.4 8.9-7.9c3-2.5 5.9-4.6 8.9-6.9c3-2.3 5.9-4.6 8.9-6.9c3-2.3 6.3-4.6 9.3-6.9c3-2.3 5.9-4.5 8.9-6.9c3-2.5 5.9-5.1 8.9-7.9c3-2.8 5.9-6.1 8.9-8.9c3-2.8 5.8-5.4 8.9-7.9c3.1-2.5 6.4-4.5 9.5-6.9c3.1-2.5 6-5.6 8.9-7.9c2.9-2.3 5.8-4 8.7-5.9M1704.6,1248.0c3.1 1.3 6.3 3 9.3 4c3 1 5.9 1.5 8.9 2c3 0.5 5.9 1 8.9 1c3 0 5.9-0.4 8.9-1c3-0.6 5.9-1.4 8.9-2.4c3-1 5.9-2.2 8.9-3.6c3-1.3 5.8-2.9 8.9-4.4c3.1-1.5 6.4-2.6 9.5-4.6c3.1-1.9 5.9-4.5 8.9-6.9c3-2.5 5.9-5.6 8.9-7.9c3-2.3 5.9-4.3 8.9-5.9c3-1.7 6.3-2.6 9.3-4c3-1.4 5.9-3.4 8.9-4.4c3-1 5.9-1.3 8.9-1.6c3-0.3 5.9 0 8.9 0c3 0 5.8 0.2 8.9 0c3.1-0.2 6.4-0.7 9.5-1c3.1-0.3 6-0.8 8.9-1c2.9-0.2 5.8 0 8.7 0M1704.6,1246.0c3.1 1.2 6.3 2.6 9.3 3.6c3 0.9 5.9 1.5 8.9 2c3 0.5 5.9 0.8 8.9 0.8c3 0 5.9-0.2 8.9-0.8c3-0.6 5.9-1.7 8.9-2.6c3-0.9 5.9-2 8.9-3M1704.6,1242.1c3.1-0.7 6.3-1.2 9.3-2c3-0.8 5.9-2 8.9-3c3-1 5.9-1.8 8.9-3c3-1.2 5.9-2.6 8.9-4c3-1.3 5.9-2.6 8.9-4c3-1.3 5.9-3 8.9-4c3-1 5.8-1.5 8.9-2c3.1-0.5 6.4-0.7 9.5-1c3.1-0.3 5.9-0.8 8.9-1c3-0.2 5.9-0.1 8.9 0c3 0.1 5.9 0.2 8.9 0.4c3 0.2 6.3 0.5 9.3 0.6c3 0.1 5.9 0 8.9 0c3 0 5.9 0 8.9 0c3 0 5.9 0 8.9 0c3 0 5.8 0 8.9 0c3.1 0 6.4 0 9.5 0c3.1 0 6 0 8.9 0c2.9 0 5.8 0 8.7 0c2.9 0 5.9 0 8.5 0c2.6 0 4.9 0 7.3 0c2.5 0 5-0.1 7.5 0c2.6 0.1 5.3 0.4 7.9 0.6c2.6 0.2 5.3 0.3 7.9 0.4c2.6 0.1 5.3 0.2 7.9 0.4c2.6 0.2 5.3 0.3 7.9 0.6c2.6 0.3 5 0.6 7.5 1c2.6 0.4 5.3 1 7.9 1.6c2.6 0.6 5.3 1.4 7.9 2c2.6 0.6 5.3 0.7 7.9 1.4c2.6 0.7 5.2 2 7.7 3c2.5 1 5 2 7.5 3c2.6 1 5.3 2 7.9 3c2.6 1 5.3 2 7.9 3c2.6 0.9 5.3 1.7 7.9 2.6c2.6 0.8 5.3 1.7 7.9 2.4c2.6 0.7 5.5 1.5 7.9 2c2.4 0.5 4.4 0.7 6.5 1M1704.6,1196.5c3.1 0.3 6.3 0.6 9.3 1c3 0.4 5.9 0.7 8.9 1.4c3 0.7 5.9 1.7 8.9 2.6c3 0.9 5.9 2 8.9 3c3 1 5.9 1.8 8.9 3c3 1.2 5.9 3 8.9 4c3 1 5.8 1.4 8.9 2c3.1 0.6 6.4 1 9.5 1.4c3.1 0.4 5.9 1.1 8.9 1.2c3 0.1 5.9-0.2 8.9-0.6c3-0.4 5.9-1 8.9-2c3-1 6.3-2.8 9.3-4c3-1.2 5.9-2.5 8.9-3c3-0.5 5.9-0.3 8.9 0c3 0.3 5.9 1.5 8.9 2c3 0.5 5.8 1 8.9 1c3.1 0 6.4-0.5 9.5-1c3.1-0.5 6-1.3 8.9-2c2.9-0.7 5.8-1.3 8.7-2M1745.5,1295.5c4.3-4 9.2-8.6 12.9-11.9c3.6-3.3 5.8-5.3 8.9-7.9c3.1-2.6 6.4-5.3 9.5-7.9c3.1-2.6 5.9-4.6 8.9-7.9c3-3.3 5.9-7.9 8.9-11.9c3-4 5.9-7.9 8.9-11.9c3-4 6.3-8.3 9.3-11.9c3-3.6 5.9-6.9 8.9-9.9c3-3 5.9-5.3 8.9-7.9c3-2.6 5.9-5.6 8.9-7.9c3-2.3 5.8-4.3 8.9-5.9c3.1-1.7 6.4-3 9.5-4c3.1-1 6-2 8.9-2c2.9 0 5.8 1.3 8.7 2M1757.4,1295.5c3.3-3.6 6.7-7.6 9.9-10.9c3.2-3.3 6.4-6.1 9.5-8.9c3.1-2.8 5.9-5.3 8.9-7.9c3-2.6 5.9-5 8.9-7.9c3-3 5.9-6.4 8.9-9.9c3-3.5 6.3-7.3 9.3-10.9c3-3.6 5.9-7.4 8.9-10.9c3-3.5 5.9-6.6 8.9-9.9c3-3.3 5.9-6.9 8.9-9.9c3-3 5.8-5.8 8.9-7.9c3.1-2.1 6.4-4.1 9.5-5c3.1-0.8 6-0.2 8.9 0c2.9 0.2 5.8 0.7 8.7 1M1704.6,1172.8c3.1 1 6.3 2.1 9.3 3c3 0.8 5.9 1.5 8.9 2c3 0.5 5.9 1 8.9 1c3 0 5.9-0.5 8.9-1c3-0.5 5.9-1.2 8.9-2c3-0.8 5.9-1.8 8.9-3c3-1.2 5.8-2.6 8.9-4c3.1-1.3 6.4-4 9.5-4c3.1 0 5.9 2 8.9 4c3 2 5.9 5.3 8.9 7.9c3 2.6 5.9 5.9 8.9 7.9c3 2 6.3 3.6 9.3 4c3 0.3 5.9-1 8.9-2c3-1 5.9-2.6 8.9-4c3-1.3 5.9-3.1 8.9-4c3-0.8 5.8-1 8.9-1c3.1 0 6.4-0.8 9.5 1c3.1 1.8 6 6.9 8.9 9.9c2.9 3 5.8 5.3 8.7 7.9M1704.6,1168.8c3.1-1.3 6.3-2.1 9.3-4c3-1.8 5.9-4.5 8.9-6.9c3-2.5 5.9-5.3 8.9-7.9c3-2.6 5.9-5.3 8.9-7.9c3-2.6 5.9-5.3 8.9-7.9c3-2.6 5.9-5.3 8.9-7.9c3-2.6 5.8-5.8 8.9-7.9c3.1-2.1 6.4-4.5 9.5-5c3.1-0.5 5.9 1 8.9 2c3 1 5.9 2.5 8.9 4c3 1.5 5.9 3.3 8.9 5c3 1.7 6.3 2.8 9.3 5c3 2.1 5.9 5.6 8.9 7.9c3 2.3 5.9 4.6 8.9 5.9c3 1.3 5.9 2 8.9 2c3 0 5.8-1 8.9-2c3.1-1 6.4-2.3 9.5-4c3.1-1.7 6-4.3 8.9-5.9c2.9-1.7 5.8-2.6 8.7-4M1704.6,1073.8c3.1 1.3 6.3 1.8 9.3 4c3 2.1 5.9 5.6 8.9 8.9c3 3.3 5.9 7.3 8.9 10.9c3 3.6 5.9 7.1 8.9 10.9c3 3.8 5.9 7.8 8.9 11.9c3 4.1 5.9 8.7 8.9 12.9c3 4.1 5.8 7.9 8.9 11.9c3.1 4 6.4 8.6 9.5 11.9c3.1 3.3 5.9 5.9 8.9 7.9c3 2 5.9 3.6 8.9 4c3 0.3 5.9-0.7 8.9-2c3-1.3 6.3-3.6 9.3-5.9c3-2.3 5.9-5.3 8.9-7.9c3-2.6 5.9-5.9 8.9-7.9c3-2 5.9-4 8.9-4c3 0 5.8 2.6 8.9 4c3.1 1.3 6.4 3.1 9.5 4c3.1 0.8 6 1 8.9 1c2.9 0 5.8-0.7 8.7-1M1704.6,1071.8c3.1 1.3 6.3 2.1 9.3 4c3 1.8 5.9 4.6 8.9 6.9c3 2.3 5.9 5 8.9 6.9c3 2 5.9 3.6 8.9 5c3 1.3 5.9 1.8 8.9 3c3 1.2 5.9 2.6 8.9 4c3 1.3 5.8 2.6 8.9 4c3.1 1.3 6.4 2.8 9.5 4c3.1 1.2 5.9 1.8 8.9 3c3 1.2 5.9 2.5 8.9 4c3 1.5 5.9 3.1 8.9 5c3 1.8 6.3 4 9.3 5.9c3 2 5.9 4.3 8.9 5.9c3 1.7 5.9 3 8.9 4c3 1 5.9 2.3 8.9 2c3-0.3 5.8-2.1 8.9-4c3.1-1.8 6.4-3.6 9.5-6.9c3.1-3.3 6-8.1 8.9-12.9c2.9-4.8 5.8-10.6 8.7-15.8M1715.8,1056.5c2.3 1.8 4.3 3.1 6.9 5.3c2.6 2.2 5.9 5.3 8.9 7.9c3 2.6 5.9 5.3 8.9 7.9c3 2.6 5.9 5.4 8.9 7.9c3 2.5 5.9 4.8 8.9 6.9c3 2.1 5.8 4.5 8.9 5.9c3.1 1.5 6.4 2.6 9.5 3c3.1 0.3 5.9-0.5 8.9-1c3-0.5 5.9-1.3 8.9-2c3-0.7 5.9-1.7 8.9-2c3-0.3 6.3-0.2 9.3 0c3 0.2 5.9 0.5 8.9 1c3 0.5 5.9 1.5 8.9 2c3 0.5 5.9 1 8.9 1c3 0 5.8-0.5 8.9-1c3.1-0.5 6.4-1.2 9.5-2c3.1-0.8 6-2.1 8.9-3c2.9-0.8 5.8-1.3 8.7-2M1731.7,1056.5c3 3.1 5.9 6.4 8.9 9.3c3 2.9 5.9 5.3 8.9 7.9c3 2.6 5.9 5.3 8.9 7.9c3 2.6 5.8 5.4 8.9 7.9c3.1 2.5 6.4 4.6 9.5 6.9c3.1 2.3 5.9 4.8 8.9 6.9c3 2.1 5.9 4 8.9 5.9c3 2 5.9 4 8.9 5.9c3 2 6.3 4.1 9.3 5.9c3 1.8 5.9 3.6 8.9 5c3 1.3 5.9 2.1 8.9 3c3 0.8 5.9 2 8.9 2c3 0 5.8-1 8.9-2c3.1-1 6.4-2.3 9.5-4c3.1-1.7 6-3.3 8.9-5.9c2.9-2.6 5.8-6.6 8.7-9.9M1759.4,1056.5c2.6 3.1 5 6.8 7.9 9.3c2.9 2.5 6.4 4.3 9.5 5.9c3.1 1.7 5.9 2.8 8.9 4c3 1.2 5.9 2.1 8.9 3c3 0.8 5.9 1.5 8.9 2c3 0.5 6.3 0.8 9.3 1c3 0.2 5.9 0.2 8.9 0c3-0.2 5.9-0.7 8.9-1c3-0.3 5.9-0.8 8.9-1c3-0.2 5.8-0.6 8.9-0.4c3.1 0.2 6.4 0.7 9.5 1.4c3.1 0.7 6 1.5 8.9 3c2.9 1.5 5.8 4 8.7 5.9M1779.2,1056.5c2.2 1.8 4 3.5 6.5 5.3c2.6 1.9 5.9 4.3 8.9 5.9c3 1.7 5.9 3 8.9 4c3 1 6.3 1.8 9.3 2c3 0.2 5.9-0.7 8.9-1c3-0.3 5.9-0.7 8.9-1c3-0.3 5.9-0.7 8.9-1c3-0.3 5.8-0.3 8.9-1c3.1-0.7 6.4-1.7 9.5-3c3.1-1.3 6-3.5 8.9-5c2.9-1.5 5.8-2.6 8.7-4M1789.1,1056.5c1.8 1.5 3.1 2.8 5.5 4.4c2.4 1.6 5.9 3.8 8.9 5c3 1.2 6.3 1.8 9.3 2c3 0.2 5.9-0.5 8.9-1c3-0.5 5.9-1.5 8.9-2c3-0.5 5.9-1 8.9-1c3 0 5.8 1.3 8.9 1c3.1-0.3 6.4-2 9.5-3c3.1-1 5.9-2 8.9-3M1805.0,1056.5c2.6 2.1 5.1 3.8 7.9 6.3c2.8 2.5 5.9 5.4 8.9 8.9c3 3.5 5.9 7.9 8.9 11.9c3 4 5.9 7.6 8.9 11.9c3 4.3 5.8 9.6 8.9 13.9c3.1 4.3 6.4 7.9 9.5 11.9c3.1 4 6 7.3 8.9 11.9c2.9 4.6 5.8 10.6 8.7 15.8M1759.4,1056.5c2.6 5.7 5 12.4 7.9 17.2c2.9 4.9 6.4 8.3 9.5 11.9c3.1 3.6 5.9 6.3 8.9 9.9c3 3.6 5.9 7.9 8.9 11.9c3 4 5.9 7.9 8.9 11.9c3 4 6.3 7.9 9.3 11.9c3 4 5.9 8.3 8.9 11.9c3 3.6 5.9 6.9 8.9 9.9c3 3 5.9 5.3 8.9 7.9c3 2.6 5.8 5.3 8.9 7.9c3.1 2.6 6.4 5.3 9.5 7.9c3.1 2.6 6 4.6 8.9 7.9c2.9 3.3 5.8 7.9 8.7 11.9M1704.6,1263.9c3.1 0.7 6.3 1 9.3 2c3 1 5.9 2.6 8.9 4c3 1.3 5.9 2.6 8.9 4c3 1.3 5.9 2.6 8.9 4c3 1.3 5.9 2.6 8.9 4c3 1.3 5.9 2.5 8.9 4c3 1.5 5.9 3.3 8.9 5M1818.8,1056.5c2.6 3.1 5.3 6.1 7.9 9.3c2.6 3.2 5.3 6.6 7.9 9.9c2.6 3.3 5.3 7.3 7.9 9.9c2.6 2.6 5.3 5.3 7.9 5.9c2.6 0.7 5.2-0.3 7.9-2c2.7-1.7 5.6-5.3 8.5-7.9c2.9-2.6 5.8-5.6 8.7-7.9c2.9-2.3 5.9-4 8.5-5.9c2.6-2 5-4.1 7.3-5.9c2.3-1.9 4.4-3.6 6.5-5.3M1875.6,1099.5c2.8 2.6 5.9 5.3 8.5 7.9c2.6 2.6 4.9 5.3 7.3 7.9c2.5 2.6 5 5.6 7.5 7.9c2.6 2.3 5.3 4.3 7.9 5.9c2.6 1.7 5.3 2.6 7.9 4c2.6 1.3 5.3 2.6 7.9 4c2.6 1.3 5.3 2.6 7.9 4c2.6 1.3 5 2.8 7.5 4c2.6 1.2 5.3 2 7.9 3c2.6 1 5.3 2.1 7.9 3c2.6 0.8 5.3 1.3 7.9 2c2.6 0.7 5.2 1.3 7.7 2c2.5 0.7 5 1.5 7.5 2c2.6 0.5 5.3 0.7 7.9 1c2.6 0.3 5.3 0.7 7.9 1c2.6 0.3 5.3 0.7 7.9 1c2.6 0.3 5.3 0.7 7.9 1c2.6 0.3 5.5 0.7 7.9 1c2.4 0.3 4.4 0.7 6.5 1M1875.6,1149.0c2.8 1.7 5.9 3.1 8.5 5c2.6 1.8 4.9 4.1 7.3 5.9c2.5 1.8 5 3.5 7.5 5c2.6 1.5 5.3 2.8 7.9 4c2.6 1.2 5.3 2 7.9 3c2.6 1 5.3 2 7.9 3c2.6 1 5.3 2.1 7.9 3c2.6 0.8 5 1.5 7.5 2c2.6 0.5 5.3 0.7 7.9 1c2.6 0.3 5.3 0.8 7.9 1c2.6 0.2 5.3 0.1 7.9 0c2.6-0.1 5.2-0.3 7.7-0.6c2.5-0.3 5-0.8 7.5-1.4c2.6-0.6 5.3-1.2 7.9-2c2.6-0.8 5.3-2 7.9-3c2.6-1 5.3-2 7.9-3c2.6-1 5.3-2 7.9-3c2.6-1 5.5-2 7.9-3c2.4-1 4.4-2 6.5-3M1875.6,1099.5c2.8-1.3 5.9-2.3 8.5-4c2.6-1.7 4.9-4 7.3-5.9c2.5-2 5-4 7.5-5.9c2.6-2 5.3-4 7.9-5.9c2.6-2 5.3-4.1 7.9-5.9c2.6-1.8 5.3-3.3 7.9-5c2.6-1.7 5.3-3.5 7.9-5c2.6-1.5 5.7-3 7.5-4c1.8-1 2.2-1.3 3.4-2M1875.6,1092.6c2.8-1.3 5.9-3.1 8.5-4c2.6-0.8 4.9-1.2 7.3-1c2.5 0.2 5 0.8 7.5 2c2.6 1.2 5.3 2.8 7.9 5c2.6 2.1 5.3 5.4 7.9 7.9c2.6 2.5 5.3 4.8 7.9 6.9c2.6 2.1 5.3 4 7.9 5.9c2.6 2 5 4.3 7.5 5.9c2.6 1.7 5.3 2.8 7.9 4c2.6 1.2 5.3 2 7.9 3c2.6 1 5.3 2 7.9 3c2.6 1 5.2 2 7.7 3c2.5 1 5 1.8 7.5 3c2.6 1.2 5.3 2.6 7.9 4c2.6 1.3 5.3 2.5 7.9 4c2.6 1.5 5.3 3.3 7.9 5c2.6 1.7 5.3 3.5 7.9 5c2.6 1.5 5.5 2.6 7.9 4c2.4 1.3 4.4 2.6 6.5 4M1875.6,1149.0c2.8-2 5.9-4 8.5-5.9c2.6-2 4.9-4.3 7.3-5.9c2.5-1.7 5-3.1 7.5-4c2.6-0.8 5.3-1.3 7.9-1c2.6 0.3 5.3 1.7 7.9 3c2.6 1.3 5.3 3.6 7.9 5c2.6 1.3 5.3 2.6 7.9 3c2.6 0.3 5-0.2 7.5-1c2.6-0.8 5.3-2.5 7.9-4c2.6-1.5 5.3-3.3 7.9-5c2.6-1.7 5.3-3.3 7.9-5c2.6-1.7 5.2-3.3 7.7-5c2.5-1.7 5-3.1 7.5-5c2.6-1.8 5.3-3.8 7.9-5.9c2.6-2.1 5.3-4.5 7.9-6.9c2.6-2.5 5.3-5.3 7.9-7.9c2.6-2.6 5.3-5.9 7.9-7.9c2.6-2 5.5-4 7.9-4c2.4 0 4.4 2.6 6.5 4M1875.6,1196.5c2.8-0.7 5.9-1.3 8.5-2c2.6-0.7 4.9-1.3 7.3-2c2.5-0.7 5-1.5 7.5-2c2.6-0.5 5.3-0.7 7.9-1c2.6-0.3 5.3-0.5 7.9-1c2.6-0.5 5.3-1 7.9-2c2.6-1 5.3-2.3 7.9-4c2.6-1.7 5-3.8 7.5-5.9c2.6-2.1 5.3-4.3 7.9-6.9c2.6-2.6 5.3-5.8 7.9-8.9c2.6-3.1 5.3-6.4 7.9-9.9c2.6-3.5 5.2-7.3 7.7-10.9c2.5-3.6 5-7.1 7.5-10.9c2.6-3.8 5.3-7.8 7.9-11.9c2.6-4.1 5.3-8.3 7.9-12.9c2.6-4.6 5.3-10.1 7.9-14.9c2.6-4.8 5.3-10.2 7.9-13.9c2.6-3.6 5.5-5.9 7.9-7.9c2.4-2 4.2-2.8 6.5-4c2.3-1.2 4.9-2 7.3-3M1875.6,1204.5c2.8-0.7 5.9-1.3 8.5-2c2.6-0.7 4.9-1 7.3-2c2.5-1 5-2.6 7.5-4c2.6-1.3 5.3-2.6 7.9-4c2.6-1.3 5.3-5.6 7.9-4c2.6 1.7 5.3 9.6 7.9 13.9c2.6 4.3 5.3 7.6 7.9 11.9c2.6 4.3 5 9.6 7.5 13.9c2.6 4.3 5.3 7.6 7.9 11.9c2.6 4.3 5.3 9.9 7.9 13.9c2.6 4 5.3 6.9 7.9 9.9c2.6 3 5.2 5.3 7.7 7.9c2.5 2.6 5 5.3 7.5 7.9c2.6 2.6 5.9 5.8 7.9 7.9c2 2.1 2.6 3.3 4 5M1875.6,1206.4c2.8 1.3 5.9 2.3 8.5 4c2.6 1.7 4.9 4 7.3 5.9c2.5 2 5 4 7.5 5.9c2.6 2 5.3 4.1 7.9 5.9c2.6 1.8 5.3 3.5 7.9 5c2.6 1.5 5.3 2.8 7.9 4c2.6 1.2 5.3 2 7.9 3c2.6 1 5 2 7.5 3c2.6 1 5.3 2 7.9 3c2.6 1 5.3 2.2 7.9 3c2.6 0.7 5.3 1.1 7.9 1.4c2.6 0.3 5.2 0.5 7.7 0.6c2.5 0.1 5 0 7.5 0c2.6 0 5.3 0.2 7.9 0c2.6-0.2 5.3-0.7 7.9-1c2.6-0.3 5.3-0.5 7.9-1c2.6-0.5 5.3-1.5 7.9-2c2.6-0.5 5.5-0.7 7.9-1c2.4-0.3 4.4-0.7 6.5-1M1875.6,1219.3c2.8 1 5.9 2 8.5 3c2.6 1 4.9 2 7.3 3c2.5 1 5 2 7.5 3c2.6 1 5.3 1.8 7.9 3c2.6 1.2 5.3 2.6 7.9 4c2.6 1.3 5.3 2.8 7.9 4c2.6 1.2 5.3 2 7.9 3c2.6 1 5 2.1 7.5 3c2.6 0.8 5.3 1.3 7.9 2c2.6 0.7 5.3 1.3 7.9 2c2.6 0.7 5.3 1.5 7.9 2c2.6 0.5 5.2 0.8 7.7 1c2.5 0.2 5 0.3 7.5 0.4c2.6 0.1 5.3 0.1 7.9 0c2.6-0.1 5.3-0.2 7.9-0.4c2.6-0.2 5.3-0.5 7.9-1c2.6-0.5 5.3-1.3 7.9-2c2.6-0.7 5.5-1.5 7.9-2c2.4-0.5 4.4-0.7 6.5-1M1875.6,1057.9c2.8 1.3 5.9 2.6 8.5 4c2.6 1.3 4.9 2.6 7.3 4c2.5 1.3 5 2.6 7.5 4c2.6 1.3 5.3 2.5 7.9 4c2.6 1.5 5.3 3.5 7.9 5c2.6 1.5 5.3 2.8 7.9 4c2.6 1.2 5.3 2.1 7.9 3c2.6 0.8 5 1.3 7.5 2c2.6 0.7 5.3 1.3 7.9 2c2.6 0.7 5.3 1.5 7.9 2c2.6 0.5 5.3 0.8 7.9 1c2.6 0.2 5.2 0.2 7.7 0c2.5-0.2 5-0.7 7.5-1c2.6-0.3 5.3-0.7 7.9-1c2.6-0.3 5.3-0.8 7.9-1c2.6-0.2 5.3 0 7.9 0c2.6 0 5.3 0 7.9 0c2.6 0 5.5 0 7.9 0c2.4 0 4.4 0 6.5 0M1898.0,1057.9c3 1.3 6.1 2.6 8.9 4c2.8 1.3 5.3 2.6 7.9 4c2.6 1.3 5.3 2.6 7.9 4c2.6 1.3 5.3 2.8 7.9 4c2.6 1.2 5 2 7.5 3c2.6 1 5.3 2.1 7.9 3c2.6 0.8 5.3 1.3 7.9 2c2.6 0.7 5.3 1.5 7.9 2c2.6 0.5 5.2 0.7 7.7 1c2.5 0.3 5 0.7 7.5 1c2.6 0.3 5.3 0.7 7.9 1c2.6 0.3 5.3 0.7 7.9 1c2.6 0.3 5.3 0.8 7.9 1c2.6 0.2 5.3-0.1 7.9 0c2.6 0.1 5.5 0.4 7.9 0.6c2.4 0.2 4.4 0.3 6.5 0.4M1930.7,1162.9c2.5-2.6 5-5.6 7.5-7.9c2.6-2.3 5.3-4.3 7.9-5.9c2.6-1.7 5.3-3 7.9-4c2.6-1 5.3-1.8 7.9-2c2.6-0.2 5.2 0.3 7.7 1c2.5 0.7 5 2 7.5 3c2.6 1 5.3 2 7.9 3c2.6 1 5.3 2.1 7.9 3c2.6 0.8 5.3 1.3 7.9 2c2.6 0.7 5.3 1.3 7.9 2c2.6 0.7 5.5 1.3 7.9 2c2.4 0.7 4.4 1.3 6.5 2M1904.0,1133.2c3.6 3.6 7.8 7.6 10.9 10.9c3.1 3.3 5.3 6.1 7.9 8.9c2.6 2.8 5.3 5 7.9 7.9c2.6 3 5 6.4 7.5 9.9c2.6 3.5 5.3 7.6 7.9 10.9c2.6 3.3 5.3 5.9 7.9 8.9c2.6 3 5.3 6.1 7.9 8.9c2.6 2.8 5.2 5.4 7.7 7.9c2.5 2.5 5 4.8 7.5 6.9c2.6 2.1 5.3 4.3 7.9 5.9c2.6 1.7 5.3 2.6 7.9 4c2.6 1.3 5.3 2.6 7.9 4c2.6 1.3 5.3 2.5 7.9 4c2.6 1.5 5.5 3.5 7.9 5c2.4 1.5 4.4 2.6 6.5 4M1911.9,1188.6c3.6 3 7.8 5.9 10.9 8.9c3.1 3 5.3 6.1 7.9 8.9c2.6 2.8 5 5.6 7.5 7.9c2.6 2.3 5.3 4.3 7.9 5.9c2.6 1.7 5.3 2.8 7.9 4c2.6 1.2 5.3 2.1 7.9 3c2.6 0.8 5.2 1.3 7.7 2c2.5 0.7 5 1.3 7.5 2c2.6 0.7 5.3 1.3 7.9 2c2.6 0.7 5.3 1.2 7.9 2c2.6 0.8 5.3 2 7.9 3c2.6 1 5.3 2 7.9 3c2.6 1 5.5 2.1 7.9 3c2.4 0.8 4.4 1.3 6.5 2M1946.1,1248.0c1.1-1 1.5-1.7 3.4-3c1.9-1.3 5.3-3.1 7.9-5c2.6-1.8 5.3-4 7.9-5.9c2.6-2 5.3-4 7.9-5.9c2.6-2 5.3-3.6 7.9-5.9c2.6-2.3 5.3-5 7.9-7.9c2.6-3 5.3-6.3 7.9-9.9c2.6-3.6 5.3-7.9 7.9-11.9c2.6-4 5.3-7.9 7.9-11.9c2.6-4 6.2-9.1 7.9-11.9c1.7-2.8 1.7-3.3 2.6-5M1922.8,1204.5c2.6 4 5.3 7.9 7.9 11.9c2.6 4 5 7.9 7.5 11.9c2.6 4 5.3 7.9 7.9 11.9c2.6 4 5.3 8.1 7.9 11.9c2.6 3.8 5.3 7.3 7.9 10.9c2.6 3.6 5.2 7.8 7.7 10.9c2.5 3.1 4.6 4.3 7.5 7.9c2.9 3.6 6.6 9.2 9.9 13.9M1947.5,1056.5c2.2 1.8 4.1 3.8 6.5 5.3c2.4 1.6 5.3 2.6 7.9 4c2.6 1.3 5.2 2.6 7.7 4c2.5 1.3 5 2.3 7.5 4c2.6 1.7 5.3 4.1 7.9 5.9c2.6 1.8 5.3 3.6 7.9 5c2.6 1.3 5.3 2.1 7.9 3c2.6 0.8 5.3 1.5 7.9 2c2.6 0.5 5.5 1 7.9 1c2.4 0 4.4-0.7 6.5-1M1957.4,1056.5c2 1.8 3.9 2.8 5.9 5.3c2 2.5 4 6.9 6.3 9.9c2.3 3 5 7.6 7.5 7.9c2.6 0.3 5.3-3.6 7.9-5.9c2.6-2.3 5.3-5.6 7.9-7.9c2.6-2.3 5.6-4.4 7.9-5.9c2.3-1.6 4-2.2 5.9-3.4M2023.4,1089.6c2.1 2.6 4.1 5.3 6.3 7.9c2.2 2.6 4.5 5 6.9 7.9c2.5 3 5.3 6.6 7.9 9.9c2.6 3.3 5.3 6.9 7.9 9.9c2.6 3 5.4 5.3 7.9 7.9c2.5 2.6 4.8 6.3 6.9 7.9c2.1 1.7 4 2.6 5.9 2c2-0.7 4-3 5.9-5.9c2-3 4-7.9 5.9-11.9c2-4 4-7.6 5.9-11.9c2-4.3 3.8-9.2 5.9-13.9c2.1-4.6 4.9-9.2 6.9-13.9c2.1-4.6 3.7-9.2 5.5-13.9M2023.4,1089.6c2.1-3.3 4.1-6.9 6.3-9.9c2.2-3 4.5-5.6 6.9-7.9c2.5-2.3 5.3-4.6 7.9-5.9c2.6-1.3 5.3-2 7.9-2c2.6 0 5.4 1.2 7.9 2c2.5 0.8 4.8 2.3 6.9 3c2.1 0.7 4 0.8 5.9 1c2 0.2 4 0.1 5.9 0c2-0.1 4-0.2 5.9-0.4c2-0.2 4-0.5 5.9-0.6c2-0.1 3.8-0.2 5.9 0c2.1 0.2 4.9 0.5 6.9 1c2.1 0.5 3.7 1.3 5.5 2M2023.4,1162.9c2.1-4 4.1-7.6 6.3-11.9c2.2-4.3 4.5-9.2 6.9-13.9c2.5-4.6 5.3-9.2 7.9-13.9c2.6-4.6 5.3-9.6 7.9-13.9c2.6-4.3 5.4-7.6 7.9-11.9c2.5-4.3 4.8-9.6 6.9-13.9c2.1-4.3 4-7.9 5.9-11.9c2-4 4.3-8.9 5.9-11.9c1.7-3 2.6-4 4-5.9M2023.4,1162.9c2.1 2.6 4.1 5.3 6.3 7.9c2.2 2.6 4.5 5.6 6.9 7.9c2.5 2.3 5.9 4.6 7.9 5.9c2 1.3 2.3 3.3 4 2c1.7-1.3 4-6.3 5.9-9.9c2-3.6 3.8-7.9 5.9-11.9c2.1-4 4.8-9.4 6.9-11.9c2.1-2.5 4-3 5.9-3c2 0 4 1.7 5.9 3c2 1.3 4 3.3 5.9 5c2 1.7 4 3.5 5.9 5c2 1.5 3.8 2.6 5.9 4c2.1 1.3 4.9 2.8 6.9 4c2.1 1.2 3.7 2 5.5 3M2023.4,1246.0c2.1 0.7 4.1 1.5 6.3 2c2.2 0.5 4.5 0.7 6.9 1c2.5 0.3 5.3 0.5 7.9 0.6c2.6 0.1 5.3 0 7.9 0c2.6 0 5.4 0 7.9 0c2.5 0 4.8 0 6.9 0c2.1 0 4 0 5.9 0c2 0 4 0 5.9 0c2 0 4 0 5.9 0c2 0 4 0 5.9 0c2 0 3.8 0.1 5.9 0c2.1-0.1 4.9-0.3 6.9-0.6c2.1-0.3 3.7-0.7 5.5-1M2023.4,1246.0c2.1-3.6 4.1-7.6 6.3-10.9c2.2-3.3 4.5-6.3 6.9-8.9c2.5-2.6 5.3-4.6 7.9-6.9c2.6-2.3 5.3-5.1 7.9-6.9c2.6-1.8 5.4-2.8 7.9-4c2.5-1.2 4.8-2 6.9-3c2.1-1 4-2.1 5.9-3c2-0.8 4-1.4 5.9-2c2-0.6 4-1.1 5.9-1.6c2-0.5 4-1.1 5.9-1.4c2-0.3 3.8-0.4 5.9-0.6c2.1-0.2 4.9-0.3 6.9-0.4c2.1-0.1 3.7-0.3 5.5-0.4M2023.4,1245.0c2.1-6.9 4.1-15.3 6.3-20.8c2.2-5.4 4.5-8.6 6.9-11.9c2.5-3.3 5.3-6.3 7.9-7.9c2.6-1.7 5.3-2.6 7.9-2c2.6 0.7 5.4 3.3 7.9 5.9c2.5 2.6 4.8 6.9 6.9 9.9c2.1 3 4 5.6 5.9 7.9c2 2.3 4 4 5.9 5.9c2 2 4 4.3 5.9 5.9c2 1.7 4 2.8 5.9 4c2 1.2 3.8 2.1 5.9 3c2.1 0.8 4.9 1.5 6.9 2c2.1 0.5 3.7 0.7 5.5 1M2023.4,1246.0c2.1 0.7 4.1 3 6.3 2c2.2-1 4.5-5 6.9-7.9c2.5-3 5.3-6.6 7.9-9.9c2.6-3.3 5.3-6.6 7.9-9.9c2.6-3.3 5.4-7.3 7.9-9.9c2.5-2.6 4.8-4.3 6.9-5.9c2.1-1.7 4-2.5 5.9-4c2-1.5 4-3.5 5.9-5c2-1.5 4-2.5 5.9-4c2-1.5 4-3.5 5.9-5c2-1.5 3.8-2.5 5.9-4c2.1-1.5 4.9-3.5 6.9-5c2.1-1.5 3.7-2.6 5.5-4M2023.4,1162.9c2.1 3.3 4.1 6.3 6.3 9.9c2.2 3.6 4.5 7.9 6.9 11.9c2.5 4 5.3 8.3 7.9 11.9c2.6 3.6 5.3 6.6 7.9 9.9c2.6 3.3 5.4 6.9 7.9 9.9c2.5 3 4.8 5.6 6.9 7.9c2.1 2.3 4 4.1 5.9 5.9c2 1.8 4 3.5 5.9 5c2 1.5 4 2.8 5.9 4c2 1.2 4 2.1 5.9 3c2 0.9 3.8 1.7 5.9 2.4c2.1 0.7 4.9 1.2 6.9 1.6c2.1 0.4 3.7 0.7 5.5 1M2023.4,1266.8c2.1-0.7 4.1-1.5 6.3-2c2.2-0.5 4.5-0.8 6.9-1c2.5-0.2 5.3-0.3 7.9-0.4c2.6-0.1 5.3 0 7.9 0c2.6 0 5.4 0 7.9 0c2.5 0 4.8 0 6.9 0c2.1 0 4-0.1 5.9 0c2 0.1 4 0.3 5.9 0.4c2 0.1 4 0 5.9 0c2 0 4 0 5.9 0c2 0 3.8 0 5.9 0c2.1 0 4.9 0 6.9 0c2.1 0 3.7 0 5.5 0M1977.2,1295.5c4-4.6 8.6-10.6 11.9-13.9c3.3-3.3 5.3-4.1 7.9-5.9c2.6-1.8 5.3-3.6 7.9-5c2.6-1.3 5.3-2.2 7.9-3c2.6-0.8 6.2-1.4 7.9-1.6c1.7-0.2 1.7 0.4 2.6 0.6M2023.4,1266.8c2.1 1.3 4.1 2.5 6.3 4c2.2 1.5 4.5 3.1 6.9 5c2.5 1.8 5.3 4 7.9 5.9c2.6 2 5.3 3.6 7.9 5.9c2.6 2.3 5.3 5.3 7.9 7.9M2048.5,1295.5c4-4 8.7-9.1 11.9-11.9c3.1-2.8 4.8-3.5 6.9-5c2.1-1.5 4-2.6 5.9-4c2-1.3 4-2.8 5.9-4c2-1.2 4-2.1 5.9-3c2-0.8 4-1.6 5.9-2c2-0.4 3.8-0.2 5.9-0.4c2.1-0.2 4.9-0.4 6.9-0.6c2.1-0.2 3.7-0.3 5.5-0.4M2023.4,1063.9c2.1-0.7 4.1-1.5 6.3-2c2.2-0.5 4.5-0.7 6.9-1c2.5-0.3 5.3-0.5 7.9-1c2.6-0.5 5.3-1.3 7.9-2c2.6-0.7 5.3-1.3 7.9-2M2064.4,1056.5c2 1.8 4 3.1 5.9 5.3c2 2.2 4 5.9 5.9 7.9c2 2 4 3.8 5.9 4c2 0.2 4-2 5.9-3c2-1 4-2.6 5.9-3c2-0.3 3.4 0.3 5.9 1c2.6 0.7 6.3 2 9.5 3M1704.6,1351.2c3.1 1.2 6.3 2.2 9.3 3.6c3 1.3 5.9 2.7 8.9 4.4c3 1.7 5.9 3.6 8.9 5.5c3 2 5.9 4.1 8.9 6.3c3 2.2 5.9 4.7 8.9 6.9c3 2.2 5.9 4.3 8.9 6.5c3 2.2 5.8 4.4 8.9 6.7c3.1 2.3 6.4 4.8 9.5 7.1c3.1 2.3 5.9 4.6 8.9 6.7c3 2.1 5.9 4.4 8.9 5.9c3 1.5 5.9 2.6 8.9 3.2c3 0.5 6.3 0.3 9.3 0c3-0.3 5.9-1.1 8.9-1.6c3-0.5 5.9-1.3 8.9-1.6c3-0.3 5.9-0.6 8.9-0.4c3 0.2 5.8 0.7 8.9 1.6c3.1 0.9 6.4 2.7 9.5 4c3.1 1.2 6 2.3 8.9 3.4c2.9 1.1 5.8 2.8 8.7 3c2.9 0.2 5.9-1 8.5-2c2.6-1 4.9-2.4 7.3-4c2.5-1.6 5-3.7 7.5-5.5c2.6-1.8 5.3-3.8 7.9-5.3c2.6-1.6 5.3-2.7 7.9-4c2.6-1.2 5.3-1.6 7.9-3.4c2.6-1.8 5.3-5.2 7.9-7.5c2.6-2.3 5-4.4 7.5-6.3c2.6-2 5.3-3.8 7.9-5.5c2.6-1.7 5.3-3.2 7.9-5c2.6-1.7 5.3-3.7 7.9-5.5c2.6-1.8 5.2-3.6 7.7-5.3c2.5-1.7 5-3.3 7.5-5c2.6-1.7 5.3-3.5 7.9-5c2.6-1.5 5.3-2.7 7.9-4c2.6-1.3 5.3-2.6 7.9-3.6c2.6-0.9 5.3-1.3 7.9-2c2.6-0.7 5.5-1.6 7.9-2c2.4-0.4 4.4-0.3 6.5-0.4M1875.6,1422.5c2.8-1 5.9-1.2 8.5-3c2.6-1.8 4.9-5.4 7.3-7.9c2.5-2.5 5-4.6 7.5-6.9c2.6-2.3 5.3-5.1 7.9-6.9c2.6-1.8 5.3-2.8 7.9-4c2.6-1.2 5.3-2 7.9-3c2.6-1 5.3-1.7 7.9-3c2.6-1.3 5-3 7.5-4.6M1704.6,1274.4c3.1 0.9 6.3 1.5 9.3 2.6c3 1.1 5.9 2.5 8.9 4c3 1.4 5.9 3.1 8.9 4.6c3 1.5 5.9 2.9 8.9 4.4c3 1.5 5.9 2.8 8.9 4.4c3 1.6 5.9 3.6 8.9 5.1c3 1.6 5.8 3.2 8.9 4.4c3.1 1.1 6.4 1.7 9.5 2.4c3.1 0.7 5.9 1 8.9 2c3 1 5.9 2.4 8.9 4c3 1.5 5.9 3.3 8.9 5.1c3 1.8 6.3 3.9 9.3 5.9c3 2 5.9 4.1 8.9 6.3c3 2.2 5.9 4.7 8.9 6.9c3 2.2 5.9 4.3 8.9 6.5c3 2.2 5.8 4.5 8.9 6.7c3.1 2.2 6.4 4.5 9.5 6.5c3.1 2.1 6 4.2 8.9 5.9c2.9 1.7 5.8 4.4 8.7 4.6c2.9 0.2 5.9-2.2 8.5-3.6c2.6-1.3 4.9-2.7 7.3-4.4c2.5-1.7 5-3.6 7.5-5.5c2.6-2 5.3-4.3 7.9-6.3c2.6-2 5.3-3.9 7.9-5.9c2.6-2.1 5.3-4.5 7.9-6.5c2.6-2.1 5.3-3.9 7.9-5.9c2.6-2.1 5-4.4 7.5-6.5c2.6-2.1 5.3-4.2 7.9-6.3c2.6-2.1 5.3-4.2 7.9-6.3c2.6-2.1 5.3-4.3 7.9-6.5c2.6-2.2 5.2-4.8 7.7-6.9c2.5-2.1 5-4 7.5-5.9c2.6-1.9 5.3-3.7 7.9-5.5c2.6-1.8 5.3-3.7 7.9-5.3c2.6-1.7 5.3-3.2 7.9-4.6c2.6-1.3 5.3-2.1 7.9-3.4c2.6-1.2 5.3-2.6 7.9-4M1704.6,1276.3c3.1 1.5 6.3 3.1 9.3 4.6c3 1.4 5.9 2.5 8.9 4c3 1.5 5.9 3.4 8.9 5c3 1.6 5.9 2.7 8.9 4.4c3 1.7 5.9 3.5 8.9 5.5c3 2.1 5.9 4.8 8.9 6.9c3 2.1 5.8 3.6 8.9 5.9c3.1 2.3 6.4 5.1 9.5 7.9c3.1 2.8 5.9 5.8 8.9 8.9c3 3.1 5.9 6.6 8.9 9.9c3 3.3 5.9 6.6 8.9 9.9c3 3.3 6.3 6.8 9.3 9.9c3 3.1 5.9 6.8 8.9 8.9c3 2.1 5.9 3 8.9 4c3 1 5.9 1.4 8.9 2c3 0.6 5.8 1.2 8.9 1.4c3.1 0.2 6.4 0.2 9.5-0.4c3.1-0.6 6-1.6 8.9-3c2.9-1.4 5.8-5.3 8.7-5.3c2.9 0 5.9 4 8.5 5.3c2.6 1.4 4.9 2.3 7.3 3c2.5 0.7 5 1.2 7.5 1c2.6-0.2 5.3-0.8 7.9-2c2.6-1.2 5.3-2.8 7.9-5c2.6-2.1 5.3-5.2 7.9-7.9c2.6-2.7 5.3-5.4 7.9-8.3c2.6-2.9 5-6 7.5-9.1c2.6-3.1 5.3-6.3 7.9-9.3c2.6-3 5.3-5.9 7.9-8.9c2.6-3 5.3-6.1 7.9-8.9c2.6-2.8 5.2-5.4 7.7-7.9c2.5-2.5 5-4.7 7.5-6.9c2.6-2.2 5.3-4.4 7.9-6.3c2.6-2 5.3-3.8 7.9-5.5c2.6-1.7 5.3-3.1 7.9-5c2.6-1.8 5.3-4.1 7.9-5.9c2.6-1.8 5.5-3.6 7.9-5c2.4-1.3 4.4-2 6.5-3M1704.6,1318.5c3.1-0.3 6.3-0.4 9.3-1c3-0.6 5.9-1.5 8.9-2.4c3-0.9 5.9-2.1 8.9-3.2c3-1.1 5.9-2.1 8.9-3.4c3-1.2 5.9-1.7 8.9-4c3-2.3 5.9-6.6 8.9-9.9c3-3.3 5.8-6.9 8.9-9.9c3.1-3 6.9-5.6 9.5-7.9c2.6-2.3 4.2-4 6.3-5.9M1704.6,1320.5c3.1-0.5 6.3-0.7 9.3-1.4c3-0.7 5.9-1.6 8.9-2.6c3-1 5.9-2.2 8.9-3.4c3-1.2 5.9-2.5 8.9-3.6c3-1.1 5.9-1.5 8.9-3c3-1.5 5.9-3.8 8.9-5.9c3-2.1 5.8-5 8.9-6.9c3.1-2 6.4-3.3 9.5-5c3.1-1.7 5.9-3.1 8.9-5c3-1.8 5.9-3.8 8.9-5.9c3-2.1 5.9-4.6 8.9-6.9M1704.6,1322.5c3.1-0.6 6.3-1.1 9.3-1.8c3-0.7 5.9-1.5 8.9-2.4c3-0.9 5.9-2 8.9-3.2c3-1.2 5.9-2.8 8.9-4c3-1.2 5.9-2.2 8.9-3.2c3-1 5.9-2.4 8.9-2.8c3-0.4 5.8-0.3 8.9 0.4c3.1 0.7 6.4 2.8 9.5 4c3.1 1.2 5.9 2 8.9 3M1704.6,1446.2c3.1-1.3 6.3-2.6 9.3-4c3-1.3 5.9-2.7 8.9-4c3-1.3 5.9-2.5 8.9-3.6c3-1.1 5.9-2 8.9-2.8c3-0.8 5.9-1.4 8.9-2c3-0.6 5.9-1.2 8.9-1.6c3-0.4 5.8-0.7 8.9-1c3.1-0.3 6.4-0.6 9.5-1c3.1-0.4 5.9-0.7 8.9-1.4c3-0.7 5.9-2.1 8.9-2.6c3-0.5 5.9-1.1 8.9-0.4c3 0.7 6.3 2.9 9.3 4.4c3 1.5 5.9 3.3 8.9 4.4c3 1.1 5.9 1.6 8.9 2c3 0.4 5.9 0.5 8.9 0.6c3 0.1 5.8 0.1 8.9 0c3.1-0.1 6.4-0.4 9.5-0.6c3.1-0.2 6-0.6 8.9-0.4c2.9 0.2 5.8 1.7 8.7 1.6c2.9-0.2 5.9-2.3 8.5-2.6c2.6-0.3 4.9 0.8 7.3 1c2.5 0.2 5 0.4 7.5 0.4c2.6 0 5.3-0.2 7.9-0.4c2.6-0.2 5.3-0.6 7.9-1c2.6-0.4 5.3-0.8 7.9-1.4c2.6-0.6 5.3-1.4 7.9-2c2.6-0.6 5-1.1 7.5-1.6c2.6-0.5 5.3-1.1 7.9-1.6c2.6-0.5 5.3-0.9 7.9-1.4c2.6-0.5 5.3-1 7.9-1.4c2.6-0.4 5.2-0.8 7.7-1.2c2.5-0.4 5-1 7.5-1.4c2.6-0.4 5.3-0.8 7.9-1c2.6-0.2 5.3-0.3 7.9-0.4c2.6-0.1 5.3 0 7.9 0c2.6 0 5.3-0.1 7.9 0c2.6 0.1 5.5 0.3 7.9 0.4c2.4 0.1 4.4 0.3 6.5 0.4M1704.6,1448.2c3.1-1.5 6.3-3 9.3-4.4c3-1.4 5.9-2.8 8.9-4c3-1.2 5.9-2.2 8.9-3.2c3-1 5.9-2 8.9-2.8c3-0.8 5.9-1.5 8.9-2c3-0.5 5.9-1.1 8.9-1.2c3-0.1 5.8 0.3 8.9 0.6c3.1 0.3 6.4 0.8 9.5 1c3.1 0.2 5.9 0.2 8.9 0.4c3 0.2 5.9 0.4 8.9 0.6c3 0.2 5.9 0.2 8.9 0.6c3 0.4 6.3 1.3 9.3 2c3 0.7 5.9 1.5 8.9 2.4c3 0.9 5.9 1.8 8.9 3c3 1.2 5.9 2.6 8.9 4c3 1.3 5.8 3.1 8.9 4c3.1 0.9 6.4 2.5 9.5 1.4c3.1-1.2 6-5.5 8.9-8.3c2.9-2.8 5.8-8.3 8.7-8.3c2.9 0 5.9 5.6 8.5 8.3c2.6 2.7 4.9 5.4 7.3 7.9c2.5 2.5 5 4.7 7.5 6.9c2.6 2.2 5.3 4.4 7.9 6.5c2.6 2.1 5.3 4 7.9 6.3c2.6 2.4 5.3 5.4 7.9 7.9c2.6 2.5 5.3 4.7 7.9 6.9c2.6 2.2 5 4.5 7.5 6.5c2.6 2.1 5.3 4 7.9 5.9c2.6 2 5.3 4 7.9 5.9c2.6 2 5.3 4 7.9 5.9c2.6 2 4.9 3.4 7.7 5.9c2.9 2.5 6.3 6.2 9.5 9.3M1821.8,1475.9c3 0.1 5.9 0.2 8.9 0.4c3 0.2 5.9 0.6 8.9 0.6c3 0 5.8-0.3 8.9-0.6c3.1-0.3 6.4-0.7 9.5-1.4c3.1-0.7 6-1.5 8.9-3c2.9-1.5 5.8-4.1 8.7-5.9c2.9-1.8 5.9-3.3 8.5-5c2.6-1.7 4.9-3.5 7.3-5c2.5-1.5 5-3 7.5-4c2.6-0.9 5.3-1.3 7.9-1.6c2.6-0.3 5.3-0.3 7.9 0c2.6 0.3 5.3 1 7.9 1.6c2.6 0.6 5.3 1.3 7.9 2c2.6 0.7 5 1 7.5 2c2.6 1 5.3 2.3 7.9 4c2.6 1.7 5.3 4 7.9 5.9c2.6 2 5.3 4 7.9 5.9c2.6 2 5.2 3.8 7.7 5.9c2.5 2.1 5 4.5 7.5 6.9c2.6 2.5 5.3 5.3 7.9 7.9c2.6 2.6 5.3 5.3 7.9 7.9c2.6 2.6 5.3 5.3 7.9 7.9c2.6 2.6 5.3 5.3 7.9 7.9c2.6 2.6 5.3 5.3 7.9 7.9M1830.7,1473.0c3-1.3 5.9-2.1 8.9-4c3-1.8 5.8-4.9 8.9-6.9c3.1-2.1 6.4-5.2 9.5-5.5c3.1-0.3 6 2 8.9 3.6c2.9 1.6 5.8 4.1 8.7 5.9c2.9 1.8 5.9 3.6 8.5 5c2.6 1.3 4.9 2.3 7.3 3c2.5 0.7 5 1.2 7.5 1c2.6-0.2 5.3-1.5 7.9-2c2.6-0.5 5.3-2 7.9-1c2.6 1 5.3 4.6 7.9 6.9c2.6 2.3 5.3 4.8 7.9 6.9c2.6 2.1 5 4 7.5 5.9c2.6 2 5.3 4 7.9 5.9c2.6 2 5.3 4 7.9 5.9c2.6 2 5.3 4 7.9 5.9c2.6 2 4.9 3.5 7.7 5.9c2.9 2.5 6.3 5.9 9.5 8.9M1891.5,1454.2c2.5-0.8 5-1.6 7.5-2.4c2.6-0.8 5.3-2 7.9-2.6c2.6-0.6 5.3-1.3 7.9-1c2.6 0.3 5.3 2 7.9 3c2.6 1 5.3 2.5 7.9 3c2.6 0.5 5 0.8 7.5 0c2.6-0.8 5.3-3.3 7.9-5c2.6-1.7 5.3-3.4 7.9-5c2.6-1.6 5.3-3 7.9-4.4c2.6-1.4 5.2-2.7 7.7-4c2.5-1.3 5-2.5 7.5-3.6c2.6-1.1 5.3-2 7.9-3c2.6-1 5.3-2 7.9-3c2.6-1 5.3-2 7.9-3c2.6-0.9 5.3-1.9 7.9-2.6c2.6-0.7 5.5-1.1 7.9-1.4c2.4-0.3 4.4-0.4 6.5-0.6M1704.6,1511.6c3.1-1.3 6.3-2.5 9.3-4c3-1.5 5.9-3.3 8.9-5c3-1.7 5.9-3.8 8.9-5c3-1.2 5.9-0.7 8.9-2c3-1.3 5.9-4.1 8.9-5.9c3-1.8 5.9-3.5 8.9-5c3-1.5 5.8-2.8 8.9-4c3.1-1.2 6.4-2.1 9.5-3c3.1-0.8 5.9-1.4 8.9-2c3-0.6 5.9-1.2 8.9-1.6c3-0.4 5.9-0.7 8.9-0.8c3-0.1 6.3-0.1 9.3 0c3 0.1 5.9 0.4 8.9 0.4c3 0 5.9-0.3 8.9-0.4M1704.6,1518.5c3.1-1.1 6.3-1.9 9.3-3.4c3-1.5 5.9-3.8 8.9-5.5c3-1.7 5.9-3.5 8.9-5c3-1.5 5.9-2.1 8.9-4c3-1.8 5.9-4.8 8.9-6.9c3-2.1 5.9-4.5 8.9-5.9c3-1.5 5.8-2 8.9-3c3.1-1 6.4-2.1 9.5-3c3.1-0.8 5.9-1.5 8.9-2c3-0.5 5.9-0.5 8.9-1c3-0.5 5.9-1.6 8.9-2c3-0.4 6.3-0.4 9.3-0.6c3-0.2 5.9-0.3 8.9-0.4M1704.6,1449.2c3.1 4.2 6.3 8.2 9.3 12.5c3 4.3 5.9 8.9 8.9 13.3c3 4.4 5.9 8.6 8.9 12.9c3 4.3 5.9 8.3 8.9 12.9c3 4.6 6.4 10.9 8.9 14.9c2.5 4 4 5.9 5.9 8.9M1787.1,1524.5c2.5-2.3 4.8-4.3 7.5-6.9c2.7-2.6 5.9-6.1 8.9-8.9c3-2.8 6.3-5.3 9.3-7.9c3-2.6 5.9-5.8 8.9-7.9c3-2.1 5.9-3.9 8.9-5c3-1.1 5.9-1.7 8.9-1.6c3 0.2 5.8 1.7 8.9 2.6c3.1 0.9 6.4 2.1 9.5 3c3.1 0.8 6 1.5 8.9 2c2.9 0.5 5.8 0.8 8.7 1c2.9 0.2 5.9-0.1 8.5 0c2.6 0.1 4.9 0.4 7.3 0.6c2.5 0.2 5 0.4 7.5 0.8c2.6 0.4 5.3 0.8 7.9 1.6c2.6 0.8 5.3 1.8 7.9 3c2.6 1.2 5.3 2.5 7.9 4c2.6 1.5 5.3 3.3 7.9 5c2.6 1.7 5 3.5 7.5 5c2.6 1.5 5 2.3 7.9 4c2.9 1.7 6.2 4 9.3 5.9M1828.7,1524.5c3.6-4 7.6-8.6 10.9-11.9c3.3-3.3 5.8-5.6 8.9-7.9c3.1-2.3 6.4-4.4 9.5-5.9c3.1-1.6 6-2.7 8.9-3.4c2.9-0.7 5.8-0.4 8.7-0.6M1844.6,1524.5c4.5-2.4 9.7-6.1 13.5-7.3c3.7-1.2 6-0.7 8.9 0c2.9 0.7 5.8 4 8.7 4c2.9 0 5.9-3.2 8.5-4c2.6-0.8 4.9-0.9 7.3-0.6c2.5 0.3 5.1 1.3 7.5 2.6c2.4 1.3 4.6 3.6 6.9 5.3M2023.4,1341.3c2.1 2.3 4.1 4.5 6.3 6.9c2.2 2.5 4.3 4.8 6.9 7.9c2.6 3.1 6.1 7.6 8.9 10.9c2.8 3.3 5.4 6.1 7.9 8.9c2.5 2.8 4.6 5.3 6.9 7.9c2.3 2.6 4.8 5.4 6.9 7.9c2.1 2.5 4 4.3 5.9 6.9c2 2.6 4 6.1 5.9 8.9c2 2.8 4 5.3 5.9 7.9c2 2.6 4 5.3 5.9 7.9c2 2.6 3.8 5.1 5.9 7.9c2.1 2.8 4.9 6.3 6.9 8.9c2.1 2.6 3.7 4.6 5.5 6.9M2023.4,1418.9c2.1-2.6 4.1-5.4 6.3-7.9c2.2-2.5 4.3-4.8 6.9-7.3c2.6-2.5 6.1-5.4 8.9-7.9c2.8-2.5 5.4-5 7.9-6.9c2.5-2 4.6-3.1 6.9-5c2.3-1.8 4.8-4.1 6.9-5.9c2.1-1.8 4-3.3 5.9-5c2-1.7 4-3.5 5.9-5c2-1.5 4-2.6 5.9-4c2-1.3 4-2.8 5.9-4c2-1.2 3.8-2 5.9-3c2.1-1 4.9-2.1 6.9-3c2.1-0.8 3.7-1.3 5.5-2M2023.4,1418.9c2.1 2.2 4.1 4.3 6.3 6.5c2.2 2.2 4.3 4.3 6.9 6.9c2.6 2.6 6.1 5.9 8.9 8.9c2.8 3 5.4 6.3 7.9 8.9c2.5 2.6 4.6 4.5 6.9 6.9c2.3 2.5 4.8 5.8 6.9 7.9c2.1 2.1 4 3.1 5.9 5c2 1.8 4 3.8 5.9 5.9c2 2.1 4 4.3 5.9 6.9c2 2.6 4 5.9 5.9 8.9c2 3 3.8 6.1 5.9 8.9c2.1 2.8 4.9 5.8 6.9 7.9c2.1 2.1 3.7 3.3 5.5 5M2036.6,1524.5c3-3.6 6.1-7.8 8.9-10.9c2.8-3.1 5.4-5.3 7.9-7.9c2.5-2.6 4.6-5.3 6.9-7.9c2.3-2.6 4.8-5.4 6.9-7.9c2.1-2.5 4-4.6 5.9-6.9c2-2.3 4-4.5 5.9-6.9c2-2.5 4-5.6 5.9-7.9c2-2.3 4-4.1 5.9-5.9c2-1.8 3.8-3.3 5.9-5c2.1-1.7 4.9-3.3 6.9-5c2.1-1.7 3.7-3.3 5.5-5M2023.4,1303.7c2.1 1 4.1 2 6.3 3c2.2 1 4.3 2 6.9 3c2.6 1 6.1 2 8.9 3c2.8 0.9 5.4 1.9 7.9 2.6c2.5 0.7 4.6 1.1 6.9 1.4c2.3 0.3 4.8 0.4 6.9 0.6c2.1 0.2 4 0.3 5.9 0.4c2 0.1 4 0.3 5.9 0.4c2 0.1 4 0 5.9 0c2 0 4 0.1 5.9 0.2c2 0.1 3.8 0.2 5.9 0.4c2.1 0.2 4.9 0.4 6.9 0.6c2.1 0.2 3.7 0.3 5.5 0.4M2023.4,1341.3c2.1-2.6 4.1-5.4 6.3-7.9c2.2-2.5 4.3-4.3 6.9-6.9c2.6-2.6 6.1-6.1 8.9-8.9c2.8-2.8 5.4-5.3 7.9-7.9c2.5-2.6 4.6-5.6 6.9-7.9c2.3-2.3 4.8-4 6.9-5.9c2.1-2 4-4.1 5.9-5.9c2-1.8 4-3.3 5.9-5c2-1.7 4-3.5 5.9-5c2-1.5 4-3 5.9-4c2-1 3.8-1.5 5.9-2c2.1-0.5 4.9-0.7 6.9-1c2.1-0.3 3.7-0.7 5.5-1M2032.7,1269.0c2.6 2.3 5.3 4.8 7.9 6.9c2.6 2.1 5.3 3.8 7.9 5.9c2.6 2.1 5.3 4.5 7.9 6.9c2.6 2.5 5.3 5.6 7.9 7.9c2.6 2.3 5.3 4.1 7.9 5.9c2.6 1.8 5.3 3.3 7.9 5c2.6 1.7 5.3 3.5 7.9 5c2.6 1.5 5.3 2.9 7.9 4c2.6 1.1 5.7 1.9 7.9 2.6c2.2 0.7 3.7 0.9 5.5 1.4M2040.6,1269.0c2.6 3 5.3 5.9 7.9 8.9c2.6 3 5.3 6.1 7.9 8.9c2.6 2.8 5.3 5.4 7.9 7.9c2.6 2.5 5.3 4.6 7.9 6.9c2.6 2.3 5.3 4.8 7.9 6.9c2.6 2.1 5.3 4.5 7.9 5.9c2.6 1.5 5.3 2.1 7.9 3c2.6 0.9 5.7 1.7 7.9 2.4c2.2 0.7 3.7 1.3 5.5 2M1967.3,1271.0c3.3 3.6 6.9 7.9 9.9 10.9c3 3 5.3 4.8 7.9 6.9c2.6 2.1 5.3 4.1 7.9 5.9c2.6 1.8 5.3 3.6 7.9 5c2.6 1.3 5.3 2.2 7.9 3c2.6 0.7 5.5 1.2 7.9 1.4c2.4 0.2 4.4-0.3 6.5-0.4" fill="none" stroke="#ff0000" stroke-width="3" stroke-linejoin="round"/>
<path d="M1704.7,1248.0 1713.7,1244.1 1722.7,1239.2 1731.7,1233.2 1740.7,1226.2 1749.7,1219.2 1758.7,1211.1 1767.7,1202.2 1776.7,1194.7 1785.7,1186.7 1794.6,1178.7 1803.6,1170.7 1812.6,1161.1 1821.6,1152.1 1830.6,1143.1 1839.6,1135.1 1848.6,1127.1 1857.6,1118.7 1866.6,1109.7 1875.6,1099.6M1704.7,1249.9 1713.7,1245.1 1722.7,1241.7 1731.7,1238.1 1740.7,1235.1 1749.7,1230.1 1758.7,1224.1 1767.7,1217.1 1776.7,1210.5 1785.7,1202.6 1794.6,1195.5 1803.6,1188.6 1812.6,1181.9 1821.6,1174.9 1830.6,1166.9 1839.6,1157.9 1848.6,1149.9 1857.6,1143.4 1866.6,1135.4 1875.6,1129.2M1704.7,1248.1 1713.7,1251.9 1722.7,1253.9 1731.7,1255.0 1740.7,1253.9 1749.7,1251.5 1758.7,1247.9 1767.7,1243.5 1776.7,1239.2 1785.7,1232.3 1794.6,1224.3 1803.6,1218.3 1812.6,1214.5 1821.6,1210.1 1830.6,1208.4 1839.6,1208.4 1848.6,1208.4 1857.6,1207.5 1866.6,1206.5 1875.6,1206.4M1704.7,1246.1 1713.7,1249.6 1722.7,1251.6 1731.7,1252.4 1740.7,1251.6 1749.7,1249.0 1758.7,1246.0M1704.7,1242.0 1713.7,1240.1 1722.7,1237.2 1731.7,1234.2 1740.7,1230.2 1749.7,1226.2 1758.7,1222.2 1767.7,1220.2 1776.7,1219.3 1785.7,1218.3 1794.6,1218.3 1803.6,1218.7 1812.6,1219.3 1821.6,1219.3 1830.6,1219.3 1839.6,1219.3 1848.6,1219.3 1857.6,1219.3 1866.6,1219.3 1875.6,1219.3 1884.3,1219.3 1893.0,1219.3 1901.7,1219.5 1910.4,1220.1 1919.1,1220.5 1927.8,1221.0 1936.5,1222.0 1945.2,1223.7 1953.9,1225.8 1962.6,1227.4 1971.3,1230.8 1980.0,1234.2 1988.7,1237.5 1997.4,1240.6 2006.1,1243.3 2014.8,1245.6 2023.5,1247.0M1704.7,1196.5 1713.7,1197.5 1722.7,1198.9 1731.7,1201.5 1740.7,1204.5 1749.7,1207.5 1758.7,1211.5 1767.7,1213.4 1776.7,1214.7 1785.7,1215.9 1794.6,1215.3 1803.6,1213.3 1812.6,1209.5 1821.6,1206.5 1830.6,1206.4 1839.6,1208.4 1848.6,1209.4 1857.6,1208.5 1866.6,1206.5 1875.6,1204.5M1749.7,1291.7 1758.7,1283.4 1767.7,1275.5 1776.7,1268.0 1785.7,1260.0 1794.6,1248.0 1803.6,1236.0 1812.6,1224.5 1821.6,1214.5 1830.6,1206.5 1839.6,1198.5 1848.6,1192.5 1857.6,1188.7 1866.6,1186.6 1875.6,1188.6M1758.7,1294.2 1767.7,1284.3 1776.7,1275.9 1785.7,1267.9 1794.6,1259.9 1803.6,1249.9 1812.6,1239.4 1821.6,1228.4 1830.6,1218.4 1839.6,1208.4 1848.6,1200.4 1857.6,1195.7 1866.6,1195.5 1875.6,1196.5M1704.7,1172.8 1713.7,1175.7 1722.7,1177.7 1731.7,1178.7 1740.7,1177.7 1749.7,1175.7 1758.7,1172.7 1767.7,1168.7 1776.7,1164.9 1785.7,1168.8 1794.6,1176.7 1803.6,1184.7 1812.6,1188.6 1821.6,1186.7 1830.6,1182.7 1839.6,1178.7 1848.6,1177.7 1857.6,1178.5 1866.6,1188.3 1875.6,1196.5M1704.7,1168.8 1713.7,1164.9 1722.7,1158.0 1731.7,1150.0 1740.7,1142.0 1749.7,1134.0 1758.7,1126.0 1767.7,1118.1 1776.7,1113.4 1785.7,1115.3 1794.6,1119.3 1803.6,1124.3 1812.6,1129.1 1821.6,1137.0 1830.6,1143.0 1839.6,1145.0 1848.6,1143.0 1857.6,1139.3 1866.6,1133.4 1875.6,1129.2M1704.7,1073.8 1713.7,1077.6 1722.7,1086.5 1731.7,1097.5 1740.7,1108.5 1749.7,1120.5 1758.7,1133.5 1767.7,1145.5 1776.7,1156.7 1785.7,1164.8 1794.6,1168.8 1803.6,1166.8 1812.6,1161.1 1821.6,1153.1 1830.6,1145.1 1839.6,1141.1 1848.6,1145.1 1857.6,1148.9 1866.6,1150.0 1875.6,1149.0M1704.7,1071.8 1713.7,1075.6 1722.7,1082.6 1731.7,1089.6 1740.7,1094.6 1749.7,1097.6 1758.7,1101.6 1767.7,1105.6 1776.7,1109.3 1785.7,1112.3 1794.6,1116.3 1803.6,1121.3 1812.6,1127.1 1821.6,1133.1 1830.6,1137.1 1839.6,1139.1 1848.6,1135.1 1857.6,1128.6 1866.6,1115.9 1875.6,1099.6M1722.7,1061.8 1731.7,1069.8 1740.7,1077.8 1749.7,1085.8 1758.7,1092.8 1767.7,1098.7 1776.7,1101.5 1785.7,1100.5 1794.6,1098.5 1803.6,1096.5 1812.6,1096.5 1821.6,1097.5 1830.6,1099.5 1839.6,1100.5 1848.6,1099.5 1857.6,1097.6 1866.6,1094.7 1875.6,1092.6M1731.7,1056.5 1740.7,1065.9 1749.7,1073.9 1758.7,1081.9 1767.7,1089.9 1776.7,1096.4 1785.7,1103.4 1794.6,1109.4 1803.6,1115.4 1812.6,1121.1 1821.6,1126.2 1830.6,1129.2 1839.6,1131.2 1848.6,1129.2 1857.6,1125.5 1866.6,1119.6 1875.6,1109.5M1767.7,1066.1 1776.7,1071.7 1785.7,1075.7 1794.6,1078.7 1803.6,1080.7 1812.6,1081.7 1821.6,1081.7 1830.6,1080.7 1839.6,1079.7 1848.6,1079.3 1857.6,1080.6 1866.6,1083.5 1875.6,1089.6M1785.7,1061.8 1794.6,1067.8 1803.6,1071.8 1812.6,1073.7 1821.6,1072.8 1830.6,1071.8 1839.6,1070.8 1848.6,1069.8 1857.6,1067.0 1866.6,1062.1 1875.6,1057.9M1794.6,1060.9 1803.6,1065.9 1812.6,1067.8 1821.6,1066.9 1830.6,1064.9 1839.6,1063.9 1848.6,1064.8 1857.6,1062.0 1866.6,1059.0M1812.6,1062.7 1821.6,1071.6 1830.6,1083.6 1839.6,1095.6 1848.6,1109.5 1857.6,1120.8 1866.6,1132.7 1875.6,1148.9M1767.7,1074.3 1776.7,1085.4 1785.7,1095.4 1794.6,1107.4 1803.6,1119.4 1812.6,1130.9 1821.6,1142.9 1830.6,1152.9 1839.6,1160.9 1848.6,1168.9 1857.6,1176.4 1866.6,1184.3 1875.6,1196.5M1704.7,1263.9 1713.7,1265.8 1722.7,1269.8 1731.7,1273.8 1740.7,1277.8 1749.7,1281.8 1758.7,1285.8M1821.6,1059.8 1830.6,1070.7 1839.6,1082.2 1848.6,1090.8 1857.6,1090.1 1866.6,1082.0 1875.6,1073.8 1884.3,1067.7 1893.0,1060.6M1875.6,1099.5 1884.3,1107.6 1893.0,1117.0 1901.7,1125.5 1910.4,1131.1 1919.1,1135.3 1927.8,1139.6 1936.5,1144.2 1945.2,1147.7 1953.9,1150.9 1962.6,1153.1 1971.3,1155.4 1980.0,1157.4 1988.7,1158.4 1997.4,1159.5 2006.1,1160.5 2014.8,1161.6 2023.5,1162.9M1875.6,1149.0 1884.3,1154.1 1893.0,1161.0 1901.7,1166.3 1910.4,1170.2 1919.1,1173.4 1927.8,1176.7 1936.5,1179.3 1945.2,1180.6 1953.9,1181.7 1962.6,1181.7 1971.3,1180.9 1980.0,1179.1 1988.7,1176.5 1997.4,1173.1 2006.1,1169.9 2014.8,1166.6 2023.5,1162.9M1875.6,1099.5 1884.3,1095.5 1893.0,1088.4 1901.7,1081.6 1910.4,1075.1 1919.1,1069.1 1927.8,1063.6 1936.5,1058.8M1875.6,1092.6 1884.3,1088.6 1893.0,1087.8 1901.7,1091.0 1910.4,1097.9 1919.1,1106.3 1927.8,1113.2 1936.5,1120.1 1945.2,1124.8 1953.9,1128.2 1962.6,1131.4 1971.3,1134.8 1980.0,1138.5 1988.7,1142.8 1997.4,1147.7 2006.1,1153.3 2014.8,1157.9 2023.5,1162.9M1875.6,1149.0 1884.3,1143.0 1893.0,1136.1 1901.7,1132.5 1910.4,1133.1 1919.1,1137.8 1927.8,1142.3 1936.5,1142.6 1945.2,1138.7 1953.9,1133.3 1962.6,1127.8 1971.3,1122.2 1980.0,1116.3 1988.7,1109.4 1997.4,1101.2 2006.1,1092.1 2014.8,1086.0 2023.5,1089.6M1875.6,1196.5 1884.3,1194.5 1893.0,1192.2 1901.7,1190.2 1910.4,1189.2 1919.1,1187.7 1927.8,1184.4 1936.5,1178.2 1945.2,1170.7 1953.9,1161.1 1962.6,1150.2 1971.3,1137.8 1980.0,1125.1 1988.7,1111.7 1997.4,1096.4 2006.1,1080.2 2014.8,1069.5 2023.5,1063.8M1875.6,1204.5 1884.3,1202.4 1893.0,1199.8 1901.7,1195.2 1910.4,1189.9 1919.1,1195.2 1927.8,1209.9 1936.5,1225.2 1945.2,1238.6 1953.9,1253.7 1962.6,1264.6 1971.3,1273.5 1980.0,1282.5 1988.7,1292.1M1875.6,1206.4 1884.3,1210.5 1893.0,1217.5 1901.7,1224.4 1910.4,1230.5 1919.1,1235.4 1927.8,1239.0 1936.5,1242.4 1945.2,1245.7 1953.9,1249.0 1962.6,1250.5 1971.3,1251.0 1980.0,1251.0 1988.7,1250.6 1997.4,1249.5 2006.1,1247.7 2014.8,1246.3 2023.5,1245.0M1875.6,1219.3 1884.3,1222.3 1893.0,1225.9 1901.7,1229.2 1910.4,1232.9 1919.1,1237.3 1927.8,1241.0 1936.5,1244.4 1945.2,1246.8 1953.9,1249.0 1962.6,1251.1 1971.3,1252.1 1980.0,1252.4 1988.7,1252.3 1997.4,1251.5 2006.1,1249.8 2014.8,1247.5 2023.5,1246.0M1875.6,1057.9 1884.3,1062.0 1893.0,1066.6 1901.7,1071.1 1910.4,1075.9 1919.1,1081.0 1927.8,1084.7 1936.5,1087.2 1945.2,1089.4 1953.9,1091.6 1962.6,1092.6 1971.3,1092.4 1980.0,1091.2 1988.7,1090.1 1997.4,1089.5 2006.1,1089.6 2014.8,1089.6 2023.5,1089.6M1901.7,1059.5 1910.4,1063.6 1919.1,1068.0 1927.8,1072.4 1936.5,1076.1 1945.2,1079.4 1953.9,1081.6 1962.6,1083.8 1971.3,1084.9 1980.0,1086.0 1988.7,1087.1 1997.4,1088.2 2006.1,1088.6 2014.8,1089.0 2023.5,1089.6M1936.5,1156.6 1945.2,1149.6 1953.9,1145.1 1962.6,1143.0 1971.3,1144.6 1980.0,1148.1 1988.7,1151.4 1997.4,1154.1 2006.1,1156.2 2014.8,1158.4 2023.5,1160.9M1910.4,1139.5 1919.1,1148.8 1927.8,1157.9 1936.5,1168.5 1945.2,1180.5 1953.9,1190.4 1962.6,1200.2 1971.3,1209.0 1980.0,1216.6 1988.7,1222.2 1997.4,1226.4 2006.1,1230.7 2014.8,1235.8 2023.5,1241.1M1919.1,1194.3 1927.8,1203.1 1936.5,1212.7 1945.2,1219.7 1953.9,1224.2 1962.6,1227.4 1971.3,1229.6 1980.0,1231.9 1988.7,1234.0 1997.4,1236.7 2006.1,1240.0 2014.8,1243.3 2023.5,1246.0M1953.9,1242.3 1962.6,1236.3 1971.3,1229.7 1980.0,1223.3 1988.7,1214.8 1997.4,1203.9 2006.1,1190.9 2014.8,1177.8 2023.5,1163.9M1927.8,1212.0 1936.5,1225.5 1945.2,1238.7 1953.9,1251.7 1962.6,1263.7 1971.3,1275.6 1980.0,1285.4M1953.9,1061.8 1962.6,1066.2 1971.3,1070.6 1980.0,1075.8 1988.7,1082.1 1997.4,1086.5 2006.1,1089.0 2014.8,1090.5 2023.5,1089.6M1962.6,1061.0 1971.3,1074.0 1980.0,1078.7 1988.7,1070.2 1997.4,1062.4 2006.1,1057.0M2023.5,1089.8 2032.1,1100.3 2040.7,1110.5 2049.3,1121.5 2057.9,1130.7 2066.6,1140.4 2075.2,1142.0 2083.8,1128.1 2092.4,1110.4 2101.0,1091.7 2109.6,1071.8M2023.5,1089.4 2032.1,1076.6 2040.7,1068.3 2049.3,1064.2 2057.9,1065.0 2066.6,1068.5 2075.2,1069.9 2083.8,1069.5 2092.4,1068.8 2101.0,1069.3 2109.6,1071.8M2023.5,1162.6 2032.1,1146.2 2040.7,1129.9 2049.3,1114.8 2057.9,1101.4 2066.6,1085.2 2075.2,1067.9M2023.5,1163.0 2032.1,1173.7 2040.7,1182.0 2049.3,1185.8 2057.9,1169.7 2066.6,1154.0 2075.2,1150.5 2083.8,1156.7 2092.4,1163.8 2101.0,1169.1 2109.6,1173.8M2023.5,1246.1 2032.1,1248.5 2040.7,1249.4 2049.3,1249.6 2057.9,1249.6 2066.6,1249.6 2075.2,1249.6 2083.8,1249.6 2092.4,1249.6 2101.0,1249.3 2109.6,1248.0M2023.5,1245.8 2032.1,1231.7 2040.7,1222.5 2049.3,1214.9 2057.9,1209.5 2066.6,1205.8 2075.2,1201.8 2083.8,1199.3 2092.4,1197.3 2101.0,1196.7 2109.6,1196.1M2023.5,1244.6 2032.1,1219.2 2040.7,1207.6 2049.3,1202.4 2057.9,1206.0 2066.6,1217.2 2075.2,1228.3 2083.8,1236.9 2092.4,1242.8 2101.0,1246.3 2109.6,1248.0M2023.5,1246.1 2032.1,1246.0 2040.7,1235.0 2049.3,1224.2 2057.9,1213.3 2066.6,1205.0 2075.2,1199.0 2083.8,1192.5 2092.4,1185.7 2101.0,1179.9 2109.6,1173.8M2023.5,1163.1 2032.1,1176.9 2040.7,1191.0 2049.3,1202.6 2057.9,1213.3 2066.6,1223.4 2075.2,1231.9 2083.8,1238.3 2092.4,1242.7 2101.0,1245.4 2109.6,1247.0M2023.5,1266.8 2032.1,1264.4 2040.7,1263.6 2049.3,1263.4 2057.9,1263.5 2066.6,1263.5 2075.2,1263.6 2083.8,1263.9 2092.4,1263.9 2101.0,1263.9 2109.6,1263.9M1980.0,1292.2 1988.7,1282.1 1997.4,1275.5 2006.1,1270.2 2014.8,1267.3 2023.5,1266.8M2023.5,1266.9 2032.1,1272.5 2040.7,1278.8 2049.3,1285.1 2057.9,1293.0M2049.3,1294.7 2057.9,1286.0 2066.6,1279.2 2075.2,1273.5 2083.8,1268.4 2092.4,1265.7 2101.0,1265.1 2109.6,1264.5M2023.5,1063.8 2032.1,1061.5 2040.7,1060.4 2049.3,1058.8 2057.9,1056.6M2066.6,1058.4 2075.2,1068.6 2083.8,1073.5 2092.4,1068.4 2101.0,1069.1 2109.6,1071.8M1704.7,1351.2 1713.7,1354.7 1722.7,1359.1 1731.7,1364.7 1740.7,1371.1 1749.7,1378.0 1758.7,1384.6 1767.7,1391.4 1776.7,1398.2 1785.7,1405.0 1794.6,1411.0 1803.6,1414.2 1812.6,1414.2 1821.6,1412.6 1830.6,1411.0 1839.6,1410.6 1848.6,1412.2 1857.6,1416.0 1866.6,1419.4 1875.6,1422.5 1884.3,1420.4 1893.0,1415.5 1901.7,1409.1 1910.4,1403.8 1919.1,1400.1 1927.8,1393.7 1936.5,1385.8 1945.2,1379.5 1953.9,1374.1 1962.6,1368.0 1971.3,1362.0 1980.0,1356.3 1988.7,1351.3 1997.4,1347.1 2006.1,1344.3 2014.8,1342.1 2023.5,1341.3M1875.6,1422.5 1884.3,1419.4 1893.0,1410.1 1901.7,1402.2 1910.4,1395.7 1919.1,1392.1 1927.8,1389.0 1936.5,1384.3M1704.7,1274.4 1713.7,1276.9 1722.7,1280.9 1731.7,1285.4 1740.7,1289.8 1749.7,1294.3 1758.7,1299.4 1767.7,1303.8 1776.7,1306.0 1785.7,1308.0 1794.6,1312.0 1803.6,1317.2 1812.6,1322.9 1821.6,1329.3 1830.6,1336.3 1839.6,1342.9 1848.6,1349.7 1857.6,1355.9 1866.6,1361.9 1875.6,1366.6 1884.3,1363.0 1893.0,1357.7 1901.7,1351.0 1910.4,1344.2 1919.1,1337.4 1927.8,1330.6 1936.5,1323.4 1945.2,1316.3 1953.9,1309.3 1962.6,1302.1 1971.3,1294.4 1980.0,1287.8 1988.7,1281.8 1997.4,1276.3 2006.1,1272.2 2014.8,1268.1M1704.7,1276.4 1713.7,1280.8 1722.7,1284.8 1731.7,1289.8 1740.7,1294.2 1749.7,1299.8 1758.7,1306.8 1767.7,1312.8 1776.7,1320.3 1785.7,1329.3 1794.6,1339.3 1803.6,1349.3 1812.6,1358.9 1821.6,1367.9 1830.6,1372.0 1839.6,1374.0 1848.6,1375.4 1857.6,1375.0 1866.6,1372.1 1875.6,1366.6 1884.3,1372.1 1893.0,1375.3 1901.7,1375.6 1910.4,1372.2 1919.1,1365.0 1927.8,1355.9 1936.5,1345.7 1945.2,1335.4 1953.9,1325.6 1962.6,1315.9 1971.3,1307.1 1980.0,1299.4 1988.7,1292.8 1997.4,1287.1 2006.1,1281.0 2014.8,1275.1 2023.5,1271.0M1704.7,1318.5 1713.7,1317.6 1722.7,1315.2 1731.7,1312.0 1740.7,1308.6 1749.7,1304.5 1758.7,1294.5 1767.7,1284.5 1776.7,1277.1M1704.7,1320.5 1713.7,1319.1 1722.7,1316.6 1731.7,1313.2 1740.7,1309.6 1749.7,1306.5 1758.7,1300.5 1767.7,1293.6 1776.7,1288.9 1785.7,1283.9 1794.6,1277.9 1803.6,1271.0M1704.7,1322.4 1713.7,1320.7 1722.7,1318.3 1731.7,1315.1 1740.7,1311.2 1749.7,1308.0 1758.7,1305.2 1767.7,1305.7 1776.7,1309.5 1785.7,1312.5M1704.7,1446.2 1713.7,1442.3 1722.7,1438.4 1731.7,1434.8 1740.7,1432.0 1749.7,1430.0 1758.7,1428.4 1767.7,1427.4 1776.7,1426.5 1785.7,1425.1 1794.6,1422.5 1803.6,1422.1 1812.6,1426.3 1821.6,1430.7 1830.6,1432.8 1839.6,1433.4 1848.6,1433.4 1857.6,1432.8 1866.6,1432.4 1875.6,1434.0 1884.3,1431.4 1893.0,1432.5 1901.7,1432.7 1910.4,1432.0 1919.1,1430.7 1927.8,1428.7 1936.5,1426.8 1945.2,1425.0 1953.9,1423.5 1962.6,1422.0 1971.3,1420.6 1980.0,1419.1 1988.7,1418.3 1997.4,1418.1 2006.1,1418.1 2014.8,1418.4 2023.5,1418.9M1704.7,1448.1 1713.7,1443.9 1722.7,1439.9 1731.7,1436.7 1740.7,1433.9 1749.7,1432.0 1758.7,1430.8 1767.7,1431.4 1776.7,1432.4 1785.7,1432.8 1794.6,1433.4 1803.6,1434.0 1812.6,1435.9 1821.6,1438.3 1830.6,1441.3 1839.6,1445.3 1848.6,1449.2 1857.6,1450.7 1866.6,1442.6 1875.6,1434.0 1884.3,1442.4 1893.0,1451.7 1901.7,1459.4 1910.4,1466.4 1919.1,1474.2 1927.8,1482.4 1936.5,1490.0 1945.2,1496.6 1953.9,1503.1 1962.6,1509.7 1971.3,1516.6M1821.6,1475.9 1830.6,1476.3 1839.6,1476.9 1848.6,1476.3 1857.6,1475.0 1866.6,1472.1 1875.6,1466.1 1884.3,1461.0 1893.0,1455.2 1901.7,1451.4 1910.4,1450.4 1919.1,1451.3 1927.8,1453.4 1936.5,1455.6 1945.2,1459.5 1953.9,1465.9 1962.6,1472.4 1971.3,1479.3 1980.0,1487.6 1988.7,1496.3 1997.4,1505.0 2006.1,1513.7 2014.8,1522.4M1830.6,1473.0 1839.6,1469.0 1848.6,1462.0 1857.6,1456.6 1866.6,1459.9 1875.6,1466.0 1884.3,1471.1 1893.0,1474.3 1901.7,1474.4 1910.4,1472.0 1919.1,1475.2 1927.8,1483.4 1936.5,1490.5 1945.2,1497.0 1953.9,1503.5 1962.6,1510.1 1971.3,1517.0M1893.0,1453.7 1901.7,1450.9 1910.4,1448.5 1919.1,1449.6 1927.8,1453.3 1936.5,1454.5 1945.2,1449.8 1953.9,1444.4 1962.6,1439.6 1971.3,1435.2 1980.0,1431.3 1988.7,1428.1 1997.4,1424.8 2006.1,1421.7 2014.8,1419.8 2023.5,1418.9M1704.7,1511.5 1713.7,1507.7 1722.7,1502.7 1731.7,1497.7 1740.7,1495.7 1749.7,1489.7 1758.7,1484.7 1767.7,1480.8 1776.7,1478.0 1785.7,1476.0 1794.6,1474.4 1803.6,1473.6 1812.6,1473.6 1821.6,1474.0 1830.6,1473.6M1704.7,1518.5 1713.7,1515.2 1722.7,1509.7 1731.7,1504.7 1740.7,1500.6 1749.7,1493.6 1758.7,1487.7 1767.7,1484.7 1776.7,1481.9 1785.7,1479.9 1794.6,1478.9 1803.6,1476.9 1812.6,1476.3 1821.6,1475.9M1704.7,1449.4 1713.7,1461.5 1722.7,1474.8 1731.7,1487.8 1740.7,1500.8 1749.7,1515.8M1794.6,1517.5 1803.6,1508.5 1812.6,1500.9 1821.6,1492.9 1830.6,1487.8 1839.6,1486.2 1848.6,1488.8 1857.6,1491.7 1866.6,1493.7 1875.6,1494.7 1884.3,1494.8 1893.0,1495.5 1901.7,1496.6 1910.4,1498.9 1919.1,1502.7 1927.8,1507.7 1936.5,1513.5 1945.2,1518.0 1953.9,1523.5M1830.6,1522.3 1839.6,1512.6 1848.6,1504.6 1857.6,1498.9 1866.6,1495.4 1875.6,1494.8M1848.6,1522.1 1857.6,1517.3 1866.6,1517.1 1875.6,1521.1 1884.3,1517.1 1893.0,1516.8 1901.7,1520.9M2023.5,1341.4 2032.1,1350.9 2040.7,1361.1 2049.3,1371.3 2057.9,1381.0 2066.6,1390.9 2075.2,1401.4 2083.8,1413.7 2092.4,1425.2 2101.0,1436.5 2109.6,1447.2M2023.5,1418.7 2032.1,1408.3 2040.7,1399.9 2049.3,1392.4 2057.9,1385.6 2066.6,1378.6 2075.2,1371.4 2083.8,1365.0 2092.4,1359.4 2101.0,1355.4 2109.6,1352.2M2023.5,1419.0 2032.1,1427.9 2040.7,1436.4 2049.3,1445.5 2057.9,1454.6 2066.6,1464.2 2075.2,1471.8 2083.8,1481.1 2092.4,1493.8 2101.0,1505.4 2109.6,1513.6M2040.7,1519.4 2049.3,1509.7 2057.9,1500.6 2066.6,1490.7 2075.2,1480.7 2083.8,1469.7 2092.4,1460.9 2101.0,1454.3 2109.6,1447.2M2023.5,1303.7 2032.1,1307.7 2040.7,1311.0 2049.3,1313.9 2057.9,1316.1 2066.6,1317.1 2075.2,1317.7 2083.8,1317.9 2092.4,1318.2 2101.0,1318.9 2109.6,1319.5M2023.5,1341.1 2032.1,1330.8 2040.7,1322.3 2049.3,1313.8 2057.9,1304.4 2066.6,1296.4 2075.2,1288.2 2083.8,1281.0 2092.4,1275.4 2101.0,1273.3 2109.6,1272.0M2040.7,1276.0 2049.3,1282.5 2057.9,1290.3 2066.6,1298.5 2075.2,1304.5 2083.8,1309.9 2092.4,1314.9 2101.0,1318.2 2109.6,1320.5M2040.7,1269.2 2049.3,1278.8 2057.9,1288.4 2066.6,1296.7 2075.2,1304.2 2083.8,1311.5 2092.4,1316.4 2101.0,1319.0 2109.6,1321.9M1971.3,1275.4 1980.0,1284.5 1988.7,1291.6 1997.4,1297.6 2006.1,1301.8 2014.8,1303.9 2023.5,1303.7" fill="none" stroke="none" marker-start="url(#mdot)" marker-mid="url(#mdot)" marker-end="url(#mdot)"/>
</g>
<rect x="1704.7" y="1056.6" width="404.9" height="465.6" fill="none" stroke="#222" stroke-width="1.5"/>
<line x1="1692.7" y1="1445" x2="1704.7" y2="1445" stroke="#222" stroke-width="1.5"/>
<text x="1683.2" y="1454.2" font-size="27" text-anchor="end">−0.2</text>
<line x1="1692.7" y1="1358.6" x2="1704.7" y2="1358.6" stroke="#222" stroke-width="1.5"/>
<text x="1683.2" y="1367.8" font-size="27" text-anchor="end">−0.1</text>
<line x1="1692.7" y1="1272.2" x2="1704.7" y2="1272.2" stroke="#222" stroke-width="1.5"/>
<text x="1683.2" y="1281.4" font-size="27" text-anchor="end">0</text>
<line x1="1692.7" y1="1185.8" x2="1704.7" y2="1185.8" stroke="#222" stroke-width="1.5"/>
<text x="1683.2" y="1195" font-size="27" text-anchor="end">0.1</text>
<line x1="1692.7" y1="1099.4" x2="1704.7" y2="1099.4" stroke="#222" stroke-width="1.5"/>
<text x="1683.2" y="1108.6" font-size="27" text-anchor="end">0.2</text>
<line x1="1704.7" y1="1522.2" x2="1704.7" y2="1534.2" stroke="#222" stroke-width="1.5"/>
<line x1="1875.6" y1="1522.2" x2="1875.6" y2="1534.2" stroke="#222" stroke-width="1.5"/>
<line x1="2023.5" y1="1522.2" x2="2023.5" y2="1534.2" stroke="#222" stroke-width="1.5"/>
<line x1="2109.6" y1="1522.2" x2="2109.6" y2="1534.2" stroke="#222" stroke-width="1.5"/>
<text x="1704.7" y="1564" font-size="27" text-anchor="middle">K</text>
<text x="1875.6" y="1564" font-size="27" text-anchor="middle" style='font-family:"Liberation Serif", "Times New Roman", serif'>Γ</text>
<text x="2023.5" y="1564" font-size="27" text-anchor="middle">M</text>
<text x="2111.6" y="1564" font-size="27" text-anchor="middle">K'</text>
<text x="1907.7" y="1034.4" font-size="27" text-anchor="middle">TBB: <tspan font-family='"Liberation Serif", "Times New Roman", serif' font-style="italic" font-size="28">θ</tspan> <tspan font-size="31" dy="1">≈</tspan><tspan dy="-1"> 7.34°</tspan>, <tspan font-style="italic">N</tspan><tspan font-size="19" dy="7">atom</tspan><tspan dy="-7"> = 244</tspan></text>
<line x1="437.3" y1="1604.4" x2="477.2" y2="1604.4" stroke="#ff0000" stroke-width="4"/>
<text x="488.1" y="1612.9" font-size="27">DFT</text>
<circle cx="603.2" cy="1604.1" r="3.2" fill="#0000ff"/>
<circle cx="618.3" cy="1604.1" r="3.2" fill="#0000ff"/>
<circle cx="632.9" cy="1604.1" r="3.2" fill="#0000ff"/>
<text x="650.8" y="1612.9" font-size="27">DeepH</text>
<line x1="1524.8" y1="1604.4" x2="1564.9" y2="1604.4" stroke="#ff0000" stroke-width="4"/>
<text x="1576.6" y="1612.9" font-size="27">DFT</text>
<circle cx="1683.6" cy="1604.1" r="3.2" fill="#0000ff"/>
<circle cx="1698.5" cy="1604.1" r="3.2" fill="#0000ff"/>
<circle cx="1712.9" cy="1604.1" r="3.2" fill="#0000ff"/>
<text x="1730.4" y="1612.9" font-size="27">DeepH</text>
</svg></body></html>
